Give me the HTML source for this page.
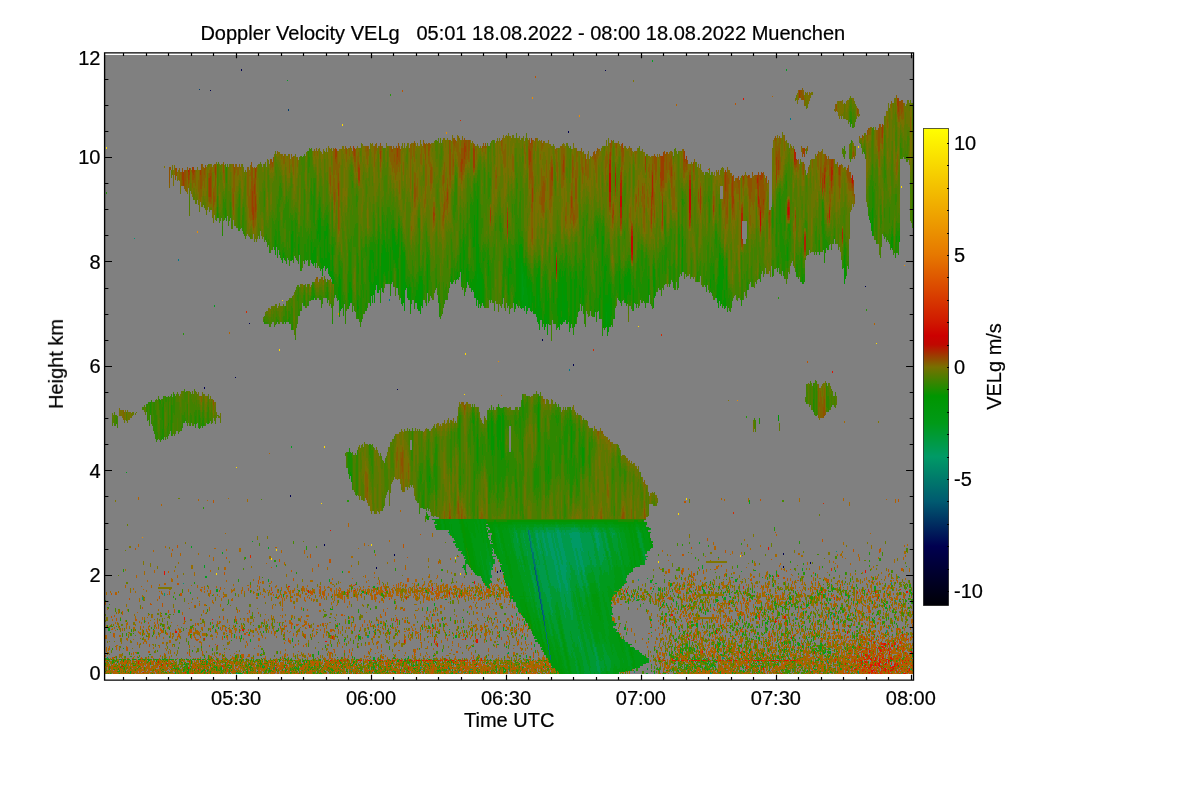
<!DOCTYPE html>
<html><head><meta charset="utf-8"><title>Doppler Velocity VELg</title>
<style>
html,body{margin:0;padding:0;background:#fff}
body{width:1200px;height:800px;overflow:hidden}
svg{display:block;font-family:"Liberation Sans",sans-serif;fill:#000}
</style></head><body>
<svg width="1200" height="800" viewBox="0 0 1200 800">
<rect width="1200" height="800" fill="#fff"/>
<rect x="105" y="55" width="808" height="619" fill="#808080"/>
<g shape-rendering="crispEdges">
<g fill="none" stroke-width="1">
<path stroke="#005a70" transform="translate(.5)" d="M534 567v3M535 570v5M536 575v6M537 581v5M538 586v6M539 592v7M540 599v5M541 604v6M542 610v5M543 615v6M544 621v5"/>
<path stroke="#00746c" transform="translate(.5)" d="M528 530v5M529 535v6M530 541v7M531 548v4M532 552v7M533 552v12M534 559v8M535 564v6M536 570v5M537 575v6M538 581v5M539 586v6M540 592v7M541 599v5M542 604v6M543 610v5M544 615v5M545 626v6M546 632v7M547 639v5M548 644v6M549 650v5M550 655v5"/>
<path stroke="#008769" transform="translate(.5)" d="M529 530v5M530 535v6M531 541v7M532 548v4"/>
<path stroke="#009a66" transform="translate(.5)" d="M536 533v5M537 533v10M538 538v2M538 543v5M539 548v1M540 551v3M542 532v6M543 533v10M544 538v10M545 543v8M546 548v8M547 532v6M547 551v5M548 532v11M549 533v15M550 533v18M551 538v18M552 543v16M553 533v5M553 548v12M554 538v5M554 551v14M555 543v5M555 556v14M556 532v1M556 548v3M556 560v4M556 565v10M557 530v8M557 548v8M557 565v15M558 530v13M558 551v9M558 570v2M558 575v8M559 532v16M559 556v9M559 580v8M560 533v18M560 560v10M560 583v9M561 538v18M561 564v11M562 543v17M562 565v15M563 548v35M564 533v2M564 551v33M565 556v32M566 560v2M566 565v2M566 570v2M566 580v11M567 583v8M567 592v2M569 533v2M570 533v5M571 533v5M571 540v3M572 532v16M573 532v19M574 532v24M575 532v16M575 551v9M576 532v16M576 556v9M577 532v19M577 560v10M578 532v24M578 565v2M578 570v5M579 533v27M580 538v10M580 551v14M581 543v8M581 556v11M582 548v3M582 560v10M583 551v1M583 565v10M584 570v2M584 575v1M595 532v6M596 532v11M597 533v15M598 533v2M598 538v13M599 543v3"/>
<path stroke="#009a4c" transform="translate(.5)" d="M515 532v1M516 533v5M517 538v5M523 533v5M524 538v2M524 541v2M525 544v2M526 548v1M527 532v1M527 551v5M528 535v3M529 541v2M530 533v2M530 565v5M531 538v3M531 552v2M531 570v5M532 538v2M532 543v5M532 575v5M533 544v8M533 575v8M534 532v1M534 548v11M534 580v8M535 530v8M535 551v8M535 560v2M535 583v3M535 588v4M536 530v3M536 538v5M536 546v2M536 556v4M536 565v3M537 530v3M537 543v8M537 560v8M538 533v5M538 540v3M538 548v8M538 560v4M538 565v5M539 532v16M539 549v11M539 565v10M540 530v10M540 543v8M540 554v26M541 530v13M541 548v35M542 530v2M542 538v10M542 551v3M542 556v32M543 530v3M543 543v8M543 560v4M543 565v27M544 533v5M544 548v8M544 565v27M545 532v11M545 551v9M545 570v24M546 528v20M546 556v9M546 575v22M547 528v4M547 538v13M547 556v14M547 580v22M548 530v2M548 543v32M548 583v3M548 588v14M549 530v3M549 548v32M549 588v19M550 530v3M550 551v32M550 594v2M550 597v13M551 530v8M551 556v30M551 597v2M551 607v8M552 530v13M552 559v27M552 610v3M552 615v1M553 530v3M553 538v10M553 560v26M554 532v6M554 543v8M554 565v23M555 528v15M555 548v8M555 570v19M556 528v4M556 533v15M556 551v9M556 564v1M556 575v17M557 528v2M557 538v10M557 556v9M557 580v8M558 528v2M558 543v8M558 560v10M558 572v3M558 583v8M559 530v2M559 548v8M559 565v15M559 588v4M560 530v3M560 551v9M560 570v13M560 592v5M561 532v6M561 556v8M561 575v27M562 530v13M562 560v5M562 580v27M563 530v18M563 583v27M564 530v3M564 535v16M564 584v10M564 597v18M565 532v24M565 588v9M565 602v2M565 610v2M565 615v3M566 530v30M566 562v3M566 567v3M566 572v8M566 591v11M567 530v53M567 591v1M567 594v13M568 530v78M569 530v3M569 535v27M569 565v13M569 580v30M570 530v3M570 538v27M570 570v3M570 575v5M570 588v3M570 592v23M571 528v5M571 538v2M571 543v22M571 602v18M572 528v4M572 548v20M572 607v1M572 610v10M573 528v4M573 551v19M574 527v5M574 556v14M575 528v4M575 548v3M575 560v15M576 528v4M576 548v8M576 565v10M577 528v4M577 551v9M577 570v10M578 530v2M578 556v9M578 567v3M578 575v8M578 636v3M579 530v3M579 560v26M579 639v3M580 532v6M580 548v3M580 565v7M580 575v13M580 642v5M581 532v11M581 551v5M581 567v3M581 580v9M581 647v3M582 533v15M582 551v9M582 570v5M582 583v3M582 588v3M583 533v18M583 552v13M583 575v5M584 532v38M584 572v3M584 576v7M585 532v35M585 575v8M586 533v34M586 580v8M587 532v33M587 583v3M588 532v19M588 556v9M589 532v24M589 560v5M590 533v24M590 559v1M591 536v24M592 540v25M593 532v3M593 543v22M593 644v3M594 528v10M594 541v2M594 551v3M594 556v11M594 647v5M595 528v4M595 538v5M595 556v1M595 559v8M595 647v9M596 530v2M596 543v5M596 564v1M596 652v8M596 661v5M597 530v3M597 548v3M597 656v15M598 532v1M598 535v3M598 551v5M598 660v12M599 532v11M599 546v14M599 666v8M600 533v32M601 538v27M602 541v21M603 532v1M603 548v6M603 556v4M604 532v6M604 551v6M605 533v10M605 556v1M605 559v1M606 538v10M607 543v8M608 548v3M609 551v5M610 556v1M611 532v1M612 533v5M613 533v2M614 533v2"/>
<path stroke="#009a32" transform="translate(.5)" d="M489 562v3M489 570v5M490 562v16M491 565v5M491 575v3M491 581v2M512 535v1M513 532v1M513 538v5M514 528v20M515 530v2M515 533v18M516 530v3M516 538v18M517 533v5M517 543v16M518 538v21M519 543v3M519 548v8M519 560v2M520 533v5M520 551v8M520 565v2M521 530v13M521 556v6M522 530v18M522 560v4M522 565v2M523 530v3M523 538v13M523 565v5M524 530v8M524 540v1M524 543v13M524 570v2M525 532v12M525 546v10M525 575v1M526 528v20M526 549v7M527 527v5M527 533v18M527 556v4M528 528v2M528 538v27M528 583v3M529 543v27M529 588v4M530 530v3M530 548v17M530 570v5M530 592v4M531 530v8M531 554v16M531 575v5M531 597v2M532 532v6M532 540v3M532 559v16M532 580v3M533 528v16M533 564v11M533 583v5M534 527v5M534 533v15M534 570v10M534 588v4M534 594v2M535 527v3M535 538v13M535 559v1M535 562v2M535 575v8M535 586v2M535 592v10M536 527v3M536 543v3M536 548v8M536 560v5M536 568v2M536 581v21M536 605v2M537 528v2M537 551v9M537 568v7M537 586v24M538 528v5M538 556v4M538 564v1M538 570v11M538 592v16M538 610v5M539 527v5M539 560v5M539 575v11M539 599v9M539 615v3M540 527v3M540 540v3M540 580v12M540 604v6M540 620v1M541 527v3M541 543v5M541 583v16M541 610v2M542 528v2M542 548v3M542 554v2M542 588v16M543 551v9M543 564v1M543 592v18M544 527v6M544 556v9M544 592v21M545 527v5M545 560v10M545 594v22M546 527v1M546 565v10M546 597v21M547 527v1M547 570v10M547 602v18M548 527v3M548 575v8M548 586v2M548 602v11M548 615v9M549 527v3M549 580v8M549 607v5M549 620v9M550 527v3M550 583v11M550 596v1M550 610v5M550 624v10M551 527v3M551 586v11M551 599v8M551 615v5M551 629v7M552 527v3M552 586v24M552 613v2M552 616v7M552 634v2M553 527v3M553 586v38M554 527v5M554 588v41M555 527v1M555 589v16M555 610v3M555 615v16M556 525v3M556 592v10M556 620v14M557 525v3M557 588v14M557 624v10M558 527v1M558 591v16M558 629v10M559 527v3M559 592v18M559 634v8M560 528v2M560 597v18M560 639v8M561 527v5M561 602v18M561 642v5M562 527v3M562 607v17M562 648v2M563 527v3M563 610v19M564 528v2M564 594v3M564 615v19M565 527v5M565 597v5M565 604v6M565 612v3M565 618v21M566 527v3M566 602v40M567 527v3M567 607v40M568 527v3M568 608v44M569 527v3M569 562v3M569 578v2M569 610v45M570 527v3M570 565v5M570 573v2M570 580v8M570 591v1M570 615v16M570 634v2M570 637v19M571 527v1M571 565v37M571 620v14M571 640v10M571 652v1M571 656v2M572 527v1M572 568v23M572 592v15M572 608v2M572 620v19M572 642v2M572 647v5M573 527v1M573 570v22M573 602v40M573 648v2M573 652v4M574 525v2M574 570v24M574 607v35M574 652v6M575 527v1M575 575v11M575 588v3M575 592v5M575 610v37M575 656v4M575 661v2M575 664v2M576 527v1M576 575v9M576 597v5M576 615v32M576 660v11M577 527v1M577 580v8M577 602v5M577 621v23M577 666v8M578 527v3M578 583v5M578 607v3M578 624v2M578 629v7M578 639v8M578 671v3M579 527v3M579 586v6M579 612v3M579 629v10M579 642v10M580 528v4M580 572v3M580 588v9M580 612v3M580 616v4M580 634v8M580 647v6M581 530v2M581 570v10M581 589v8M581 616v4M581 621v3M581 639v8M581 650v6M582 528v5M582 575v8M582 586v2M582 591v11M582 620v9M582 642v18M583 527v6M583 580v6M583 588v19M583 624v7M583 632v2M583 647v19M584 527v5M584 583v3M584 592v13M584 607v1M584 629v10M584 652v19M584 672v2M585 528v4M585 567v8M585 583v5M585 602v2M585 632v10M585 656v18M586 528v5M586 567v13M586 588v4M586 634v13M586 660v14M587 528v4M587 565v10M587 580v3M587 586v8M587 639v13M587 664v10M588 528v4M588 551v5M588 565v8M588 583v3M588 588v9M588 623v1M588 639v17M588 666v8M589 530v2M589 556v4M589 565v8M589 592v2M589 624v2M589 628v1M589 642v18M589 671v3M590 530v3M590 557v2M590 560v13M590 629v5M590 647v19M590 668v3M591 528v8M591 560v8M591 570v2M591 632v7M591 650v24M592 527v13M592 565v5M592 634v13M592 652v22M593 527v5M593 535v8M593 565v7M593 639v5M593 647v5M593 655v19M594 527v1M594 538v3M594 543v8M594 554v2M594 567v8M594 642v5M594 652v20M595 527v1M595 543v13M595 557v2M595 567v13M595 656v18M596 527v3M596 548v16M596 565v18M596 647v5M596 660v1M596 666v8M597 528v2M597 551v32M597 652v4M597 671v3M598 528v4M598 556v32M598 656v4M598 672v2M599 530v2M599 560v7M599 570v5M599 583v3M599 588v3M599 660v6M600 530v3M600 565v2M600 661v13M601 532v6M601 565v5M601 658v2M601 661v7M601 671v1M602 528v2M602 532v9M602 562v13M602 644v3M602 660v11M603 528v4M603 533v15M603 554v2M603 560v13M603 644v8M603 655v1M603 660v11M604 530v2M604 538v13M604 557v13M604 647v13M604 666v2M605 530v3M605 543v6M605 551v5M605 557v2M605 560v12M605 650v14M606 533v5M606 548v3M606 556v16M606 652v14M607 538v5M607 560v12M607 655v16M608 543v5M608 551v6M608 559v1M608 565v10M608 656v15M609 528v2M609 532v1M609 548v3M609 556v4M609 658v13M610 528v8M610 551v5M610 557v8M610 660v8M611 528v4M611 533v5M611 556v1M611 559v11M612 528v5M612 538v5M612 565v2M613 530v3M613 535v13M614 530v3M614 535v16M615 532v19M616 533v21M617 538v14M618 532v1M618 548v8M619 533v5M619 551v9M620 538v5M620 556v4M621 543v5M621 560v5M622 548v1M637 532v1M638 530v8M639 532v11M640 533v15M641 538v10M642 543v8M643 548v8M644 551v9M645 556v4"/>
<path stroke="#009a1d" transform="translate(.5)" d="M480 551v5M481 556v4M482 560v5M483 565v5M484 570v5M485 570v10M486 543v5M486 549v2M486 559v6M486 575v6M487 548v22M487 580v3M488 551v24M488 583v5M489 556v6M489 565v5M489 575v5M489 588v1M490 540v1M490 559v3M490 580v3M491 546v2M491 549v2M491 560v5M492 549v2M492 552v2M492 565v2M492 568v2M493 556v1M493 559v1M494 556v1M494 559v5M495 556v1M496 532v1M497 530v3M498 533v5M499 538v5M500 543v5M501 548v3M502 551v3M508 544v2M509 528v5M510 530v8M510 551v3M511 530v13M512 528v7M512 536v12M513 527v5M513 533v5M513 543v8M514 525v3M514 548v6M515 527v3M515 551v5M516 556v4M517 528v5M517 559v5M518 528v10M518 559v11M519 528v15M519 546v2M519 556v4M519 562v10M520 527v6M520 538v13M520 559v6M520 567v8M521 525v5M521 543v13M521 562v18M522 527v3M522 548v6M522 556v4M522 564v1M522 567v16M523 527v3M523 551v5M523 560v5M523 570v16M524 527v3M524 556v4M524 565v5M524 572v19M525 527v5M525 556v8M525 567v8M525 576v16M526 525v3M526 556v40M526 597v2M527 525v2M527 560v36M527 597v5M528 525v3M528 565v18M528 586v10M528 597v5M529 527v3M529 570v18M529 592v7M530 527v3M530 575v17M530 596v6M531 527v3M531 580v17M531 599v8M532 527v5M532 583v13M532 597v11M533 527v1M533 588v11M533 602v10M534 524v3M534 592v2M534 596v6M534 610v3M535 524v3M535 602v5M536 525v2M536 602v3M536 607v3M537 525v3M537 610v5M538 525v3M538 608v2M538 615v3M539 525v2M539 608v7M539 618v3M540 524v3M540 610v10M540 621v3M541 524v3M541 612v17M542 525v3M542 615v6M542 624v10M543 527v3M543 621v2M543 629v2M543 634v5M544 525v2M544 613v2M544 620v1M544 639v3M545 524v3M545 616v10M545 642v2M546 524v3M546 618v11M547 524v3M547 620v14M548 525v2M548 613v2M548 624v12M549 525v2M549 612v8M549 629v7M549 637v2M550 525v2M550 615v9M550 634v5M551 524v3M551 620v9M551 636v6M552 525v2M552 623v5M552 629v5M552 636v8M553 525v2M553 624v5M553 634v2M553 639v8M554 525v2M554 629v5M554 642v8M555 524v3M555 605v5M555 613v2M555 631v8M555 648v2M556 524v1M556 602v18M556 634v5M557 524v1M557 602v22M557 634v8M558 524v3M558 607v11M558 620v1M558 624v5M558 639v6M559 525v2M559 610v6M559 629v5M559 642v5M560 525v3M560 615v5M560 634v5M560 647v5M561 525v2M561 620v4M561 639v3M561 647v8M562 524v3M562 624v5M562 642v6M562 650v6M563 525v2M563 629v5M563 648v2M563 652v8M564 525v3M564 634v5M564 656v10M565 525v2M565 639v3M565 660v8M566 524v3M566 642v5M566 666v3M567 524v3M567 647v5M567 671v1M568 524v3M568 652v4M569 524v3M569 655v5M570 524v3M570 631v3M570 636v1M570 656v10M571 524v3M571 634v6M571 650v2M571 653v3M571 658v13M572 524v3M572 591v1M572 639v3M572 644v3M572 652v22M573 524v3M573 592v10M573 642v6M573 650v2M573 656v18M574 524v1M574 594v13M574 642v10M574 658v16M575 524v3M575 586v2M575 591v1M575 597v13M575 647v9M575 660v1M575 663v1M575 666v8M576 524v3M576 584v13M576 602v13M576 647v13M576 671v3M577 524v3M577 588v14M577 607v14M577 644v14M577 660v6M578 525v2M578 588v19M578 610v5M578 616v8M578 626v3M578 647v13M578 666v5M579 525v2M579 592v5M579 602v10M579 615v5M579 621v8M579 652v11M579 671v3M580 527v1M580 597v5M580 607v5M580 615v1M580 620v14M580 653v13M581 527v3M581 597v10M581 610v6M581 620v1M581 624v15M581 656v18M582 527v1M582 602v8M582 613v7M582 629v13M582 660v14M583 525v2M583 586v2M583 607v8M583 616v8M583 631v1M583 634v13M583 666v8M584 525v2M584 586v6M584 605v2M584 608v7M584 616v13M584 639v13M584 671v1M585 527v1M585 588v14M585 604v28M585 642v14M586 527v1M586 592v5M586 602v32M586 647v13M587 525v3M587 575v5M587 594v3M587 607v32M587 652v12M588 527v1M588 573v10M588 586v2M588 597v5M588 610v13M588 624v15M588 656v10M589 527v3M589 573v19M589 594v13M589 616v8M589 626v2M589 629v13M589 660v11M590 527v3M590 573v10M590 592v18M590 621v8M590 634v13M590 666v2M590 671v3M591 527v1M591 568v2M591 572v11M591 602v13M591 624v2M591 628v4M591 639v11M592 525v2M592 570v13M592 607v1M592 629v5M592 647v5M593 525v2M593 572v11M593 634v5M593 652v3M594 524v3M594 575v6M594 639v3M594 672v2M595 524v3M595 580v3M595 642v5M596 524v3M596 583v5M596 644v3M597 525v3M597 583v6M597 644v8M598 527v1M598 588v4M598 632v2M598 642v14M599 527v3M599 567v3M599 575v8M599 586v2M599 591v6M599 632v7M599 644v16M600 527v3M600 567v35M600 632v29M601 527v5M601 570v40M601 634v24M601 660v1M601 668v3M601 672v2M602 527v1M602 530v2M602 575v16M602 592v2M602 597v18M602 639v5M602 647v13M602 671v3M603 527v1M603 573v19M603 602v18M603 623v1M603 639v5M603 652v3M603 656v4M603 671v3M604 527v3M604 570v27M604 607v22M604 642v5M604 660v6M604 668v6M605 528v2M605 549v2M605 572v30M605 610v24M605 636v3M605 642v8M605 664v10M606 530v3M606 551v5M606 572v30M606 616v26M606 644v8M606 666v5M607 528v10M607 551v9M607 572v14M607 588v3M607 592v15M607 621v34M608 527v16M608 557v2M608 560v5M608 575v11M608 597v13M608 624v2M608 629v7M608 639v17M608 671v3M609 527v1M609 530v2M609 533v15M609 560v26M609 602v13M609 642v16M609 671v3M610 525v3M610 536v15M610 565v23M610 607v13M610 647v13M610 668v6M611 527v1M611 538v18M611 557v2M611 570v19M611 610v5M611 616v8M611 652v22M612 527v1M612 543v22M612 567v25M612 621v3M612 644v3M612 650v2M612 655v19M613 527v3M613 548v46M613 621v5M613 628v1M613 644v8M613 653v15M614 527v3M614 551v14M614 575v3M614 580v3M614 588v3M614 592v2M614 624v2M614 629v2M614 647v17M615 528v4M615 551v16M615 592v2M615 650v16M616 528v5M616 554v6M616 564v1M616 652v14M617 528v10M617 552v13M617 656v13M618 528v4M618 533v15M618 556v11M618 658v11M619 530v3M619 538v13M619 560v7M619 660v8M620 532v6M620 543v13M620 560v7M621 532v11M621 548v3M621 556v4M621 565v5M622 530v18M622 549v7M622 560v15M622 658v2M623 532v28M623 565v15M623 660v3M624 533v32M624 570v13M624 640v2M625 538v27M625 575v8M625 642v5M625 650v2M626 543v24M626 581v2M626 647v9M627 548v19M627 647v13M628 556v9M628 652v14M629 560v2M629 565v2M629 656v10M630 660v11M631 661v2M631 666v3M636 527v3M636 532v1M637 527v5M637 533v5M638 528v2M638 538v5M639 530v2M639 543v5M640 532v1M641 533v5M641 548v3M642 538v5M642 551v5M643 543v5M643 556v4M644 548v3M644 560v5M645 551v3M646 556v1M646 559v1M648 658v2"/>
<path stroke="#009912" transform="translate(.5)" d="M440 519v1M441 519v5M442 520v10M443 524v6M449 519v1M449 522v2M450 519v14M451 519v5M451 530v6M452 519v11M452 533v5M453 519v14M453 541v2M454 519v19M455 519v24M456 519v29M457 519v21M457 543v5M458 520v23M458 549v2M459 524v24M460 530v21M461 533v18M461 552v2M462 538v16M462 567v1M463 543v13M464 551v5M464 557v2M464 565v5M465 556v3M465 560v13M466 560v2M466 572v3M470 532v1M471 533v5M472 533v10M473 536v12M474 522v2M474 538v13M475 524v9M475 538v18M476 519v1M476 527v33M477 519v5M477 530v35M478 520v10M478 533v34M479 524v38M479 565v2M480 519v1M480 530v2M480 533v18M480 556v9M481 519v5M481 533v2M481 538v18M481 560v10M482 519v11M482 538v22M482 565v10M483 520v2M483 524v14M483 543v22M483 570v10M484 530v40M484 575v8M485 519v1M485 522v2M485 533v37M485 580v6M486 520v2M486 525v2M486 528v2M486 538v5M486 548v1M486 551v8M486 565v10M486 581v5M487 528v2M487 532v1M487 543v5M487 570v10M487 583v5M488 532v1M488 535v1M488 540v3M488 548v3M488 575v8M489 535v1M489 540v16M489 580v4M489 586v2M490 544v15M491 548v1M491 551v9M492 556v9M493 560v4M495 527v6M496 527v5M496 533v7M496 541v2M497 528v2M497 533v15M498 530v3M498 538v13M499 533v5M499 543v13M500 538v5M500 548v12M501 543v5M501 551v13M502 530v3M502 544v7M502 554v16M503 530v8M503 548v1M503 551v19M504 527v16M504 551v24M505 528v20M505 557v2M505 560v20M506 530v21M506 565v7M506 573v10M507 528v28M507 565v21M508 525v19M508 546v10M508 570v21M509 525v3M509 533v27M509 575v11M509 588v4M510 525v5M510 538v13M510 554v10M510 578v8M510 592v4M510 597v2M511 525v5M511 543v27M511 580v8M511 597v2M512 525v3M512 548v27M512 578v14M513 524v3M513 551v46M514 524v1M514 554v48M515 524v3M515 556v46M516 525v5M516 560v47M517 524v4M517 564v44M518 524v4M518 570v42M519 524v4M519 572v24M519 597v16M520 524v3M520 575v21M520 597v2M520 607v6M521 524v1M521 580v16M521 597v2M521 610v3M522 274v26M522 524v3M522 554v2M522 583v13M522 597v2M523 287v8M523 524v3M523 556v4M523 586v6M523 597v2M524 524v3M524 560v5M524 591v5M525 524v3M525 564v3M525 592v10M526 524v1M526 596v1M526 599v3M527 524v1M527 596v1M527 602v5M528 524v1M528 596v1M528 602v8M529 524v3M529 599v14M530 524v3M530 602v14M531 524v3M531 607v13M532 524v3M532 596v1M532 608v16M533 524v3M533 599v3M533 612v6M533 620v3M533 624v5M534 602v8M534 613v8M534 624v2M534 629v2M535 607v17M536 524v1M536 610v8M536 620v9M537 524v1M537 615v3M537 620v1M537 624v7M538 524v1M538 618v2M538 629v3M539 524v1M539 621v3M540 624v5M541 629v5M542 524v1M542 621v3M542 634v5M543 524v3M543 623v6M543 631v3M543 639v3M544 524v1M544 626v13M545 632v2M545 639v3M545 644v3M546 629v3M546 642v10M547 634v5M547 647v9M548 524v1M548 636v6M548 652v3M548 656v2M549 524v1M549 636v1M549 639v5M549 656v2M550 524v1M550 639v8M551 642v5M551 648v2M552 524v1M552 628v1M552 644v6M553 524v1M553 629v5M553 636v3M553 647v5M554 524v1M554 634v8M554 650v5M555 522v2M555 639v9M555 650v8M556 522v2M556 639v11M556 652v8M557 642v5M557 648v2M557 656v7M558 618v2M558 621v3M558 645v7M559 524v1M559 616v13M559 647v8M560 524v1M560 620v14M560 652v4M561 524v1M561 624v7M561 634v5M561 655v5M562 629v5M562 639v3M562 656v7M562 664v2M563 524v1M563 634v5M563 642v2M563 647v1M563 650v2M563 660v8M564 524v1M564 639v3M564 652v4M564 666v5M565 524v1M565 642v5M565 656v4M565 668v6M566 647v5M566 660v6M566 669v5M567 652v4M567 666v5M567 672v2M568 656v4M568 671v3M569 660v6M570 666v5M571 671v3M572 522v2M573 522v2M574 522v2M577 658v2M578 524v1M578 615v1M578 660v6M579 524v1M579 597v5M579 620v1M579 663v8M580 524v3M580 602v5M580 666v8M581 524v3M581 607v3M582 524v3M582 610v3M583 524v1M583 615v1M584 524v1M584 615v1M585 524v3M586 524v3M586 597v5M587 524v1M587 597v10M588 524v3M588 602v8M589 524v3M589 607v9M590 524v3M590 583v9M590 610v11M591 524v3M591 583v19M591 615v9M591 626v2M592 524v1M592 583v11M592 597v3M592 602v5M592 608v21M593 524v1M593 583v11M593 602v2M593 607v27M594 581v13M594 607v32M595 583v8M595 592v2M595 610v32M596 588v4M596 613v31M597 524v1M597 589v5M597 596v1M597 613v2M597 616v28M598 524v3M598 592v5M598 599v1M598 616v16M598 634v8M599 524v3M599 597v10M599 620v12M599 639v5M600 524v3M600 602v8M600 612v3M600 621v11M601 524v3M601 610v24M602 524v3M602 591v1M602 594v3M602 615v24M603 524v3M603 592v10M603 620v3M603 624v15M604 524v3M604 597v10M604 629v13M605 525v3M605 602v8M605 634v2M605 639v3M606 525v5M606 602v14M606 642v2M606 671v3M607 525v3M607 586v2M607 591v1M607 607v14M607 671v3M608 524v3M608 586v11M608 610v14M608 626v3M608 636v3M609 524v3M609 586v16M609 615v27M610 524v1M610 588v19M610 620v27M611 524v3M611 589v11M611 602v2M611 607v3M611 624v28M612 524v3M612 592v5M612 607v1M612 613v2M612 624v20M612 647v3M612 652v3M613 524v3M613 629v15M613 652v1M613 668v6M614 525v2M614 565v10M614 578v2M614 583v5M614 623v1M614 628v1M614 631v16M614 664v10M615 525v3M615 567v24M615 624v2M615 629v21M615 666v6M616 525v3M616 560v4M616 565v26M616 592v2M616 629v2M616 632v20M616 666v8M617 525v3M617 565v26M617 634v22M617 669v5M618 525v3M618 567v24M618 639v19M618 669v5M619 527v3M619 567v22M619 642v18M619 668v4M620 527v5M620 567v22M620 647v25M621 527v5M621 551v5M621 570v18M621 650v22M622 527v3M622 556v4M622 575v11M622 639v3M622 652v6M622 660v8M622 671v1M623 527v5M623 560v5M623 580v6M623 639v8M623 650v2M623 653v7M623 663v8M624 530v3M624 565v5M624 583v1M624 642v29M625 530v8M625 565v10M625 647v3M625 652v17M626 527v16M626 567v11M626 642v5M626 656v12M627 528v20M627 567v8M627 642v5M627 660v11M628 530v26M628 565v10M628 647v5M628 666v5M629 533v27M629 562v3M629 567v6M629 652v4M629 666v5M630 538v19M630 559v14M630 656v4M631 543v17M631 570v2M631 658v3M631 663v3M631 669v2M632 530v3M632 548v17M632 660v4M632 666v3M633 533v10M633 546v2M633 556v12M633 647v5M633 655v1M634 538v13M634 565v2M634 648v12M635 527v3M635 543v17M635 650v16M636 524v3M636 530v2M636 548v17M636 650v18M637 524v3M637 551v16M637 650v18M638 525v3M638 556v11M638 650v18M639 527v3M639 560v7M639 652v16M640 530v2M640 548v3M640 653v13M641 530v3M641 551v9M641 653v13M642 528v2M642 533v5M642 556v9M642 655v11M643 527v6M643 538v5M643 560v5M643 655v9M644 527v11M644 540v8M644 656v5M645 530v21M645 656v8M646 530v24M646 658v5M647 533v18M647 556v1M647 658v5M648 538v13M648 660v3M649 543v8M650 548v1"/>
<path stroke="#00980a" transform="translate(.5)" d="M432 519v1M433 519v1M434 519v1M434 522v2M435 519v5M435 525v2M436 520v4M437 524v1M439 519v1M440 520v4M441 524v6M442 519v1M443 520v4M444 519v1M444 524v6M445 519v5M446 519v11M447 519v11M448 519v11M448 532v1M449 520v2M449 524v9M450 533v2M451 524v6M452 530v3M453 533v5M454 538v2M454 541v2M455 544v2M457 540v3M458 519v1M458 543v5M459 520v4M459 548v3M460 524v6M461 530v3M462 533v5M463 519v1M463 538v3M463 565v3M464 519v5M464 548v3M465 519v8M465 551v5M466 519v3M466 524v3M466 556v4M466 562v2M467 519v5M467 560v4M468 519v11M469 519v14M470 519v13M470 533v5M471 519v14M471 538v5M472 519v14M472 543v5M473 519v17M473 548v8M474 519v3M474 524v14M474 551v9M474 572v1M475 519v5M475 533v5M475 556v9M475 573v2M476 520v7M476 560v15M477 274v5M477 524v6M477 565v11M478 519v1M478 530v3M478 567v9M479 519v5M479 562v3M479 567v9M480 520v10M480 532v1M480 565v11M481 524v9M481 535v3M481 570v8M482 530v8M482 575v6M483 519v1M483 522v2M483 538v5M483 580v3M484 519v11M485 520v2M485 524v9M486 530v8M487 533v10M488 525v2M488 530v2M488 538v2M488 543v5M489 527v1M489 530v3M490 530v3M491 535v5M491 541v2M491 544v2M492 538v5M492 544v4M493 525v5M493 543v6M494 524v9M494 544v10M495 524v3M495 533v10M495 546v8M496 524v3M496 540v1M496 543v13M497 524v4M497 548v11M498 527v3M498 551v8M499 527v6M499 556v6M500 525v13M500 560v4M500 565v2M501 524v19M501 565v5M502 525v5M502 533v11M502 570v2M503 524v6M503 538v10M503 549v2M503 570v2M503 573v2M504 524v3M504 543v8M504 575v5M505 524v4M505 548v9M505 559v1M505 580v3M506 524v6M506 551v14M506 572v1M506 583v3M507 524v4M507 556v9M508 524v1M508 556v14M509 524v1M509 560v15M509 586v2M510 524v1M510 564v14M510 586v6M511 524v1M511 570v10M511 588v8M512 522v3M512 575v3M512 592v4M512 597v2M513 522v2M513 597v5M514 522v2M515 522v2M516 522v3M517 522v2M518 522v2M519 522v2M519 596v1M520 522v2M520 596v1M520 599v8M521 263v38M521 522v2M521 596v1M521 599v11M521 613v2M522 266v8M522 300v8M522 522v2M522 596v1M522 599v17M523 272v15M523 295v13M523 522v2M523 592v5M523 599v14M523 615v3M524 279v32M524 522v2M524 596v17M525 276v30M525 522v2M525 602v2M525 607v9M526 288v26M526 522v2M526 602v5M526 610v2M526 615v3M527 295v16M527 522v2M527 607v3M528 522v2M528 610v3M529 522v2M529 613v2M530 292v14M530 522v2M530 616v4M531 522v2M531 620v4M532 522v2M532 624v5M533 522v2M533 618v2M533 623v1M533 629v5M534 522v2M534 621v3M534 626v3M534 631v5M534 637v2M535 522v2M535 624v15M535 640v2M536 522v2M536 618v2M536 629v10M536 640v2M537 522v2M537 618v2M537 621v3M537 631v11M538 295v11M538 522v2M538 620v9M538 632v7M539 522v2M539 624v18M540 522v2M540 629v2M540 634v2M540 637v7M541 522v2M541 640v7M542 522v2M542 647v3M543 522v2M544 522v2M544 642v5M545 522v2M545 634v5M545 647v5M546 522v2M546 639v3M546 652v4M547 522v2M547 644v3M547 656v2M548 522v2M548 642v2M548 650v2M548 655v1M548 658v2M549 522v2M549 644v6M549 655v1M549 658v5M550 522v2M550 647v8M550 660v3M551 522v2M551 647v1M551 650v16M552 522v2M552 650v18M553 522v2M553 652v16M554 522v2M554 655v13M555 658v10M556 650v2M556 660v9M557 522v2M557 647v1M557 650v6M557 663v8M558 522v2M558 652v20M559 522v2M559 655v17M560 522v2M560 656v13M560 671v1M561 522v2M561 631v3M561 660v9M562 522v2M562 634v5M562 663v1M562 666v6M563 319v3M563 522v2M563 639v3M563 644v3M563 668v6M564 522v2M564 642v10M564 671v3M565 522v2M565 647v9M566 522v2M566 652v8M567 522v2M567 656v10M568 522v2M568 660v11M569 522v2M569 666v8M570 522v2M570 671v3M571 522v2M575 522v2M576 522v2M577 522v2M578 522v2M579 522v2M580 522v2M581 522v2M582 522v2M583 522v2M584 522v2M585 522v2M586 522v2M587 522v2M588 522v2M589 522v2M590 522v2M591 522v2M592 522v2M592 594v3M592 600v2M593 522v2M593 594v8M593 604v3M594 522v2M594 594v13M595 522v2M595 591v1M595 594v16M596 522v2M596 592v21M597 522v2M597 594v2M597 597v16M597 615v1M598 522v2M598 597v2M598 600v16M599 522v2M599 607v13M600 522v2M600 610v2M600 615v6M601 522v2M602 522v2M603 522v2M605 524v1M606 312v15M606 524v1M607 522v3M608 522v2M609 522v2M610 522v2M611 522v2M612 522v2M614 524v1M615 524v1M615 623v1M615 672v2M616 524v1M616 623v1M617 524v1M617 632v2M618 524v1M618 632v7M619 524v3M619 634v8M620 524v3M620 637v10M621 524v3M621 639v11M622 524v3M622 642v10M622 668v3M623 524v3M623 647v3M623 652v1M623 671v1M624 524v6M624 671v1M625 525v5M625 669v2M626 524v3M626 668v3M627 524v4M628 527v3M628 644v3M629 530v3M629 647v5M630 527v11M630 557v2M630 644v1M630 652v4M631 524v19M631 560v10M631 644v1M631 647v5M631 656v2M632 524v6M632 533v15M632 565v7M632 647v9M632 658v2M632 664v2M633 527v6M633 543v3M633 548v8M633 652v3M633 656v13M634 525v13M634 551v14M634 567v1M634 660v9M635 522v5M635 530v13M635 560v7M635 666v2M636 522v2M636 533v15M636 565v2M637 538v13M638 524v1M638 543v13M639 524v3M639 548v12M640 524v6M640 551v14M641 525v5M641 560v5M642 524v4M642 530v3M643 524v3M643 533v5M644 524v3M644 538v2M644 661v3M645 524v6M646 527v3M647 530v3M648 533v5M649 528v2M649 538v5M650 532v1M650 543v5M652 541v2"/>
<path stroke="#009704" transform="translate(.5)" d="M312 263v1M313 260v6M325 269v2M326 268v1M327 266v2M328 266v8M329 263v13M332 271v13M349 295v9M350 295v8M377 279v14M378 280v13M381 274v6M382 255v19M383 250v10M384 250v10M393 236v16M394 242v11M395 252v1M401 288v16M403 261v29M404 260v51M409 292v6M419 287v24M420 282v24M421 282v24M435 527v1M436 519v1M436 525v5M437 520v4M437 525v5M438 519v1M438 524v6M439 520v4M440 524v6M443 519v1M444 520v4M445 524v6M459 519v1M460 520v4M461 524v6M462 519v1M463 520v4M463 541v2M464 524v6M464 543v5M465 527v6M465 535v3M465 548v3M466 522v2M466 527v16M466 551v5M467 276v6M467 524v24M467 556v4M468 530v21M468 560v5M469 533v23M469 565v2M470 538v22M471 543v22M472 548v22M473 287v5M473 556v16M474 293v5M474 560v12M475 295v3M475 565v8M476 282v24M477 234v40M477 279v21M478 264v24M479 274v16M480 276v27M481 279v19M487 525v2M488 524v1M489 524v3M490 524v6M491 525v8M492 524v14M493 522v3M493 530v13M494 522v2M494 533v11M495 522v2M495 543v3M496 522v2M498 524v3M499 522v5M500 522v3M501 522v2M502 522v3M503 436v4M503 522v2M504 522v2M505 522v2M506 522v2M507 522v2M508 522v2M509 522v2M510 522v2M511 522v2M519 263v29M520 250v53M521 252v11M521 301v7M522 258v8M523 268v4M523 613v2M524 271v8M524 613v5M525 268v8M525 604v3M525 616v5M526 276v12M526 607v3M526 612v3M526 618v5M527 287v8M527 610v3M527 615v8M528 287v21M528 613v2M528 620v3M528 624v2M528 628v1M529 285v23M529 615v5M530 285v7M530 306v5M530 620v1M531 288v21M537 282v40M538 277v18M538 306v18M538 639v5M539 303v8M539 642v2M540 316v4M540 631v3M540 636v1M540 644v3M541 317v3M541 634v6M541 648v2M542 639v8M543 642v3M543 647v5M544 648v2M544 652v3M545 316v11M546 317v7M555 668v1M556 669v2M558 300v14M559 295v35M559 672v2M560 319v5M560 669v2M560 672v2M561 669v5M562 284v40M562 672v2M563 295v24M564 303v19M565 290v30M566 295v29M604 522v2M605 304v23M605 522v2M606 303v9M606 522v2M607 304v28M608 303v21M609 293v34M613 522v2M614 522v2M615 522v2M616 522v2M617 522v2M618 522v2M619 522v2M620 522v2M621 522v2M622 522v2M623 522v2M624 522v2M625 284v8M625 522v3M626 522v2M628 524v3M629 524v6M629 644v3M630 522v5M630 647v5M631 522v2M631 652v4M632 656v2M633 522v5M634 522v3M637 522v2M638 522v2M639 522v2M640 522v2M641 522v3M642 522v2M643 522v2M644 522v2M646 524v1M647 527v3M648 527v3M648 532v1M649 532v6M650 538v5M651 541v7M652 544v4M654 295v3M717 295v8M778 415v6M844 271v13"/>
<path stroke="#059500" transform="translate(.5)" d="M275 240v15M279 252v3M282 258v5M283 253v5M291 234v27M292 231v29M298 244v11M311 242v21M312 253v10M313 250v10M313 296v4M314 247v16M315 247v19M317 231v8M318 220v14M319 208v34M320 218v22M320 247v16M321 258v11M322 258v18M323 260v8M324 231v35M325 231v8M325 258v11M326 226v10M326 258v10M327 223v43M328 252v14M329 253v10M330 271v6M331 271v8M332 247v24M333 276v8M338 287v13M339 274v32M340 279v32M341 306v3M348 293v7M349 282v13M349 304v2M350 282v13M350 472v4M351 288v15M351 474v8M357 300v11M358 306v3M369 260v22M370 250v56M371 250v10M371 282v14M372 250v13M372 284v19M373 252v17M373 282v13M374 272v31M375 276v14M376 276v9M377 269v10M378 239v41M381 253v21M381 280v8M382 245v10M382 274v18M383 240v10M383 260v14M384 240v10M384 260v12M385 248v28M386 252v32M387 244v40M388 252v19M390 247v37M391 271v11M392 229v21M393 228v8M393 252v8M394 234v8M394 253v7M395 242v10M395 253v10M396 245v23M397 244v44M398 229v29M398 269v23M401 242v46M402 250v56M403 252v9M403 290v13M404 252v8M405 282v8M406 285v3M407 287v11M408 287v13M409 284v8M409 298v2M410 287v24M415 296v7M416 290v13M417 290v19M418 284v27M419 276v11M420 276v6M420 306v8M421 276v6M422 280v28M427 264v29M427 514v6M428 516v4M429 476v6M437 519v1M438 520v4M439 524v6M451 276v8M452 280v4M456 277v3M457 272v7M459 276v1M460 253v19M460 519v1M461 269v13M461 519v5M462 520v13M463 240v34M463 524v14M464 250v10M464 530v13M465 533v2M465 538v10M466 268v19M466 543v5M467 264v12M467 548v3M468 271v14M468 551v5M469 556v4M470 279v9M470 560v5M471 282v10M471 565v5M472 279v11M473 237v10M473 279v8M473 420v4M474 215v32M474 276v17M475 271v24M476 220v62M477 199v35M477 434v29M478 244v20M478 288v20M479 263v11M479 290v14M480 268v8M480 303v5M481 272v7M481 298v5M482 274v29M483 258v3M483 279v27M486 522v2M487 263v1M487 522v2M488 260v16M488 424v15M488 522v2M489 522v2M490 522v2M491 418v32M491 522v3M492 421v34M492 522v2M493 436v14M494 520v2M495 520v2M497 420v27M497 522v2M498 415v35M498 522v2M499 415v25M500 416v34M501 442v18M502 413v45M503 415v21M503 440v18M507 520v2M508 268v27M508 520v2M509 258v16M509 520v2M510 261v13M510 520v2M511 268v6M511 520v2M512 520v2M513 520v2M514 298v8M514 520v2M515 292v17M515 520v2M516 250v54M516 520v2M517 252v54M517 520v2M518 258v42M518 520v2M519 245v18M519 292v9M519 520v2M520 244v6M520 303v5M520 520v2M521 244v8M521 308v1M521 520v2M522 247v11M522 520v2M523 263v5M523 520v2M524 266v5M524 520v2M525 263v5M525 520v2M526 266v10M526 520v2M527 276v11M527 520v2M527 613v2M528 279v8M528 520v2M528 615v5M528 623v1M529 277v8M529 520v2M529 620v3M529 624v5M530 280v5M530 520v2M530 621v3M531 282v6M531 309v3M531 520v2M531 624v5M532 292v11M532 520v2M532 629v5M533 296v18M533 520v2M533 634v2M534 296v18M534 520v2M535 308v6M535 520v2M536 277v40M536 520v2M537 274v8M537 520v2M538 268v9M538 404v28M538 520v2M539 266v37M539 311v19M539 520v2M540 301v15M540 520v2M541 308v9M541 520v2M542 319v8M542 520v2M543 520v2M543 645v2M544 314v16M544 520v2M544 647v1M544 650v2M545 280v36M545 520v2M545 652v3M546 290v27M546 520v2M546 656v2M547 301v34M547 520v2M548 293v31M548 466v8M548 520v2M549 520v2M550 520v2M551 520v2M552 520v2M553 290v13M553 520v2M554 520v2M555 520v2M556 520v2M557 298v18M557 520v2M558 282v18M558 314v13M558 520v2M559 271v24M559 520v2M560 269v50M560 520v2M561 277v34M561 317v8M561 520v2M562 271v13M562 520v2M563 276v19M563 520v2M564 271v32M564 520v2M565 268v22M565 520v2M566 282v13M566 520v2M567 301v23M567 520v2M568 520v2M569 316v16M569 520v2M570 272v56M570 420v1M570 520v2M571 279v45M571 426v32M571 520v2M572 520v2M573 520v2M574 279v48M574 520v2M575 271v53M575 520v2M576 271v17M576 520v2M577 520v2M578 308v4M578 520v2M579 285v18M579 520v2M580 287v11M580 520v2M581 520v2M582 271v33M582 447v19M582 520v2M583 263v17M583 288v16M583 448v18M583 520v2M584 266v2M584 520v2M585 520v2M586 520v2M587 520v2M588 520v2M589 520v2M590 520v2M591 520v2M592 520v2M593 520v2M594 309v8M594 520v2M595 520v2M596 520v2M597 228v11M597 520v2M598 520v2M599 295v24M599 520v2M600 287v11M600 520v2M601 520v2M602 236v30M602 520v2M603 236v8M603 279v49M603 520v2M604 266v61M604 520v2M605 264v18M605 295v9M605 327v1M605 520v2M606 266v5M606 295v8M606 520v2M607 295v9M607 332v4M607 520v2M608 284v19M608 324v8M608 520v2M609 282v11M609 520v2M610 284v43M610 520v2M611 298v18M611 520v2M612 520v2M613 520v2M614 316v3M614 520v2M615 520v2M616 520v2M617 520v2M619 271v30M620 284v19M624 277v21M625 274v10M625 292v11M626 276v27M627 272v23M627 522v2M628 268v24M628 522v2M629 269v26M629 522v2M630 274v21M632 522v2M633 288v23M634 520v2M635 520v2M636 520v2M637 520v2M642 520v2M645 522v2M646 522v2M648 279v22M653 266v21M653 300v8M654 269v26M682 239v8M682 250v22M710 279v9M713 274v6M716 295v3M717 284v11M718 276v32M719 253v48M720 255v51M721 260v44M722 258v32M723 266v13M723 300v6M724 290v19M725 298v10M726 266v24M727 311v1M787 247v14M802 277v7M819 252v3M844 255v16M845 264v15M869 218v2M870 220v3M871 223v5M872 208v28M891 237v11M892 234v14M896 236v6M899 236v6"/>
<path stroke="#1c8d00" transform="translate(.5)" d="M150 402v11M159 399v3M160 400v4M161 436v4M162 407v13M162 429v10M163 402v38M168 423v3M171 405v31M184 420v3M195 416v12M199 415v14M202 420v8M203 418v8M207 423v1M208 420v4M217 207v11M222 234v2M225 208v10M226 218v3M264 322v2M269 250v3M274 236v14M275 229v11M276 231v16M277 244v14M278 221v29M279 231v21M280 252v6M281 258v2M282 250v8M283 248v5M284 252v8M285 255v6M285 320v4M286 258v6M288 258v2M288 319v3M289 317v7M290 255v5M291 220v14M291 328v2M292 221v10M292 324v6M293 231v21M294 242v6M295 220v35M296 223v3M298 236v8M298 255v8M298 314v2M299 237v18M300 255v16M303 303v3M304 244v20M304 295v11M305 244v16M306 252v9M307 239v21M308 236v30M308 304v2M310 240v20M311 191v14M311 231v11M311 296v4M312 239v14M312 287v13M313 196v27M313 242v8M313 288v8M314 183v43M314 239v8M314 293v5M315 239v8M315 266v2M315 298v2M316 229v34M317 218v13M317 239v9M318 210v10M318 234v11M319 200v8M319 242v26M320 207v11M320 240v7M320 263v8M321 226v32M322 226v32M323 226v34M324 220v11M325 218v13M325 239v19M326 215v11M326 236v22M326 295v3M327 215v8M327 287v16M328 224v28M329 244v9M330 260v11M331 245v10M331 260v11M332 237v10M332 319v5M333 244v11M333 266v10M334 277v21M335 280v15M336 282v16M337 284v17M338 276v11M339 261v13M339 306v10M340 266v13M341 268v38M342 295v13M343 301v15M344 303v1M348 271v22M348 300v9M348 452v22M349 250v32M349 448v31M350 252v30M350 452v20M351 274v14M351 453v21M357 253v29M357 290v10M357 311v6M358 263v11M358 295v11M358 309v10M360 298v16M361 250v34M361 290v32M362 258v32M363 284v14M365 244v8M365 303v8M366 244v12M366 290v21M368 266v14M369 247v13M369 282v21M370 242v8M371 242v8M371 260v22M372 242v8M372 263v21M373 236v16M373 269v13M374 242v30M375 244v32M376 266v10M377 244v25M378 224v15M379 232v58M380 266v37M381 244v9M382 215v30M383 223v17M383 274v8M384 234v6M384 272v4M385 242v6M385 276v4M386 228v24M387 218v26M388 239v13M388 271v11M389 239v45M390 231v16M390 284v12M391 224v47M391 282v2M392 220v9M392 250v32M393 220v8M393 260v8M393 284v3M394 228v6M394 260v4M395 236v6M395 263v5M396 240v5M396 268v20M397 239v5M398 223v6M398 258v11M398 292v3M399 224v23M400 255v43M401 231v11M402 242v8M403 247v5M404 247v5M405 256v26M406 279v6M407 276v11M408 277v10M409 277v7M410 282v5M410 311v3M411 287v17M412 276v6M412 293v7M413 279v21M414 287v22M415 287v9M416 282v8M417 282v8M418 272v12M419 266v10M420 271v5M420 471v13M421 271v5M421 474v8M422 268v12M422 495v13M423 284v14M423 490v19M424 285v5M426 258v48M426 512v7M427 252v12M427 460v28M428 255v35M428 296v7M428 460v35M429 260v20M429 466v10M429 482v11M429 516v1M430 474v14M434 463v14M435 448v44M436 279v9M436 444v16M436 466v29M438 298v5M439 296v21M449 287v1M450 279v3M451 268v8M452 268v12M454 268v12M455 271v13M456 269v8M457 261v11M458 271v9M458 428v11M459 255v21M459 418v32M459 479v1M460 239v14M460 476v9M461 247v22M461 282v5M462 242v45M463 229v11M463 274v13M464 237v13M464 260v24M464 292v4M465 244v48M466 236v32M466 287v1M466 548v3M467 223v41M467 551v5M468 264v7M468 556v4M469 271v17M469 560v5M470 204v19M470 268v11M470 565v3M471 202v26M471 266v16M472 205v43M472 271v8M472 412v11M473 202v35M473 247v13M473 272v7M473 413v7M473 424v12M474 184v31M474 247v29M474 416v26M474 471v19M475 191v80M476 196v24M476 437v24M477 181v18M477 418v16M477 463v8M478 186v58M478 439v27M479 247v16M480 252v16M481 263v9M481 303v3M482 252v22M482 444v11M483 248v10M483 261v18M484 250v11M484 284v24M485 252v6M487 250v13M487 264v23M487 421v11M487 520v2M488 248v12M488 276v14M488 418v6M488 439v13M488 520v2M489 266v24M489 421v24M489 476v16M489 520v2M490 271v29M490 420v30M490 474v16M490 520v2M491 412v6M491 450v6M491 520v2M492 416v5M492 455v11M492 520v2M493 420v16M493 450v35M493 520v2M494 434v22M496 421v16M496 520v2M497 415v5M497 447v53M497 520v2M498 404v11M498 450v43M498 520v2M499 407v8M499 440v44M499 520v2M500 223v9M500 408v8M500 450v32M500 520v2M501 410v32M501 460v17M501 520v2M502 287v17M502 408v5M502 458v30M502 520v2M503 261v37M503 407v8M503 458v34M503 520v2M504 255v22M504 420v59M504 520v2M505 256v13M505 460v16M505 520v2M506 266v10M506 466v2M506 520v2M507 266v27M507 463v5M508 258v10M508 295v11M508 460v12M509 248v10M509 274v30M510 250v11M510 274v14M511 256v12M511 274v11M512 258v26M513 260v27M513 296v7M514 274v24M514 306v6M515 244v24M515 269v23M515 420v6M515 469v19M516 223v1M516 242v8M516 421v3M516 479v19M517 244v8M518 229v29M518 300v6M519 232v13M519 301v5M519 412v16M520 236v8M520 416v24M521 237v7M522 237v10M522 399v19M522 439v19M523 258v5M523 405v16M524 263v3M525 256v7M526 258v8M527 266v10M528 269v10M529 271v6M529 623v1M530 274v6M530 624v5M531 277v5M531 629v2M532 282v10M532 303v8M533 284v12M534 264v32M534 471v19M535 266v42M535 468v20M536 268v9M536 464v21M537 268v6M537 407v21M537 468v20M538 261v7M538 397v7M538 432v20M538 466v21M539 260v6M539 402v48M540 293v8M541 298v10M542 288v31M543 277v26M543 311v13M544 274v40M545 271v9M545 444v38M546 274v16M546 460v20M547 280v21M547 450v34M548 287v6M548 445v21M548 474v16M549 298v27M549 447v35M550 461v18M551 292v19M552 279v35M553 279v11M553 303v17M554 277v47M555 247v29M555 279v13M555 304v20M555 416v2M556 247v5M556 298v32M556 415v8M557 280v18M557 316v12M557 418v8M558 269v13M558 415v8M559 263v8M559 437v26M560 261v8M560 439v25M561 263v14M561 311v6M562 260v11M563 266v10M564 263v8M564 431v24M565 256v12M565 426v38M566 253v29M566 424v39M567 268v33M567 420v22M567 460v14M568 276v32M568 312v10M569 266v50M569 420v6M569 460v14M570 266v6M570 413v7M570 421v77M571 271v8M571 420v6M571 458v40M572 277v51M572 424v29M572 466v19M573 272v63M573 431v13M573 458v21M574 266v13M574 431v11M574 455v21M575 255v16M576 260v11M576 288v31M576 468v17M577 276v41M577 479v8M578 279v29M579 266v19M579 303v8M579 428v44M580 271v16M580 298v6M580 447v8M581 269v42M581 444v14M582 260v11M582 304v2M582 439v8M582 466v8M583 226v13M583 253v10M583 280v8M583 304v10M583 436v12M583 466v8M584 255v11M584 268v48M584 447v16M585 279v16M586 276v17M589 292v8M589 442v26M590 290v21M591 306v3M594 300v9M595 298v14M596 223v14M596 271v51M597 221v7M597 239v9M597 298v14M598 223v21M598 298v13M599 261v34M600 276v11M600 298v21M601 231v40M601 282v18M602 226v10M602 266v70M603 223v13M603 244v35M604 256v10M604 327v3M605 258v6M605 282v13M606 255v11M606 271v24M607 255v40M608 258v26M609 274v8M610 277v7M611 282v16M611 316v9M612 293v34M613 295v24M614 287v29M615 274v22M616 271v19M617 271v22M618 266v34M618 520v2M619 256v15M619 520v2M620 268v16M620 520v2M621 279v27M621 520v2M622 274v27M622 520v2M623 276v24M623 520v2M624 271v6M624 298v5M624 520v2M625 268v6M625 520v2M626 268v8M626 303v3M626 520v2M627 264v8M627 295v8M627 520v2M628 261v7M628 292v8M628 520v2M629 261v8M629 295v8M629 520v2M630 263v11M630 295v8M630 520v2M631 282v8M631 520v2M632 285v23M632 520v2M633 276v12M633 520v2M634 288v15M635 290v14M636 271v37M637 261v43M638 258v29M638 520v2M639 268v25M639 520v2M640 282v18M640 520v2M641 250v16M641 284v14M641 520v2M642 250v21M642 277v23M643 272v29M643 520v2M644 269v34M645 258v50M646 255v48M647 276v27M648 266v13M648 301v2M649 279v16M653 260v6M653 287v13M654 263v6M655 277v19M658 268v9M659 263v24M662 255v19M664 255v16M665 247v27M666 247v13M669 260v27M670 266v16M673 263v25M674 260v27M678 228v60M679 234v16M681 258v18M682 199v6M682 226v13M682 247v3M697 272v10M706 279v13M710 266v13M710 288v4M711 263v30M712 266v29M713 263v11M713 280v10M714 274v18M715 231v13M716 231v17M716 285v10M717 277v7M718 261v15M719 244v9M720 247v8M721 253v7M722 253v5M722 290v18M723 256v10M723 279v21M724 274v16M725 268v30M726 258v8M726 290v16M727 280v31M728 298v10M729 295v11M731 301v7M741 298v8M747 282v8M759 274v5M759 418v6M760 279v3M772 210v18M772 269v8M776 218v29M777 223v1M777 256v16M778 253v15M779 192v32M780 199v53M781 223v35M782 236v35M783 239v37M784 215v16M784 245v27M785 255v6M786 181v8M786 244v17M787 239v8M787 261v7M788 224v7M788 242v19M789 224v15M790 231v5M796 264v13M797 264v13M800 280v2M801 258v24M802 268v9M803 274v10M804 274v8M813 399v13M819 240v12M822 202v32M823 208v42M824 234v29M825 239v14M826 240v8M827 242v8M828 244v6M834 236v3M842 266v3M843 260v8M844 244v11M845 247v17M846 272v4M848 266v3M850 119v8M851 120v4M869 208v10M870 212v8M871 210v13M871 228v3M872 186v22M873 192v44M890 240v10M891 231v6M892 228v6M892 248v2M895 242v16M896 228v8M896 242v11M897 231v11M898 231v24M899 228v8"/>
<path stroke="#2e8700" transform="translate(.5)" d="M116 418v6M146 404v8M147 404v17M148 402v3M149 402v21M150 413v2M151 400v24M153 402v13M153 421v10M154 402v32M155 410v29M156 415v27M157 432v8M159 402v8M160 404v14M160 420v22M161 404v32M162 399v8M162 420v9M163 396v6M165 396v6M166 397v5M167 426v13M168 396v27M168 426v10M170 420v11M171 394v11M172 405v18M173 394v19M174 394v21M181 426v5M182 415v13M183 415v8M184 412v8M185 418v3M186 420v3M187 404v16M190 413v13M191 415v8M194 412v12M195 410v6M196 410v14M198 410v18M199 410v5M200 418v10M201 423v3M202 412v8M203 410v8M204 423v3M207 412v11M208 407v13M216 220v1M217 196v11M218 213v5M222 226v8M223 199v16M224 202v18M225 199v9M226 167v16M226 210v8M230 202v16M238 207v24M239 194v37M242 215v16M243 207v27M244 232v4M264 191v16M264 319v3M265 236v4M265 322v2M266 234v8M266 322v2M267 242v5M267 322v2M268 239v6M269 242v8M269 324v3M270 252v1M272 218v32M273 221v26M274 224v12M274 325v2M275 220v9M275 324v1M276 218v13M276 317v7M277 204v40M277 319v3M278 199v22M278 320v4M279 186v21M279 212v19M280 183v17M280 236v16M281 188v9M281 244v14M282 242v8M283 210v18M283 242v6M283 316v8M284 208v15M284 247v5M284 316v6M285 204v16M285 247v8M285 306v14M286 196v62M286 311v11M287 202v40M287 250v8M288 199v59M288 311v8M289 218v13M289 248v18M289 311v6M290 213v42M290 260v1M290 314v10M291 215v5M291 306v22M292 215v6M292 308v16M293 220v11M293 252v11M294 218v24M294 248v8M295 212v8M295 255v3M295 338v2M296 213v10M296 226v34M297 220v14M297 237v24M297 295v6M298 232v4M298 263v1M298 288v26M299 232v5M299 309v7M300 226v29M300 308v3M301 226v45M301 306v5M302 237v24M303 220v41M303 295v8M304 189v55M304 290v5M305 228v16M305 300v8M306 232v20M307 231v8M307 301v5M308 151v22M308 228v8M308 295v9M309 157v10M309 234v29M310 188v32M310 228v12M310 298v3M311 178v13M311 205v26M311 292v4M312 194v45M312 282v5M313 178v18M313 223v19M313 284v4M314 178v5M314 226v13M314 290v3M315 178v34M315 224v15M315 295v3M316 220v9M316 298v2M317 210v8M317 248v8M318 204v6M318 245v21M319 192v8M319 295v5M320 197v10M320 295v5M321 212v14M321 296v12M322 218v8M322 298v6M323 220v6M324 213v7M325 210v8M325 292v6M326 207v8M326 287v8M327 205v10M327 282v5M328 212v12M328 292v8M329 229v15M330 244v16M331 236v9M331 255v5M331 303v5M332 210v27M332 304v15M333 237v7M333 255v11M334 237v18M334 272v5M335 242v3M335 274v6M336 274v8M337 277v7M338 255v21M339 252v9M339 316v1M340 260v6M341 261v7M342 263v32M343 292v9M344 295v8M345 300v24M347 274v35M347 452v16M348 239v32M349 242v8M350 239v13M351 175v1M351 236v38M352 181v7M352 290v22M352 458v32M353 236v11M353 303v3M354 228v19M354 303v8M355 224v23M355 311v1M356 194v13M356 223v96M356 455v41M357 196v6M357 223v30M357 282v8M357 317v2M357 450v43M358 256v7M358 274v21M359 296v26M360 285v13M360 314v13M361 239v11M361 284v6M362 247v11M362 290v29M363 248v12M363 268v16M363 298v16M364 247v11M364 282v32M365 236v8M365 252v8M365 284v19M366 236v8M366 256v34M367 247v61M368 244v22M368 280v23M369 240v7M369 444v11M370 237v5M370 445v13M371 237v5M371 450v16M372 234v8M372 450v24M373 212v24M374 218v24M375 237v7M376 240v26M377 231v13M378 207v17M379 226v6M380 239v27M381 234v10M382 207v8M383 212v11M383 282v11M384 215v19M384 276v6M385 221v10M385 236v6M385 280v4M386 215v13M387 207v11M388 207v32M388 282v2M389 207v32M390 212v19M391 215v9M392 210v10M393 210v10M393 268v16M394 220v8M394 264v4M395 228v8M395 268v3M396 236v4M397 232v7M398 216v7M399 218v6M399 247v49M400 228v27M401 226v5M402 234v8M403 242v5M404 244v3M405 250v6M406 260v19M407 264v12M408 269v8M409 271v6M410 274v8M411 274v13M411 450v10M412 260v16M412 282v11M412 431v30M413 266v13M414 277v10M415 279v8M416 274v8M417 272v10M418 218v10M418 244v28M418 479v24M419 218v48M419 466v32M419 508v6M420 268v3M420 463v8M420 484v8M421 266v5M421 463v11M421 482v26M422 255v13M422 463v11M422 484v11M423 252v32M423 298v2M423 482v8M424 276v9M424 290v10M424 480v29M425 271v22M426 231v27M426 456v26M426 508v3M427 242v10M427 450v10M427 488v20M428 247v8M428 290v6M428 439v21M428 495v16M429 250v10M429 280v10M429 458v8M429 493v8M430 276v20M430 468v6M430 488v7M431 282v16M431 477v16M432 479v14M433 464v26M434 453v10M434 477v8M435 268v22M435 437v11M435 492v8M436 264v15M436 436v8M436 460v6M436 495v11M437 292v3M437 444v46M438 284v14M439 282v14M440 303v16M442 311v3M443 282v26M444 290v14M445 287v13M446 284v16M447 255v13M447 296v4M448 288v5M449 282v5M450 274v5M450 439v29M451 239v29M451 431v41M452 252v16M453 205v13M453 260v22M454 192v28M454 258v10M454 432v15M455 175v37M455 266v5M456 178v27M456 263v6M457 255v6M457 428v16M458 255v16M458 420v8M458 439v8M459 231v24M459 413v5M459 450v29M459 480v10M460 213v26M460 415v61M460 485v7M461 239v8M462 234v8M462 287v3M463 220v9M463 287v1M463 469v5M464 228v9M464 284v8M465 234v10M466 223v13M467 202v21M468 220v27M468 258v6M468 434v14M469 218v6M469 264v7M469 429v18M470 194v10M470 223v16M470 258v10M470 418v37M471 197v5M471 228v38M471 420v3M472 199v6M472 248v23M472 407v5M472 423v8M472 492v20M473 183v19M473 260v12M473 408v5M473 436v9M473 463v56M474 178v6M474 412v4M474 442v29M474 490v26M475 183v8M475 426v53M476 183v13M476 421v16M476 461v13M477 175v6M477 413v5M477 471v8M477 490v5M477 506v13M478 170v16M478 418v21M478 466v8M479 170v77M479 447v27M480 204v48M480 437v34M481 218v16M481 250v13M481 432v31M482 218v10M482 245v7M482 434v10M482 455v11M483 242v6M483 436v24M484 168v26M484 244v6M484 261v23M484 436v20M485 244v8M485 258v10M485 288v20M485 444v16M486 247v29M486 452v17M486 519v1M487 244v6M487 287v11M487 415v6M487 432v42M487 519v1M488 172v27M488 239v9M488 290v11M488 410v8M488 452v52M488 519v1M489 178v19M489 255v11M489 290v10M489 413v8M489 445v31M489 492v12M489 519v1M490 178v8M490 260v11M490 300v3M490 413v7M490 450v24M490 490v8M490 519v1M491 263v37M491 407v5M491 456v37M491 519v1M492 258v30M492 412v4M492 466v24M492 519v1M493 247v43M493 301v2M493 415v5M493 485v10M493 519v1M494 244v16M494 304v7M494 423v11M494 456v37M494 519v1M495 223v8M495 424v58M495 519v1M496 418v3M496 437v48M496 493v5M496 519v1M497 407v8M497 500v8M497 519v1M498 493v10M498 519v1M499 216v15M499 484v14M499 519v1M500 215v8M500 232v8M500 482v22M500 519v1M501 223v17M501 408v2M501 477v24M501 519v1M502 228v4M502 274v13M502 488v12M502 519v1M503 248v13M503 492v9M503 519v1M504 244v11M504 277v13M504 304v4M504 412v8M504 479v13M504 519v1M505 247v9M505 269v10M505 415v14M505 453v7M505 476v6M505 519v1M506 253v13M506 276v9M506 416v10M506 456v10M506 468v8M506 519v1M507 258v8M507 293v15M507 420v8M507 452v11M507 468v8M507 519v1M508 237v21M508 420v11M508 448v12M508 472v15M508 519v1M509 239v9M509 304v10M509 452v40M509 519v1M510 239v11M510 288v16M510 420v6M510 452v44M510 519v1M511 244v12M511 285v7M511 424v2M511 448v36M511 519v1M512 204v14M512 245v13M512 284v11M512 450v26M512 506v8M512 519v1M513 245v15M513 287v9M513 452v24M513 519v1M514 204v11M514 239v35M514 415v16M514 458v24M514 519v1M515 199v45M515 268v1M515 412v8M515 426v8M515 458v11M515 488v13M515 519v1M516 178v45M516 224v18M516 415v6M516 424v13M516 461v18M516 498v16M516 519v1M517 183v6M517 215v29M517 420v14M517 482v21M517 519v1M518 218v11M518 306v2M518 418v21M518 519v1M519 202v30M519 407v5M519 428v24M519 463v24M519 519v1M520 191v45M520 407v9M520 440v12M520 464v52M520 519v1M521 231v6M521 402v53M521 471v40M521 519v1M522 231v6M522 394v5M522 418v21M522 458v22M522 504v16M523 239v19M523 400v5M523 421v16M523 452v24M523 514v6M524 258v5M524 407v21M524 519v1M525 250v6M525 404v16M525 519v1M526 252v6M526 402v11M526 519v1M527 258v8M527 396v22M527 519v1M528 263v6M528 519v1M529 264v7M529 519v1M530 268v6M530 519v1M531 274v3M531 519v1M532 276v6M532 519v1M533 268v16M533 468v24M533 519v1M534 258v6M534 405v8M534 463v8M534 490v6M534 519v1M535 260v6M535 405v8M535 461v7M535 488v7M535 519v1M536 263v5M536 404v11M536 455v9M536 485v15M536 519v1M537 263v5M537 402v5M537 428v40M537 488v18M537 519v1M538 256v5M538 394v3M538 452v14M538 487v11M538 519v1M539 255v5M539 396v6M539 450v42M539 519v1M540 261v32M540 404v6M540 432v28M540 466v34M540 519v1M541 288v10M541 519v1M542 276v12M542 519v1M543 271v6M543 303v8M543 519v1M544 266v8M544 432v39M544 519v1M545 264v7M545 418v26M545 482v16M545 519v1M546 266v8M546 432v28M546 480v16M546 519v1M547 269v11M547 439v11M547 484v11M547 519v1M548 280v7M548 440v5M548 490v8M548 519v1M549 247v16M549 290v8M549 439v8M549 482v8M549 519v1M550 298v27M550 420v41M550 479v6M550 519v1M551 276v16M551 311v13M551 415v64M551 519v1M552 272v7M552 314v6M552 413v47M552 519v1M553 272v7M553 320v4M553 413v40M553 519v1M554 247v30M554 415v40M554 519v1M555 242v5M555 276v3M555 292v12M555 410v6M555 418v61M555 519v1M556 242v5M556 282v16M556 410v5M556 423v13M556 442v35M556 519v1M557 250v30M557 408v10M557 426v50M557 519v1M558 261v8M558 404v11M558 423v51M558 519v1M559 258v5M559 412v25M559 463v13M559 519v1M560 255v6M560 415v24M560 464v15M560 519v1M561 255v8M561 439v16M561 519v1M562 253v7M562 436v8M562 519v1M563 260v6M563 426v19M563 519v1M564 258v5M564 420v11M564 455v21M564 495v25M565 244v12M565 415v11M565 464v21M565 504v13M565 519v1M566 245v8M566 418v6M566 463v17M566 519v1M567 255v13M567 413v7M567 442v18M567 474v8M567 519v1M568 263v13M568 308v4M568 418v16M568 458v21M568 519v1M569 256v10M569 410v10M569 426v10M569 450v10M569 474v10M569 519v1M570 260v6M570 407v6M570 498v8M570 519v1M571 264v7M571 415v5M571 498v6M571 519v1M572 268v9M572 420v4M572 453v13M572 485v7M572 519v1M573 266v6M573 423v8M573 444v14M573 479v6M573 519v1M574 256v10M574 423v8M574 442v13M574 476v6M574 519v1M575 242v13M575 424v15M575 455v24M575 519v1M576 242v18M576 319v5M576 458v10M576 485v13M576 519v1M577 263v13M577 463v16M577 487v9M577 519v1M578 263v16M578 428v3M578 442v54M578 519v1M579 258v8M579 420v8M579 472v20M579 519v1M580 260v11M580 432v15M580 455v13M580 519v1M581 260v9M581 436v8M581 458v10M581 519v1M582 226v34M582 432v7M582 474v5M582 519v1M583 218v8M583 239v14M583 426v10M583 474v5M583 519v1M584 220v6M584 248v7M584 316v8M584 431v16M584 463v11M584 519v1M585 260v19M585 295v32M585 519v1M586 215v43M586 266v10M586 293v10M586 519v1M587 213v8M587 245v50M587 519v1M588 237v53M588 455v9M588 519v1M589 234v58M589 300v16M589 437v5M589 468v14M589 519v1M590 276v14M590 442v34M590 519v1M591 236v14M591 284v22M591 309v7M591 436v14M591 519v1M592 236v16M592 287v30M592 439v9M592 519v1M593 234v19M593 292v25M593 519v1M594 221v26M594 261v13M594 293v7M594 519v1M595 216v20M595 271v27M595 519v1M596 215v8M596 237v8M596 263v8M596 519v1M597 216v5M597 248v10M597 266v32M597 519v1M598 218v5M598 244v54M598 519v1M599 215v46M599 519v1M600 218v58M600 519v1M601 223v8M601 271v11M601 300v19M601 519v1M602 220v6M602 519v1M603 216v7M603 519v1M604 226v30M604 519v1M605 252v6M605 519v1M606 248v7M606 519v1M607 244v11M607 519v1M608 239v19M608 519v1M609 244v30M609 519v1M610 271v6M610 519v1M611 276v6M611 519v1M612 284v9M612 468v16M612 519v1M613 284v11M613 469v11M613 519v1M614 276v11M614 506v10M614 519v1M615 263v11M615 296v12M615 519v1M616 264v7M616 290v6M616 519v1M617 263v8M617 293v5M617 519v1M618 236v30M618 455v8M618 519v1M619 239v17M619 456v20M619 519v1M620 260v8M620 463v14M620 519v1M621 269v10M621 519v1M622 268v6M622 519v1M623 271v5M623 519v1M624 231v8M624 266v5M624 469v15M624 519v1M625 261v7M625 471v11M625 519v1M626 261v7M626 519v1M627 258v6M627 303v1M627 519v1M628 255v6M628 300v4M628 519v1M629 255v6M629 303v3M629 519v1M630 255v8M630 303v3M630 519v1M631 269v13M631 290v11M631 519v1M632 272v13M632 308v3M632 519v1M633 266v10M633 519v1M634 279v9M634 519v1M635 279v11M635 519v1M636 263v8M636 519v1M637 250v11M637 519v1M638 242v16M638 287v21M638 519v1M639 248v20M639 293v10M639 519v1M640 250v32M640 519v1M641 244v6M641 266v18M641 298v5M641 519v1M642 245v5M642 271v6M642 300v3M642 519v1M643 252v20M643 519v1M644 258v11M644 519v1M645 252v6M645 519v1M646 248v7M647 255v21M648 258v8M649 266v13M650 290v14M651 298v8M652 264v16M652 303v6M653 255v5M654 258v5M655 269v8M656 280v12M657 260v32M658 258v10M658 277v11M659 252v11M659 287v3M660 252v38M661 250v46M662 247v8M662 274v14M663 250v40M664 216v18M664 245v10M664 271v14M665 220v27M665 274v10M666 237v10M666 260v14M667 244v14M668 242v19M668 266v3M669 236v24M670 228v38M670 282v2M671 229v11M671 266v13M672 264v18M673 252v11M674 234v26M674 287v3M675 268v22M677 266v24M678 212v16M679 226v8M679 250v27M681 199v1M681 224v34M682 191v8M682 205v21M683 199v8M683 236v36M684 202v2M684 244v28M685 239v35M686 263v14M691 260v16M696 276v6M697 260v12M698 271v11M699 266v13M700 261v15M703 266v19M704 263v22M705 276v11M706 271v8M707 245v40M708 196v6M708 242v40M709 199v24M709 263v30M710 258v8M711 247v16M712 252v14M712 295v1M713 256v7M713 290v8M714 239v35M714 292v8M715 223v8M715 244v16M715 282v16M716 224v7M716 248v10M716 279v6M717 234v24M717 268v9M718 240v21M719 204v11M719 237v7M720 242v5M721 248v5M722 248v5M723 250v6M724 260v14M725 260v8M726 253v5M727 258v22M728 288v10M729 288v7M729 306v5M730 290v22M731 292v9M732 298v3M738 295v3M741 255v43M742 279v21M744 274v6M746 239v1M746 271v24M747 264v18M748 279v11M751 266v21M752 279v8M756 282v2M759 263v11M760 266v13M761 272v2M772 205v5M772 228v6M772 260v9M773 208v20M773 260v16M775 234v13M776 199v19M776 247v21M777 194v29M777 224v32M778 192v40M778 245v8M779 188v4M779 224v50M780 188v11M780 252v12M781 196v27M781 258v16M782 194v42M783 191v48M784 184v31M784 231v14M784 272v7M785 175v27M785 215v16M785 240v15M785 261v10M786 173v8M786 189v10M786 239v5M786 261v7M787 228v11M787 268v11M788 231v11M788 261v7M789 239v21M790 220v11M790 236v16M796 253v11M797 255v9M798 255v24M799 260v12M800 253v27M801 248v10M802 256v12M803 234v11M803 268v6M804 268v6M805 220v8M806 221v11M806 255v1M806 400v4M810 404v1M813 383v16M814 253v2M814 388v27M815 231v13M815 250v2M816 226v29M816 386v30M818 240v12M819 234v6M821 221v5M822 200v2M822 234v18M823 202v6M824 224v10M825 231v8M826 236v4M826 383v24M827 237v5M827 396v12M828 237v7M828 396v16M829 236v9M831 248v2M831 405v2M833 236v8M834 228v8M835 240v4M842 260v6M843 250v10M844 146v2M844 234v10M845 242v5M846 248v24M847 261v5M848 256v10M850 111v8M851 112v8M851 140v3M852 125v3M864 149v5M868 204v12M869 186v22M870 180v32M871 175v35M872 164v22M873 181v11M874 189v29M875 183v3M875 210v22M876 215v29M880 205v23M881 215v9M884 156v27M884 208v10M884 232v7M885 170v8M885 234v3M886 234v8M887 236v4M888 234v8M889 207v16M889 229v15M890 234v6M891 226v5M892 220v8M893 236v19M894 250v3M895 194v11M895 234v8M896 194v8M896 221v7M897 223v8M897 242v11M898 223v8M899 223v5M900 143v16M901 148v8M912 200v28"/>
<path stroke="#418200" transform="translate(.5)" d="M114 420v6M115 415v11M116 415v3M117 420v8M142 407v3M143 407v3M148 405v15M149 423v3M152 402v24M153 415v6M155 400v10M156 400v15M157 415v17M158 396v8M158 434v5M159 410v8M159 431v9M160 418v2M161 399v5M164 396v8M164 429v8M165 402v5M165 432v8M166 402v8M166 428v9M167 397v29M169 397v5M169 415v19M170 396v24M172 397v8M172 423v13M173 392v2M173 413v10M174 415v21M175 396v38M176 402v29M177 402v16M178 402v32M179 410v22M180 421v10M181 413v13M182 399v16M183 400v15M184 389v23M185 392v10M185 410v8M186 391v29M187 392v12M187 420v6M189 416v10M190 392v21M191 399v16M192 402v24M193 404v22M194 402v10M195 405v5M196 400v10M197 407v16M198 404v6M199 407v3M200 412v6M201 416v7M202 407v5M203 402v8M204 416v7M205 423v3M206 418v5M207 405v7M208 400v7M209 418v5M210 418v3M211 410v14M215 423v1M216 213v7M217 164v32M217 415v1M218 204v9M219 218v5M220 215v6M221 216v2M222 208v18M223 196v3M223 215v6M224 197v5M225 164v16M225 188v11M226 183v27M227 164v1M227 215v1M228 218v8M229 200v21M230 194v8M231 207v19M237 208v20M238 197v10M239 188v6M240 224v5M241 226v2M242 207v8M243 202v5M244 207v25M245 221v18M250 237v2M259 234v5M263 188v25M263 319v3M264 181v10M264 207v35M264 316v3M265 226v10M265 317v5M266 226v8M266 317v5M267 228v14M267 317v5M268 175v17M268 228v11M268 319v5M269 216v26M269 322v2M270 218v10M270 242v10M270 322v5M271 215v35M271 317v7M272 210v8M272 319v3M273 212v9M273 314v8M274 215v9M274 320v5M275 167v6M275 208v12M275 317v7M276 170v10M276 196v22M276 311v6M277 196v8M277 314v5M278 191v8M278 316v4M279 176v10M279 207v5M280 176v7M280 200v7M280 220v16M281 180v8M281 197v7M281 226v18M282 191v11M282 218v24M282 317v7M283 202v8M283 228v14M283 308v8M284 204v4M284 223v6M284 242v5M284 308v8M285 197v7M285 220v9M285 239v8M286 189v7M286 303v8M287 196v6M287 242v8M287 319v3M288 192v7M288 301v10M289 191v27M289 231v17M289 300v11M290 186v27M290 303v11M291 178v10M291 208v7M291 298v8M292 210v5M292 300v8M293 213v7M294 210v8M295 207v5M295 293v45M296 208v5M296 290v38M297 208v12M297 234v3M297 285v10M297 301v23M298 228v4M298 285v3M299 228v4M299 292v17M300 216v10M300 295v13M301 156v9M301 172v54M301 298v8M302 157v31M302 216v21M302 261v7M302 298v5M303 156v64M303 292v3M304 154v18M304 181v8M304 285v5M305 194v34M305 292v8M306 223v9M307 160v26M307 226v5M307 293v8M308 173v15M308 221v7M308 285v10M309 148v9M309 167v6M309 199v35M309 263v3M309 298v3M310 149v39M310 220v8M310 296v2M311 148v30M311 288v4M312 165v29M313 170v8M313 282v2M314 173v5M314 287v3M315 172v6M315 212v12M315 290v5M316 199v21M316 295v3M317 204v6M317 256v12M317 296v2M318 196v8M318 295v3M319 186v6M319 290v5M320 178v19M320 290v5M321 186v26M321 290v6M322 204v14M322 292v6M323 215v5M323 295v3M324 207v6M324 285v13M325 202v8M325 284v8M326 188v19M326 282v5M327 181v24M327 279v3M328 204v8M328 287v5M329 210v19M330 232v12M331 210v26M331 293v10M332 202v8M332 295v9M333 232v5M333 301v5M334 232v5M334 255v17M335 231v11M335 245v13M335 268v6M336 264v10M337 255v22M338 250v5M339 247v5M340 252v8M341 258v3M342 228v11M342 258v5M343 231v21M343 279v13M344 242v16M344 284v11M345 247v27M345 292v8M345 453v3M346 298v13M346 466v2M347 220v24M347 266v8M348 197v15M348 229v10M349 199v8M349 234v8M350 172v8M350 210v29M351 165v10M351 176v18M351 205v31M352 170v11M352 188v17M352 215v75M352 452v6M353 183v53M353 247v21M353 292v11M353 455v1M354 196v32M354 247v8M354 298v5M355 196v28M355 247v8M355 300v11M355 463v32M356 186v8M356 207v16M357 188v8M357 202v21M357 493v2M358 247v9M359 260v36M360 236v49M361 231v8M362 237v10M363 244v4M363 260v8M364 237v10M364 258v24M365 229v7M365 260v24M366 184v13M366 228v8M367 239v8M368 237v7M369 236v4M369 455v9M370 232v5M370 444v1M370 458v13M371 231v6M371 445v5M371 466v13M372 215v19M372 444v6M372 474v16M373 204v8M373 447v32M374 210v8M375 231v6M376 236v4M377 202v29M378 196v11M379 218v8M380 232v7M381 207v27M381 456v4M382 202v5M382 500v11M383 205v7M383 503v5M384 176v39M384 282v6M384 463v14M385 175v46M385 231v5M385 458v29M386 175v17M386 204v11M386 466v26M387 162v5M387 200v7M387 469v23M388 200v7M389 196v11M390 192v20M391 205v10M391 450v18M392 202v8M392 452v16M393 197v13M393 463v8M394 207v13M394 268v6M394 280v7M395 208v20M395 271v25M396 231v5M397 226v6M398 212v4M399 215v3M399 296v4M400 221v7M401 220v6M402 228v6M403 237v5M404 239v5M405 245v5M406 247v13M407 236v28M408 228v22M408 260v9M409 242v29M409 429v18M410 252v22M411 255v19M411 432v8M411 460v12M412 250v10M412 428v3M412 461v10M413 252v14M414 256v21M415 247v14M415 268v11M416 242v32M416 498v3M417 245v27M417 477v26M418 210v8M418 228v16M418 471v8M419 210v8M419 447v19M419 498v10M420 263v5M420 452v11M420 492v16M421 260v6M421 431v32M422 244v11M422 452v11M422 474v10M423 240v12M423 460v22M424 234v24M424 266v10M424 469v11M425 226v21M425 260v11M425 293v8M425 466v14M425 506v3M426 223v8M426 442v14M426 482v26M427 236v6M427 434v16M428 242v5M428 429v10M429 244v6M429 290v11M429 432v26M429 501v8M430 258v18M430 463v5M430 495v8M431 272v10M431 471v6M431 493v7M432 271v29M432 472v7M432 493v7M433 271v24M433 448v16M433 490v5M433 516v1M434 268v25M434 437v16M434 485v5M435 140v1M435 242v26M435 434v3M435 500v11M436 231v33M436 432v4M436 506v11M437 189v10M437 255v37M437 437v7M437 490v8M438 255v29M438 437v15M438 466v24M439 258v24M439 466v22M440 156v4M440 290v13M441 148v11M441 282v34M442 276v35M443 266v16M444 258v32M445 261v26M446 245v39M447 242v13M447 268v14M447 287v9M447 436v30M448 245v43M448 431v38M449 277v5M449 439v24M450 234v21M450 268v6M450 431v8M450 468v8M451 232v7M451 428v3M451 472v12M452 196v19M452 242v10M452 432v18M453 196v9M453 218v8M453 250v10M453 431v19M454 183v9M454 220v16M454 250v8M454 428v4M454 447v11M454 498v8M455 170v5M455 212v11M455 258v8M455 428v14M455 492v14M456 172v6M456 205v18M456 256v7M456 432v12M457 210v11M457 250v5M457 426v2M457 444v6M458 247v8M458 415v5M458 447v5M459 215v16M459 410v3M459 490v3M460 205v8M460 412v3M460 492v4M461 215v24M461 415v8M461 468v22M462 223v11M462 463v22M463 210v10M463 452v17M463 474v14M464 215v13M464 463v19M465 220v14M466 208v15M467 178v24M467 431v11M467 476v38M468 180v40M468 247v11M468 426v8M468 448v7M469 186v32M469 224v16M469 260v4M469 421v8M469 447v6M470 186v8M470 239v19M470 415v3M470 455v11M470 490v18M471 192v5M471 413v7M471 423v91M472 191v8M472 404v3M472 431v61M472 512v7M473 178v5M473 407v1M473 445v18M474 176v2M474 407v5M474 516v3M475 178v5M475 418v8M475 479v22M476 178v5M476 415v6M476 474v26M477 170v5M477 408v5M477 479v11M477 495v11M478 164v6M478 413v5M478 474v18M479 162v8M479 424v23M479 474v8M480 160v44M480 428v9M480 471v8M481 205v13M481 234v16M481 428v4M481 463v8M482 205v13M482 228v17M482 431v3M482 466v6M483 167v75M483 432v4M483 460v8M484 164v4M484 194v19M484 237v7M484 428v8M484 456v7M485 172v44M485 237v7M485 268v20M485 432v12M485 460v8M486 199v21M486 242v5M486 276v30M486 439v13M486 469v7M487 175v29M487 236v8M487 298v10M487 410v5M487 474v8M488 146v26M488 199v8M488 226v13M488 301v7M488 504v12M489 172v6M489 197v8M489 242v13M489 408v5M489 504v15M490 143v6M490 167v11M490 186v16M490 247v13M490 410v3M490 498v21M491 247v16M491 405v2M491 493v10M492 242v16M492 288v15M492 410v2M492 490v10M493 140v8M493 236v11M493 290v11M493 408v7M493 495v8M494 226v18M494 260v44M494 418v5M494 493v8M495 216v7M495 231v37M495 420v4M495 482v21M496 220v11M496 255v24M496 412v6M496 485v8M496 498v13M497 215v86M497 508v8M498 210v51M498 503v5M499 202v14M499 231v11M499 498v10M500 207v8M500 240v7M500 303v3M500 504v8M501 218v5M501 240v21M501 290v18M501 501v8M502 218v10M502 232v42M502 500v8M503 234v14M503 501v5M504 239v5M504 290v14M504 407v5M504 492v9M505 239v8M505 279v5M505 308v3M505 407v8M505 429v13M505 444v9M505 482v5M506 242v11M506 285v18M506 410v6M506 426v8M506 452v4M506 476v4M507 245v13M507 415v5M507 428v8M507 445v7M507 476v8M507 498v21M508 194v6M508 231v6M508 415v5M508 431v17M508 487v29M509 231v8M509 416v10M509 492v8M510 231v8M510 304v5M510 415v5M510 496v10M511 191v22M511 234v10M511 292v16M511 415v9M511 426v22M511 484v35M512 196v8M512 218v27M512 295v13M512 415v35M512 476v8M512 496v10M512 514v5M513 199v24M513 237v8M513 410v42M513 476v6M513 500v16M514 196v8M514 215v24M514 410v5M514 431v27M514 482v18M515 154v21M515 180v19M515 407v5M515 434v24M515 501v18M516 162v16M516 410v5M516 437v24M516 514v5M517 173v10M517 189v26M517 415v5M517 434v13M517 464v18M517 503v11M518 208v10M518 412v6M518 439v59M519 191v11M519 452v11M519 487v27M520 172v19M520 452v12M520 516v3M521 176v24M521 218v13M521 400v2M521 455v16M521 511v8M522 156v6M522 188v43M522 480v24M523 194v45M523 396v4M523 437v15M523 476v8M523 506v8M524 250v8M524 402v5M524 428v6M525 242v8M525 399v5M525 420v8M526 242v10M526 396v6M526 413v7M527 252v6M527 418v6M527 472v26M528 258v5M528 402v16M528 468v27M529 260v4M529 476v17M530 263v5M530 487v1M531 268v6M532 269v7M532 468v24M533 260v8M533 404v28M533 461v7M533 492v11M534 253v5M534 399v6M534 413v11M534 456v7M534 496v7M535 255v5M535 400v5M535 413v5M535 456v5M535 495v8M536 258v5M536 397v7M536 415v9M536 447v8M536 500v11M537 256v7M537 396v6M537 506v13M538 250v6M538 498v21M539 250v5M539 492v27M540 255v6M540 396v8M540 410v22M540 460v6M540 500v19M541 282v6M541 436v64M542 269v7M542 436v54M543 263v8M543 432v50M544 258v8M544 416v16M544 471v13M545 231v33M545 415v3M545 498v16M546 260v6M546 415v17M546 496v12M547 261v8M547 432v7M547 495v9M548 250v30M548 436v4M548 498v8M549 242v5M549 263v6M549 284v6M549 416v7M549 429v10M549 490v5M550 247v24M550 284v14M550 415v5M550 485v5M551 266v10M551 324v17M551 410v5M551 479v6M552 263v9M552 408v5M552 460v19M553 242v30M553 408v5M553 453v53M554 240v7M554 408v7M554 455v59M555 178v13M555 239v3M555 404v6M555 479v11M555 511v8M556 234v8M556 405v5M556 436v6M556 477v8M557 220v30M557 407v1M557 476v6M558 226v21M558 250v11M558 474v5M559 231v27M559 407v5M559 476v8M560 239v16M560 407v8M560 479v13M560 511v8M561 248v7M561 431v8M561 455v8M562 248v5M562 423v13M562 444v11M563 253v7M563 420v6M563 445v27M563 490v29M564 250v8M564 416v4M564 476v19M565 239v5M565 408v7M565 485v19M565 517v2M566 240v5M566 412v6M566 480v12M566 506v13M567 245v10M567 410v3M567 482v8M568 252v11M568 412v6M568 434v24M568 479v5M569 248v8M569 407v3M569 436v14M569 484v12M570 252v8M570 506v6M571 258v6M571 410v5M571 504v5M572 244v24M572 418v2M572 492v6M573 253v13M573 420v3M573 485v5M574 242v14M574 420v3M574 482v5M575 237v5M575 418v6M575 439v16M575 479v24M576 236v6M576 429v2M576 447v11M576 498v6M577 244v19M577 450v13M577 496v5M578 253v10M578 418v10M578 431v11M578 496v5M579 210v14M579 255v3M579 415v5M579 492v8M580 210v21M580 253v7M580 426v6M580 468v6M581 228v32M581 431v5M581 468v6M582 218v8M582 428v4M582 479v5M583 212v6M583 420v6M583 479v32M584 210v10M584 226v22M584 424v7M584 474v5M584 492v17M585 210v16M585 242v18M585 428v43M586 205v10M586 258v8M586 303v8M586 460v6M587 204v9M587 221v24M587 295v19M587 456v12M588 228v9M588 290v27M588 439v16M588 464v12M589 229v5M589 432v5M589 482v8M590 229v47M590 436v6M590 476v6M591 226v10M591 250v13M591 264v20M591 429v7M591 450v8M592 231v5M592 252v4M592 279v8M592 432v7M592 448v8M593 228v6M593 253v18M593 280v12M593 442v18M593 482v11M594 212v9M594 247v14M594 274v19M594 439v17M594 487v8M595 210v6M595 236v6M595 252v19M595 442v5M596 210v5M596 245v18M597 212v4M597 258v8M598 212v6M599 208v7M600 213v5M601 220v3M602 183v3M602 215v5M603 210v6M604 218v8M605 242v10M606 234v14M607 232v12M608 232v7M609 239v5M610 260v11M611 269v7M611 468v22M611 498v14M612 277v7M612 458v10M612 484v16M613 279v5M613 456v13M613 480v36M614 239v19M614 268v8M614 466v40M614 516v3M615 250v13M616 256v8M616 296v4M617 178v2M617 236v27M617 447v21M618 231v5M618 448v7M618 463v8M618 492v11M619 234v5M619 452v4M619 476v33M620 250v10M620 458v5M620 477v27M621 263v6M621 468v8M622 199v16M622 234v18M622 261v7M622 468v6M623 229v16M623 266v5M623 468v6M624 183v19M624 226v5M624 239v8M624 260v6M624 466v3M624 484v8M625 183v13M625 228v33M625 466v5M625 482v10M626 255v6M626 471v6M627 220v11M627 252v6M628 247v8M628 304v5M629 248v7M630 248v7M631 266v3M631 301v8M632 268v4M633 165v24M633 256v10M633 474v21M634 263v16M635 271v8M636 258v5M637 242v8M638 234v8M639 239v9M639 303v3M640 244v6M640 484v6M641 240v4M641 492v6M642 240v5M642 492v8M643 245v7M644 252v6M645 247v5M646 244v4M647 250v5M648 252v6M649 255v11M650 276v14M651 276v22M652 258v6M652 280v23M653 250v5M654 252v6M654 503v3M655 263v6M656 242v38M657 252v8M658 253v5M659 239v13M660 239v13M661 242v8M662 244v3M663 245v5M664 210v6M664 234v11M665 212v8M666 231v6M666 274v10M667 236v8M667 258v10M668 236v6M668 261v5M668 269v15M669 229v7M670 220v8M671 220v9M671 240v26M671 279v1M672 226v38M673 228v24M674 223v11M675 226v21M675 255v13M676 269v13M677 234v11M677 258v8M678 202v10M679 216v10M680 231v16M680 264v10M681 188v11M681 200v24M682 188v3M683 192v7M683 207v11M683 228v8M684 194v8M684 204v12M684 231v13M684 272v7M685 194v45M686 253v10M690 258v21M691 253v7M691 276v1M692 258v19M694 207v3M696 234v42M697 228v32M698 263v8M699 258v8M699 279v3M700 253v8M701 260v17M702 239v1M702 263v24M703 236v30M703 285v2M704 202v2M704 237v26M705 196v8M705 236v40M706 240v10M706 261v10M707 236v9M708 186v10M708 202v40M708 282v8M709 186v13M709 223v40M710 191v30M710 250v8M711 180v19M711 237v10M712 234v18M713 237v19M713 298v2M714 229v10M715 220v3M715 260v22M716 220v4M716 258v21M717 228v6M717 258v10M718 232v8M719 199v5M719 215v22M720 202v40M721 244v4M722 244v4M723 244v6M724 258v2M725 256v4M726 250v3M727 250v8M728 282v6M729 284v4M730 287v3M731 250v11M731 288v4M732 292v6M735 274v21M736 261v39M737 266v35M738 282v13M740 295v5M741 252v3M742 260v19M743 271v29M744 252v22M744 280v12M745 255v33M746 240v10M746 253v18M746 295v3M747 224v40M748 253v26M749 279v5M750 268v14M751 245v21M752 248v31M753 276v11M754 247v13M754 418v3M755 247v13M755 420v8M756 229v34M756 276v6M758 242v8M759 247v16M760 255v11M761 258v14M762 239v32M763 237v19M763 263v14M764 271v3M771 218v5M772 202v3M772 234v26M773 204v4M773 228v8M773 250v10M774 258v11M775 216v18M775 247v22M776 191v8M777 188v6M778 188v4M778 232v13M779 184v4M780 184v4M780 264v10M781 189v7M781 274v2M782 188v6M783 183v8M784 175v9M785 170v5M785 202v13M785 231v9M785 271v8M786 167v6M786 199v9M786 231v8M786 268v16M787 170v26M787 224v4M788 162v19M788 268v4M789 164v22M789 223v1M789 260v8M790 178v42M790 252v11M791 170v13M791 184v20M791 218v37M792 239v5M792 253v5M793 253v13M795 252v1M795 256v16M796 231v22M797 240v15M798 247v8M799 252v8M799 272v5M800 247v6M801 207v1M801 244v4M802 204v6M802 236v20M803 228v6M803 245v7M803 263v5M804 223v5M804 264v4M805 204v16M805 258v2M806 175v17M806 212v9M806 232v23M806 384v16M807 223v32M807 392v12M808 248v7M809 248v2M810 381v23M813 242v10M814 226v27M814 383v5M815 223v8M815 244v6M815 380v36M816 218v8M816 381v5M817 237v15M817 410v5M818 229v11M819 199v35M820 247v5M821 200v21M821 226v11M822 199v1M823 199v3M824 218v6M825 224v7M826 231v5M826 407v5M827 234v3M827 386v10M827 408v4M828 232v5M828 388v8M829 231v5M829 399v11M830 231v13M830 407v1M831 240v8M831 394v11M832 239v5M832 404v1M833 226v10M834 220v8M834 396v11M835 226v14M835 392v4M838 228v22M842 256v4M843 215v8M843 240v10M844 148v11M844 210v24M845 151v3M845 236v6M846 242v6M847 245v16M848 250v6M849 111v11M850 104v7M850 149v13M851 106v6M851 143v13M852 116v9M853 112v16M854 116v11M860 143v1M861 144v4M862 151v3M863 148v4M864 144v5M865 152v7M868 186v18M869 180v6M870 175v5M871 165v10M872 128v36M873 127v8M873 167v14M874 178v11M874 218v22M875 170v13M875 186v24M875 232v8M876 164v27M876 204v11M877 167v77M880 199v6M880 228v30M881 204v11M881 224v23M883 167v13M883 231v5M884 135v21M884 183v25M884 218v14M885 157v13M885 178v10M885 207v27M886 175v16M886 204v30M887 199v37M888 199v35M889 202v5M889 223v6M890 204v30M891 164v22M891 196v30M892 154v66M893 194v42M894 194v16M894 244v6M895 132v14M895 188v6M895 205v11M895 223v11M896 130v19M896 188v6M896 202v19M897 218v5M898 213v10M899 215v8M900 135v8M901 138v10M901 156v3M902 148v11M904 154v5M905 151v8M906 154v8M907 136v26M908 136v10M910 181v13M910 213v8M912 119v6M912 189v11"/>
<path stroke="#4e7d00" transform="translate(.5)" d="M112 418v8M114 412v8M117 416v4M126 412v9M144 405v3M156 399v1M157 400v15M158 404v16M158 424v10M159 418v13M164 404v25M165 407v5M165 426v6M166 410v18M169 402v13M173 423v11M176 394v8M177 392v10M177 418v13M178 394v8M179 402v8M180 407v14M181 397v16M182 394v5M183 391v9M185 402v8M187 391v1M188 415v8M189 196v14M189 394v22M191 394v5M192 394v8M193 197v3M193 394v10M194 389v13M195 396v9M196 394v6M197 400v7M198 400v4M199 404v3M200 410v2M201 412v4M202 402v5M203 202v3M203 397v5M204 205v3M204 410v6M205 418v5M206 412v6M207 402v3M208 396v4M209 410v8M210 412v6M211 402v8M212 413v10M214 415v6M215 415v8M216 207v6M218 162v24M218 196v8M219 213v5M220 172v8M220 212v3M221 175v5M221 210v6M222 192v16M223 191v5M224 194v3M225 180v8M227 165v50M228 191v27M229 191v9M230 186v8M231 202v5M231 226v3M232 221v8M235 223v3M236 204v24M237 199v9M238 191v6M239 183v5M240 188v36M241 220v6M242 204v3M243 199v3M244 186v21M245 176v31M245 212v9M246 220v11M250 234v3M251 234v5M258 223v13M259 197v7M259 228v6M260 191v24M260 229v2M261 192v20M262 183v29M263 180v8M263 213v7M264 164v17M265 188v38M265 314v3M266 220v6M266 314v3M267 170v18M267 223v5M267 314v3M268 168v7M268 192v8M268 220v8M268 316v3M269 180v36M269 317v5M270 212v6M270 228v14M270 317v5M271 210v5M271 311v6M272 183v27M272 314v5M273 181v31M273 309v5M274 176v39M274 311v9M275 156v11M275 173v35M275 309v8M276 162v8M276 180v16M276 308v3M277 164v32M277 311v3M278 167v24M278 311v5M279 170v6M279 317v7M280 172v4M280 207v13M281 175v5M281 204v8M281 220v6M281 312v10M282 183v8M282 202v16M282 311v6M283 196v6M283 304v4M284 200v4M284 229v13M284 306v2M285 175v22M285 229v10M286 181v8M286 301v2M287 191v5M287 309v10M288 188v4M288 300v1M289 186v5M289 298v2M290 178v8M290 298v5M291 173v5M291 188v20M292 184v4M292 200v10M292 296v4M293 207v6M293 322v8M294 205v5M294 330v5M295 202v5M295 290v3M296 202v6M296 287v3M297 186v22M298 175v25M298 212v3M298 224v4M299 157v18M299 224v4M299 287v5M300 156v19M300 204v12M300 288v7M301 165v7M301 292v6M302 188v28M302 293v5M303 288v4M304 172v9M305 189v5M305 287v5M306 202v21M306 300v8M307 151v9M307 186v18M307 220v6M307 284v9M308 188v16M308 212v9M308 284v1M309 173v7M309 192v7M309 295v3M310 295v1M311 285v3M312 157v8M313 167v3M314 170v3M314 284v3M315 167v5M315 288v2M316 175v24M316 292v3M317 197v7M317 292v4M318 191v5M318 292v3M319 173v13M319 287v3M320 168v10M320 287v3M321 176v10M321 287v3M322 186v18M322 290v2M323 204v11M323 292v3M324 159v48M324 280v5M325 173v29M325 279v5M326 180v8M327 172v9M328 194v10M328 282v5M329 202v8M329 290v16M330 224v8M330 301v3M331 202v8M331 290v3M332 197v5M332 287v8M333 228v4M333 295v6M334 229v3M335 223v8M335 258v10M336 210v54M337 248v7M338 245v5M339 242v5M340 244v8M341 202v14M341 223v6M341 255v3M342 216v12M342 239v19M343 221v10M343 252v27M344 231v11M344 258v26M345 213v13M345 239v8M345 274v18M346 216v20M346 250v48M346 452v14M347 208v12M347 244v9M347 256v10M348 188v9M348 212v17M349 170v29M349 207v27M350 164v8M350 180v30M351 162v3M351 194v11M352 165v5M352 205v10M353 173v10M353 268v11M353 285v7M353 456v34M354 188v8M354 255v13M354 292v6M354 455v37M355 188v8M355 255v11M355 295v5M355 453v10M356 183v3M357 184v4M358 191v9M358 215v32M358 452v44M359 250v10M360 151v5M360 224v12M360 452v20M361 226v5M361 460v9M361 479v16M362 231v6M362 482v14M363 172v8M363 205v26M363 232v12M363 447v1M363 484v17M364 202v35M365 180v49M366 178v6M366 197v13M366 218v10M367 186v8M367 234v5M368 178v3M368 234v3M368 445v16M369 167v19M369 197v29M369 228v8M369 464v10M370 202v30M370 471v11M371 212v19M371 479v8M372 176v10M372 204v11M372 490v14M373 196v8M373 479v32M374 204v6M375 215v16M376 202v11M376 229v7M377 196v6M377 484v24M378 154v24M378 186v10M379 183v35M380 226v6M380 453v5M381 199v8M381 460v9M382 170v10M382 197v5M382 460v9M382 492v8M383 148v14M383 164v27M383 196v9M383 461v2M383 495v8M384 148v28M384 477v29M385 168v7M385 487v11M386 167v8M386 192v12M386 456v10M386 492v3M387 151v11M387 167v33M387 463v6M388 194v6M388 479v11M389 188v8M390 180v12M390 442v46M391 191v14M391 442v8M391 468v9M392 194v8M392 445v7M392 468v8M393 189v8M393 439v24M393 471v9M394 197v10M394 274v6M394 436v6M395 202v6M396 196v35M397 197v29M398 207v5M399 210v5M400 216v5M401 216v4M402 189v10M402 223v5M403 191v19M403 232v5M404 188v16M404 234v5M405 239v6M406 154v8M406 202v45M407 149v15M407 197v39M408 202v26M408 250v10M408 431v14M409 202v40M409 447v8M410 207v6M410 245v7M410 431v9M410 450v16M410 480v5M411 248v7M411 431v1M411 472v15M412 180v19M412 240v10M412 471v14M413 242v10M413 431v16M414 245v11M415 236v11M415 261v7M415 455v17M416 234v8M416 455v43M417 216v29M417 471v6M418 207v3M418 431v14M418 463v8M419 204v6M419 429v18M420 231v9M420 255v8M420 434v18M421 250v10M422 239v5M422 431v21M423 167v14M423 226v14M423 447v13M424 223v11M424 258v8M424 460v9M425 221v5M425 247v13M425 301v2M425 455v11M425 480v26M425 516v6M426 218v5M426 436v6M427 228v8M427 429v5M428 236v6M429 236v8M429 431v1M430 252v6M430 442v21M430 503v9M431 255v17M431 466v5M431 500v16M432 250v21M432 442v13M432 466v6M432 500v16M433 256v15M433 295v5M433 426v22M433 495v21M434 260v8M434 431v6M434 490v5M435 141v10M435 232v10M435 429v5M435 511v5M436 140v19M436 184v24M436 223v8M436 429v3M437 141v18M437 183v6M437 199v8M437 236v19M437 434v3M437 498v11M438 138v2M438 180v30M438 247v8M438 434v3M438 452v14M438 490v8M439 154v24M439 204v16M439 242v16M439 436v30M439 488v12M439 511v8M440 146v10M440 160v12M440 242v21M440 276v14M440 468v22M441 143v5M441 159v8M441 244v38M441 439v11M442 146v14M442 264v12M442 436v16M442 484v22M443 258v8M443 436v4M443 484v17M444 250v8M445 248v13M446 231v14M446 436v27M447 232v10M447 282v5M447 432v4M447 466v8M448 229v16M448 428v3M448 469v7M449 231v29M449 269v8M449 434v5M449 463v5M450 228v6M450 255v13M450 428v3M450 476v8M451 192v18M451 228v4M451 423v5M451 484v14M452 189v7M452 215v9M452 232v10M452 429v3M452 450v8M453 191v5M453 226v24M453 428v3M453 450v6M454 176v7M454 236v14M454 424v4M454 458v18M454 487v11M454 506v8M455 165v5M455 223v35M455 424v4M455 442v6M455 466v8M455 482v10M455 506v5M456 167v5M456 223v8M456 248v8M456 428v4M456 444v4M457 173v37M457 221v10M457 245v5M457 423v3M457 450v5M458 220v27M458 412v3M458 452v8M458 466v18M459 207v8M459 407v3M459 493v3M460 196v9M460 408v4M460 496v4M461 207v8M461 412v3M461 423v45M461 490v3M462 208v15M462 415v48M462 485v7M463 202v8M463 426v26M463 488v10M464 207v8M464 452v11M464 482v13M465 204v16M465 460v24M466 188v20M466 490v21M467 173v5M467 412v19M467 442v34M467 514v5M468 173v7M468 418v8M468 455v61M469 178v8M469 240v20M469 416v5M469 453v7M469 503v3M470 176v10M470 412v3M470 466v24M470 508v8M471 188v4M471 410v3M471 514v5M472 181v10M473 176v2M474 175v1M474 404v3M475 173v5M475 415v3M475 501v18M476 173v5M476 412v3M476 500v19M477 167v3M477 407v1M478 159v5M478 410v3M478 492v27M479 156v6M479 420v4M479 482v10M480 156v4M480 423v5M480 479v16M481 164v16M481 194v11M481 424v4M481 471v5M482 170v13M482 186v19M482 426v5M482 472v7M483 162v5M483 428v4M483 468v8M483 488v13M484 160v4M484 213v24M484 421v7M484 463v3M484 498v6M485 167v5M485 216v21M485 428v4M485 468v4M486 188v11M486 220v11M486 234v8M486 306v2M486 428v11M486 476v3M487 143v32M487 204v32M487 482v5M488 207v19M488 516v3M489 146v6M489 164v8M489 205v5M489 234v8M490 149v18M490 202v2M490 236v11M491 141v2M491 162v27M491 231v16M491 503v16M492 231v11M492 500v14M493 148v8M493 229v7M493 407v1M493 503v13M494 141v23M494 216v10M494 413v5M494 501v16M495 212v4M495 268v11M495 287v14M495 415v5M495 503v13M496 213v7M496 231v8M496 247v8M496 279v25M496 410v2M496 511v8M497 204v11M497 301v3M497 516v3M498 197v13M498 261v50M498 508v8M499 191v11M499 242v19M499 293v11M499 508v8M500 197v10M500 247v25M500 295v8M500 512v5M501 213v5M501 261v15M501 280v10M501 509v5M502 213v5M502 508v6M503 215v19M503 506v5M504 234v5M504 501v7M505 236v3M505 284v11M505 300v8M505 442v2M505 487v9M506 207v6M506 234v8M506 407v3M506 434v5M506 445v7M506 480v7M506 498v21M507 194v8M507 244v1M507 410v5M507 436v9M507 484v14M508 181v13M508 200v10M508 224v7M508 410v5M508 516v3M509 196v11M509 223v8M509 412v4M509 500v6M510 191v21M510 226v5M510 410v5M510 506v13M511 184v7M511 213v21M511 410v5M512 189v7M512 410v5M512 484v12M513 194v5M513 223v14M513 482v18M513 516v3M514 188v8M514 500v19M515 148v6M515 175v5M516 148v14M516 407v3M517 162v11M517 410v5M517 447v17M517 514v5M518 167v41M518 410v2M518 498v13M519 154v37M519 514v5M520 157v15M521 162v14M521 200v18M522 146v10M522 162v26M523 156v8M523 188v6M523 394v2M523 484v22M524 228v22M524 399v3M524 434v8M524 460v17M524 516v3M525 183v25M525 232v10M525 394v5M525 428v8M525 509v10M526 178v27M526 231v11M526 420v6M526 482v18M526 506v13M527 173v23M527 213v13M527 247v5M527 424v8M527 448v24M527 498v8M528 255v3M528 396v6M528 418v8M528 444v24M528 495v5M529 255v5M529 396v19M529 444v32M529 493v7M530 255v8M530 410v2M530 444v43M530 488v13M531 263v5M531 460v43M532 263v6M532 407v17M532 463v5M532 492v27M533 255v5M533 394v10M533 432v12M533 452v9M533 503v16M534 250v3M534 394v5M534 424v32M534 503v16M535 252v3M535 397v3M535 418v5M535 450v6M535 503v16M536 252v6M536 392v5M536 424v23M536 511v8M537 236v20M537 394v2M538 239v11M539 245v5M540 247v8M540 392v4M541 228v6M541 268v6M541 276v6M541 428v8M541 500v9M542 264v5M542 418v18M542 490v11M543 255v8M543 412v20M543 482v13M544 239v19M544 410v6M544 484v11M545 220v11M545 410v5M545 514v5M546 218v21M546 252v8M546 410v5M546 508v9M547 256v5M547 410v5M547 426v6M547 504v8M548 247v3M548 404v14M548 431v5M548 506v8M549 237v5M549 269v15M549 410v6M549 423v6M549 495v5M550 240v7M550 271v13M550 412v3M550 490v5M551 255v11M551 407v3M551 485v7M552 252v11M552 405v3M552 479v14M553 234v8M553 405v3M553 506v10M554 162v27M554 236v4M554 405v3M554 514v5M555 172v6M555 191v5M555 234v5M555 402v2M555 490v21M556 220v14M556 252v1M556 404v1M556 485v10M556 506v13M557 210v10M557 482v10M557 500v9M558 215v11M558 247v3M558 479v6M559 220v11M559 484v35M560 226v13M560 492v19M561 244v4M561 423v8M561 463v27M562 244v4M562 418v5M562 455v61M563 247v6M563 416v4M563 472v18M564 234v16M564 412v4M565 236v3M565 407v1M566 167v9M566 236v4M566 410v2M566 492v14M567 168v10M567 239v6M567 407v3M567 490v10M567 503v16M568 244v8M568 407v5M568 484v6M569 159v24M569 245v3M569 496v18M570 146v24M570 242v10M570 512v4M571 234v24M571 509v5M572 237v7M572 415v3M572 498v5M573 242v11M573 416v4M573 490v5M574 237v5M574 418v2M574 487v17M575 234v3M575 413v5M575 503v6M576 232v4M576 423v6M576 431v16M576 504v4M577 236v8M577 423v27M577 501v5M578 245v8M578 415v3M578 501v5M579 176v34M579 224v12M579 242v13M579 500v4M580 204v6M580 231v22M580 423v3M580 474v8M580 490v10M581 215v13M581 428v3M581 474v3M582 212v6M582 424v4M582 484v28M583 204v8M583 418v2M583 511v8M584 202v8M584 420v4M584 479v13M584 509v10M585 204v6M585 226v16M585 423v5M585 471v8M585 503v5M586 197v8M586 420v40M586 466v11M586 495v22M587 196v8M587 450v6M587 468v8M587 496v20M588 199v29M588 432v7M588 476v11M589 224v5M589 429v3M589 490v8M590 218v11M590 431v5M590 482v6M591 210v16M591 263v1M591 428v1M591 458v26M592 224v7M592 256v4M592 268v11M592 428v4M592 456v7M592 476v16M593 218v10M593 271v9M593 439v3M593 460v22M593 493v7M594 196v16M594 436v3M594 456v15M594 472v15M594 495v9M595 200v10M595 242v10M595 437v5M595 447v6M596 202v8M596 442v8M597 208v4M597 479v13M598 208v4M598 479v14M599 200v8M600 207v6M601 215v5M602 172v11M602 186v11M602 210v5M603 204v6M604 146v5M604 208v10M604 466v18M605 226v16M605 479v11M606 223v11M607 183v3M607 226v6M608 228v4M609 232v7M610 247v13M611 191v1M611 266v3M611 458v10M611 490v8M611 512v4M612 162v5M612 272v5M612 453v5M612 500v14M613 146v37M613 239v16M613 274v5M613 452v4M613 516v3M614 162v26M614 231v8M614 258v10M614 455v11M615 237v13M615 466v16M616 175v13M616 247v9M616 300v6M616 456v26M617 168v10M617 180v11M617 228v8M617 444v3M617 468v51M618 164v14M618 226v5M618 445v3M618 471v21M618 503v13M619 157v18M619 202v11M619 228v6M619 448v4M619 509v7M620 236v14M620 453v5M620 504v8M621 236v27M621 466v2M621 476v8M622 192v7M622 215v19M622 252v9M622 464v4M622 474v8M623 186v24M623 221v8M623 245v10M623 258v8M623 463v5M623 474v13M624 176v7M624 202v5M624 220v6M624 247v13M624 463v3M624 492v4M625 176v7M625 196v8M625 223v5M625 463v3M625 492v6M626 218v37M626 466v5M626 477v13M627 205v15M627 231v21M627 471v1M628 231v16M628 309v5M629 168v23M629 242v6M629 471v14M630 244v4M630 472v12M632 266v2M632 476v6M632 495v5M633 160v5M633 189v8M633 229v27M633 471v3M633 495v24M634 167v19M634 236v27M634 474v21M635 263v8M636 223v9M636 250v8M637 232v10M637 482v8M638 228v6M638 479v8M639 232v7M640 239v5M640 472v12M640 490v11M641 236v4M641 484v8M641 498v11M642 237v3M642 487v5M642 500v8M643 242v3M644 247v5M645 244v3M646 154v2M646 240v4M646 488v18M647 244v6M648 247v5M648 496v20M649 250v5M650 250v26M651 247v29M652 250v8M652 501v3M653 244v6M653 501v5M654 250v2M654 498v5M655 234v29M656 223v19M657 218v10M657 248v4M658 248v5M659 226v13M660 232v7M661 239v3M662 240v4M663 240v5M664 205v5M665 205v7M666 224v7M667 232v4M667 268v8M668 231v5M669 189v10M669 224v5M670 210v10M671 215v5M672 221v5M673 156v3M673 221v7M674 149v2M674 220v3M675 148v1M675 221v5M675 247v8M676 264v5M677 220v14M677 245v13M678 151v51M679 180v36M680 188v14M680 224v7M680 247v17M681 183v5M682 183v5M683 189v3M683 218v10M684 191v3M684 216v15M685 189v5M686 196v57M687 229v47M689 266v8M690 247v11M691 183v13M691 215v11M691 248v5M692 184v20M692 220v8M692 252v6M693 260v14M694 197v10M694 210v22M695 196v51M695 280v2M696 224v10M697 220v8M698 224v13M698 256v7M699 253v5M700 248v5M701 245v15M701 277v8M702 220v19M702 240v23M703 197v11M703 224v12M704 191v11M704 204v14M704 226v11M705 172v24M705 204v32M706 194v8M706 234v6M706 250v11M707 191v16M707 231v5M708 178v8M709 178v8M710 175v16M710 221v29M711 172v8M711 199v38M712 226v8M713 231v6M714 224v5M715 215v5M716 194v13M716 212v8M717 223v5M718 204v14M718 221v11M719 194v5M720 199v3M721 239v5M722 239v5M723 234v10M724 255v3M725 252v4M726 245v5M727 244v6M728 276v6M729 279v5M730 244v16M730 284v3M731 242v8M731 261v8M731 284v4M732 288v4M733 285v13M734 274v22M735 266v8M736 253v8M737 260v6M738 274v8M739 287v11M740 252v17M740 287v8M742 252v8M743 253v18M744 244v8M745 244v11M745 288v8M746 216v5M746 250v3M747 218v6M748 239v14M749 268v11M750 252v16M751 239v6M752 240v8M753 244v32M754 240v7M754 260v28M754 421v7M755 239v8M755 260v11M755 274v8M755 428v4M756 207v22M756 263v13M757 228v27M758 231v11M758 250v10M758 272v7M759 242v5M760 247v8M761 240v18M762 231v8M763 231v6M763 256v7M764 237v11M764 264v7M765 266v2M766 220v19M766 268v6M767 220v22M771 207v11M771 223v16M771 258v8M772 199v3M773 200v4M773 236v14M774 212v46M775 207v9M776 189v2M777 186v2M778 186v2M779 183v1M780 181v3M781 186v3M782 186v2M783 178v5M784 170v5M785 164v6M786 164v3M786 208v7M786 226v5M787 162v8M787 196v1M787 223v1M788 154v8M788 181v15M788 223v1M789 148v3M789 152v12M789 186v10M789 268v6M790 167v11M790 263v3M791 162v8M791 183v1M791 204v14M791 255v8M792 167v8M792 202v11M792 216v23M792 244v9M792 258v3M793 202v18M793 239v14M794 188v11M795 183v17M795 244v8M795 253v3M796 180v51M797 207v33M798 210v16M798 242v5M799 247v5M800 186v14M800 242v5M801 196v11M801 208v10M801 239v5M802 196v8M802 210v10M802 226v10M803 223v5M803 252v11M804 218v5M804 258v6M805 170v34M805 397v5M806 151v3M806 192v20M807 178v22M807 213v10M807 384v8M808 239v9M809 240v8M809 384v23M810 172v16M810 250v3M811 383v27M812 247v5M812 386v24M813 218v24M814 218v8M815 216v7M816 210v8M817 218v19M817 391v19M818 207v22M819 194v5M820 199v48M821 194v6M821 237v15M823 196v3M824 210v8M825 220v4M826 224v7M827 228v6M828 228v4M828 383v5M829 228v3M829 392v7M830 224v7M830 394v13M830 408v2M831 220v14M831 236v4M831 389v5M832 229v10M832 391v13M833 215v11M833 396v9M834 213v7M835 218v8M835 396v12M837 224v20M838 218v10M839 224v10M840 215v21M841 208v31M841 256v4M842 148v6M842 207v19M842 247v9M843 149v8M843 207v8M843 223v17M844 202v8M845 196v40M846 207v8M846 237v5M847 236v9M848 244v6M849 106v5M849 154v5M849 213v21M850 100v4M850 143v6M851 100v6M851 156v3M852 109v7M853 108v4M854 109v7M855 114v8M861 143v1M862 148v3M863 146v2M864 140v4M865 146v6M866 194v5M867 189v18M868 178v8M869 175v5M870 170v5M871 141v24M873 135v32M874 168v10M875 162v8M876 159v5M876 191v13M877 159v8M878 186v21M879 199v19M879 229v26M880 189v10M881 167v3M881 196v8M882 164v14M882 221v13M883 156v11M883 180v11M883 200v31M884 127v8M885 135v22M885 188v19M886 164v11M886 191v13M887 184v15M888 191v8M889 197v5M890 170v6M890 200v4M891 151v13M891 186v10M892 141v13M893 172v22M894 188v6M894 210v8M894 236v8M895 112v20M895 146v6M895 184v4M895 216v7M896 122v8M896 149v3M896 184v4M897 186v32M898 172v41M899 162v32M899 208v7M900 130v5M901 133v5M902 138v10M903 148v9M904 140v14M905 141v10M906 144v10M907 130v6M908 130v6M908 146v8M909 138v2M910 176v5M910 194v19M911 181v42M912 103v16M912 125v13M912 164v25"/>
<path stroke="#5c7900" transform="translate(.5)" d="M112 413v5M113 415v8M133 412v3M136 412v1M144 408v4M145 407v8M158 420v4M165 412v14M171 170v8M179 396v6M180 397v10M181 391v6M182 391v3M188 402v13M189 191v5M189 210v6M189 391v3M190 183v8M192 391v3M193 191v6M194 192v8M195 200v4M195 391v5M196 197v7M196 392v2M197 394v6M198 396v4M199 210v2M199 400v4M200 405v5M201 410v2M202 202v5M202 399v3M203 196v6M203 394v3M204 199v6M204 399v11M205 202v8M205 412v6M206 212v3M206 407v5M207 173v29M207 397v5M208 164v3M208 394v2M209 208v4M209 402v8M210 208v2M210 402v10M211 208v2M211 399v3M212 405v8M214 410v5M215 215v5M215 407v8M216 199v8M216 413v5M218 186v10M218 415v3M219 167v16M219 207v6M220 165v7M220 180v12M220 204v8M220 418v5M221 165v10M221 180v30M222 183v9M223 189v2M224 191v3M228 184v7M229 180v11M230 172v14M231 192v10M232 215v6M234 221v5M235 204v19M236 194v10M237 192v7M238 186v5M239 180v3M240 181v7M241 208v12M242 164v4M242 199v5M243 192v7M244 178v8M245 170v6M245 207v5M246 205v15M246 231v5M249 232v5M250 229v5M251 228v6M254 239v3M256 239v3M257 212v27M258 165v13M258 204v19M259 164v33M259 204v24M260 162v29M260 215v14M261 164v28M261 212v6M261 231v5M262 172v11M262 212v6M262 237v2M263 172v8M263 220v17M263 317v2M265 164v24M265 312v2M266 212v8M266 311v3M267 164v6M267 188v4M267 216v7M267 311v3M268 164v4M268 200v20M268 312v4M269 175v5M269 314v3M270 178v16M270 205v7M270 314v3M271 178v14M271 204v6M271 306v5M272 178v5M272 308v6M273 176v5M273 306v3M274 157v19M274 306v5M275 151v5M275 304v5M276 159v3M276 304v4M277 160v4M277 308v3M278 160v7M278 308v3M279 162v8M279 304v13M280 167v5M280 306v16M281 170v5M281 212v8M281 306v6M282 176v7M282 306v5M283 183v13M284 196v4M285 167v8M286 175v6M287 186v5M287 303v6M288 183v5M289 183v3M290 172v6M291 170v3M292 176v8M292 188v12M293 199v8M293 298v24M294 199v6M294 292v24M294 320v10M295 194v8M296 186v16M297 178v8M298 164v11M298 200v12M298 215v9M299 175v13M299 212v12M300 175v29M300 284v4M301 287v5M302 290v3M303 285v3M305 156v14M305 184v5M305 284v3M306 162v6M306 191v11M306 293v7M307 204v16M308 204v8M309 180v12M309 292v3M310 292v3M312 151v6M313 164v3M314 167v3M314 282v2M315 164v3M315 285v3M316 167v8M316 288v4M317 188v9M317 287v5M318 181v10M318 288v4M319 152v21M319 282v5M320 159v9M320 284v3M321 170v6M321 282v5M322 178v8M322 285v5M323 184v20M323 290v2M324 151v8M324 276v4M325 159v14M326 172v8M327 154v18M328 183v11M328 280v2M329 196v6M329 284v6M330 212v12M330 292v9M331 156v9M331 196v6M331 285v5M332 194v3M332 284v3M333 221v7M333 290v5M334 226v3M335 216v7M336 202v8M337 218v6M337 242v6M338 242v3M339 237v5M340 200v8M340 228v16M341 165v37M341 216v7M341 229v15M341 252v3M342 159v29M342 202v14M343 212v9M344 207v24M345 205v8M345 226v13M346 212v4M346 236v14M347 196v12M347 253v3M348 167v21M349 164v6M350 160v4M351 157v5M352 162v3M353 167v6M353 279v6M354 183v5M354 268v4M354 284v8M355 184v4M355 266v29M356 178v5M357 180v4M358 186v5M358 200v15M358 447v5M359 189v61M359 453v19M360 148v3M360 156v8M360 188v36M360 448v4M360 472v24M361 144v18M361 188v16M361 218v8M361 445v15M361 469v10M361 495v5M362 175v9M362 212v19M362 444v8M362 476v6M362 496v4M363 164v8M363 180v9M363 196v9M363 231v1M363 448v8M363 474v10M364 167v35M364 442v8M365 172v8M366 173v5M366 210v8M366 444v14M367 178v8M367 194v8M367 231v3M367 444v14M368 168v10M368 181v29M368 229v5M368 461v8M369 156v11M369 186v11M369 226v2M369 474v18M370 149v53M370 482v8M371 164v48M371 487v6M372 167v9M372 186v18M372 504v7M373 183v13M374 196v8M374 461v26M374 503v11M375 202v13M375 466v22M376 192v10M376 213v16M376 458v51M377 151v21M377 189v7M377 466v18M377 508v3M378 148v6M378 178v8M378 453v2M378 472v40M379 170v13M379 456v2M380 191v35M380 458v10M381 178v21M381 469v15M381 485v26M382 162v8M382 180v17M382 469v23M383 162v2M383 191v5M383 463v32M385 148v3M385 160v8M386 162v5M387 146v5M387 452v11M388 149v31M388 184v10M388 447v5M388 468v11M389 176v12M389 447v5M389 469v37M390 175v5M390 488v5M391 183v8M391 477v7M392 188v6M392 439v6M392 476v4M393 183v6M394 191v6M394 442v11M394 460v17M395 196v6M395 434v13M396 188v8M397 189v8M398 200v7M399 205v5M400 210v6M401 165v35M401 212v4M401 487v3M402 181v8M402 199v24M403 186v5M403 210v8M403 226v6M404 175v13M404 204v8M404 229v5M404 429v10M405 156v43M405 220v19M405 431v9M406 148v6M406 162v6M406 194v8M406 431v11M406 485v2M407 144v5M407 164v6M407 191v6M407 428v17M408 188v14M408 445v7M409 192v10M409 455v5M409 484v4M410 202v5M410 213v8M410 240v5M410 466v14M411 244v4M412 167v13M412 199v8M412 236v4M413 236v6M413 447v41M414 232v13M414 466v19M415 226v10M415 428v6M415 442v13M415 472v15M415 488v12M416 154v5M416 224v10M416 431v3M416 444v11M417 210v6M417 464v7M418 202v5M418 445v18M419 199v5M420 180v6M420 215v16M420 240v15M420 431v3M421 176v20M421 239v11M422 175v11M422 232v7M423 159v8M423 181v7M423 215v11M423 439v8M424 165v21M424 218v5M424 442v18M425 216v5M425 440v15M426 207v11M426 431v5M427 199v29M428 205v31M429 210v26M430 244v8M430 431v11M431 248v7M431 436v30M432 148v4M432 240v10M432 428v14M432 455v11M433 180v8M433 236v20M434 172v16M434 234v26M434 426v5M434 495v6M435 151v11M435 178v24M435 226v6M435 428v1M436 159v8M436 176v8M436 208v15M436 426v3M437 159v8M437 175v8M437 207v29M437 431v3M437 509v8M438 140v40M438 210v10M438 239v8M438 431v3M438 498v14M439 143v11M439 178v10M439 192v12M439 220v22M439 431v5M439 500v11M440 138v8M440 172v8M440 234v8M440 263v13M440 436v32M440 490v29M441 167v8M441 237v7M441 436v3M441 450v64M442 140v6M442 160v7M442 250v14M442 431v5M442 452v32M442 506v5M443 151v5M443 248v10M443 428v8M443 440v12M443 479v5M443 501v5M444 240v10M444 429v18M444 487v9M445 220v28M445 436v24M445 492v9M446 223v8M446 431v5M446 463v11M446 492v19M447 226v6M447 428v4M447 474v16M447 496v4M448 221v8M448 421v7M448 476v14M449 223v8M449 260v9M449 431v3M449 468v6M450 223v5M450 424v4M450 484v11M451 188v4M451 210v18M451 420v3M451 498v8M452 184v5M452 224v8M452 426v3M452 458v16M452 492v9M453 184v7M453 426v2M453 456v12M453 493v23M454 172v4M454 423v1M454 476v11M454 514v5M455 159v6M455 421v3M455 448v18M455 474v8M455 511v5M456 164v3M456 231v17M456 426v2M456 448v7M456 484v24M457 167v6M457 231v14M457 420v3M457 455v8M458 205v15M458 410v2M458 460v6M458 484v4M459 196v11M459 405v2M459 496v4M460 188v8M460 405v3M460 500v3M461 199v8M461 410v2M461 493v5M462 199v9M462 412v3M462 492v6M463 188v14M463 415v11M463 498v6M464 189v18M464 434v18M464 495v8M465 175v29M465 436v24M465 484v24M466 175v13M466 412v30M466 464v26M466 511v5M467 170v3M467 405v7M468 170v3M468 413v5M468 516v3M469 173v5M469 412v4M469 460v43M469 506v10M470 159v17M470 408v4M470 516v3M471 148v40M471 407v3M472 170v11M473 175v1M475 170v3M475 410v5M476 170v3M476 407v5M477 162v5M478 154v5M478 407v3M479 152v4M479 416v4M479 492v8M480 151v5M480 420v3M480 495v11M481 157v7M481 180v14M481 421v3M481 476v22M482 162v8M482 183v3M482 423v3M482 479v21M483 156v6M483 424v4M483 476v12M483 501v10M484 156v4M484 416v5M484 466v6M484 484v14M484 504v12M485 162v5M485 424v4M485 472v7M485 498v16M486 170v18M486 231v3M486 421v7M486 479v3M487 487v11M489 152v12M489 210v10M489 224v10M490 226v10M491 143v19M491 189v15M491 216v15M492 140v3M492 226v5M492 514v5M493 156v11M493 223v6M493 516v3M494 140v1M494 164v8M494 205v11M494 410v3M494 517v2M495 156v1M495 207v5M495 279v8M495 410v5M495 516v3M496 207v6M496 239v8M496 407v3M497 192v12M498 186v11M498 311v1M498 516v3M499 183v8M499 261v32M499 516v3M500 176v21M500 272v23M500 517v2M501 164v25M501 208v5M501 276v4M501 514v5M502 167v21M502 207v6M502 514v5M503 204v11M503 511v8M504 228v6M504 508v6M505 202v21M505 228v8M505 295v5M505 496v23M506 197v10M506 213v21M506 439v6M506 487v11M507 183v11M507 408v2M508 175v6M508 210v14M508 408v2M509 186v10M509 207v16M509 408v4M509 506v13M510 184v7M510 212v14M510 407v3M511 178v6M512 183v6M513 188v6M514 148v24M514 178v10M515 143v5M516 133v15M517 140v22M517 407v3M518 143v24M518 511v8M519 143v11M520 148v9M521 149v13M522 138v8M523 148v8M523 164v11M523 178v10M524 183v45M524 396v3M524 442v18M524 477v8M524 506v10M525 175v8M525 208v24M525 436v52M525 500v9M526 133v23M526 170v8M526 205v26M526 426v8M526 450v32M526 500v6M527 143v30M527 196v17M527 226v21M527 432v16M527 506v13M528 208v10M528 252v3M528 426v18M528 500v6M529 202v13M529 250v5M529 415v9M529 437v7M529 500v6M530 247v8M530 397v13M530 412v12M530 434v10M530 501v10M531 256v7M531 404v22M531 448v12M531 503v16M532 256v7M532 402v5M532 424v8M532 458v5M533 154v6M533 250v5M533 444v8M534 151v8M534 184v10M534 245v5M535 176v10M535 247v5M535 394v3M535 423v5M535 444v6M536 239v13M536 391v1M537 146v29M537 226v10M538 148v36M538 223v16M539 239v6M540 228v19M541 223v5M541 234v11M541 256v12M541 274v2M541 405v23M541 509v10M542 228v11M542 261v3M542 404v14M542 501v10M543 244v11M543 408v4M543 495v24M544 228v11M544 407v3M544 495v24M545 212v8M545 407v3M546 210v8M546 239v13M546 404v6M546 517v2M547 220v3M547 252v4M547 400v10M547 415v11M547 512v7M548 245v2M548 400v4M548 418v13M548 514v5M549 231v6M549 405v5M549 500v16M550 234v6M550 410v2M550 495v5M551 244v11M551 404v3M551 492v14M552 234v18M552 400v5M552 493v23M553 144v21M553 202v32M553 404v1M553 516v3M554 156v6M554 189v47M554 404v1M555 165v7M555 196v11M555 208v26M556 181v39M556 495v11M557 196v14M557 492v8M557 509v10M558 148v12M558 196v19M558 485v29M559 162v37M559 202v18M560 184v42M561 239v5M561 412v11M561 490v10M561 508v11M562 239v5M562 410v8M562 516v3M563 228v19M563 412v4M564 226v8M564 410v2M565 234v2M566 160v7M566 176v7M566 232v4M567 143v25M567 178v24M567 234v5M567 500v3M568 146v56M568 239v5M568 490v5M568 509v10M569 148v11M569 183v9M569 242v3M569 514v5M570 170v13M570 236v6M570 516v3M571 149v3M571 228v6M571 514v3M572 231v6M572 412v3M572 503v8M573 236v6M573 415v1M573 495v8M574 234v3M574 413v5M574 504v12M575 231v3M575 412v1M575 509v5M576 229v3M576 418v5M576 508v4M577 231v5M577 418v5M577 506v3M578 180v22M578 231v14M578 506v3M579 156v20M579 236v6M579 504v7M580 172v19M580 192v12M580 420v3M580 482v8M580 500v6M581 207v8M581 424v4M581 477v32M582 197v15M582 420v4M582 512v7M583 189v15M584 189v13M585 196v8M585 420v3M585 479v24M585 508v11M586 188v9M586 477v18M586 517v2M587 191v5M587 421v29M587 476v20M587 516v3M588 192v7M588 428v4M588 487v22M589 204v20M589 428v1M589 498v21M590 205v13M590 428v3M590 488v13M591 200v10M591 484v9M592 207v17M592 260v8M592 463v13M592 492v8M593 199v19M593 436v3M593 500v6M594 176v20M594 432v4M594 471v1M594 504v12M594 517v2M595 188v12M595 434v3M595 453v7M595 490v29M596 194v8M596 436v6M596 450v10M596 496v20M597 202v6M597 444v35M597 492v22M598 165v23M598 202v6M598 466v13M598 493v11M599 167v33M599 444v3M600 197v10M600 439v11M601 162v26M601 210v5M601 452v19M602 151v21M602 197v13M602 444v27M602 492v14M603 146v14M603 175v29M603 444v33M603 493v21M604 151v5M604 192v16M604 450v16M604 484v35M605 192v34M605 450v2M605 463v16M605 490v16M606 181v42M606 448v15M606 503v9M607 175v8M607 186v11M607 218v8M607 450v16M607 511v8M608 220v8M608 463v13M608 517v2M609 215v17M609 456v31M609 512v7M610 240v7M610 463v54M611 180v11M611 192v8M611 244v12M611 263v3M611 452v6M611 516v3M612 148v14M612 167v29M612 236v17M612 268v4M612 448v5M612 514v5M613 140v6M613 183v8M613 234v5M613 255v5M613 266v8M613 448v4M614 146v16M614 188v8M614 223v8M614 450v5M615 226v11M615 456v10M615 482v10M615 503v16M616 167v8M616 188v8M616 234v5M616 240v7M616 450v6M616 482v6M616 511v8M617 164v4M617 191v6M617 221v7M618 156v8M618 178v6M618 216v10M618 516v3M619 151v6M619 175v11M619 191v11M619 213v15M619 516v3M620 156v11M620 450v3M620 512v5M621 461v5M621 484v16M622 188v4M622 460v4M622 482v10M623 180v6M623 210v11M623 255v3M623 458v5M623 487v8M624 170v6M624 207v13M624 458v5M624 496v5M625 170v6M625 204v19M625 460v3M625 498v5M626 173v45M626 463v3M626 490v29M627 194v11M627 466v5M627 472v12M627 506v13M628 172v59M628 314v8M628 472v10M628 514v2M629 162v6M629 191v8M629 234v8M629 466v5M629 485v13M630 164v24M630 237v7M630 468v4M630 484v8M631 468v14M632 164v41M632 468v8M632 482v13M632 500v19M633 154v6M633 197v10M633 220v9M633 466v5M634 162v5M634 186v6M634 228v8M634 469v5M634 495v6M635 224v20M635 255v8M635 476v30M636 215v8M636 232v18M636 477v42M637 218v14M637 476v6M637 490v8M637 508v11M638 148v20M638 226v2M638 471v8M638 487v8M638 511v8M639 146v18M639 226v6M639 479v38M640 208v5M640 234v5M640 501v15M641 218v18M641 477v7M641 509v7M642 234v3M642 484v3M642 508v4M643 237v5M643 490v10M644 242v5M645 175v3M645 239v5M645 495v8M646 156v22M646 208v15M646 234v6M646 485v3M646 506v8M647 234v10M647 492v24M648 220v27M648 492v4M649 244v6M650 244v6M651 239v8M651 500v4M652 239v11M652 496v5M653 223v11M653 239v5M653 495v6M654 228v9M654 248v2M654 492v6M655 228v6M655 501v5M656 207v16M656 503v3M657 212v6M657 228v14M657 244v4M657 501v2M658 218v19M658 240v8M659 192v34M660 204v28M661 236v3M662 237v3M663 202v18M663 234v6M664 202v3M665 199v6M666 202v22M667 228v4M667 276v3M667 284v3M668 181v18M668 228v3M669 183v6M669 199v8M669 218v6M670 199v11M671 210v5M672 218v3M673 159v5M673 218v3M674 151v6M674 215v5M675 149v8M675 218v3M676 151v5M676 180v12M676 226v18M676 260v4M677 154v66M679 156v24M680 178v10M680 202v22M681 173v10M682 178v5M683 186v3M684 186v5M685 184v5M686 183v13M687 180v49M688 186v16M688 231v45M689 239v27M690 231v16M691 172v11M691 196v19M691 226v22M692 175v9M692 204v16M692 228v6M692 247v5M693 194v42M693 252v8M693 274v5M694 192v5M694 232v12M694 264v13M695 162v13M695 181v15M695 247v33M696 162v62M697 170v19M697 213v7M698 218v6M698 237v19M699 248v5M700 244v4M701 229v16M702 208v12M703 183v14M703 208v16M704 175v16M704 218v8M706 172v22M706 202v8M706 228v6M707 172v19M707 207v8M707 223v8M708 173v5M709 170v8M712 175v19M712 220v6M713 226v5M714 220v4M715 208v7M716 186v8M716 207v5M717 191v32M718 194v10M718 218v3M719 188v6M721 208v31M722 231v8M723 228v6M724 252v3M725 247v5M726 242v3M727 237v7M728 229v15M728 248v28M729 202v48M729 274v5M730 204v19M730 231v13M730 260v24M731 234v8M731 269v15M732 250v18M732 284v4M733 253v32M734 239v13M734 264v10M735 234v32M736 226v27M737 218v27M737 248v12M738 268v6M739 282v5M740 244v8M740 269v18M741 176v23M741 250v2M743 247v6M744 199v22M745 196v25M746 196v20M747 202v16M748 226v13M749 240v28M750 239v13M751 234v5M752 231v9M753 234v10M753 420v1M754 234v6M754 428v1M755 228v11M755 271v3M756 197v10M757 220v8M757 255v13M757 276v4M758 226v5M758 260v12M759 236v6M760 242v5M761 234v6M762 226v5M763 226v5M764 228v9M764 248v16M765 260v6M766 213v7M766 239v8M766 256v12M767 196v24M767 242v18M768 253v10M769 252v19M770 272v5M771 239v19M772 194v5M773 196v4M774 204v8M775 184v23M776 188v1M777 183v3M778 183v3M779 180v3M779 423v8M780 178v3M781 181v5M782 181v5M783 172v6M784 165v5M785 159v5M786 157v7M786 215v1M786 223v3M787 146v16M788 143v11M789 151v1M789 196v1M790 159v8M791 159v3M792 159v8M792 175v27M792 213v3M793 173v7M793 192v10M793 220v1M793 236v3M794 180v8M794 199v8M795 100v1M795 178v5M795 200v7M795 240v4M796 95v5M796 175v5M797 186v21M798 197v13M798 226v6M798 237v5M799 180v38M799 242v5M800 159v27M800 200v20M800 237v5M801 162v5M801 186v10M801 218v21M802 191v5M802 220v6M803 191v19M803 218v5M804 186v32M805 228v1M806 106v3M806 148v3M807 173v5M807 200v13M808 186v19M808 229v10M808 386v18M809 178v62M810 160v12M810 188v62M811 183v11M811 250v2M812 234v13M813 176v15M813 208v10M814 207v11M815 200v16M816 170v13M816 202v8M817 210v8M817 384v7M818 191v16M819 191v3M820 196v3M821 188v6M823 192v4M824 205v5M825 213v7M826 218v6M827 183v11M827 226v2M828 226v2M829 226v2M829 383v9M830 220v4M830 386v8M831 212v8M831 234v2M832 207v22M833 205v10M834 192v21M835 164v4M835 212v6M836 220v24M836 396v9M837 212v12M838 210v8M839 215v9M839 234v13M840 202v13M840 236v16M841 188v20M841 239v17M842 183v24M843 202v5M844 103v16M844 178v24M845 183v13M846 194v13M846 215v22M847 119v1M847 205v31M848 109v15M848 208v36M849 100v6M849 149v5M849 207v6M849 234v5M850 96v4M851 98v2M852 104v5M852 141v2M853 103v5M854 104v5M855 104v10M855 146v10M859 140v3M860 140v3M861 140v3M862 146v2M863 143v3M864 133v7M865 140v6M866 186v8M866 199v3M867 180v9M868 170v8M869 148v11M869 168v7M870 148v9M870 162v8M871 132v9M874 154v14M875 154v8M876 154v5M877 156v3M878 176v10M878 207v37M879 183v16M879 218v11M880 175v14M881 156v11M881 170v26M882 159v5M882 178v10M882 212v9M883 149v7M883 191v9M884 116v11M885 127v8M886 143v21M887 170v14M888 138v10M888 168v23M889 109v48M889 162v26M889 189v8M890 159v11M890 176v10M890 194v6M891 141v10M892 120v21M893 103v25M893 160v12M894 114v11M894 175v13M894 218v18M895 103v9M895 152v7M895 180v4M896 114v8M896 152v4M896 181v3M897 127v19M897 180v6M898 135v1M898 165v7M899 138v24M899 194v14M900 125v5M901 130v3M902 132v6M903 136v12M904 125v15M905 112v29M906 124v20M907 100v8M907 124v6M908 127v3M908 154v6M909 103v8M909 127v11M909 140v11M910 100v3M910 172v4M911 170v11M912 138v26"/>
<path stroke="#6a7400" transform="translate(.5)" d="M124 412v11M127 410v13M128 412v8M129 412v8M131 413v5M132 412v4M135 413v2M172 167v8M177 178v3M180 186v8M180 394v3M188 391v11M189 186v5M190 172v11M191 183v11M193 188v3M194 188v4M195 194v6M196 170v2M196 189v8M197 167v1M197 194v6M198 200v5M198 392v4M199 204v6M199 396v4M200 402v3M201 204v3M201 405v5M202 196v6M202 392v7M203 191v5M204 196v3M204 394v5M205 196v6M205 404v8M206 191v21M206 402v5M207 165v8M207 202v8M207 396v1M208 167v3M209 164v3M209 207v1M209 399v3M210 164v1M210 207v1M210 396v6M211 207v1M212 172v16M212 215v3M212 400v5M213 172v9M213 218v5M213 415v3M214 210v5M214 405v5M215 208v7M215 402v5M216 186v13M216 412v1M219 164v3M219 183v11M219 200v7M219 416v2M220 192v12M220 413v5M221 164v1M222 172v11M223 186v3M224 188v3M228 167v17M229 164v16M230 164v8M231 172v20M232 210v5M234 215v6M235 191v13M236 186v8M237 186v6M238 180v6M239 175v5M240 176v5M241 189v19M242 168v12M242 196v3M243 167v25M244 172v6M246 172v33M247 207v27M248 223v13M249 229v3M250 226v3M251 224v4M252 231v8M254 234v5M255 234v5M256 226v13M257 168v24M257 200v12M258 164v1M258 178v26M261 218v13M262 167v5M262 218v8M262 229v8M263 164v8M265 162v2M266 167v32M266 200v12M267 159v5M267 192v5M267 210v6M268 160v4M268 308v4M269 168v7M269 311v3M270 173v5M270 194v11M270 309v5M271 172v6M271 192v12M272 173v5M272 306v2M273 172v4M274 154v3M276 156v3M277 157v3M278 156v4M278 306v2M279 154v8M279 303v1M280 160v7M281 165v5M282 170v6M283 175v8M284 170v26M285 162v5M286 167v8M287 156v3M287 178v8M287 301v2M288 154v3M288 178v5M289 178v5M290 165v7M291 164v6M292 172v4M293 184v15M293 295v3M294 191v8M294 316v4M295 154v40M296 178v8M297 173v5M298 160v4M299 188v24M301 284v3M302 287v3M305 170v14M306 152v10M306 168v23M306 288v5M309 288v4M310 290v2M313 160v4M314 164v3M315 157v7M315 282v3M316 159v8M316 284v4M317 175v13M317 284v3M318 159v22M318 285v3M319 148v4M319 279v3M320 151v8M320 279v5M321 162v8M321 277v5M322 159v19M322 280v5M323 154v30M323 285v5M325 152v7M326 149v23M327 152v2M328 159v24M329 191v5M329 280v4M330 199v13M330 287v5M331 148v8M331 165v7M331 192v4M331 282v3M332 156v19M332 186v8M333 208v13M333 285v5M334 220v6M335 210v6M336 192v10M337 200v18M337 224v18M338 237v5M339 234v3M340 165v35M340 208v20M341 149v16M341 244v8M342 151v8M342 188v14M343 154v34M343 200v12M344 159v9M344 196v11M345 167v24M345 197v8M346 170v18M346 205v7M347 160v36M348 159v8M349 160v4M350 156v4M351 154v3M352 157v5M353 164v3M354 175v8M354 272v12M355 178v6M356 173v5M357 178v2M359 148v9M359 186v3M359 445v8M359 472v28M360 164v6M360 180v8M361 143v1M361 162v26M361 204v14M362 162v13M362 184v28M362 452v24M363 156v8M363 189v7M363 456v18M364 156v11M364 450v24M364 485v16M365 164v8M365 444v17M366 168v5M366 458v8M367 172v6M367 202v6M367 228v3M367 458v10M368 164v4M368 210v19M368 469v10M368 503v3M369 149v7M369 492v14M370 143v6M370 490v5M371 152v12M371 493v7M371 511v3M372 157v10M373 172v11M374 183v13M374 448v13M374 487v16M375 162v40M375 453v13M375 488v26M376 159v33M376 447v11M376 509v5M377 148v3M377 172v17M377 450v16M378 146v2M378 455v17M379 162v8M379 458v56M380 178v13M380 468v40M381 168v10M381 484v1M382 146v16M385 151v9M386 143v1M386 151v11M388 146v3M388 180v4M388 452v16M389 167v9M389 452v17M390 168v7M391 175v8M392 180v8M392 480v2M393 176v7M394 183v8M394 453v7M395 188v8M395 447v11M396 181v7M396 434v10M397 181v8M398 192v8M398 460v19M399 200v5M399 432v7M400 199v11M400 432v13M401 151v14M401 200v12M401 429v16M401 479v8M402 143v11M402 172v9M402 487v5M403 148v4M403 181v5M403 218v8M403 434v6M404 146v29M404 212v17M404 439v19M404 488v4M405 149v7M405 199v21M405 440v10M405 479v8M406 146v2M406 168v7M406 184v10M406 442v8M406 472v13M407 143v1M407 170v21M407 445v11M407 479v11M408 148v40M408 452v6M409 178v14M409 460v6M409 479v5M410 196v6M410 221v19M411 191v25M411 239v5M412 156v11M412 207v5M412 231v5M413 164v30M413 229v7M414 215v17M414 431v35M414 485v11M415 151v8M415 215v11M415 434v8M415 487v1M416 146v8M416 159v13M416 210v14M416 434v10M417 148v22M417 205v5M417 429v35M418 148v19M418 197v5M419 146v53M420 140v3M420 172v8M420 186v13M420 202v13M421 172v4M421 196v12M421 229v10M422 165v10M422 186v46M423 154v5M423 188v6M423 207v8M423 432v7M424 159v6M424 186v5M424 213v5M424 436v6M425 212v4M425 436v4M426 194v13M426 428v3M427 186v13M428 175v30M429 186v24M430 199v45M431 146v11M431 194v54M431 429v7M432 143v5M432 152v8M432 188v19M432 232v8M433 143v37M433 188v9M433 231v5M434 141v31M434 188v9M434 229v5M434 424v2M434 501v15M435 162v16M435 202v13M435 218v8M436 167v9M436 424v2M437 167v8M437 426v5M438 220v19M438 428v3M438 512v5M439 188v4M439 426v5M440 180v8M440 207v27M440 428v8M441 175v27M441 231v6M441 431v5M441 514v5M442 167v3M442 194v13M442 239v11M442 426v5M442 511v8M443 143v8M443 156v8M443 237v11M443 423v5M443 452v27M443 506v5M444 224v16M444 423v6M444 447v14M444 479v8M444 496v7M445 140v8M445 172v19M445 215v5M445 431v5M445 460v32M445 501v16M446 167v13M446 216v7M446 428v3M446 474v18M446 511v8M447 220v6M447 424v4M447 490v6M447 500v16M448 140v14M448 213v8M448 418v3M448 490v22M449 212v11M449 426v5M449 474v8M450 194v29M450 420v4M450 495v8M451 141v11M451 181v7M451 506v10M452 180v4M452 423v3M452 474v18M452 501v18M453 180v4M453 423v3M453 468v25M453 516v3M454 162v10M455 154v5M455 516v3M456 159v5M456 423v3M456 455v29M456 508v6M457 162v5M457 416v4M457 463v21M458 186v19M458 407v3M458 488v4M459 138v3M459 186v10M459 404v1M459 500v3M460 140v6M460 183v5M460 404v1M460 503v5M461 191v8M461 407v3M461 498v3M462 191v8M462 408v4M462 498v5M463 180v8M463 410v5M463 504v7M464 178v11M464 418v16M464 503v5M465 168v7M465 415v21M465 508v6M466 168v7M466 407v5M466 442v22M466 516v3M467 165v5M467 402v3M468 167v3M468 407v6M469 168v5M469 408v4M469 516v3M470 146v13M470 404v4M471 143v5M472 148v22M474 173v2M475 146v5M475 164v6M475 407v3M476 165v5M477 144v4M477 154v8M478 146v8M479 148v4M479 412v4M479 500v11M480 148v3M480 418v2M480 506v5M481 154v3M481 420v1M481 498v10M482 156v6M482 500v8M483 152v4M483 511v8M484 152v4M484 472v12M484 516v3M485 159v3M485 418v6M485 479v19M485 514v5M486 159v11M486 420v1M486 482v5M487 498v21M489 220v4M490 204v1M491 204v12M492 143v37M492 215v11M493 167v27M493 204v19M494 172v33M495 148v8M495 157v8M495 197v10M496 199v8M497 138v54M498 176v10M499 146v8M499 176v7M500 148v28M501 156v8M501 189v19M502 160v7M502 188v19M503 175v29M504 199v29M504 514v5M505 173v10M505 196v6M505 223v5M506 189v8M507 136v47M507 202v2M507 242v2M508 133v23M508 168v7M509 178v8M509 407v1M510 141v18M510 176v8M511 138v16M511 172v6M512 135v11M512 176v7M513 135v8M513 180v8M514 138v10M514 172v6M515 138v5M517 138v2M518 138v5M519 136v7M520 140v8M521 138v11M523 136v12M523 175v3M524 168v15M524 394v2M524 485v21M525 138v8M525 170v5M525 488v12M526 156v14M526 434v16M527 138v5M528 188v20M528 218v13M528 247v5M528 506v13M529 196v6M529 215v11M529 244v6M529 424v13M529 506v13M530 194v18M530 239v8M530 424v10M530 511v8M531 248v8M531 396v8M531 426v22M532 250v6M532 396v6M532 432v26M533 146v8M533 160v10M533 244v6M534 143v8M534 159v25M534 194v51M535 164v12M535 186v16M535 239v8M535 428v16M536 151v41M536 228v11M537 138v8M537 175v14M537 213v13M538 141v7M538 184v8M538 210v13M539 164v22M539 226v13M540 218v10M541 218v5M541 245v11M541 396v9M542 159v6M542 220v8M542 239v9M542 258v3M542 399v5M542 511v8M543 152v18M543 228v16M543 404v4M544 152v20M544 220v8M544 404v3M545 156v8M545 202v10M545 404v3M546 200v10M546 399v5M547 178v13M547 208v12M547 223v11M547 245v7M547 399v1M548 148v22M548 210v24M548 242v3M549 148v16M549 223v8M549 404v1M549 516v3M550 146v2M550 228v6M550 407v3M550 500v19M551 146v3M551 232v12M551 400v4M551 506v13M552 146v8M552 216v18M552 516v3M553 165v37M554 151v5M555 159v6M555 207v1M556 176v5M556 253v2M556 280v2M557 151v1M557 188v8M558 160v7M558 183v13M558 514v5M559 148v14M559 199v3M560 160v24M561 196v16M561 234v5M561 500v8M562 199v8M562 232v7M563 212v16M563 407v5M564 188v38M565 167v11M565 231v3M566 143v17M566 183v8M566 229v3M567 202v14M567 229v5M568 202v13M568 236v3M568 495v14M569 192v12M569 228v3M569 237v5M570 183v6M570 229v7M571 152v21M571 223v5M571 517v2M572 226v5M572 407v5M572 511v5M573 183v17M573 232v4M573 410v5M573 503v16M574 148v19M574 186v16M574 229v5M574 410v3M574 516v3M575 148v14M575 228v3M575 514v5M576 226v3M576 415v3M576 512v4M577 224v7M577 413v5M577 509v5M578 151v29M578 202v29M578 509v7M579 151v5M579 511v8M580 164v8M580 191v1M580 415v5M580 506v8M581 199v8M581 420v4M581 509v10M582 191v6M583 151v8M583 183v6M584 173v16M585 186v10M586 183v5M587 186v5M588 186v6M588 426v2M588 509v10M589 159v21M589 192v12M590 156v22M590 197v8M590 501v18M591 180v20M591 493v24M592 186v21M592 500v6M593 168v31M593 432v4M593 506v5M594 170v6M594 429v3M594 516v1M595 180v8M595 429v5M595 460v30M596 188v6M596 429v7M596 460v16M596 480v16M596 516v3M597 191v11M597 440v4M597 514v5M598 159v6M598 188v14M598 444v22M598 504v8M599 157v10M599 436v8M599 447v9M599 469v40M600 156v19M600 189v8M600 431v8M600 450v53M601 151v11M601 188v22M601 439v13M601 471v30M602 146v5M602 439v5M602 471v21M602 506v8M603 160v15M603 439v5M603 477v16M603 514v5M604 156v4M604 183v9M604 439v11M605 146v3M605 186v6M605 442v8M605 452v11M605 506v13M606 140v6M606 175v6M606 444v4M606 463v40M606 512v7M607 146v2M607 170v5M607 197v21M607 444v6M607 466v10M607 503v8M608 138v82M608 450v13M608 476v6M608 508v9M609 450v6M609 487v25M610 215v11M610 228v12M610 453v10M610 517v2M611 170v10M611 200v7M611 229v15M611 256v7M611 444v8M612 141v7M612 196v4M612 231v5M612 253v2M612 263v5M612 444v4M613 191v5M613 228v6M613 260v6M613 444v4M614 143v3M614 196v6M614 216v7M614 444v6M615 156v3M615 200v5M615 215v11M615 452v4M615 492v11M616 162v5M616 196v6M616 223v11M616 239v1M616 444v6M616 488v23M617 159v5M617 197v24M618 148v8M618 184v32M619 146v5M619 186v5M620 149v7M620 234v2M620 517v2M621 234v2M621 458v3M621 500v9M622 180v8M622 455v5M622 492v9M623 172v8M623 455v3M623 495v6M624 162v8M624 455v3M624 501v5M625 146v24M625 456v4M625 503v8M626 151v22M626 458v5M627 151v43M627 463v3M627 484v22M628 151v21M628 466v6M628 482v32M628 516v3M629 156v6M629 199v5M629 228v6M629 463v3M629 498v21M630 157v7M630 188v9M630 232v5M630 464v4M630 492v8M631 264v2M631 463v5M631 482v14M632 154v10M632 205v16M632 464v4M633 152v2M633 207v13M633 463v3M634 157v5M634 192v7M634 220v8M634 466v3M634 501v10M635 170v18M635 218v6M635 244v11M635 468v8M635 506v5M636 170v16M636 210v5M636 468v9M637 151v29M637 207v11M637 469v7M637 498v10M638 168v7M638 223v3M638 466v5M638 495v16M639 164v11M639 202v24M639 472v7M639 517v2M640 152v20M640 191v17M640 213v21M640 516v3M641 151v19M641 205v13M641 516v3M642 149v26M642 224v10M642 479v5M642 512v7M643 167v11M643 234v3M643 485v5M643 500v8M644 164v14M644 237v5M645 178v6M645 208v8M645 234v5M645 487v8M645 503v5M646 178v13M646 196v12M646 223v11M646 514v3M647 154v10M647 212v22M647 485v7M647 516v1M648 156v1M648 183v3M648 215v5M649 186v8M649 221v23M649 496v8M650 192v5M650 237v7M650 503v1M651 236v3M651 495v5M652 228v11M652 492v4M653 213v10M653 234v5M653 493v2M654 226v2M654 237v11M655 194v11M655 220v8M655 498v3M656 186v21M656 496v7M657 180v19M657 200v12M657 242v2M657 498v3M658 160v58M658 237v3M659 167v9M659 184v8M660 196v8M661 202v11M661 232v4M662 234v3M663 196v6M663 220v14M664 196v6M665 191v8M666 191v11M667 183v14M667 223v5M667 279v5M668 178v3M668 199v5M668 223v5M669 180v3M669 207v11M670 188v11M671 205v5M672 152v7M672 213v5M673 164v6M673 213v5M674 157v5M674 212v3M675 157v7M675 180v17M675 213v5M676 156v24M676 192v7M676 220v6M676 244v16M679 151v5M680 151v1M680 168v10M681 151v22M682 159v19M683 181v5M684 183v3M685 180v4M686 176v7M687 175v5M688 172v14M688 202v8M688 220v11M689 231v8M691 162v10M692 164v11M692 234v13M693 188v6M693 236v16M694 188v4M694 244v20M695 175v6M697 167v3M697 189v24M698 175v3M698 210v8M699 215v33M700 164v17M700 223v21M701 173v13M701 213v16M702 172v36M703 172v11M706 210v18M707 215v8M709 168v2M712 172v3M712 194v10M712 210v10M713 175v8M713 223v3M714 216v4M715 184v24M716 180v6M717 180v11M718 186v8M719 183v5M720 170v6M720 184v2M721 168v10M721 199v9M722 167v19M722 218v13M723 168v18M723 224v4M724 218v8M724 229v10M724 247v5M725 244v3M726 234v8M727 231v6M728 220v9M728 244v4M729 194v8M729 250v24M730 196v8M730 223v8M731 223v11M732 239v11M732 268v4M732 280v4M733 226v27M734 229v10M734 252v12M735 221v13M736 215v11M737 202v16M737 245v3M738 202v43M738 260v8M739 272v10M740 226v18M741 199v3M742 250v2M743 207v14M743 244v3M744 191v8M745 188v8M746 188v8M747 194v8M748 212v14M749 232v8M750 234v5M751 228v6M752 223v8M753 224v10M753 421v5M754 228v6M755 196v32M756 194v3M757 215v5M757 268v8M758 220v6M759 228v8M760 237v5M761 229v5M762 223v3M763 221v5M764 218v10M765 208v52M766 202v11M766 247v9M767 189v7M767 260v14M768 192v10M768 244v9M768 263v8M769 245v7M770 240v32M772 148v1M772 160v34M773 148v24M773 189v7M774 191v13M775 175v9M777 180v3M778 180v3M779 178v2M780 175v3M781 140v22M781 178v3M782 132v24M782 176v5M783 165v7M784 159v6M785 151v8M786 140v17M786 216v7M787 143v3M787 197v2M788 196v1M789 197v2M789 221v2M790 144v15M791 154v5M792 154v5M793 146v5M793 162v11M793 180v3M793 188v4M793 221v2M793 234v2M794 175v5M794 207v9M794 261v7M795 98v2M795 175v3M795 237v3M796 170v5M797 178v8M798 178v19M798 232v5M799 167v13M799 218v24M800 220v17M801 167v19M802 186v5M803 186v5M803 210v8M804 176v10M804 228v1M805 92v14M805 149v2M805 229v2M805 256v2M806 100v6M807 100v8M808 178v8M808 205v24M808 383v3M809 165v13M810 96v2M811 170v13M811 194v24M811 236v14M812 92v3M812 176v58M813 159v17M813 191v17M814 159v48M815 154v26M815 189v11M816 159v11M816 183v19M817 173v19M817 202v8M818 180v11M819 186v5M819 388v1M820 191v5M821 183v5M822 197v2M822 384v12M823 191v1M823 383v3M824 200v5M825 210v3M825 381v7M826 178v24M826 210v8M827 176v7M827 194v11M827 224v2M828 175v27M828 220v6M829 224v2M830 216v4M831 207v5M832 200v7M833 196v9M834 109v2M834 159v11M834 176v16M835 168v44M836 164v9M836 212v8M837 202v10M838 101v7M838 202v8M839 208v7M840 194v8M841 114v5M841 180v8M842 114v2M842 172v11M842 245v2M843 112v7M843 172v30M844 167v11M845 104v15M845 172v11M846 112v8M846 183v11M847 108v11M847 194v11M848 103v6M848 202v6M849 98v2M849 144v5M849 200v7M850 205v7M851 200v10M852 100v4M852 143v5M853 100v3M853 205v2M854 101v3M854 146v2M856 117v2M859 114v2M861 138v2M862 143v3M863 141v2M865 133v7M866 143v16M866 178v8M867 172v8M868 143v27M869 141v7M869 159v9M870 140v8M870 157v5M871 127v5M874 130v24M875 146v8M876 148v6M877 151v5M878 168v8M879 175v8M880 149v26M881 151v5M882 154v5M882 188v24M883 143v6M885 116v11M886 130v13M887 138v13M887 159v11M888 103v19M888 128v10M888 148v20M889 108v1M889 157v5M889 188v1M890 111v48M890 186v8M891 119v22M892 103v17M893 128v32M894 100v14M894 125v16M894 164v11M895 98v5M895 159v8M895 172v8M896 106v8M896 156v3M896 178v3M897 122v5M897 146v5M897 175v5M898 127v8M898 136v12M898 156v9M899 128v10M900 122v3M901 124v6M902 127v5M903 128v8M904 104v21M905 106v6M906 104v20M907 108v16M908 100v27M909 111v16M909 151v14M910 103v6M910 162v10M911 103v5M911 152v18"/>
<path stroke="#787000" transform="translate(.5)" d="M119 408v8M120 410v6M121 410v6M122 410v8M125 410v10M130 412v6M172 165v2M173 170v16M174 165v10M177 173v5M178 170v10M179 180v1M180 175v11M187 178v16M189 183v3M190 168v4M191 172v11M192 188v9M193 183v5M194 183v5M195 186v8M196 172v17M197 168v26M198 170v10M198 192v8M199 199v5M200 397v5M201 197v7M201 402v3M202 186v10M203 181v10M204 188v8M205 178v18M205 396v8M206 167v24M206 396v6M208 170v3M208 202v5M209 167v3M209 204v3M210 165v2M210 204v3M211 164v3M211 204v3M212 167v5M212 188v27M212 399v1M213 165v7M213 181v7M213 212v6M213 410v5M214 173v13M214 205v5M214 402v3M215 202v6M216 162v3M216 178v8M219 194v6M222 164v8M223 180v6M224 165v5M224 183v5M231 164v8M232 164v24M232 207v3M233 215v5M234 192v23M235 173v18M236 170v16M237 176v10M238 175v5M239 168v7M240 170v6M241 164v25M242 180v16M247 196v11M248 208v15M249 170v5M249 176v20M249 218v11M250 165v7M250 176v13M250 221v5M251 220v4M252 226v5M253 168v10M253 231v3M254 228v6M255 226v8M256 180v14M256 218v8M257 165v3M257 192v8M262 226v3M266 199v1M267 197v13M269 164v4M269 308v3M270 170v3M271 168v4M272 170v3M273 167v5M276 154v2M277 154v3M278 152v4M279 152v2M280 154v6M281 159v6M282 154v16M283 164v11M284 164v6M285 154v8M286 156v11M287 159v19M288 157v21M289 173v5M290 159v6M291 156v8M292 167v5M293 175v9M294 156v35M296 157v21M297 167v6M302 284v3M306 287v1M309 285v3M310 287v3M313 151v9M314 156v8M315 151v6M315 279v3M316 151v8M316 280v4M317 156v19M317 282v2M318 149v10M318 282v3M321 152v10M322 154v5M322 277v3M323 149v5M323 282v3M326 148v1M328 146v13M329 148v19M329 184v7M330 149v18M330 194v5M330 282v5M331 172v20M332 151v5M332 175v11M333 200v8M333 284v1M334 175v3M334 213v7M335 170v19M335 202v8M336 175v17M337 189v11M338 151v13M338 234v3M339 149v13M339 168v13M339 207v3M339 231v3M340 149v16M342 146v5M343 146v8M343 188v12M344 149v10M344 168v28M345 154v13M345 191v6M346 162v8M346 188v17M347 149v11M348 148v11M349 156v4M350 149v7M351 148v6M352 154v3M353 159v5M354 167v8M355 172v6M356 148v25M357 146v10M357 172v6M358 148v4M359 157v7M360 170v10M362 144v18M363 146v10M364 146v10M364 474v11M365 152v12M365 461v10M366 159v9M366 466v6M367 165v7M367 208v20M367 468v6M368 156v8M368 479v24M370 495v16M371 144v8M371 500v11M372 143v14M373 146v26M374 167v16M375 154v8M375 450v3M376 151v8M379 154v8M380 172v6M380 508v3M381 162v6M386 144v7M389 157v10M390 162v6M391 165v10M392 172v8M393 168v8M394 173v10M395 180v8M395 458v21M396 175v6M396 444v8M396 468v11M397 172v9M397 434v13M397 461v19M398 167v25M398 434v26M399 172v8M399 194v6M399 439v40M400 164v35M400 445v7M400 479v5M401 146v5M401 445v7M401 474v5M402 154v18M402 431v16M402 479v8M403 152v10M403 175v6M403 432v2M403 440v10M404 143v3M404 458v30M405 148v1M405 450v29M406 175v9M406 450v22M407 456v23M408 143v5M408 458v5M408 482v5M409 152v26M409 466v13M410 189v7M411 159v32M411 216v10M411 231v8M412 143v13M412 212v19M413 157v7M413 194v35M414 162v10M414 208v7M415 143v8M415 159v14M415 207v8M416 172v14M416 197v13M417 143v5M417 170v8M417 200v5M418 146v2M418 167v30M420 143v11M420 164v8M420 199v3M421 144v4M421 165v7M421 208v21M422 146v19M423 148v6M423 194v13M424 154v5M424 191v8M424 208v5M424 431v5M425 204v8M425 431v5M426 144v20M426 186v8M427 146v40M428 164v11M429 167v19M430 148v14M430 191v8M431 143v3M431 157v7M431 189v5M432 160v7M432 183v5M432 207v25M433 197v5M433 228v3M434 197v5M434 226v3M435 215v3M437 423v3M438 423v5M440 188v19M440 424v4M441 202v29M441 426v5M442 170v5M442 186v8M442 207v8M442 226v13M442 423v3M443 138v5M443 164v6M443 191v13M443 229v8M443 511v8M444 138v24M444 183v8M444 218v6M444 420v3M444 461v18M444 503v8M445 148v24M445 191v5M445 210v5M445 424v7M445 517v2M446 140v27M446 180v8M446 210v6M446 423v5M447 138v40M447 215v5M447 420v4M447 516v3M448 154v35M448 204v9M448 512v7M449 186v26M449 423v3M449 482v21M450 188v6M450 503v6M451 152v29M451 516v3M452 135v19M452 175v5M452 421v2M453 175v5M453 420v3M454 151v11M455 148v6M456 152v7M456 514v5M457 135v8M457 156v6M457 484v17M457 514v5M458 167v19M458 492v4M459 141v11M459 178v8M459 402v2M459 503v8M460 146v8M460 178v5M460 508v11M461 140v1M461 184v7M461 404v3M461 501v5M462 136v2M462 181v10M462 405v3M462 503v6M463 175v5M463 407v3M463 511v8M464 172v6M464 415v3M464 508v8M465 164v4M465 410v5M465 514v3M466 164v4M466 402v5M467 160v5M468 162v5M468 404v3M469 162v6M469 404v4M470 140v6M472 141v7M473 173v2M474 172v1M475 151v13M476 146v2M476 160v5M477 148v6M479 511v8M480 146v2M480 511v6M481 148v6M481 508v4M482 152v4M482 508v6M483 148v4M484 148v4M485 154v5M486 148v11M486 487v32M490 205v2M492 180v35M493 194v10M495 143v5M495 165v5M495 189v8M496 143v24M496 189v10M498 141v35M499 138v8M499 154v22M500 141v7M501 151v5M502 154v6M503 135v16M503 164v11M504 138v11M504 168v31M505 136v8M505 167v6M505 183v13M506 135v54M507 204v3M507 239v3M508 156v12M509 136v42M510 136v5M510 159v17M511 154v18M512 146v8M512 170v6M513 143v13M513 172v8M524 141v3M524 154v14M525 146v6M525 164v6M528 168v20M528 231v16M529 189v7M529 226v18M530 184v10M530 212v27M531 242v6M532 245v5M533 141v5M533 170v6M533 202v42M534 141v2M535 151v13M535 202v37M536 140v11M536 192v36M537 189v24M538 192v18M539 140v24M539 186v10M539 204v22M540 141v13M540 160v31M540 205v13M541 151v17M541 213v5M542 149v10M542 165v11M542 216v4M542 248v10M542 396v3M543 146v6M543 170v6M543 218v10M543 402v2M544 141v11M544 172v4M544 213v7M544 400v4M545 143v13M545 164v16M545 191v11M546 143v17M546 178v22M547 143v35M547 191v17M547 234v11M548 141v7M548 170v40M548 234v8M549 144v4M549 164v6M549 210v13M550 144v2M550 148v14M550 213v15M550 404v3M551 149v7M551 207v25M551 399v1M552 154v5M552 196v20M554 146v5M555 154v5M556 172v4M556 279v1M557 148v3M557 152v10M557 181v7M558 167v16M560 148v12M561 188v8M561 212v22M562 144v2M562 188v11M562 207v25M563 143v5M563 186v26M564 146v2M564 180v8M565 146v21M565 178v29M565 228v3M566 191v11M566 224v5M567 216v13M568 215v21M569 204v24M569 231v6M570 189v7M570 224v5M571 173v10M571 220v3M572 149v5M572 221v5M572 516v3M573 143v13M573 178v5M573 200v7M573 228v4M573 405v5M574 167v19M574 202v8M574 226v3M575 162v8M575 223v5M576 220v6M576 516v3M577 157v5M577 178v26M577 218v6M577 514v5M578 516v3M580 154v10M580 514v5M581 170v29M581 416v4M582 152v5M582 184v7M583 159v8M583 175v8M584 154v19M585 176v10M586 176v7M587 154v10M587 180v6M588 151v8M588 178v8M589 180v12M590 178v19M591 157v23M591 517v2M592 159v27M592 506v10M593 160v8M593 431v1M593 511v8M594 165v5M594 426v3M595 173v7M596 183v5M596 476v4M597 159v32M597 436v4M598 156v3M598 439v5M598 512v7M599 151v6M599 431v5M599 456v13M599 509v10M600 151v5M600 175v14M600 428v3M600 503v8M601 148v3M601 434v5M601 501v7M602 434v5M602 514v5M603 434v5M604 160v23M604 436v3M605 149v7M605 180v6M605 436v6M606 146v5M606 167v8M606 437v7M607 148v6M607 164v6M607 437v7M607 476v8M607 496v7M608 442v8M608 482v8M608 498v10M609 143v9M609 212v3M609 439v11M610 213v2M610 226v2M610 447v6M611 156v14M611 207v22M611 442v2M612 200v4M612 228v3M612 255v8M612 442v2M613 196v6M613 224v4M614 202v14M615 148v8M615 159v3M615 199v1M615 205v10M615 444v8M616 156v6M616 202v21M617 143v16M618 141v7M619 144v2M620 146v3M620 167v3M620 231v3M621 231v3M621 456v2M621 509v7M622 170v10M622 501v7M623 165v7M623 501v5M624 146v16M624 506v6M625 511v8M626 148v3M627 149v2M627 458v5M628 148v3M628 461v5M629 149v7M629 204v9M629 218v10M629 460v3M630 151v6M630 197v10M630 223v9M630 463v1M630 500v19M631 156v65M631 263v1M631 461v2M631 496v13M632 151v3M632 221v2M632 264v2M634 151v6M634 199v21M634 463v3M634 511v6M635 164v6M635 188v6M635 212v6M635 466v2M635 511v8M636 154v16M636 186v8M636 204v6M636 466v2M637 148v3M637 180v27M638 175v5M638 207v16M639 175v27M640 151v1M640 172v19M641 170v26M641 202v3M642 175v8M642 207v17M642 477v2M643 152v15M643 178v8M643 228v6M643 482v3M643 508v11M644 152v12M644 178v5M644 232v5M644 487v14M645 173v2M645 184v24M645 216v18M645 484v3M645 508v6M646 191v5M647 164v25M647 204v8M648 157v10M648 172v11M648 186v11M648 208v7M649 156v8M649 178v8M649 194v27M650 157v35M650 197v13M650 228v9M650 493v10M651 156v14M651 232v4M651 493v2M652 216v12M653 210v3M654 170v22M654 223v3M655 183v11M655 205v15M655 495v3M656 180v6M656 495v1M657 154v26M657 199v1M658 157v3M659 159v8M659 176v8M660 192v4M661 196v6M661 213v8M661 229v3M662 231v3M663 192v4M664 188v8M665 183v8M666 183v8M667 173v10M667 197v26M668 170v8M668 204v19M669 152v2M669 175v5M670 151v3M670 183v5M671 197v8M672 159v6M672 210v3M673 170v18M673 210v3M674 162v10M674 180v6M674 210v2M675 164v16M675 197v16M676 199v8M676 212v8M680 152v16M682 149v10M683 178v3M684 178v5M685 173v7M686 172v4M687 170v5M688 164v8M688 210v10M689 164v6M689 229v2M690 228v3M693 181v7M694 180v8M698 164v11M698 178v11M698 204v6M699 168v31M699 208v7M700 181v2M700 215v8M701 170v3M701 186v10M701 204v9M712 204v6M713 183v8M713 218v5M714 172v24M714 212v4M715 176v8M716 172v8M717 172v8M718 175v11M719 175v8M720 176v8M721 178v8M722 199v3M722 210v8M723 186v11M723 210v14M724 207v11M724 226v3M724 239v8M725 229v15M726 224v10M727 224v7M728 199v21M729 170v2M729 184v10M730 178v18M731 210v13M732 220v19M732 272v8M733 218v8M734 191v8M734 220v9M735 188v33M736 194v21M737 194v8M738 194v8M738 245v15M739 210v62M740 178v48M741 202v2M741 247v3M742 188v14M743 196v11M744 184v7M745 172v16M746 178v10M747 186v8M748 196v16M749 224v8M750 207v8M750 226v8M751 202v26M752 205v18M753 210v14M753 426v6M754 202v26M755 189v7M756 189v5M757 207v8M758 215v5M759 220v8M760 236v1M761 226v3M762 218v5M763 218v3M764 175v8M764 210v8M765 200v8M766 191v11M767 183v6M768 184v8M768 202v10M768 223v21M768 271v3M769 239v6M770 226v14M772 149v11M773 140v8M773 172v17M774 141v50M775 165v10M776 186v2M777 135v11M777 175v5M778 138v5M778 178v2M779 175v3M780 144v13M780 170v5M781 138v2M781 162v16M782 156v20M783 135v30M784 151v8M785 141v10M787 199v1M787 220v3M788 197v2M788 221v2M789 220v1M791 151v3M792 148v6M793 151v11M793 183v5M793 223v3M793 232v2M794 170v5M794 216v45M795 172v3M795 207v3M795 231v6M796 168v2M797 93v11M797 172v6M798 170v8M799 164v3M801 148v4M802 162v2M802 175v11M803 180v6M804 95v3M804 164v12M804 229v2M804 256v2M805 255v1M806 93v7M807 92v8M808 95v9M808 172v6M809 96v4M810 93v3M811 92v3M811 159v11M811 218v18M812 168v8M815 180v9M816 156v3M817 167v6M817 192v7M817 200v2M818 170v10M819 152v34M819 389v13M819 407v13M820 188v3M820 388v3M821 178v5M821 386v11M822 149v23M822 196v1M822 396v8M823 154v11M823 189v2M823 386v10M824 196v4M824 383v5M825 192v18M825 388v22M826 172v6M826 202v8M827 170v6M827 205v8M827 223v1M828 165v10M828 202v11M828 218v2M829 186v2M829 223v1M830 210v6M831 194v13M832 194v6M833 186v10M834 170v6M836 173v39M837 101v11M837 168v34M838 108v8M838 186v16M839 101v18M839 199v9M840 103v13M840 188v6M841 101v13M841 168v12M842 100v14M842 165v7M842 226v2M842 244v1M843 104v8M843 168v4M845 167v5M846 101v11M846 176v7M847 100v8M847 183v11M848 100v3M848 189v13M849 191v9M850 191v14M851 191v9M852 98v2M852 148v4M852 196v8M853 98v2M853 143v3M853 196v9M854 148v4M856 106v11M858 114v3M859 138v2M860 138v2M862 140v3M863 138v3M866 136v7M866 159v19M867 141v31M868 135v8M869 135v6M870 135v5M875 127v19M876 140v8M877 146v5M878 159v9M879 167v8M880 143v6M881 144v7M882 149v5M883 133v10M886 111v19M887 111v8M887 128v10M887 151v8M888 122v6M890 104v7M891 108v11M894 98v2M894 141v23M895 167v5M896 98v8M896 159v3M896 175v3M897 117v5M897 151v3M897 170v5M898 122v5M898 148v8M899 122v6M900 116v6M901 119v5M902 120v7M903 119v9M904 103v1M910 109v8M910 133v29M911 108v44"/>
<path stroke="#836000" transform="translate(.5)" d="M123 410v10M169 183v5M177 172v1M179 168v12M180 172v3M181 172v14M184 186v3M185 181v10M186 170v22M187 167v11M188 184v4M189 180v3M191 170v2M192 180v8M193 180v3M194 178v5M195 170v16M198 180v12M199 170v29M200 189v13M200 396v1M201 189v8M201 396v6M202 164v22M203 167v14M204 175v13M205 170v8M208 173v5M208 197v5M209 170v3M209 202v2M210 167v3M210 202v2M211 167v6M211 199v5M213 188v4M213 207v5M213 405v5M214 164v9M214 186v10M214 202v3M215 186v16M216 165v13M223 162v2M223 173v7M224 170v13M232 188v19M233 168v26M233 210v5M234 175v17M235 164v9M236 164v6M237 167v9M238 167v8M239 164v4M240 167v3M247 167v29M248 167v41M249 175v1M249 196v22M250 172v4M250 189v32M251 180v1M251 212v8M252 220v6M253 178v8M253 228v3M254 167v11M254 218v10M255 220v6M256 172v8M256 194v10M256 210v8M270 165v5M271 164v4M272 167v3M273 162v5M277 151v3M281 154v5M283 156v8M284 154v10M289 154v19M291 154v2M292 157v10M293 156v19M297 157v10M309 284v1M314 149v7M316 148v3M316 277v3M317 151v5M317 279v3M323 280v2M329 167v17M330 167v8M330 186v8M330 279v3M333 148v52M334 149v26M334 178v14M334 205v8M335 162v8M335 189v13M336 164v11M337 151v38M338 164v9M338 229v5M339 162v6M339 181v26M339 210v21M345 146v8M346 154v8M349 148v8M350 146v3M352 151v3M353 156v3M354 162v5M355 162v10M357 156v16M358 152v10M358 183v3M359 164v1M359 183v3M365 146v6M365 471v27M366 146v13M366 472v28M367 151v14M367 474v13M367 492v11M368 146v10M374 146v21M375 144v10M376 143v8M379 146v8M380 167v5M381 146v5M381 152v10M389 146v11M390 146v16M391 152v13M392 152v20M393 146v22M394 148v6M394 162v11M395 148v32M396 165v10M396 452v16M397 164v8M397 447v14M398 160v7M399 162v10M399 180v14M400 151v13M400 452v27M401 452v6M401 466v8M402 447v5M402 472v7M403 162v13M403 450v42M408 463v8M408 472v10M409 148v4M410 144v45M411 143v16M411 226v5M413 143v14M414 141v2M414 146v16M414 172v11M414 202v6M415 173v15M415 199v8M416 186v11M417 178v22M420 154v10M421 148v17M423 140v8M424 148v6M424 199v9M425 160v44M425 429v2M426 143v1M426 164v22M427 144v2M428 156v8M429 151v16M430 144v4M430 162v8M430 183v8M431 164v3M431 184v5M432 167v16M433 202v5M433 223v5M434 202v5M434 221v5M442 175v11M442 215v11M443 170v5M443 184v7M443 204v8M443 221v8M444 162v21M444 191v11M444 212v6M444 511v8M445 196v14M446 188v11M446 202v8M447 178v6M447 208v7M448 189v15M449 175v11M449 503v8M450 140v9M450 180v8M450 509v7M452 154v21M453 138v2M453 144v15M453 167v8M453 418v2M454 146v5M455 143v5M456 141v11M457 143v13M457 501v13M458 136v31M458 496v7M458 514v5M459 152v26M459 511v8M460 154v8M460 172v6M461 141v7M461 180v4M461 402v2M461 506v8M462 138v10M462 175v6M462 402v3M462 509v10M463 140v8M463 170v5M463 402v5M464 167v5M464 410v5M464 516v3M465 160v4M465 404v6M465 517v2M466 156v8M467 140v20M468 159v3M469 151v11M473 143v1M473 172v1M474 144v2M474 170v2M476 148v12M480 517v2M481 512v7M482 148v4M482 514v5M483 144v4M484 146v2M485 148v6M486 146v2M490 207v1M490 223v3M495 170v19M496 141v2M496 167v8M496 178v11M501 146v5M502 138v16M503 151v13M504 149v19M505 144v23M507 207v1M507 237v2M512 154v16M513 156v16M524 144v10M525 152v12M528 140v6M528 160v8M529 138v3M529 180v9M530 178v6M531 180v24M531 208v34M532 148v24M532 212v16M532 239v6M533 140v1M533 176v26M535 141v10M536 138v2M539 196v8M540 154v6M540 191v14M541 140v11M541 168v29M541 205v8M542 143v6M542 176v10M542 210v6M543 141v5M543 176v5M543 212v6M543 399v3M544 176v7M544 202v11M544 399v1M545 180v11M546 160v18M548 140v1M549 170v29M549 200v10M550 162v10M550 199v14M551 156v4M551 196v11M552 159v5M552 186v10M555 149v5M556 148v24M556 255v1M557 162v19M560 146v2M561 146v42M562 146v18M562 175v13M563 148v6M563 180v6M564 148v8M564 173v7M565 207v9M565 221v7M566 202v22M570 196v19M570 218v6M571 183v8M571 215v5M572 154v6M572 178v19M572 213v8M573 156v11M573 170v8M573 207v6M573 224v4M574 210v5M574 220v6M575 170v8M575 199v24M576 148v30M576 199v21M577 151v6M577 162v16M577 204v14M580 151v3M581 148v22M582 157v10M582 173v11M583 167v8M585 170v6M586 159v17M587 164v16M588 159v19M592 156v3M592 516v3M593 156v4M594 159v6M595 154v2M595 162v11M596 151v32M597 152v7M597 431v5M598 149v7M598 434v5M599 149v2M600 511v8M601 431v3M601 508v8M602 431v3M605 156v11M605 168v12M606 151v16M607 154v10M607 484v12M608 440v2M608 490v8M609 152v2M609 210v2M610 210v3M610 442v5M611 148v8M612 204v4M612 223v5M613 202v2M613 220v4M615 143v5M615 162v2M615 196v3M616 148v8M620 170v2M620 229v2M621 152v15M621 229v2M621 516v3M622 162v8M622 508v6M623 157v8M623 506v6M624 512v7M629 146v3M629 213v5M630 148v3M630 207v16M631 148v8M631 221v2M631 261v2M631 509v10M632 223v1M632 263v1M634 517v2M635 151v13M635 194v18M636 151v3M636 194v2M636 202v2M638 180v8M638 196v11M641 196v6M642 183v3M642 194v13M643 186v42M644 183v11M644 199v6M644 213v19M644 480v7M644 501v8M645 172v1M645 514v5M647 189v15M648 167v5M648 197v11M649 164v14M650 210v18M651 170v22M651 229v3M652 156v8M652 204v12M653 156v32M653 205v5M654 164v6M654 192v18M654 218v5M655 175v8M656 172v8M659 154v5M660 188v4M661 191v5M661 221v8M662 188v6M662 229v2M663 188v4M664 162v26M665 156v27M666 170v13M667 154v19M668 154v16M669 154v8M669 170v5M670 154v5M670 178v5M671 151v5M671 188v9M672 165v10M672 176v34M673 188v22M674 172v8M674 186v24M676 207v5M683 170v8M684 172v6M685 167v6M686 170v2M687 164v6M689 170v2M689 228v1M690 164v6M690 226v2M693 172v9M694 159v21M698 189v3M698 202v2M699 199v9M700 183v3M700 213v2M701 196v8M713 191v5M713 215v3M714 196v16M716 170v2M718 170v5M722 202v8M723 197v13M724 172v3M724 204v3M725 199v30M726 192v15M726 215v9M727 167v8M727 218v6M728 170v8M728 184v15M729 172v12M730 173v5M731 173v10M731 197v13M732 215v5M733 212v6M734 181v10M734 199v21M735 178v10M736 178v16M737 183v11M738 188v6M739 200v10M741 204v1M742 178v10M742 202v2M742 247v3M743 186v10M744 176v8M746 175v3M747 178v8M748 188v8M749 199v25M750 199v8M750 215v11M751 192v10M752 175v30M753 176v34M754 175v27M755 180v9M756 184v5M757 200v7M758 210v5M759 186v11M759 216v4M760 199v6M760 234v2M761 213v13M762 213v5M763 183v1M763 215v3M764 183v8M764 202v8M765 178v22M766 184v7M768 180v4M768 212v11M769 228v11M770 210v16M774 138v3M775 141v24M776 138v13M776 183v3M777 146v8M777 170v5M778 143v8M778 175v3M779 136v12M779 170v5M780 138v6M780 157v13M784 135v16M787 200v2M788 220v1M789 199v1M791 146v5M793 226v6M794 167v3M795 168v4M795 228v3M796 167v1M797 160v12M798 90v10M798 159v11M801 95v5M801 146v2M802 88v7M802 164v11M803 90v6M803 175v5M804 98v8M804 231v1M804 255v1M805 231v1M807 146v3M808 167v5M809 92v4M809 100v1M812 159v9M817 156v11M817 199v1M818 151v19M818 384v34M819 402v5M820 152v15M820 183v5M820 391v27M821 151v27M821 397v21M822 172v1M822 194v2M822 404v14M823 165v8M823 188v1M823 396v11M824 154v8M824 192v4M824 388v11M825 178v14M825 410v5M826 165v7M827 159v11M827 213v2M827 220v3M828 156v9M828 213v5M829 176v10M829 188v3M829 194v10M830 181v18M830 202v8M831 191v3M832 186v8M833 168v18M835 104v8M837 162v6M838 175v11M839 188v11M840 101v2M840 176v12M841 164v4M846 170v6M847 178v5M848 181v8M849 183v8M850 183v8M851 188v3M852 152v7M852 191v5M853 146v5M853 191v5M854 152v7M854 197v7M857 114v2M858 109v5M859 136v2M862 138v2M863 136v2M866 135v1M867 135v6M868 130v5M869 128v7M870 127v8M876 130v10M877 130v16M878 152v7M879 151v16M880 124v19M881 138v6M882 144v5M883 125v8M887 119v9M891 101v7M896 95v3M896 162v13M897 114v3M897 154v16M898 119v3M899 116v6M900 109v7M901 114v5M902 112v8M903 103v16M910 117v16"/>
<path stroke="#8e5100" transform="translate(.5)" d="M169 167v16M170 167v3M175 168v12M176 170v6M182 168v4M182 180v6M184 170v16M185 170v11M188 180v4M189 175v5M192 173v7M193 175v5M194 172v6M200 175v14M201 164v25M204 168v7M205 165v5M208 178v19M209 173v5M209 197v5M210 170v6M210 197v5M211 173v26M213 192v15M213 400v5M214 196v6M215 164v3M215 175v11M223 164v9M233 164v4M233 194v16M234 167v8M251 162v18M251 181v31M252 167v24M252 215v5M253 186v21M253 220v8M254 178v6M254 194v24M255 178v18M255 212v8M256 167v5M256 204v6M270 159v6M271 159v5M272 162v5M273 157v5M317 277v2M330 175v11M334 192v13M335 159v3M336 157v7M338 173v10M338 196v33M346 148v6M353 151v5M354 156v6M355 149v13M358 162v5M358 180v3M359 165v3M359 181v2M367 146v5M367 487v5M380 143v8M380 159v8M381 151v1M391 146v6M392 149v3M394 154v8M396 146v19M397 157v7M398 143v17M399 146v16M400 149v2M401 458v8M402 452v20M408 471v1M414 143v3M414 183v19M415 188v11M424 143v5M425 144v16M428 143v13M429 143v8M430 170v13M431 167v17M433 207v5M433 220v3M434 207v6M434 216v5M443 175v9M443 212v9M444 202v10M446 199v3M447 184v8M447 200v8M449 140v35M449 511v6M450 149v31M450 516v3M453 140v4M453 159v8M454 138v8M455 140v3M458 503v11M460 162v10M461 148v11M461 172v8M461 514v5M462 148v11M462 164v11M463 148v22M464 138v5M464 159v8M464 405v5M465 140v6M465 152v8M466 140v16M468 140v19M469 140v11M473 144v4M473 168v4M474 146v3M474 168v2M482 146v2M483 143v1M485 143v5M490 208v2M490 221v2M496 175v3M501 140v6M507 208v4M507 234v3M528 146v14M529 141v8M529 165v15M530 143v8M530 162v16M531 144v36M531 204v4M532 140v8M532 172v16M532 202v10M532 228v11M535 138v3M541 197v8M542 186v24M543 181v31M544 183v19M549 199v1M550 172v27M551 160v7M551 180v16M552 164v3M552 181v5M556 256v2M556 277v2M562 164v11M563 154v6M563 172v8M564 156v17M565 216v5M570 215v3M571 191v5M571 208v7M572 160v18M572 197v16M573 167v3M573 213v11M574 215v5M575 178v21M576 178v21M582 167v6M585 154v16M593 152v4M594 151v8M595 156v6M597 148v4M598 431v3M601 516v3M605 167v1M609 154v5M609 207v3M610 143v9M610 207v3M611 140v8M612 208v7M612 218v5M613 204v6M613 215v5M615 164v3M615 192v4M616 143v5M620 172v3M620 226v3M621 144v8M621 167v5M621 224v5M622 149v13M622 514v5M623 148v9M623 512v7M631 223v3M631 260v1M632 224v2M632 261v2M636 196v6M638 188v8M642 186v8M644 194v5M644 205v8M644 509v10M645 156v1M645 170v2M651 192v4M651 207v1M651 224v5M652 164v8M652 200v4M653 188v17M654 154v10M654 210v8M655 156v19M656 157v15M660 157v15M660 178v10M661 186v5M662 181v7M662 194v6M662 226v3M663 180v8M664 151v11M665 154v2M666 152v18M667 152v2M669 162v8M670 159v19M671 156v11M671 176v12M672 175v1M683 149v21M684 162v10M685 160v7M686 164v6M687 160v4M689 172v3M689 226v2M690 170v5M690 223v3M693 162v10M698 192v10M700 186v2M700 210v3M713 196v9M713 212v3M724 175v29M725 191v8M726 172v20M726 207v8M727 175v43M728 178v6M731 183v14M732 208v7M733 175v21M733 204v8M737 178v5M738 178v10M739 180v20M741 205v3M741 244v3M742 175v3M742 204v3M742 245v2M743 180v6M744 175v1M747 176v2M748 178v10M749 175v24M750 178v21M751 178v14M752 172v3M755 175v5M756 175v9M757 189v11M758 172v1M758 207v3M759 175v11M759 197v2M759 208v8M760 180v19M760 205v2M760 232v2M761 180v33M762 178v35M763 172v11M763 184v15M763 205v10M764 191v11M766 178v6M769 210v2M769 215v13M775 136v5M776 151v6M776 180v3M777 154v16M778 151v9M778 170v5M779 148v22M787 202v2M787 218v2M788 199v1M789 200v2M789 218v2M794 165v2M795 165v3M795 210v5M795 218v10M796 164v3M800 90v8M801 90v5M802 95v5M802 148v9M803 96v4M803 162v13M804 232v2M804 252v3M805 232v2M805 252v3M807 149v2M817 154v2M820 167v16M822 173v5M822 192v2M823 173v15M823 407v11M824 162v6M824 188v4M824 399v17M825 154v13M825 172v6M826 156v9M827 215v5M829 159v17M829 191v3M829 204v3M829 220v3M830 159v22M830 199v3M831 159v1M831 188v3M832 180v6M833 159v9M836 104v7M838 167v8M839 175v13M840 165v11M842 228v1M842 242v2M847 170v8M848 165v16M849 172v11M850 172v11M851 183v5M852 188v3M853 151v6M853 186v5M854 194v3M857 108v6M862 135v3M867 130v5M868 128v2M878 128v24M879 124v27M881 127v11M882 138v6M897 106v8M898 112v7M899 101v15M900 101v8M901 100v14M902 100v12"/>
<path stroke="#9c3c00" transform="translate(.5)" d="M176 168v2M182 172v8M183 172v14M188 172v8M189 168v7M192 167v6M193 167v8M194 170v2M200 170v5M209 178v19M210 176v21M215 167v8M252 191v24M253 207v13M254 184v10M255 168v10M255 196v16M335 148v11M336 149v8M338 183v13M353 146v5M354 148v8M358 167v13M359 168v13M380 151v8M397 148v9M433 212v8M434 213v3M447 192v8M449 517v2M461 159v13M462 159v5M464 143v16M465 146v6M473 148v20M474 149v19M490 210v11M507 212v8M507 228v6M529 149v16M530 151v11M531 138v6M532 188v14M551 167v13M552 167v14M556 258v2M556 274v3M563 160v12M571 196v12M609 159v5M609 202v5M610 152v8M610 202v5M612 215v3M613 210v5M615 167v6M615 186v6M620 175v8M620 218v8M621 172v8M621 218v6M622 143v6M631 226v3M631 258v2M632 226v5M632 260v1M645 157v13M651 196v11M651 208v16M652 172v3M652 197v3M660 156v1M660 172v6M661 156v30M662 156v25M662 200v26M663 152v28M671 167v9M684 151v11M685 159v1M686 157v7M689 175v5M689 220v6M690 175v5M690 218v5M700 188v22M713 205v7M725 170v21M732 176v32M733 196v8M738 176v2M741 208v5M741 239v5M742 207v6M742 240v5M743 176v4M748 175v3M757 175v3M757 183v6M758 173v23M758 204v3M759 199v9M760 175v5M760 207v3M760 231v1M761 172v8M762 173v5M763 199v6M766 176v2M769 212v3M776 157v23M778 160v10M787 204v3M787 215v3M788 200v2M788 218v2M789 202v5M789 215v3M794 162v3M795 160v5M795 215v3M796 160v4M799 90v8M803 148v6M804 148v9M804 234v3M804 250v2M805 234v2M805 250v2M822 178v14M824 168v7M824 184v4M825 167v5M829 207v3M829 218v2M831 160v7M831 181v7M832 159v11M832 175v5M839 165v10M842 229v3M842 239v3M847 168v2M851 178v5M852 184v4M853 180v6M882 124v14M897 98v8M898 98v14"/>
<path stroke="#ae2200" transform="translate(.5)" d="M188 170v2M507 220v8M556 260v3M556 271v3M609 164v9M609 192v10M610 160v13M610 192v10M615 173v13M620 183v13M620 207v11M621 180v16M621 207v11M631 229v7M631 252v6M632 231v5M632 255v5M652 175v22M686 156v1M689 180v9M689 213v7M690 180v9M690 210v8M741 213v26M742 213v8M742 239v1M757 178v5M758 196v8M760 210v2M760 226v5M787 207v8M788 202v5M788 215v3M789 207v8M794 149v13M795 152v8M796 159v1M804 237v13M805 236v14M824 175v9M829 210v8M831 167v14M832 170v5M842 232v7M852 175v1M852 183v1"/>
<path stroke="#c00800" transform="translate(.5)" d="M556 263v8M609 173v19M610 173v19M620 196v11M621 196v11M631 236v16M632 236v19M689 189v24M690 189v21M760 212v14M788 207v8M852 176v7"/>
<path stroke="#b26200" transform="translate(.5)" d="M105 602v3M105 635v4M105 660v1M105 662v1M105 666v2M105 670v1M106 625v3M106 635v4M106 648v4M106 662v1M107 608v2M108 664v1M108 671v2M109 646v4M109 664v2M109 670v1M109 672v2M110 658v2M111 629v1M111 666v1M111 670v1M112 619v2M112 628v2M112 668v3M113 663v3M113 672v1M114 627v2M114 633v5M114 663v3M114 671v3M115 592v1M115 622v2M115 630v1M115 667v4M115 672v1M116 592v3M116 645v5M116 661v1M116 665v1M116 671v3M117 645v1M117 672v2M118 610v4M118 626v2M119 635v2M119 647v2M119 650v1M120 635v2M120 670v1M121 661v1M121 669v1M122 663v2M122 670v4M123 662v2M123 665v1M124 658v1M124 661v1M124 663v2M125 586v2M125 658v1M126 624v1M126 646v5M126 672v2M127 609v2M127 622v3M127 638v3M127 663v4M128 634v2M128 662v3M128 666v4M128 671v1M129 662v2M129 666v3M129 672v1M130 669v1M131 653v2M131 664v1M131 666v1M132 665v3M133 588v2M133 627v2M133 639v1M133 652v3M133 658v1M133 660v1M133 669v1M134 627v1M134 656v1M134 664v1M134 673v1M135 668v1M136 575v3M136 652v2M136 666v2M136 673v1M137 612v1M137 642v3M137 661v1M137 670v2M137 673v1M138 497v3M138 544v3M138 631v2M138 660v1M139 621v2M139 632v2M139 667v1M140 632v3M140 665v1M140 671v3M141 586v1M141 622v2M141 660v1M141 664v1M141 669v2M141 673v1M142 617v3M142 630v3M142 660v4M142 666v2M142 669v2M142 672v2M143 589v1M143 633v2M143 666v4M144 598v2M144 633v2M144 661v1M144 663v2M144 672v1M145 660v1M145 673v1M146 629v3M146 641v3M146 670v1M146 672v1M147 580v2M148 626v4M148 637v3M148 657v2M148 670v3M149 625v1M149 635v3M149 665v3M149 669v4M150 672v1M151 585v3M151 660v5M152 615v3M152 656v2M152 661v1M153 550v2M153 630v1M153 663v1M153 667v1M153 673v1M154 570v3M154 622v2M154 632v2M154 665v6M154 672v1M155 663v1M155 666v2M156 627v2M156 636v3M156 662v1M156 669v1M156 673v1M157 599v2M157 663v1M157 673v1M158 664v2M158 669v2M159 584v2M159 591v1M159 633v4M159 645v3M159 667v6M160 628v3M160 661v1M160 667v1M161 504v2M161 591v3M161 661v2M161 666v1M162 660v1M163 637v2M163 661v2M163 664v1M163 668v1M164 583v1M164 657v1M164 660v1M164 664v3M165 546v2M165 583v2M165 664v3M165 669v1M165 673v1M166 632v3M166 657v1M167 627v2M167 667v2M168 659v4M168 668v1M168 672v2M169 660v1M169 665v3M170 632v6M170 640v3M170 668v1M170 670v2M171 553v4M171 578v4M171 622v1M171 660v1M171 662v1M171 670v1M172 644v3M172 660v2M173 660v2M176 670v1M177 575v3M177 625v1M177 636v4M177 658v1M177 665v2M178 628v2M178 666v1M178 670v1M179 629v4M179 634v4M179 671v1M180 553v3M180 629v4M180 662v1M181 663v1M181 669v1M182 612v3M182 669v2M182 672v2M184 660v2M184 672v1M186 673v1M187 661v1M188 589v3M188 632v4M188 661v1M189 608v1M189 666v2M191 602v1M191 635v4M191 671v2M193 627v3M193 632v4M193 671v1M194 632v1M194 635v3M194 660v3M194 664v1M194 666v1M194 668v1M195 637v3M195 663v1M195 670v1M196 663v2M197 585v3M197 658v1M197 660v3M197 668v1M198 499v2M198 658v1M198 663v1M199 603v3M199 632v1M199 663v1M199 669v3M200 671v1M201 587v1M201 589v3M201 627v3M201 642v1M201 660v2M202 587v1M202 627v2M202 660v1M202 665v4M202 672v2M203 610v3M203 660v2M203 663v1M203 667v2M203 671v1M204 586v4M204 591v2M204 604v2M204 665v1M205 604v2M205 633v3M205 658v2M205 666v3M207 500v1M207 590v2M207 665v1M207 668v1M208 660v2M208 664v2M208 668v1M208 671v1M209 593v4M209 607v4M209 661v1M209 669v2M209 673v1M210 570v2M210 660v1M210 669v1M211 634v1M211 659v1M211 664v2M212 600v3M212 626v2M212 638v2M212 661v1M212 666v2M212 671v2M213 557v4M213 671v2M214 548v1M214 661v1M214 664v1M215 548v1M215 661v2M215 668v3M215 673v1M216 586v2M216 630v3M216 636v2M216 665v1M217 662v3M218 658v2M218 665v1M219 596v1M219 653v3M219 660v3M219 666v1M220 621v2M220 653v2M220 660v2M220 663v3M221 673v1M223 625v2M223 658v2M223 673v1M224 567v3M224 588v1M224 652v1M224 654v3M224 658v2M224 664v1M225 567v3M225 627v1M225 660v2M226 549v2M226 580v2M226 627v1M226 635v3M227 621v2M227 636v4M227 664v1M228 666v1M229 332v2M229 634v1M229 642v2M230 629v4M230 669v2M231 589v4M231 599v2M231 634v4M231 658v1M231 671v2M232 599v2M232 656v3M232 671v1M233 657v3M233 662v3M233 666v2M233 671v1M234 653v1M234 657v3M235 628v3M235 663v1M236 628v3M236 636v3M236 669v1M237 609v4M237 669v1M238 671v1M239 610v2M239 666v2M241 590v4M241 625v4M241 654v3M241 662v1M241 664v2M242 625v4M242 656v3M242 669v1M242 672v1M243 666v1M244 591v2M244 664v2M244 672v2M246 667v2M247 618v4M247 643v3M247 656v1M247 664v2M248 618v3M248 654v3M248 667v1M248 669v2M249 654v3M249 662v1M249 666v1M249 671v1M251 622v1M251 630v2M251 663v1M251 666v1M251 668v2M251 671v1M252 657v2M252 660v1M252 672v1M253 665v1M253 672v2M254 592v1M254 663v5M254 669v2M255 628v3M255 672v1M256 593v3M256 628v3M256 661v1M257 653v3M257 662v1M258 633v2M258 638v3M258 645v2M258 653v3M258 671v3M259 576v4M259 628v2M259 638v3M259 662v1M259 664v1M259 667v4M259 672v2M260 668v2M260 673v1M261 625v3M261 654v1M261 659v3M261 666v1M261 668v4M262 594v1M262 635v3M262 654v1M262 663v1M262 669v2M263 663v2M264 661v2M265 629v2M265 637v2M265 659v1M265 661v2M265 664v1M265 668v2M266 563v1M266 629v1M267 590v1M268 661v3M268 669v1M269 453v1M269 583v1M269 591v2M269 662v1M270 583v1M270 663v1M270 665v1M271 581v2M271 623v3M271 631v3M271 665v2M271 672v2M272 605v4M272 621v1M273 594v2M273 629v2M273 661v2M273 673v1M274 634v2M274 671v1M275 547v1M275 660v1M275 662v2M276 547v1M276 585v2M276 661v1M276 666v2M277 591v2M277 659v1M278 591v2M278 663v4M279 622v1M279 668v2M280 601v1M280 615v1M280 622v1M280 628v1M280 659v1M280 663v4M280 671v3M281 550v3M281 587v4M281 594v1M281 659v1M281 663v1M281 670v2M282 598v9M282 608v3M282 615v3M282 663v1M282 672v1M283 597v1M283 661v4M283 670v1M284 562v3M284 591v2M284 628v2M284 636v2M284 642v2M284 654v2M284 671v1M285 591v3M285 640v1M285 649v2M285 654v3M285 661v1M286 592v2M286 668v1M286 671v2M287 587v1M287 589v1M287 595v2M287 662v1M288 587v5M288 662v1M288 668v2M289 591v3M289 620v4M290 591v3M290 598v4M290 620v4M291 663v1M291 666v1M292 590v3M292 666v1M292 670v1M293 633v3M293 667v1M293 671v1M294 588v3M294 664v1M295 672v2M296 593v3M296 634v3M296 666v1M297 593v3M297 672v2M298 591v1M298 643v2M298 658v2M299 595v2M299 618v1M299 628v1M299 655v1M299 662v2M300 594v4M300 618v4M300 655v1M300 668v2M300 672v2M301 617v1M302 586v2M302 625v2M302 632v1M303 589v2M303 625v2M303 667v2M304 550v4M304 588v3M304 597v1M304 600v1M305 600v2M305 621v4M305 644v1M305 663v1M306 588v3M306 621v4M306 628v1M306 663v3M306 668v2M306 673v1M307 585v2M307 596v2M307 615v2M307 619v1M307 657v2M307 661v1M307 663v1M307 665v4M307 672v2M308 615v2M308 662v1M309 672v2M310 636v2M310 654v3M310 660v3M310 670v1M310 672v2M311 661v3M311 669v5M312 568v4M312 589v2M312 659v2M312 664v2M313 628v3M313 664v2M314 589v3M314 593v1M315 664v1M316 631v4M316 661v1M316 664v2M317 657v1M317 661v1M317 667v1M318 658v1M319 586v2M319 595v2M319 610v2M319 661v1M320 610v2M320 629v2M320 662v2M320 667v1M321 662v1M321 667v1M321 670v3M322 591v1M322 660v3M322 665v1M322 672v1M323 591v1M323 595v3M323 634v4M323 668v2M323 671v1M324 586v3M324 630v3M324 663v1M324 665v3M325 625v1M325 660v1M325 667v3M326 596v1M326 632v2M326 664v2M327 661v2M327 666v1M328 593v3M328 660v3M328 666v1M329 652v2M329 655v4M329 665v2M329 673v1M330 582v2M330 654v5M330 664v1M330 666v2M330 670v1M331 582v2M331 653v1M331 658v1M331 665v2M331 671v1M331 673v1M332 578v2M332 658v1M332 660v1M332 666v1M333 660v1M333 668v2M333 671v3M334 585v1M334 590v1M334 649v2M334 658v1M334 665v1M334 669v1M335 594v2M335 664v5M335 671v1M336 588v3M336 594v2M336 605v1M336 667v1M336 670v1M337 596v2M337 600v2M337 666v1M337 671v1M338 589v2M338 630v2M338 666v2M338 670v1M339 593v2M339 642v2M339 667v1M339 670v1M339 672v1M340 588v3M340 664v1M341 669v1M342 627v2M342 661v3M342 669v1M342 672v2M344 643v2M344 665v1M345 619v2M345 664v1M345 671v2M346 627v2M346 659v1M346 661v1M347 589v3M347 597v2M347 663v6M348 523v4M348 571v2M348 591v1M348 655v3M348 666v3M349 571v2M349 589v2M349 601v4M349 664v1M349 666v3M350 668v2M350 672v2M351 590v2M351 616v2M351 652v1M351 666v2M352 578v1M352 616v2M352 658v3M353 590v4M353 621v2M353 664v3M354 628v3M354 663v3M355 591v1M355 624v3M356 591v1M356 635v2M357 588v1M357 597v4M357 660v1M357 669v1M357 671v1M357 673v1M358 673v1M359 662v1M359 666v2M359 670v2M360 587v3M361 596v2M364 543v3M364 593v1M364 655v3M365 575v3M365 593v1M365 644v2M365 668v1M366 581v2M366 656v2M366 664v2M366 669v1M366 671v1M367 627v2M368 586v1M368 588v1M368 591v4M368 642v3M369 586v1M369 642v3M369 664v1M370 648v4M370 664v3M371 589v1M371 593v1M371 596v4M371 665v1M371 670v1M372 595v2M372 663v1M372 668v1M374 572v2M374 624v3M374 635v3M374 672v1M375 554v2M375 595v7M375 631v1M375 653v1M375 667v2M376 597v2M376 666v1M376 669v1M377 583v1M377 646v3M377 671v1M378 588v6M378 620v4M378 625v3M379 583v2M379 590v3M379 664v2M379 668v1M380 587v5M380 595v1M380 614v4M381 590v1M381 598v3M381 616v2M381 654v4M381 673v1M382 590v2M383 585v2M383 600v3M383 609v3M383 668v2M384 587v1M384 592v1M385 584v3M385 594v1M385 655v2M385 661v1M385 664v1M385 671v2M386 590v1M387 590v1M387 657v5M387 667v1M388 593v4M388 665v1M388 669v1M389 540v2M389 588v9M389 661v1M389 663v1M389 668v1M389 671v1M390 591v6M390 629v1M390 664v1M391 595v4M391 660v1M391 664v1M391 666v2M392 591v1M392 594v3M392 659v1M392 666v5M393 587v1M394 559v3M394 656v1M394 663v2M394 669v1M395 654v3M395 669v2M396 584v5M396 593v3M396 605v4M396 617v2M396 620v1M396 659v3M396 666v1M396 673v1M397 589v1M397 593v3M397 621v4M397 626v2M397 633v3M397 658v2M398 587v1M398 592v2M398 595v1M398 665v1M398 669v3M399 590v2M399 663v1M399 666v3M399 671v1M400 510v2M400 582v1M400 587v4M400 607v3M400 661v1M401 582v1M401 659v1M401 672v2M402 669v1M402 671v1M402 673v1M403 583v3M403 666v2M403 670v2M404 620v3M404 631v1M404 655v1M404 663v4M405 589v1M405 617v2M405 631v1M405 662v2M407 594v1M407 630v1M408 588v1M408 630v1M408 634v1M408 666v1M409 591v1M409 595v1M409 632v2M409 638v2M409 659v1M409 670v1M410 594v2M410 669v1M411 588v1M411 626v2M411 659v1M411 662v1M411 670v1M412 583v1M412 628v3M412 655v3M412 661v1M412 671v2M413 596v2M413 658v1M413 669v2M414 583v6M414 614v2M414 654v3M414 661v2M415 579v3M415 589v4M415 596v4M415 632v2M415 649v4M415 654v1M415 667v1M416 579v3M416 592v2M416 597v1M416 631v3M416 666v1M416 670v1M417 589v1M417 592v3M417 672v1M418 608v2M418 636v3M418 669v1M419 590v1M419 593v2M419 596v1M419 661v2M419 665v1M419 667v2M419 672v1M420 630v2M420 642v1M420 653v2M420 662v1M420 673v1M421 588v1M421 593v2M421 642v2M421 665v2M421 668v2M422 585v2M422 592v4M422 607v1M422 671v1M423 592v1M423 595v2M423 598v5M423 662v2M424 592v1M424 594v1M424 621v4M424 661v1M424 663v1M425 629v2M425 662v1M425 664v1M425 670v1M426 588v2M426 596v4M426 611v3M426 672v1M427 587v5M427 597v3M427 646v3M427 654v1M427 661v2M427 665v1M427 668v1M428 583v4M428 597v4M428 630v2M428 641v2M428 661v2M429 581v2M429 596v5M430 591v2M430 611v2M430 636v1M431 583v4M431 617v6M431 660v1M431 662v1M431 669v1M432 598v3M432 631v1M432 664v1M432 668v1M433 613v3M433 672v1M434 597v4M434 637v1M434 667v1M435 591v3M435 596v1M435 610v2M435 637v3M435 667v2M436 578v1M436 591v2M437 575v3M437 586v1M437 590v1M437 594v2M437 608v3M437 619v2M437 631v1M437 658v1M438 619v1M439 593v3M439 661v1M439 663v2M439 668v1M440 585v2M440 605v3M441 585v4M441 605v3M441 640v3M441 659v1M441 666v1M441 672v2M442 591v1M442 659v1M442 664v1M443 587v2M443 668v1M444 661v1M444 666v1M445 623v2M445 636v3M445 661v1M445 664v1M445 666v2M445 672v1M446 623v2M446 655v1M446 663v1M446 665v1M446 671v1M447 594v3M447 625v1M447 660v1M447 665v2M448 602v1M448 635v1M449 590v2M449 595v2M449 631v2M449 664v1M449 666v1M450 558v2M450 586v4M450 664v5M451 589v2M451 649v2M452 641v3M452 668v1M453 633v3M453 665v2M453 668v1M453 671v2M454 585v3M454 589v1M454 658v6M454 668v1M454 673v1M455 562v1M455 585v3M455 656v4M455 667v3M456 586v1M456 615v2M456 632v3M456 659v2M456 663v3M456 670v3M457 627v1M457 660v4M457 671v1M458 643v4M458 662v2M458 669v1M459 591v2M459 594v1M460 589v2M460 620v3M460 667v2M461 665v2M462 584v2M462 589v4M462 639v1M462 664v1M462 667v1M462 672v2M463 592v4M463 639v1M463 664v4M464 587v1M464 592v3M464 670v1M465 573v2M465 588v4M465 593v1M465 596v1M465 659v1M465 662v2M465 673v1M466 662v1M466 665v2M466 669v1M466 671v1M467 592v1M467 595v1M467 632v3M467 659v1M467 663v2M467 671v3M468 595v2M468 669v2M469 586v1M469 594v2M469 647v2M469 663v1M470 605v2M470 637v2M470 646v2M470 659v1M470 665v3M471 587v2M471 590v2M471 593v3M471 606v4M471 627v4M471 652v3M471 667v1M472 627v1M472 662v2M472 665v2M472 670v1M473 595v4M473 663v2M473 666v2M473 672v2M474 597v4M474 665v2M474 671v1M475 585v1M475 662v2M475 665v1M476 586v3M476 612v2M476 624v5M476 662v1M476 668v1M477 590v2M477 595v1M477 612v2M477 618v2M477 628v2M477 667v1M477 673v1M478 591v2M478 594v1M478 598v3M478 656v1M478 659v1M478 667v1M478 670v1M479 588v2M479 663v2M479 672v2M480 585v1M480 661v1M480 663v5M481 591v1M481 600v1M481 607v2M481 630v2M481 665v1M481 669v1M482 599v1M482 660v1M482 667v1M482 669v3M482 673v1M483 599v1M483 668v1M484 583v2M484 591v9M484 633v3M484 641v2M484 657v1M484 664v1M484 669v1M485 633v3M485 657v3M486 587v2M486 590v3M486 595v1M486 603v3M486 625v2M486 667v2M486 672v1M487 625v2M487 667v2M488 621v2M488 648v4M488 663v1M488 667v1M488 670v1M488 673v1M489 589v5M489 632v3M489 666v1M489 670v2M489 673v1M490 587v2M490 590v3M490 637v2M490 661v1M490 673v1M491 662v4M491 668v2M492 593v2M492 603v1M493 585v2M493 589v3M493 593v3M493 609v1M493 661v1M493 664v2M494 668v1M494 673v1M495 567v2M495 612v3M495 664v2M495 668v1M496 612v3M496 625v2M496 644v4M496 661v1M497 619v1M497 621v2M497 632v2M497 665v3M498 588v1M498 595v1M498 632v2M498 655v1M498 657v2M498 665v1M498 668v2M498 671v1M499 593v2M500 588v2M500 593v1M500 595v1M500 597v3M500 664v1M500 670v3M501 395v1M501 582v2M501 673v1M502 669v2M502 673v1M503 575v3M503 580v2M503 665v2M504 587v1M504 596v2M504 600v3M504 659v1M504 663v1M504 665v1M504 673v1M505 587v2M505 663v1M505 667v2M506 586v1M506 589v1M506 591v3M506 607v1M506 620v2M506 668v1M506 671v1M506 673v1M507 592v2M507 595v3M507 627v3M507 654v2M507 666v2M508 591v1M508 627v3M508 636v4M509 624v2M509 671v1M510 629v3M510 663v5M510 670v4M511 629v1M511 668v2M511 673v1M512 604v4M512 629v1M512 662v3M512 666v1M512 673v1M513 652v3M513 663v2M513 671v1M514 606v3M514 630v3M514 652v4M514 671v1M515 630v3M515 665v1M515 673v1M516 630v1M517 642v4M517 668v1M518 629v1M518 639v3M518 672v1M519 671v1M520 628v1M521 628v3M521 664v2M523 628v2M523 652v3M523 665v2M523 671v1M524 668v1M525 624v3M525 641v3M525 653v1M525 659v3M525 671v1M526 663v2M526 668v1M527 662v2M527 669v1M528 627v1M528 659v1M529 659v1M529 665v1M529 667v1M529 669v1M529 672v1M530 658v2M530 661v2M530 665v2M530 669v1M531 661v5M531 667v1M531 670v3M532 661v4M532 668v1M533 660v1M533 669v3M533 673v1M534 661v1M534 667v1M534 672v2M535 660v2M535 665v2M536 661v1M536 669v1M536 671v2M537 666v1M538 657v3M538 665v2M539 665v4M540 661v1M540 664v3M540 669v2M540 672v1M541 661v2M541 664v2M541 667v1M541 673v1M543 655v4M544 657v3M545 661v2M546 663v2M546 670v1M546 673v1M547 663v3M547 667v1M547 673v1M550 665v5M551 670v2M552 669v3M553 669v1M555 671v2M611 604v1M612 617v4M613 617v4M614 601v4M614 618v5M615 594v4M615 603v2M616 600v1M618 592v3M619 633v1M620 589v1M620 604v1M620 633v2M621 588v2M621 598v1M621 604v1M622 672v1M623 596v1M623 673v1M624 596v1M625 583v1M627 589v1M629 597v4M631 628v4M634 590v2M637 593v3M640 595v1M640 597v1M642 592v3M642 596v2M642 600v1M642 638v2M643 592v3M646 642v2M647 646v2M648 641v2M650 587v3M650 621v3M650 660v2M651 596v2M651 635v2M652 598v1M652 600v2M653 601v3M655 641v3M655 649v1M655 657v2M656 599v2M657 599v2M657 638v2M657 655v3M658 620v2M658 627v2M658 657v1M659 595v1M659 616v1M660 569v1M660 616v2M660 659v1M661 569v1M661 595v1M661 633v1M661 647v1M661 649v2M662 550v2M662 599v2M662 638v2M662 664v3M663 653v4M663 668v1M664 606v2M664 617v3M664 653v1M665 571v3M665 617v2M665 652v2M665 665v3M666 571v1M666 573v1M666 589v1M666 637v3M666 671v2M667 659v2M667 665v5M668 560v1M668 590v4M668 665v1M668 670v2M670 635v3M670 668v1M671 619v2M671 631v1M671 666v4M672 605v2M672 610v2M672 619v2M674 608v2M674 640v2M675 589v1M675 591v1M675 608v2M675 622v1M675 632v3M675 652v2M676 104v2M676 609v1M676 656v1M677 646v3M677 656v1M678 592v2M678 626v3M678 646v1M678 650v3M679 590v4M679 616v2M679 626v2M680 591v3M680 596v1M680 599v1M680 609v3M680 616v2M680 639v1M680 654v4M681 588v2M681 613v2M681 635v2M681 650v2M681 654v1M681 672v2M682 584v4M682 599v4M682 604v1M682 630v1M682 640v1M682 672v2M683 568v4M683 593v5M683 615v2M683 656v1M683 661v1M684 582v1M684 598v3M684 615v2M684 635v3M684 652v2M684 655v2M684 658v2M685 611v4M685 637v1M685 653v1M685 656v2M686 589v2M686 599v3M686 604v2M687 589v2M687 599v1M687 618v2M687 655v3M688 576v1M688 616v1M688 621v4M688 635v2M689 580v6M689 595v3M690 595v3M690 606v1M690 620v1M690 659v1M690 672v1M691 571v3M691 598v1M691 668v2M692 584v1M692 596v1M693 596v1M693 646v1M693 665v2M693 671v1M694 597v1M694 624v2M695 579v2M695 598v1M695 605v2M695 624v2M695 634v4M695 664v1M695 672v2M696 594v2M696 629v5M696 637v3M696 646v2M696 669v1M697 615v2M697 667v3M698 619v1M698 667v2M698 673v1M699 602v3M699 619v1M699 640v2M700 632v3M700 647v4M700 672v1M701 642v1M701 649v2M701 672v1M702 582v2M702 585v1M702 642v1M702 654v1M703 637v1M703 670v2M703 673v1M704 610v1M704 632v2M704 673v1M705 556v1M705 605v2M705 623v1M705 631v3M705 644v3M706 598v3M706 650v1M706 652v2M706 670v4M707 648v2M707 654v3M707 671v3M708 638v1M708 654v1M708 670v1M709 584v2M709 600v2M709 620v3M709 647v1M709 651v1M709 653v4M709 670v1M710 584v2M710 649v3M710 653v2M710 656v1M711 639v2M711 647v4M711 655v2M711 670v3M712 614v3M712 634v2M712 637v1M712 650v1M713 542v3M713 607v3M713 614v3M713 651v6M713 670v4M714 546v4M714 631v1M714 649v3M714 655v3M715 546v4M715 634v3M716 566v3M716 615v3M716 620v3M716 638v1M716 655v3M717 566v3M717 607v2M717 611v1M717 652v1M717 669v1M717 672v1M718 565v2M718 602v3M718 609v1M718 624v3M718 657v2M718 661v4M719 610v1M719 657v1M719 670v2M720 605v3M720 619v6M720 631v1M720 633v1M720 637v2M720 656v2M720 659v1M720 670v1M721 498v2M721 664v2M721 669v1M721 673v1M722 585v1M722 602v7M722 624v2M722 635v2M722 656v1M722 667v3M723 585v4M723 609v1M723 612v1M723 647v1M723 652v3M723 670v1M724 499v2M724 585v3M724 602v1M724 612v1M724 616v2M724 667v1M724 673v1M725 585v3M725 602v2M725 614v1M725 618v4M725 663v1M726 569v3M726 623v4M726 642v3M726 647v4M726 655v1M726 662v2M726 671v1M727 671v1M728 582v3M728 601v1M728 662v1M728 669v1M728 671v1M729 607v2M729 662v3M729 667v4M730 554v1M730 585v3M730 634v1M730 643v1M731 610v2M731 644v1M731 656v2M731 659v1M731 661v2M731 673v1M732 551v3M732 597v2M732 605v1M732 636v3M732 647v2M732 668v1M733 581v2M733 586v1M733 636v2M733 647v1M733 652v2M733 669v1M734 595v4M734 650v2M734 665v3M734 671v2M735 651v1M735 653v3M735 657v3M735 665v3M735 671v1M736 601v2M736 606v1M736 631v2M736 648v2M737 602v3M737 608v2M737 655v1M737 660v2M738 646v1M738 651v1M738 664v1M738 673v1M739 612v2M739 641v2M739 673v1M740 601v3M740 641v2M740 658v2M740 664v2M741 603v7M741 613v3M741 658v2M741 661v6M742 612v2M742 638v1M742 649v2M742 652v4M742 662v2M742 673v1M743 591v1M743 653v1M744 578v1M744 614v2M744 653v2M744 656v2M745 603v3M745 609v2M745 647v1M745 650v1M745 672v2M746 567v1M746 600v4M746 654v2M746 671v1M747 602v1M747 606v3M747 614v1M747 631v1M747 649v2M747 652v6M747 659v2M747 665v1M747 672v2M748 602v4M748 609v1M748 612v1M748 616v2M748 672v1M749 654v5M749 661v2M750 618v4M750 653v1M750 655v2M750 673v1M751 624v2M751 629v1M751 640v3M751 651v2M751 662v1M751 673v1M752 640v3M752 651v2M753 612v4M753 667v3M754 576v2M754 599v1M754 613v1M754 630v2M754 655v2M754 661v1M754 667v2M755 565v1M755 599v1M755 602v2M755 613v2M755 642v1M756 665v1M757 593v2M757 600v4M757 621v1M758 600v4M758 621v3M759 593v3M759 636v1M759 650v2M759 673v1M760 545v2M760 588v1M760 593v2M760 600v3M760 652v3M760 666v1M761 601v1M761 649v1M761 655v2M761 658v1M761 670v1M762 586v1M762 589v1M762 606v4M762 655v2M762 658v2M762 665v1M762 668v1M763 588v2M763 592v3M763 639v4M763 651v1M763 661v2M764 591v1M764 593v4M764 655v1M764 663v1M764 669v1M765 575v4M765 584v4M765 595v1M765 606v1M765 613v1M765 615v2M765 653v1M766 638v1M766 666v3M767 588v4M767 602v3M767 606v2M768 600v2M768 633v4M768 653v1M769 581v4M769 589v4M769 600v2M769 616v4M769 636v1M769 643v1M770 605v3M770 638v1M770 643v2M770 654v3M770 664v1M770 667v2M770 671v1M770 673v1M771 654v3M771 662v1M771 666v2M771 670v1M772 96v1M772 612v3M772 616v2M772 630v3M772 642v1M772 670v1M773 616v3M773 630v1M773 634v1M773 668v3M774 632v1M774 638v4M774 673v1M775 583v2M775 589v1M775 592v2M775 595v3M775 633v3M775 638v3M775 644v1M775 665v1M776 534v2M776 592v2M776 595v3M776 655v1M777 574v3M777 588v1M777 590v1M777 596v1M777 630v1M777 665v3M778 578v1M778 604v1M778 622v3M778 639v2M778 667v4M778 672v1M779 565v2M779 588v3M779 642v1M779 650v1M779 653v2M779 669v3M780 563v2M780 595v5M780 621v1M780 642v2M780 668v1M781 568v2M781 587v1M781 601v4M781 620v1M781 636v1M781 646v1M781 667v2M782 601v3M782 616v3M782 629v2M782 661v4M783 569v1M783 602v1M783 647v2M783 664v2M783 667v3M783 671v1M784 599v1M784 657v1M784 662v2M785 581v2M785 599v1M785 614v2M785 645v3M785 650v1M785 657v1M785 662v1M786 615v1M786 632v1M786 636v1M786 638v1M787 640v1M787 661v2M788 586v3M788 643v1M788 659v1M789 607v3M789 663v1M790 578v1M790 580v1M790 651v3M790 665v2M791 625v1M791 653v4M791 664v2M792 599v4M792 625v1M792 652v1M792 658v2M792 663v1M793 599v4M793 653v1M793 656v1M793 662v1M794 581v1M794 583v2M794 654v1M794 656v1M795 585v1M795 587v2M795 625v1M796 582v1M796 625v1M796 652v5M797 590v1M797 613v4M797 629v4M797 651v1M798 576v2M798 610v3M798 631v2M798 650v1M798 659v1M798 661v1M798 671v1M799 587v1M799 594v1M799 616v3M799 628v3M799 661v4M799 669v1M800 599v3M800 613v2M801 579v2M801 584v1M801 591v3M801 595v3M801 605v1M801 612v2M801 623v2M801 647v3M801 658v2M801 662v3M802 608v2M802 658v2M803 586v3M803 608v2M803 636v3M803 644v1M803 658v3M804 593v4M804 603v3M804 608v1M804 666v1M805 608v1M805 613v3M805 635v3M805 660v2M805 663v3M806 633v2M806 645v1M806 657v2M807 562v3M807 642v2M807 657v4M808 648v7M808 658v2M808 669v2M809 603v1M809 658v2M809 663v1M810 589v3M810 599v2M810 651v1M810 664v1M811 588v1M811 649v2M811 665v5M811 673v1M812 585v3M812 589v3M812 601v1M812 658v1M812 661v2M813 577v4M813 634v2M813 654v2M813 658v3M813 665v1M814 588v2M814 626v4M814 635v1M814 644v1M814 657v2M814 663v2M814 672v2M815 587v3M815 621v1M815 632v3M815 637v3M816 596v1M816 598v1M816 603v3M816 661v1M816 665v2M817 589v1M817 603v3M817 661v1M817 669v2M818 583v5M818 597v2M818 652v3M818 672v2M819 566v2M819 664v4M820 615v3M820 655v1M820 662v5M821 596v6M821 615v3M821 665v1M821 668v4M822 592v2M822 656v4M822 665v2M822 668v4M823 661v5M824 577v3M824 591v2M824 608v3M824 619v4M824 658v1M824 660v1M824 665v1M825 578v3M825 635v5M825 659v2M825 664v1M826 579v4M826 628v1M826 641v1M826 662v2M826 671v3M827 607v3M827 632v2M827 641v1M827 658v2M827 668v2M827 671v1M828 607v3M828 614v4M828 632v2M828 635v1M828 644v3M828 654v2M828 664v1M829 643v2M829 665v2M829 670v3M830 598v1M830 656v2M831 598v1M831 633v1M831 656v2M831 673v1M832 622v3M832 633v1M832 650v1M832 668v2M832 671v1M833 561v2M833 597v1M833 623v5M833 631v3M833 635v5M833 650v1M833 665v1M834 601v1M834 617v2M834 628v2M834 654v1M835 612v2M835 635v4M835 648v2M835 657v2M836 603v1M836 607v2M836 612v2M836 623v2M836 636v2M836 647v2M836 664v2M836 671v2M837 554v2M837 587v1M837 623v2M837 664v1M837 673v1M838 627v3M838 635v2M838 641v1M838 649v2M838 657v2M838 667v2M838 671v2M839 580v3M839 647v1M839 650v1M839 658v1M839 661v1M839 670v1M839 673v1M840 554v2M840 638v2M840 644v2M840 660v1M840 665v2M841 581v2M841 642v3M841 647v3M841 652v2M841 657v2M841 661v1M841 671v2M842 556v2M842 624v3M842 629v3M842 658v3M842 669v2M842 672v2M843 498v3M843 624v1M843 629v3M843 641v1M843 658v5M843 671v1M844 623v1M844 645v1M844 650v7M844 660v5M845 558v1M845 623v4M845 666v1M845 671v2M846 613v2M846 637v4M846 643v1M846 652v2M846 655v3M846 660v2M846 664v1M846 673v1M847 586v4M847 593v1M847 596v1M847 599v2M847 653v1M847 655v2M847 661v2M847 673v1M848 605v4M848 629v1M848 641v1M848 652v1M848 654v2M848 668v1M849 606v3M849 615v2M849 644v1M849 665v1M849 668v4M850 563v2M850 639v2M850 643v2M850 661v5M850 673v1M851 586v1M851 602v3M851 644v1M851 651v1M851 658v2M851 662v1M851 665v1M851 669v1M851 671v1M852 584v3M852 612v1M852 615v1M852 640v1M852 642v2M852 652v2M852 660v1M852 664v2M852 671v1M853 604v2M853 658v4M854 640v1M854 650v1M854 657v1M854 664v3M854 670v3M855 603v4M855 636v1M855 643v2M855 646v1M855 663v2M855 667v1M855 672v1M856 607v4M856 637v2M856 652v1M856 658v2M856 664v1M856 666v1M857 645v3M857 652v1M857 662v2M857 673v1M858 554v3M858 610v2M858 615v2M858 647v1M858 658v2M859 557v4M859 589v3M859 619v1M859 631v3M859 663v1M859 668v1M859 670v2M860 592v3M860 599v1M860 602v1M860 613v1M860 631v3M860 668v1M860 672v2M861 589v3M861 614v2M861 619v2M861 623v2M861 642v4M861 647v1M861 659v1M861 671v2M862 572v2M862 618v3M862 623v2M862 646v1M862 659v1M862 667v2M862 672v1M863 587v3M863 596v3M863 604v2M863 656v1M863 659v1M863 662v2M863 665v4M864 578v3M864 602v1M864 618v2M864 636v1M864 642v1M864 650v1M864 668v1M865 602v2M865 632v3M865 651v1M865 653v1M865 656v1M866 583v2M866 593v1M866 595v1M866 612v1M866 618v3M866 637v1M866 639v2M866 645v1M866 659v2M866 670v3M867 624v2M867 642v1M867 645v2M867 652v1M867 671v1M868 580v2M868 610v3M868 616v3M868 659v1M868 666v1M869 581v2M869 596v4M869 621v3M869 644v1M869 665v2M870 533v1M870 593v2M870 601v1M870 621v2M870 625v1M870 628v2M870 663v1M870 670v1M871 576v2M871 601v1M871 617v1M871 621v2M871 631v4M871 645v1M871 662v1M871 667v1M872 621v6M872 634v1M872 637v2M872 650v1M872 654v6M872 661v1M872 673v1M873 566v2M873 604v4M873 625v1M873 630v2M873 641v1M873 659v3M873 666v1M874 323v2M874 600v3M874 605v1M874 607v1M874 630v3M874 641v1M874 644v4M874 650v3M874 666v2M875 576v2M875 594v3M875 624v1M876 594v3M876 599v2M876 637v2M876 666v1M877 576v3M877 582v4M877 640v3M877 653v3M877 658v2M877 661v1M877 664v2M878 557v2M878 636v2M878 668v2M879 599v3M879 611v3M879 643v2M879 652v1M879 668v1M879 673v1M880 605v1M880 622v3M880 635v4M880 652v2M880 657v2M881 628v2M881 657v1M881 660v4M881 669v1M882 599v2M882 637v4M882 656v1M882 667v1M882 673v1M883 593v3M883 604v3M883 608v3M883 637v2M883 657v1M883 659v1M883 661v2M883 666v1M884 593v2M884 637v2M884 652v2M884 665v1M885 576v3M885 601v2M885 634v1M885 649v1M885 656v2M885 665v3M886 499v1M886 590v4M886 605v2M886 625v2M886 634v3M886 646v1M886 653v2M887 587v4M887 643v1M887 650v4M887 657v1M887 668v1M888 627v2M888 637v3M888 654v1M888 664v2M889 585v3M889 595v4M889 625v1M889 663v3M889 668v4M890 599v1M890 611v1M890 625v2M890 647v1M890 655v2M890 673v1M891 638v3M891 668v1M892 577v1M892 587v1M892 605v3M892 620v2M893 588v1M893 647v5M894 638v2M894 647v1M894 651v3M894 659v1M894 662v2M894 672v2M895 499v4M895 598v2M895 607v1M895 609v2M895 651v3M895 657v1M896 589v2M896 596v4M896 628v2M896 635v4M896 641v1M896 652v2M896 657v1M896 662v1M896 666v1M897 596v4M897 650v1M897 652v1M897 659v1M897 662v1M898 593v3M898 603v1M898 605v4M898 651v2M898 654v1M898 656v1M898 662v2M898 670v1M899 603v3M899 662v2M900 602v1M900 629v4M900 646v4M900 651v1M900 660v3M900 665v3M900 672v1M901 592v3M901 610v2M901 634v2M901 637v2M901 655v2M901 660v2M902 638v3M902 642v2M902 647v3M902 652v1M902 664v2M903 557v3M903 626v3M903 644v2M903 660v1M903 664v2M903 670v2M904 545v2M904 594v1M904 610v1M904 628v3M904 641v1M904 645v2M904 648v1M904 656v1M904 659v2M904 664v2M904 667v1M905 578v2M905 605v2M905 648v2M905 654v1M905 666v1M905 670v2M906 633v1M906 652v4M906 660v1M906 664v2M906 669v1M906 672v2M907 544v2M907 659v3M907 664v2M907 667v1M907 673v1M908 639v3M908 650v2M908 661v1M909 569v3M909 592v3M909 662v3M909 673v1M910 614v1M910 627v3M910 653v1M910 655v1M910 657v1M910 660v1M910 664v2M910 668v1M911 619v5M911 645v3M911 653v5M911 661v2M911 664v1M911 667v1M911 673v1M912 611v3M912 619v4M912 624v3M912 648v1M912 652v2M912 657v1M912 672v2"/>
<path stroke="#a56900" transform="translate(.5)" d="M105 672v1M106 592v3M106 647v1M106 660v1M106 667v1M106 672v1M107 652v2M107 672v1M108 627v1M108 648v3M108 652v2M109 671v1M110 591v2M111 661v1M111 668v2M114 659v1M114 668v1M115 673v1M117 659v2M117 670v1M118 659v2M118 664v4M119 654v3M119 663v1M119 665v1M119 668v1M119 672v1M120 617v1M120 654v3M120 671v3M121 673v1M122 658v3M122 669v1M123 672v1M124 671v3M125 569v2M125 620v2M125 660v1M125 664v1M125 667v2M126 623v1M126 625v4M126 638v2M126 666v1M126 669v1M128 658v1M128 670v1M129 632v2M129 660v2M129 670v2M130 661v3M131 670v1M132 673v1M133 662v1M133 668v1M134 628v3M134 661v1M134 666v1M135 591v2M135 616v3M135 666v1M135 671v2M136 664v2M136 669v4M137 656v2M137 660v1M137 663v2M137 666v1M138 668v3M138 673v1M139 598v4M139 672v2M140 669v2M141 671v1M142 595v2M142 658v1M142 664v2M143 626v2M144 571v4M144 617v3M144 639v3M145 639v3M145 661v2M145 664v1M145 669v2M146 590v2M146 659v1M146 668v2M147 617v1M147 663v2M147 667v2M147 672v1M148 614v2M148 662v3M148 667v3M149 662v1M150 660v1M151 669v1M152 662v1M152 668v2M153 647v2M153 671v1M155 664v1M155 668v1M157 666v2M157 669v1M157 671v1M158 609v2M160 612v3M160 670v3M161 668v2M162 642v2M162 662v1M162 666v1M163 642v2M163 665v1M163 667v1M164 626v3M164 662v2M164 669v2M165 654v1M165 661v1M165 667v2M166 649v2M167 594v1M167 672v1M168 651v3M168 671v1M169 640v3M169 656v3M169 661v4M169 673v1M170 673v1M171 673v1M172 579v3M172 673v1M173 633v4M173 669v2M174 570v2M174 652v2M174 664v1M174 670v1M175 629v2M180 663v2M181 659v1M182 666v1M183 659v3M184 620v3M185 663v1M185 673v1M186 658v1M187 670v1M188 603v1M189 630v1M189 645v3M189 664v2M190 656v1M191 585v1M191 668v3M193 663v1M193 665v1M193 672v1M194 572v4M194 646v1M194 671v1M195 631v3M195 666v2M196 630v1M196 632v2M196 670v2M197 597v2M197 630v1M197 667v1M198 553v2M198 631v2M198 665v2M198 673v1M199 641v2M199 665v1M200 641v2M200 662v2M201 643v3M201 662v1M201 669v1M201 673v1M202 633v3M202 669v1M203 633v3M203 665v1M207 667v1M208 666v1M208 672v2M209 555v2M209 628v2M209 655v4M211 660v2M211 673v1M212 635v2M212 659v1M212 673v1M213 594v2M213 602v2M213 657v1M213 663v3M215 671v2M216 657v2M217 632v3M218 666v3M218 671v3M220 604v3M221 598v3M222 626v4M222 658v1M222 660v1M223 593v2M223 632v1M223 634v1M223 665v1M223 672v1M224 594v3M224 625v2M224 632v1M224 634v1M225 533v1M226 663v3M228 498v1M229 625v1M229 649v1M229 663v2M230 655v1M230 662v2M231 631v2M231 664v1M232 590v2M232 661v2M232 664v2M232 667v1M232 672v2M233 584v2M233 589v2M233 625v3M234 589v2M234 626v4M234 660v1M235 664v1M235 670v1M237 662v1M237 668v1M237 670v1M238 667v3M239 548v4M239 636v3M239 670v1M240 548v4M240 667v3M241 668v1M242 587v4M242 661v2M242 666v3M242 670v1M243 618v1M243 638v2M243 661v2M243 670v1M244 618v3M244 629v1M244 666v2M245 646v2M245 663v1M245 672v2M247 499v3M247 585v1M248 585v1M248 668v1M249 668v2M251 590v2M251 661v2M252 630v3M253 579v2M253 619v3M253 635v2M253 666v2M253 671v1M254 671v2M255 673v1M256 597v2M256 673v1M257 597v2M257 631v2M258 669v1M259 665v1M260 592v3M260 626v2M260 646v1M262 581v3M262 662v1M262 668v1M263 581v3M263 669v2M264 664v2M264 668v2M265 591v2M265 614v1M265 656v3M265 665v3M268 630v3M268 673v1M269 626v3M270 593v2M270 661v1M270 668v2M271 593v2M271 616v4M271 664v1M272 661v1M272 666v3M272 672v1M273 616v4M273 628v1M273 660v1M273 663v2M273 666v1M274 662v1M275 586v2M275 670v2M276 636v2M276 658v3M276 663v1M277 663v1M277 666v2M278 596v1M279 665v3M280 651v3M281 628v1M281 665v1M281 668v1M282 657v2M282 673v1M283 672v2M284 593v2M284 598v3M284 664v1M284 672v1M285 664v1M286 595v4M287 588v1M287 659v1M287 667v1M287 671v2M288 672v1M289 632v1M289 661v1M289 666v2M289 669v1M289 672v2M290 590v1M290 661v1M290 666v1M291 615v3M291 667v1M292 615v3M292 673v1M293 590v3M293 653v4M293 662v1M293 673v1M294 656v1M294 671v1M295 671v1M296 598v4M296 664v2M296 673v1M297 584v1M297 589v1M297 598v4M297 632v3M298 661v1M299 630v2M299 659v1M299 669v2M300 671v1M302 633v3M302 665v1M303 586v3M303 633v1M303 653v4M303 662v4M303 669v2M303 673v1M304 620v3M304 665v4M304 670v2M305 593v2M305 664v1M306 615v2M306 643v4M307 670v2M308 623v3M308 671v1M309 665v1M309 670v2M310 580v2M310 590v1M310 666v1M311 580v2M311 598v3M311 665v2M312 580v2M312 633v4M313 663v1M313 667v2M315 659v1M315 661v2M316 666v1M318 662v2M318 673v1M320 595v1M321 664v1M322 668v1M322 670v1M323 592v2M323 667v1M324 590v2M324 598v2M324 657v2M325 589v2M325 673v1M326 625v4M326 634v2M326 667v2M327 567v3M327 648v2M327 664v1M328 651v2M328 664v1M329 662v2M330 661v2M331 589v3M331 602v3M331 663v1M332 629v2M332 662v2M332 667v1M333 601v2M333 629v1M333 662v2M333 665v3M334 591v1M334 593v7M334 617v1M334 630v2M334 662v3M334 667v1M336 591v3M336 660v1M337 602v3M337 623v2M337 627v2M337 644v3M337 667v4M338 592v2M338 663v1M339 587v2M339 595v1M339 597v1M339 664v1M339 671v1M340 582v1M340 594v5M340 631v3M340 666v1M341 591v1M341 659v1M341 661v1M342 591v1M342 597v3M342 646v2M342 659v2M344 596v4M344 659v1M344 669v4M345 665v1M345 673v1M346 592v1M346 667v1M347 606v2M348 595v4M349 672v1M351 556v2M351 565v2M351 622v5M351 661v1M351 669v1M351 673v1M352 556v2M352 661v2M352 667v1M354 591v3M354 670v4M355 594v1M355 660v4M355 666v2M355 669v2M356 592v3M356 666v1M357 594v2M357 661v2M358 548v1M358 592v1M358 646v2M360 627v4M360 662v1M361 658v1M362 673v1M363 586v2M364 661v3M364 665v1M364 670v1M365 589v2M365 633v1M365 671v2M366 612v1M366 660v2M367 589v2M367 656v1M367 660v2M367 667v3M368 545v1M368 580v1M368 589v2M368 656v1M368 663v2M368 671v1M369 620v3M369 668v1M370 593v3M370 670v1M371 594v1M371 672v2M372 587v1M372 625v2M372 640v3M372 665v1M374 630v2M375 626v2M375 665v1M376 642v3M378 652v1M379 593v2M379 666v1M381 591v1M381 644v4M381 664v2M381 670v1M382 662v2M382 669v2M382 673v1M383 591v1M383 594v1M383 621v5M383 657v2M383 667v1M383 672v1M384 622v4M384 660v2M384 670v1M384 672v2M386 594v3M386 635v3M387 625v2M387 631v1M387 633v2M388 668v1M388 672v1M389 636v4M389 665v1M389 673v1M391 661v1M391 671v1M391 673v1M392 627v2M393 590v4M393 627v2M393 636v1M393 663v1M393 668v2M394 587v2M394 599v1M394 635v2M394 643v1M395 599v1M395 615v1M395 627v2M395 643v3M395 664v1M396 589v1M396 642v3M396 665v1M396 668v4M397 663v3M397 670v1M397 673v1M398 589v3M399 588v2M399 640v2M399 643v1M399 665v1M399 670v1M400 583v3M401 670v2M402 659v3M403 599v3M404 590v3M404 634v1M404 636v4M404 673v1M405 565v3M405 588v1M405 592v3M405 642v2M405 652v2M406 592v2M406 596v1M406 665v3M406 673v1M407 671v2M408 622v2M408 659v1M408 670v1M409 629v2M409 668v1M410 588v6M410 637v4M411 669v1M412 637v2M413 624v2M414 624v2M415 616v3M415 634v2M415 660v2M416 604v1M416 610v1M417 584v2M417 610v1M417 670v1M418 597v3M418 659v1M418 661v2M419 663v2M420 590v3M420 627v3M420 639v2M420 661v1M421 644v4M422 590v1M422 665v3M423 588v3M423 597v1M423 656v2M423 659v1M423 661v1M423 667v1M423 669v1M424 597v1M424 660v1M424 666v1M425 587v3M425 655v2M426 627v2M426 661v1M426 664v1M426 670v1M427 630v3M428 576v2M428 590v2M428 667v1M428 670v1M429 574v4M429 595v1M429 614v3M429 663v1M429 667v1M429 669v4M430 588v1M430 672v2M431 580v2M431 661v1M431 664v2M431 670v2M432 533v4M432 584v2M432 633v2M432 667v1M433 648v2M434 583v1M434 589v1M434 638v1M434 654v1M434 673v1M435 654v2M435 659v1M435 669v2M436 584v3M436 607v1M436 641v3M436 657v1M436 667v1M436 671v1M436 673v1M437 596v1M437 627v3M438 585v8M438 672v1M440 560v4M440 591v2M440 623v1M440 663v3M441 597v2M441 663v2M442 584v2M442 665v1M443 583v4M443 589v1M443 658v2M444 588v1M444 607v3M444 630v3M444 664v2M445 588v1M446 592v5M446 662v1M447 597v1M447 670v4M448 590v1M448 671v3M449 659v1M449 663v1M449 667v1M450 661v2M450 671v1M451 572v2M451 588v1M452 645v1M453 596v2M453 667v1M453 673v1M454 590v3M454 594v1M454 621v3M454 669v3M455 671v2M457 556v1M457 588v2M457 598v2M457 620v3M457 672v2M458 556v1M458 588v2M458 595v2M459 588v3M460 661v1M460 665v1M461 635v1M461 662v1M461 664v1M462 630v3M462 666v1M462 670v2M463 661v1M464 595v5M465 664v1M465 667v1M465 670v1M466 590v3M467 590v1M467 635v3M467 661v1M468 587v1M468 593v1M468 648v3M468 662v1M469 587v1M469 660v1M469 666v2M469 669v1M470 598v1M470 663v1M470 672v1M471 573v2M471 621v3M471 668v1M471 670v1M471 672v1M472 667v2M473 587v2M473 665v1M473 668v3M474 668v3M475 590v4M475 597v2M475 640v2M475 661v1M475 670v4M476 602v2M476 657v2M477 586v2M478 583v3M478 593v1M478 620v1M478 665v1M479 662v1M480 584v1M480 594v1M480 658v2M480 668v5M481 609v1M482 613v3M482 661v3M482 666v1M482 672v1M483 666v2M484 658v1M484 666v1M484 670v4M485 627v2M485 666v3M486 632v4M486 665v2M486 673v1M488 591v3M488 630v2M488 668v1M489 585v1M489 606v2M489 630v2M490 617v2M490 639v2M490 669v1M491 639v2M491 666v2M492 586v4M492 591v1M492 655v3M493 588v1M493 592v1M493 671v1M494 592v3M494 628v1M494 670v1M494 672v1M495 569v3M495 585v2M495 626v2M495 660v1M496 662v2M497 584v3M497 626v3M497 659v5M497 672v2M498 560v2M498 585v3M498 589v1M498 662v1M498 666v1M498 672v1M499 578v2M499 591v2M499 603v3M499 666v3M500 660v1M500 665v2M501 589v3M501 658v2M501 665v1M502 589v1M502 591v1M502 668v1M502 671v2M503 587v1M503 594v2M504 582v3M505 591v3M506 595v3M506 672v1M507 588v3M507 618v2M507 642v1M507 656v2M507 664v2M507 668v1M507 672v2M508 604v1M508 618v2M508 656v2M509 600v3M509 604v1M509 620v2M509 633v1M510 660v2M510 668v2M511 661v1M512 620v4M514 673v1M515 669v1M516 637v4M516 663v1M516 666v3M517 661v1M517 663v1M517 665v2M519 665v1M519 670v1M520 629v3M520 647v2M520 660v3M520 666v4M521 666v1M522 616v1M522 629v1M523 619v1M523 625v3M523 663v2M523 672v1M524 633v3M524 659v1M524 664v2M524 669v1M525 648v3M525 673v1M526 644v2M526 665v3M527 629v3M528 626v1M528 644v1M528 672v2M529 656v2M529 668v1M529 670v1M529 673v1M530 663v1M530 667v1M530 670v1M530 672v2M531 666v1M531 673v1M532 666v2M532 669v3M533 661v3M535 662v3M536 663v2M536 666v1M537 663v2M538 652v4M539 661v2M540 659v1M540 671v1M542 657v3M542 661v8M543 663v1M543 665v1M544 667v2M545 666v2M546 669v1M547 661v2M549 672v1M554 670v1M557 673v1M558 673v1M613 596v2M615 602v1M618 630v1M619 591v1M622 589v2M622 593v1M622 596v2M623 672v1M632 669v2M633 596v2M634 633v3M637 608v2M642 584v2M645 598v2M646 594v1M647 610v4M648 594v2M648 610v2M651 614v2M651 655v2M655 602v1M657 653v2M658 672v2M659 643v4M659 652v3M660 652v3M660 660v1M661 593v2M661 597v2M661 601v1M662 592v2M662 597v2M662 601v1M662 629v4M662 637v1M662 652v1M664 663v1M664 665v2M665 594v2M665 615v2M665 620v4M665 635v2M665 649v1M665 664v1M666 594v3M666 649v2M667 598v1M667 671v2M668 582v4M668 598v1M669 571v1M669 582v6M669 661v3M670 615v2M671 607v3M671 641v3M671 658v3M672 599v2M672 622v1M673 661v2M673 665v2M675 612v2M676 577v3M676 653v2M676 668v1M677 588v2M678 588v3M678 641v3M678 654v2M679 575v3M679 644v1M679 651v1M679 661v1M680 637v2M680 644v1M681 598v1M681 644v2M681 656v2M682 568v2M682 588v2M682 635v3M682 655v3M682 661v3M683 588v2M683 598v2M683 659v1M684 578v2M685 670v1M686 591v1M686 616v1M686 661v2M687 587v2M687 591v1M687 629v3M687 661v2M688 568v2M688 585v1M688 588v2M688 630v2M688 662v1M688 669v1M689 616v1M689 662v2M690 621v3M690 634v2M690 661v2M691 663v4M692 608v4M692 664v1M692 672v1M693 594v1M693 613v3M693 635v2M693 670v1M693 673v1M694 583v3M694 607v2M694 619v4M694 637v3M696 596v3M696 620v3M696 653v5M696 670v3M697 590v3M697 614v1M697 621v1M697 640v1M697 643v2M697 663v1M697 671v2M698 592v1M698 614v1M698 653v2M699 631v3M699 644v3M699 667v2M699 670v2M700 580v2M700 638v2M700 646v1M700 671v1M700 673v1M701 645v2M701 665v1M702 672v2M703 570v2M703 603v1M703 632v1M703 635v2M703 672v1M704 577v3M704 583v4M705 577v2M705 599v1M705 638v1M705 673v1M706 569v3M706 585v1M707 596v1M707 645v1M708 596v3M708 644v2M708 671v3M709 632v1M709 644v2M709 671v3M710 655v1M712 620v2M712 636v1M712 647v2M712 673v1M713 590v4M713 623v1M713 636v1M713 645v5M714 581v4M714 623v1M714 641v3M714 654v1M714 659v1M714 670v3M715 596v1M716 668v1M717 603v2M717 612v1M717 617v2M717 653v2M718 558v2M718 617v2M718 650v1M718 659v1M718 668v2M719 583v3M719 633v3M719 642v1M719 656v1M719 658v2M719 665v5M720 632v1M720 648v4M721 583v2M721 606v2M721 632v1M721 650v2M721 661v3M722 582v3M722 654v1M722 662v2M723 581v4M723 662v1M723 668v2M724 600v2M724 621v2M724 661v3M724 669v1M725 573v3M725 600v1M725 608v1M725 660v3M726 573v1M726 603v6M726 656v1M727 656v2M727 661v2M727 665v2M727 672v2M728 648v2M728 664v5M728 672v1M729 580v3M729 610v1M729 619v1M730 580v2M730 600v3M730 608v4M730 619v4M730 644v3M730 657v2M730 672v2M731 585v1M731 600v2M731 640v1M731 671v2M732 610v2M732 640v3M732 655v1M732 669v1M733 572v2M733 603v1M733 645v1M733 673v1M734 572v2M734 585v1M734 661v3M735 643v1M735 662v3M736 633v1M736 635v1M736 657v2M736 669v1M736 671v1M737 613v3M737 654v1M737 671v2M738 592v2M738 613v5M738 620v1M738 630v2M738 661v3M739 584v2M739 620v2M739 639v1M741 552v2M741 581v3M741 638v3M741 642v2M742 631v2M743 631v1M743 654v2M743 658v1M743 673v1M744 591v1M745 648v2M745 651v2M746 584v2M746 605v1M746 610v4M746 630v2M746 650v3M746 659v1M748 498v4M748 610v2M749 632v1M749 643v3M749 666v2M749 672v1M750 548v2M750 573v4M750 613v2M750 616v1M750 645v1M750 654v1M750 657v5M750 665v2M751 653v1M752 664v1M752 668v1M753 604v4M753 658v1M754 561v1M754 563v3M754 610v2M754 652v2M755 563v2M755 582v2M755 640v2M755 649v3M756 654v2M756 671v1M756 673v1M757 586v1M757 595v1M757 610v2M757 615v2M757 623v1M757 647v3M757 651v3M757 667v2M758 609v4M758 640v3M759 600v4M759 635v1M759 659v1M760 597v1M760 641v1M760 667v1M760 671v2M761 608v1M762 587v2M762 590v3M762 637v1M762 648v2M762 661v1M763 585v1M763 595v2M763 612v1M763 648v3M763 670v1M764 644v3M764 650v2M765 596v1M765 637v1M765 673v1M766 585v3M766 642v2M766 654v1M767 600v2M767 643v2M767 649v3M767 664v1M767 668v2M768 656v4M769 648v2M771 604v3M771 646v1M771 650v1M771 672v1M772 594v4M772 645v4M772 668v1M773 647v2M773 650v3M773 655v1M773 671v1M773 673v1M774 650v3M774 655v2M774 661v1M774 670v3M775 554v3M775 604v1M775 609v1M775 645v3M775 652v1M775 657v1M775 667v5M775 673v1M776 554v3M776 570v1M777 631v2M777 662v1M778 583v1M778 595v5M779 599v4M779 631v3M779 651v1M779 672v2M780 622v2M780 647v1M780 653v1M780 656v3M781 598v2M781 623v1M781 631v2M781 662v5M782 606v1M782 615v1M782 665v4M783 615v3M783 641v2M783 660v1M783 666v1M784 597v1M784 637v2M784 654v1M784 668v1M785 601v1M785 639v2M785 651v3M786 662v1M786 664v1M787 604v1M787 631v3M787 659v1M788 631v1M788 661v1M789 665v1M790 579v1M790 623v2M790 654v1M790 662v2M791 585v3M791 628v3M792 575v1M792 654v2M792 660v1M793 658v1M795 653v2M795 663v1M796 650v2M796 657v1M797 662v2M798 606v4M798 625v2M798 651v2M799 498v4M799 598v3M799 655v3M800 645v3M800 656v1M801 555v2M802 555v2M802 581v4M802 589v1M802 621v3M802 664v2M803 621v3M803 649v1M803 664v2M804 582v3M804 587v3M804 659v1M805 647v1M805 649v2M805 652v1M806 610v1M806 646v1M806 649v1M806 652v1M806 655v1M806 659v1M806 661v1M806 665v4M807 644v2M807 663v1M807 667v2M809 607v2M809 617v3M809 645v1M809 661v1M810 657v3M810 665v4M811 593v1M811 657v3M812 592v3M812 600v1M812 602v1M812 656v2M813 587v1M813 600v2M813 606v2M813 618v4M813 657v1M813 664v1M813 671v3M814 587v1M814 638v2M814 649v1M814 668v1M815 583v3M815 592v2M815 595v2M815 598v1M815 628v2M815 635v2M815 663v1M815 667v2M816 670v3M817 574v4M817 587v1M817 659v1M818 631v3M818 664v1M818 668v2M818 671v1M819 568v2M819 590v2M819 599v2M819 617v1M819 655v3M819 668v3M820 586v2M820 667v1M820 670v1M820 672v2M821 607v3M821 633v3M821 657v1M822 655v1M822 660v1M822 663v2M823 624v4M823 667v2M823 671v1M824 615v1M825 617v4M825 631v3M826 612v1M826 624v3M826 646v1M826 669v2M827 572v1M827 640v1M827 646v2M828 637v2M828 640v2M829 633v6M830 603v2M830 663v2M830 666v1M830 668v1M831 603v2M831 668v1M831 670v1M832 585v3M832 636v3M832 640v1M832 642v4M832 654v1M832 659v3M833 605v2M833 659v3M834 602v2M834 660v1M835 563v1M835 644v1M835 647v1M836 588v3M836 641v6M836 657v1M836 660v1M836 673v1M837 641v3M837 649v1M837 652v3M837 660v1M837 670v1M838 597v3M838 624v3M838 632v3M838 637v1M838 651v2M838 673v1M839 593v2M839 629v4M839 659v1M839 671v2M840 593v2M840 633v2M840 657v3M840 661v1M841 596v1M841 606v1M841 640v1M841 654v2M841 662v1M841 666v1M841 670v1M842 551v2M842 596v1M842 652v4M842 667v1M843 542v3M843 640v1M843 667v1M843 670v1M843 672v1M844 421v2M844 614v2M844 657v3M844 666v1M844 668v2M845 616v3M845 640v3M845 657v1M845 659v2M846 618v2M846 645v2M846 649v2M846 666v2M847 643v1M847 654v1M847 657v2M847 666v2M848 643v3M848 649v2M848 660v2M849 502v4M849 645v2M849 657v1M849 673v1M850 573v3M850 635v2M850 657v1M850 670v1M851 587v2M851 645v4M851 672v1M852 587v1M852 613v2M852 641v1M852 644v2M852 657v1M853 581v2M853 598v3M853 656v2M853 671v1M854 598v3M854 639v1M854 641v3M854 652v1M854 658v1M855 573v2M855 612v3M855 651v2M855 656v2M856 618v4M856 648v1M856 653v2M856 667v1M857 580v2M857 599v2M857 604v3M857 653v1M857 669v1M858 580v2M858 599v4M858 613v1M858 643v4M858 660v1M858 669v1M859 599v2M859 613v1M859 617v2M859 636v3M859 660v1M859 664v2M860 600v2M860 627v1M860 635v2M860 641v3M860 646v1M861 611v3M861 618v1M861 640v2M861 648v1M861 665v1M862 603v2M862 636v3M862 650v1M862 652v1M863 616v2M863 636v4M863 641v4M863 650v1M863 672v1M864 641v1M864 643v1M864 660v1M864 664v1M864 673v1M865 663v1M865 668v2M866 577v3M866 631v1M866 641v1M866 657v1M866 665v1M867 593v1M867 595v1M867 600v3M867 605v4M867 617v4M867 636v4M867 653v1M867 663v2M868 597v2M868 605v5M868 639v2M868 648v2M868 673v1M869 664v1M869 670v2M870 585v3M870 648v1M871 568v2M871 582v1M871 585v1M871 587v3M871 600v1M871 602v2M871 625v3M871 638v1M871 644v1M871 649v1M871 669v1M872 591v1M872 595v1M872 627v1M872 644v1M872 647v2M872 667v1M873 582v3M873 591v1M873 643v2M873 667v1M874 581v1M874 625v2M874 662v1M875 630v2M875 644v2M875 650v1M875 667v3M876 640v1M876 673v1M877 594v2M877 622v3M877 645v1M878 622v2M878 630v2M878 660v1M878 662v1M879 587v1M879 618v2M879 645v1M879 653v1M879 656v2M880 626v3M880 645v1M880 671v1M881 572v2M881 626v2M881 632v1M881 637v1M882 587v3M882 649v4M882 659v1M883 587v1M883 589v1M883 645v2M883 672v1M884 586v2M884 623v2M885 650v3M886 670v2M886 673v1M887 594v2M888 593v1M888 655v2M889 591v3M889 643v2M889 655v1M889 672v1M890 587v2M890 591v5M890 601v2M891 628v2M891 631v1M891 653v1M891 656v1M892 578v1M892 630v2M892 636v4M892 641v3M892 650v2M892 653v1M892 658v1M893 578v1M893 587v1M893 638v1M893 644v3M893 652v2M893 661v1M893 672v2M894 559v4M894 587v1M894 658v1M894 667v1M894 669v1M895 659v1M896 588v1M896 607v3M896 616v3M896 630v1M896 672v2M897 592v1M897 630v6M897 640v2M897 653v3M898 634v2M898 669v1M899 589v2M899 632v2M899 649v3M899 657v1M900 598v2M900 607v2M900 635v4M900 652v4M900 657v2M900 671v1M901 609v1M901 667v1M901 672v1M902 637v1M902 646v1M902 669v1M902 673v1M903 602v1M904 551v3M904 611v3M904 637v2M904 647v1M904 654v2M904 658v1M904 661v1M904 671v1M905 551v3M905 609v2M905 639v1M905 641v2M905 661v1M906 610v2M906 621v2M907 607v3M907 632v4M907 662v1M908 624v1M908 643v1M908 647v2M908 656v2M908 663v2M908 672v1M909 583v1M909 643v2M909 657v1M909 671v2M910 583v1M910 646v2M910 658v2M910 670v1M911 637v3M911 659v1M911 666v1M911 670v1M912 671v1"/>
<path stroke="#966e00" transform="translate(.5)" d="M105 673v1M107 665v2M107 670v1M108 668v3M109 626v2M110 661v3M111 671v1M112 659v1M112 671v2M114 661v1M115 671v1M117 622v3M117 666v1M118 591v2M118 623v3M118 662v2M119 627v3M120 666v1M121 641v3M121 654v4M121 662v2M125 669v1M126 604v3M127 670v4M129 626v3M130 665v2M132 664v1M132 669v2M133 661v1M133 666v2M133 670v3M134 614v2M134 668v1M135 624v2M138 664v1M138 666v1M139 644v4M139 662v1M139 665v1M140 663v1M143 596v1M143 661v1M144 670v2M144 673v1M145 667v1M146 657v2M146 673v1M147 631v3M147 671v1M148 665v2M150 620v1M150 673v1M151 656v2M151 666v3M152 644v1M153 668v1M153 672v1M154 630v2M155 626v1M156 664v1M157 665v1M158 663v1M159 663v2M160 660v1M162 593v2M162 667v2M162 672v1M164 624v2M164 667v2M166 642v4M167 617v1M169 589v1M170 589v1M170 650v4M170 662v1M171 655v2M172 636v3M176 671v3M178 562v2M179 672v1M185 671v1M189 631v3M189 668v1M190 672v1M191 565v4M192 565v4M192 661v4M195 669v1M196 631v1M196 660v1M197 633v2M198 623v3M198 633v2M199 633v3M200 657v2M200 667v1M201 666v1M202 654v2M203 654v2M203 662v1M204 633v3M207 634v2M208 586v3M209 664v2M213 659v1M214 668v1M217 594v2M219 616v2M219 664v2M219 669v1M219 671v1M221 630v1M223 592v1M223 608v3M223 664v1M225 594v3M226 594v3M226 648v1M229 627v3M229 641v1M229 661v1M231 630v1M231 633v1M232 598v1M232 633v1M232 669v2M233 665v1M234 588v1M234 670v1M234 672v2M235 631v2M235 662v1M237 654v3M238 594v2M238 654v4M239 663v3M240 666v1M240 671v1M241 663v1M241 671v1M243 668v2M244 662v2M245 645v1M245 659v1M248 621v2M248 661v1M248 666v1M248 672v1M250 665v1M250 671v1M251 566v2M251 672v2M253 591v3M253 655v1M253 669v1M254 668v1M255 661v2M255 668v1M257 585v2M257 589v2M257 593v3M258 664v1M259 588v2M260 671v2M263 588v4M264 589v3M264 671v1M266 621v3M267 666v1M267 669v2M268 619v2M268 666v1M269 556v3M269 672v1M270 556v3M270 658v1M271 597v4M271 615v1M271 667v3M274 631v2M274 672v2M275 604v2M275 633v1M276 594v3M276 664v1M277 664v1M278 662v1M279 602v2M280 662v1M281 664v1M282 668v1M283 668v1M285 614v2M286 574v3M286 664v1M287 630v2M287 658v1M287 665v2M288 667v1M290 594v3M290 640v4M291 596v2M292 672v1M294 594v2M296 662v1M298 660v1M298 665v1M300 667v1M301 652v3M301 671v1M303 671v2M305 627v2M307 556v2M307 662v1M308 640v3M308 663v1M308 673v1M309 668v2M310 595v1M310 664v1M311 664v1M313 589v4M313 599v3M314 662v2M315 673v1M317 660v1M320 592v1M320 655v3M322 663v1M324 668v2M326 669v2M327 623v2M327 644v2M328 644v2M329 622v1M329 671v1M330 622v1M330 636v3M331 636v3M331 661v1M332 596v1M332 598v2M334 666v1M334 668v1M335 659v1M335 661v1M336 614v2M336 636v1M336 669v1M338 594v2M338 597v1M338 632v2M340 667v2M341 592v3M342 667v1M342 670v1M345 592v3M346 594v3M346 664v3M347 661v2M348 590v1M348 592v3M348 627v2M348 641v3M349 588v1M349 627v2M349 670v1M352 648v3M353 594v3M353 671v1M354 669v1M355 589v2M355 592v2M355 636v3M356 596v2M357 596v1M360 594v2M360 658v2M361 590v2M361 659v1M361 664v1M361 671v3M362 590v1M362 604v2M362 637v2M363 576v1M365 662v1M365 666v2M365 669v1M366 662v1M367 671v2M368 673v1M369 589v4M369 658v1M370 659v2M371 592v1M372 597v3M376 589v3M377 672v1M378 641v2M380 592v3M380 621v2M380 663v1M381 589v1M381 592v1M381 621v2M383 661v6M385 593v1M386 588v2M386 593v1M386 668v1M387 562v2M388 662v1M388 667v1M388 670v1M389 662v1M389 667v1M391 668v1M392 672v2M394 660v2M394 666v2M396 590v3M396 663v1M397 590v3M398 642v1M398 666v2M399 642v1M399 661v1M401 593v3M401 663v2M401 666v1M402 593v3M402 670v1M404 595v3M404 669v2M405 596v3M405 664v1M406 589v1M406 599v1M407 596v2M408 673v1M410 587v1M410 670v1M411 666v2M412 669v1M413 586v1M413 649v3M414 604v1M414 671v1M415 604v1M415 628v2M416 590v1M416 667v1M417 632v2M419 595v1M421 589v3M421 663v2M422 578v2M422 587v1M422 669v1M424 581v4M424 664v2M425 591v2M425 669v1M425 673v1M426 652v2M426 665v3M427 593v1M427 672v2M428 558v4M428 669v1M429 585v2M429 589v1M430 662v1M430 664v2M430 669v3M431 663v1M432 593v2M432 661v3M432 665v2M433 593v2M436 583v1M437 598v2M437 663v2M438 630v1M438 662v1M438 669v1M440 589v2M440 661v1M440 668v1M441 589v2M442 596v3M442 656v3M443 627v1M443 629v2M443 671v2M444 587v1M444 592v2M444 668v1M445 585v3M445 590v2M445 665v1M446 590v2M447 585v4M447 592v2M447 655v1M447 663v1M448 591v3M448 646v2M448 655v1M448 663v2M448 670v1M449 653v1M450 653v1M452 592v3M452 665v1M452 671v1M453 654v1M454 593v1M454 620v1M454 654v1M456 661v1M456 666v3M457 597v1M457 666v1M457 668v1M458 670v1M458 673v1M459 673v1M462 668v1M463 671v2M464 634v2M465 592v1M466 593v2M467 593v2M468 668v1M469 613v2M469 626v1M470 628v1M470 630v1M470 662v1M472 588v3M472 664v1M473 644v2M473 671v1M474 661v2M474 667v1M475 630v2M477 663v2M478 663v2M480 586v2M480 590v1M480 592v1M480 595v1M480 625v3M481 586v2M481 625v2M483 586v2M484 626v2M487 595v2M487 664v2M488 603v3M489 668v2M491 594v2M491 619v4M492 592v1M492 624v2M493 622v2M493 667v2M494 667v1M494 669v1M495 617v1M495 672v2M496 617v1M496 637v2M497 598v2M497 631v1M498 579v3M498 594v1M498 661v1M498 663v1M500 594v1M500 603v2M501 603v2M501 663v1M502 592v2M505 595v2M505 666v1M505 672v1M506 670v1M507 635v2M507 661v1M511 615v2M512 665v1M512 667v3M513 656v1M513 665v1M515 656v1M515 670v3M518 666v1M518 671v1M519 658v2M521 625v1M521 642v3M524 662v1M524 670v1M525 668v3M527 634v3M527 672v2M528 663v2M531 668v2M532 665v1M534 670v2M535 671v1M537 650v3M537 667v1M538 663v1M538 668v2M540 662v1M541 663v1M543 659v1M543 673v1M544 662v1M546 666v1M547 658v2M549 670v2M553 670v1M614 597v1M617 601v2M618 598v2M620 594v1M623 597v1M624 597v3M625 588v2M629 672v2M631 590v3M632 595v1M636 597v2M641 599v1M642 599v1M644 595v3M651 613v1M652 599v1M655 593v6M655 600v1M655 662v3M657 614v3M658 602v1M658 658v2M659 662v2M659 667v1M660 662v4M661 660v3M662 659v3M663 638v2M664 645v1M664 662v1M668 673v1M669 588v2M669 639v3M670 614v1M671 611v1M671 613v1M672 667v1M673 582v2M673 654v1M674 582v2M675 585v2M676 584v4M677 584v2M677 649v2M679 659v2M680 662v1M681 662v2M683 582v5M684 583v2M684 587v2M684 595v1M685 618v1M685 639v4M685 659v1M685 661v1M686 611v3M686 639v4M687 600v2M688 608v2M688 663v2M689 614v2M689 625v4M690 628v1M691 600v1M691 606v1M692 606v1M692 665v1M693 590v2M693 595v1M693 597v1M693 617v1M694 617v2M694 668v2M694 672v2M695 617v5M696 617v2M696 673v1M697 617v2M697 622v1M698 617v2M699 598v1M699 617v2M700 594v2M700 617v2M700 670v1M701 594v2M701 617v2M701 626v2M701 673v1M702 594v2M702 602v1M702 617v2M702 623v2M702 640v2M702 646v2M702 670v1M703 594v2M703 602v1M703 617v2M703 645v2M703 648v1M704 594v2M704 617v2M705 582v4M705 594v2M705 617v2M706 594v2M706 617v2M707 594v2M707 617v2M708 594v2M708 617v2M709 594v2M709 599v1M709 602v1M709 617v2M709 652v1M710 560v1M710 594v2M710 607v2M710 617v2M711 594v2M711 617v2M712 588v2M712 594v2M712 617v2M712 640v2M713 594v2M713 617v2M714 594v2M714 617v2M714 632v3M715 594v2M715 617v4M715 665v1M716 594v2M716 673v1M717 594v2M717 636v3M718 594v2M718 615v2M718 673v1M719 594v2M719 608v1M719 626v1M719 648v1M719 650v1M720 589v1M720 594v2M720 610v7M720 626v1M720 655v1M720 661v3M720 667v1M720 669v1M721 594v2M721 610v2M721 667v1M721 670v2M722 594v2M722 628v2M722 637v4M722 646v2M722 670v1M723 579v1M723 594v2M723 603v2M723 637v3M723 661v1M724 627v1M724 664v1M724 671v2M725 613v1M725 627v2M725 639v2M726 666v3M726 672v2M727 584v3M728 638v6M728 673v1M729 640v1M729 652v1M730 650v1M731 651v1M731 663v1M732 619v2M732 639v1M732 670v2M733 648v3M734 587v4M734 648v2M735 631v2M736 651v3M736 665v2M738 636v2M738 652v1M738 657v1M740 636v4M740 661v3M741 636v1M741 641v1M741 672v1M742 627v3M742 651v1M742 661v1M743 656v1M743 661v3M744 539v2M744 662v2M745 659v1M745 663v3M746 606v4M746 664v1M748 578v1M748 584v2M749 664v1M750 612v1M750 646v2M751 574v2M751 578v1M751 654v1M752 583v2M754 669v2M757 598v2M759 597v2M761 654v1M761 673v1M762 594v3M763 643v1M763 645v2M764 617v2M766 572v3M766 602v2M767 572v3M767 666v2M768 670v2M769 577v2M769 640v1M770 593v1M770 596v1M770 640v2M770 646v2M770 662v2M770 665v1M772 637v1M773 577v4M774 635v2M775 648v1M775 654v2M776 604v1M776 648v4M776 668v3M777 595v1M777 655v1M777 668v4M778 617v1M779 617v1M779 668v1M780 638v1M780 655v1M781 669v1M782 592v1M783 593v2M783 649v2M784 568v3M784 593v2M784 602v3M785 618v3M785 638v1M785 661v1M786 600v1M786 653v2M787 663v2M788 644v4M789 589v2M789 651v2M789 661v1M791 666v3M792 605v2M792 666v2M793 654v1M794 655v1M795 634v2M798 646v1M799 553v2M799 659v1M800 581v1M800 615v3M800 620v2M800 658v4M801 628v4M801 660v2M802 590v1M802 612v4M802 628v4M802 666v1M803 593v1M803 650v3M803 656v2M804 634v2M804 660v2M804 667v2M805 596v1M805 651v1M805 656v2M805 666v2M806 656v1M806 662v2M807 635v1M807 653v4M807 662v1M808 672v2M809 568v2M809 650v3M809 662v1M809 664v2M811 603v3M812 603v2M813 597v3M813 666v1M815 671v2M816 589v3M817 597v1M817 630v5M817 652v1M817 656v2M818 638v1M818 667v1M819 596v3M820 657v2M821 629v1M821 666v2M822 594v1M822 629v1M823 617v2M825 595v4M826 627v1M827 667v1M827 670v1M829 560v3M830 636v3M830 660v1M831 660v1M831 663v1M834 644v1M834 671v1M835 614v1M835 665v1M836 635v1M836 638v1M836 652v4M837 581v1M837 583v2M837 666v1M838 580v2M838 646v3M838 654v2M838 664v2M838 670v1M839 646v1M839 648v2M840 643v1M840 646v3M840 667v1M841 553v3M841 620v2M841 641v1M841 646v1M841 656v1M841 673v1M842 637v2M843 649v4M843 663v2M844 583v1M844 599v3M844 631v1M844 641v1M845 609v2M845 667v2M846 647v2M847 647v1M848 609v2M848 658v1M848 667v1M849 648v2M849 654v2M849 660v1M850 647v3M851 618v2M851 656v2M852 673v1M853 624v2M854 663v1M854 673v1M855 666v1M856 580v1M856 596v3M856 616v1M857 610v3M857 659v1M857 665v1M858 612v1M858 614v1M858 661v1M859 657v1M859 666v1M860 581v3M860 628v3M860 669v1M861 657v2M862 581v2M862 606v6M862 660v1M864 647v2M864 652v1M864 654v2M864 670v1M865 624v1M866 642v3M866 653v1M867 632v2M867 644v1M867 649v1M867 670v1M869 654v1M871 545v4M871 586v1M871 590v4M871 661v1M872 639v1M872 645v2M873 596v1M873 626v1M874 596v1M875 651v2M876 590v1M877 590v3M877 657v1M878 646v1M878 654v2M879 671v2M880 629v2M880 659v1M881 633v2M881 647v2M882 660v2M882 670v1M883 633v4M883 671v1M884 579v2M884 634v2M884 660v3M885 640v2M885 654v2M886 639v2M886 660v1M887 666v1M888 657v3M888 663v1M888 666v1M889 650v1M889 658v2M890 580v2M890 618v2M890 654v1M891 641v1M891 654v2M891 672v1M892 602v3M894 660v1M895 658v1M895 665v1M896 577v4M896 655v1M896 663v2M896 669v1M897 642v1M898 633v1M898 636v1M898 649v1M898 653v1M899 646v2M900 615v1M901 640v1M901 649v1M902 667v2M903 612v1M903 654v2M903 672v1M904 582v2M904 605v3M904 634v1M904 640v1M904 653v1M905 607v1M905 616v4M905 634v1M905 640v1M905 645v1M905 665v1M905 667v2M906 612v2M906 616v3M906 643v2M907 649v2M907 653v1M907 658v1M907 666v1M908 644v3M908 649v1M909 611v1M910 611v1M910 615v3M910 638v2M911 587v1M911 590v1M911 596v2M911 660v1M911 663v1M912 634v1M912 643v1M912 659v1M912 663v2"/>
<path stroke="#bc5400" transform="translate(.5)" d="M105 655v2M106 671v1M107 660v1M107 671v1M108 665v3M111 593v2M111 616v2M111 667v1M112 657v2M112 665v3M113 633v4M113 657v2M113 671v1M113 673v1M114 615v2M114 667v1M114 670v1M115 593v2M115 656v2M116 618v3M116 670v1M117 668v1M119 666v2M119 669v1M120 662v2M120 668v2M122 611v4M122 628v3M122 661v2M122 667v1M124 662v1M125 585v1M125 661v3M125 673v1M126 660v3M126 671v1M127 647v4M127 658v1M128 673v1M129 598v2M130 592v1M130 670v1M131 667v2M131 673v1M132 658v1M132 660v1M132 671v2M133 657v1M134 662v1M134 667v1M134 671v2M135 548v2M135 619v2M135 652v1M136 619v2M136 659v2M139 660v2M139 663v2M139 668v4M140 626v2M140 658v1M140 660v2M140 664v1M141 657v3M141 663v1M141 665v1M141 667v2M142 607v2M142 629v1M143 642v2M143 660v1M143 670v1M145 621v1M145 663v1M145 665v1M145 672v1M146 660v1M146 666v2M147 665v2M148 622v2M148 651v2M148 673v1M149 629v2M149 644v3M149 651v2M149 663v2M149 668v1M150 603v2M150 668v3M151 604v1M152 663v2M152 667v1M152 672v1M153 658v1M153 661v2M155 624v2M155 662v1M155 670v2M156 665v2M156 670v3M157 620v4M157 660v2M158 626v3M159 596v3M159 658v3M159 673v1M160 655v2M160 662v1M160 664v3M160 673v1M161 629v4M161 671v1M162 603v4M162 630v3M162 670v1M162 673v1M164 584v1M164 653v2M165 648v1M166 661v2M166 667v4M167 633v2M167 663v1M167 671v1M168 571v2M168 610v3M168 663v1M168 666v1M169 591v4M170 661v1M170 666v2M171 664v4M172 549v2M172 664v1M172 671v1M173 662v3M173 673v1M174 609v4M174 663v1M174 669v1M174 671v1M175 666v2M177 545v3M177 583v2M178 583v2M178 633v4M178 671v1M179 673v1M180 593v3M181 593v3M181 660v2M183 623v1M183 668v1M183 672v1M184 623v1M184 673v1M187 652v2M189 629v1M189 634v1M189 653v3M189 662v2M189 671v2M190 629v4M190 661v2M190 673v1M191 629v4M191 673v1M192 665v3M192 672v1M193 658v1M193 664v1M193 666v3M193 670v1M193 673v1M194 605v3M194 665v1M194 667v1M195 605v1M195 623v3M195 658v1M195 662v1M196 639v2M196 665v5M197 623v2M197 631v2M197 639v2M197 665v1M198 639v1M198 672v1M199 664v1M199 668v1M199 673v1M200 589v2M200 618v2M200 636v2M202 651v3M202 663v1M204 624v3M205 613v1M205 662v4M206 665v2M206 669v1M206 672v2M207 672v1M208 663v1M209 645v2M210 590v4M210 628v3M210 656v3M210 661v3M210 667v2M211 656v1M211 667v1M211 672v1M212 622v2M212 662v2M213 500v3M213 660v1M213 668v1M214 660v1M214 672v1M215 632v1M215 644v1M215 656v1M216 660v1M216 671v2M217 621v3M217 665v1M217 673v1M218 623v1M219 590v2M219 673v1M220 587v3M220 627v3M222 636v4M222 656v2M223 596v2M223 616v4M223 660v1M223 667v2M224 572v3M224 667v2M224 670v1M225 628v3M225 667v1M226 557v2M226 630v2M226 669v5M227 660v1M227 662v2M227 668v4M228 660v3M229 630v3M229 673v1M230 661v1M231 662v2M232 666v1M233 669v2M233 672v1M234 671v1M235 616v6M235 666v3M235 671v1M236 619v2M236 654v1M236 658v2M236 661v4M236 666v1M236 668v1M236 671v1M237 623v1M238 666v1M239 662v1M240 630v1M240 661v1M240 664v1M241 659v1M242 654v2M243 654v4M243 665v1M244 633v2M245 633v2M245 671v1M246 632v1M246 641v2M246 658v1M247 613v1M247 632v1M247 660v2M248 588v3M248 629v2M248 634v2M248 671v1M248 673v1M249 610v3M249 634v2M249 660v1M250 585v3M252 665v1M253 663v1M254 648v1M255 667v1M255 669v1M258 580v4M258 612v2M258 660v1M258 670v1M259 586v2M259 671v1M260 582v1M261 665v1M261 667v1M263 658v1M263 673v1M264 596v2M264 619v3M264 658v1M266 662v1M266 664v5M266 673v1M269 660v2M271 567v1M271 587v4M271 661v3M271 671v1M272 670v1M272 673v1M273 670v1M273 672v1M274 633v1M274 659v1M274 670v1M275 631v2M275 672v1M277 589v2M277 597v2M277 622v1M277 665v1M277 669v2M277 672v2M278 597v2M278 668v1M278 672v1M279 559v3M279 670v1M280 626v2M280 667v3M281 595v3M281 629v1M281 662v1M281 666v1M281 669v1M282 629v3M282 656v1M282 664v1M282 666v2M282 671v1M283 658v2M283 667v1M283 671v1M284 625v3M284 632v2M284 660v1M285 620v2M285 626v1M286 625v2M286 660v1M286 666v2M287 654v2M288 638v4M288 661v1M288 670v2M288 673v1M289 640v3M289 660v1M289 665v1M290 631v1M290 665v1M291 570v2M291 600v2M291 622v7M291 661v1M291 671v1M292 596v2M292 623v2M292 664v2M293 578v3M293 660v1M294 606v3M294 669v2M295 644v2M296 624v2M296 660v1M297 624v2M298 624v1M298 651v1M300 663v1M301 607v3M301 616v1M301 667v3M302 588v4M302 656v1M302 666v4M302 671v3M303 645v2M303 666v1M304 598v2M304 624v2M304 634v2M305 634v2M305 665v1M306 593v2M307 609v2M308 653v2M308 661v1M308 672v1M309 597v2M309 655v2M310 554v4M310 591v3M310 671v1M311 591v4M312 591v4M312 661v3M312 668v1M313 661v2M313 670v2M314 599v2M314 635v2M315 665v1M315 670v1M316 629v1M316 662v2M317 625v2M317 629v1M317 662v4M318 564v3M318 625v2M318 664v2M319 589v5M319 603v3M319 671v2M320 586v6M320 603v3M320 661v1M321 596v3M322 592v3M322 623v3M323 594v1M323 623v2M324 592v4M324 628v2M324 664v1M324 673v1M325 623v1M325 658v2M325 661v2M326 661v2M326 672v2M327 587v1M327 663v1M327 665v1M328 586v1M328 659v1M328 663v1M328 665v1M328 669v2M329 559v4M329 654v1M330 559v4M330 588v3M330 629v3M330 652v2M331 588v1M331 629v3M331 635v1M331 652v1M331 662v1M332 594v2M332 659v1M333 635v2M333 649v1M333 661v1M334 592v1M334 636v4M334 651v2M334 659v1M334 661v1M335 670v1M335 673v1M336 661v1M336 663v1M337 662v2M337 665v1M338 660v3M338 664v2M339 590v3M339 662v2M339 668v1M340 593v1M340 665v1M340 669v1M340 673v1M341 595v4M341 614v2M342 595v2M342 614v2M343 591v1M343 665v4M344 600v3M344 615v1M344 650v3M344 656v3M344 668v1M344 673v1M345 658v2M347 658v1M348 661v2M349 586v1M349 617v2M349 649v4M349 665v1M351 584v2M351 597v1M351 630v1M351 653v3M351 662v2M353 585v1M353 669v2M354 585v1M354 588v1M354 626v2M354 666v3M355 595v2M356 595v1M356 668v1M356 672v1M357 589v2M357 665v1M358 634v1M358 665v1M359 634v1M359 659v1M360 672v1M361 594v2M361 665v1M362 624v3M363 589v2M364 591v2M364 620v3M364 668v2M365 591v2M365 659v2M366 670v1M367 592v2M367 624v2M367 659v1M367 662v2M367 670v1M368 651v3M368 670v1M369 670v1M370 623v4M371 595v1M371 671v1M372 660v1M372 669v3M373 588v5M373 636v2M373 670v1M374 577v1M374 588v4M374 594v6M374 633v2M375 666v1M376 592v3M376 667v1M377 592v3M377 619v2M377 629v2M377 641v3M377 658v4M378 587v1M378 629v1M379 580v3M379 601v2M379 660v1M380 665v1M380 669v3M381 586v3M381 650v2M381 660v4M381 666v2M382 592v1M382 656v3M383 628v2M383 632v2M384 586v1M384 588v1M384 595v4M385 592v1M385 612v4M385 660v1M385 662v2M386 662v6M386 669v2M386 673v1M387 586v2M387 608v1M387 632v1M387 662v5M389 598v2M389 664v1M390 631v3M390 661v3M390 670v1M390 672v2M391 618v3M391 662v1M391 670v1M392 588v3M392 592v1M393 585v1M393 660v3M393 664v1M393 672v2M394 670v1M394 673v1M395 659v2M397 668v1M397 672v1M398 583v4M398 650v1M398 662v2M398 672v2M399 630v3M399 650v1M399 660v1M399 672v2M400 594v4M400 662v1M401 662v1M401 667v1M402 90v2M403 544v4M403 609v2M403 668v2M404 608v3M404 662v1M405 568v2M405 584v3M405 620v3M405 636v2M405 639v3M406 584v3M406 591v1M406 672v1M407 557v1M407 578v4M407 665v1M408 578v4M408 589v4M408 595v1M408 669v1M408 672v1M409 622v2M409 666v1M409 669v1M409 672v1M410 634v2M410 673v1M411 668v1M411 671v2M412 663v2M412 667v2M413 591v2M413 630v1M413 667v1M414 589v2M414 593v3M414 649v5M414 659v1M414 667v1M414 670v1M415 631v1M415 669v1M415 673v1M416 586v2M416 591v1M416 595v2M417 590v2M417 599v2M417 648v2M417 666v1M418 632v1M418 634v2M418 667v2M418 672v2M419 587v2M420 534v1M420 587v2M420 635v4M421 671v1M422 591v1M422 624v3M422 672v2M423 584v2M424 595v2M424 616v1M424 659v1M425 626v1M425 667v2M425 671v2M426 659v1M427 664v1M427 666v1M427 669v1M428 636v1M428 660v1M428 666v1M428 668v1M429 590v2M429 656v2M429 664v1M430 627v2M430 630v4M430 661v1M430 666v3M431 591v4M431 672v2M432 628v3M432 669v5M433 664v8M434 591v1M434 614v2M434 627v2M434 664v3M435 620v1M435 623v7M435 636v1M435 643v2M435 660v1M436 588v1M436 593v6M436 666v1M436 668v2M437 587v3M437 593v1M437 665v1M438 561v3M438 593v6M438 620v2M438 665v1M438 673v1M439 591v2M439 629v2M440 588v1M440 658v2M440 667v1M441 592v1M441 618v2M441 660v1M441 667v2M441 671v1M442 592v1M442 667v1M442 672v1M443 664v1M443 667v1M443 673v1M444 590v2M444 595v3M444 662v1M445 595v3M445 668v1M446 584v4M446 589v1M446 667v2M446 672v2M447 584v1M447 638v3M447 659v1M447 667v2M448 662v1M448 669v1M449 670v1M450 663v1M451 592v2M451 666v3M453 586v2M453 594v2M453 661v1M454 596v2M454 667v1M454 672v1M455 592v3M455 662v2M456 587v2M456 651v2M456 662v1M457 592v1M457 626v1M457 628v1M457 651v2M457 665v1M459 593v1M459 668v1M459 671v1M460 594v2M460 647v1M460 666v1M460 669v2M460 673v1M461 585v3M461 596v2M461 661v1M461 663v1M461 668v3M462 583v1M462 593v4M462 658v2M462 661v1M463 633v4M464 585v1M464 666v3M464 671v1M465 665v2M465 668v2M466 663v2M466 667v2M466 670v1M467 662v1M467 665v1M467 668v2M468 667v1M468 673v1M469 585v1M469 588v1M469 591v3M469 606v2M469 622v2M469 661v2M469 664v2M470 595v2M470 670v1M470 673v1M471 635v2M471 657v2M471 673v1M472 632v2M473 591v2M473 602v1M473 655v4M473 661v1M474 625v3M474 663v1M474 672v1M475 636v3M475 660v1M475 667v3M476 607v2M476 667v1M476 672v1M477 588v2M477 660v1M477 669v1M478 633v2M478 668v1M479 590v1M479 597v3M479 660v1M479 665v3M480 593v1M480 629v2M480 660v1M480 662v1M481 588v1M481 592v2M481 627v3M481 664v1M481 670v1M481 672v2M482 594v4M482 627v3M482 668v1M483 589v2M483 660v1M483 664v2M484 623v3M484 665v1M484 668v1M485 593v2M485 607v2M485 637v3M485 656v1M485 660v2M485 665v1M485 669v2M486 589v1M486 669v3M487 589v4M487 632v1M487 663v1M487 673v1M488 588v3M488 596v3M488 615v3M488 669v1M489 603v1M489 667v1M490 671v2M491 583v3M492 663v1M492 667v1M493 672v2M494 584v1M494 665v2M495 599v3M496 584v2M496 591v4M497 589v1M497 620v1M497 635v2M497 671v1M498 598v2M500 590v1M500 673v1M501 637v3M501 666v1M501 672v1M502 590v1M502 666v1M503 590v3M503 624v3M504 599v1M504 624v3M504 643v1M504 646v1M504 666v2M505 594v1M505 661v1M505 665v1M506 587v2M506 594v1M506 641v4M506 662v2M506 666v2M507 669v2M508 592v4M509 658v1M512 596v1M513 648v1M513 660v1M513 666v4M514 627v3M514 667v3M514 672v1M515 667v2M516 626v2M517 617v3M518 623v4M518 628v1M518 642v3M518 673v1M519 613v1M519 634v2M519 661v1M520 613v1M521 648v3M521 667v4M521 672v1M522 630v3M522 670v3M523 668v3M524 671v3M526 624v2M526 669v2M527 665v3M527 670v2M528 629v1M528 665v2M529 661v2M529 666v1M531 642v3M531 648v2M532 673v1M533 652v6M533 666v3M535 76v2M535 667v2M535 672v2M536 665v1M536 667v2M537 660v1M537 665v1M537 673v1M541 672v1M542 669v2M543 664v1M543 669v1M544 664v3M545 668v2M546 658v2M546 661v2M547 660v1M548 662v4M548 672v2M549 665v3M549 669v1M550 664v1M551 668v1M551 672v1M554 668v2M557 671v1M611 600v1M612 597v1M617 598v3M618 600v3M622 598v2M623 591v4M626 671v1M627 628v3M629 671v1M633 594v2M648 633v1M649 633v1M651 587v2M651 624v3M654 646v1M655 629v2M655 646v1M656 664v1M658 600v2M658 655v2M658 671v1M659 601v1M659 633v3M660 602v4M660 673v1M661 596v1M661 648v1M662 653v3M662 663v1M663 607v1M663 622v2M663 625v2M663 628v1M663 641v1M663 658v2M663 669v3M664 658v1M664 664v1M664 672v1M665 619v1M666 619v3M666 625v1M666 667v2M667 625v1M667 664v1M668 569v4M668 597v1M668 645v3M668 666v3M669 569v2M669 572v1M669 597v3M669 660v1M670 555v1M670 597v3M670 639v2M670 663v1M671 588v1M671 629v2M671 649v1M672 583v3M672 663v1M673 673v1M674 620v4M675 643v2M676 590v3M677 590v3M677 672v1M678 598v1M678 629v1M678 645v1M678 647v1M678 657v1M678 673v1M679 583v3M679 629v1M679 645v3M679 649v2M679 652v1M679 657v2M679 673v1M680 614v2M680 624v2M681 570v4M682 554v2M682 570v3M682 611v2M682 624v1M682 658v2M683 554v2M684 501v2M684 607v4M684 657v1M684 660v1M685 501v2M685 577v1M685 579v2M685 610v1M685 660v1M686 594v1M686 619v3M686 657v4M686 672v2M687 581v2M687 606v2M687 622v1M687 653v2M687 667v1M687 669v1M688 597v2M688 614v2M689 587v1M689 605v4M689 617v2M689 673v1M690 584v4M690 612v3M690 617v2M690 625v3M690 660v1M690 663v1M690 673v1M691 547v2M691 574v4M691 579v1M691 584v1M691 587v1M691 615v2M691 635v4M691 640v1M692 593v3M692 600v2M693 573v3M693 577v4M693 662v2M694 573v3M694 592v4M694 598v2M694 606v1M694 632v3M695 599v1M695 629v3M695 654v3M696 586v4M696 601v1M696 628v1M696 634v3M697 619v1M697 665v1M697 670v1M697 673v1M698 650v3M698 669v2M699 569v2M699 586v5M699 669v1M699 672v2M700 586v5M700 623v2M700 635v3M700 643v2M700 651v3M701 638v4M701 651v4M702 606v4M702 622v1M702 639v1M702 648v3M702 671v1M703 572v2M703 668v2M704 655v1M704 670v3M705 604v1M705 607v1M705 649v1M706 586v3M706 651v1M707 538v3M708 646v2M708 651v2M709 588v2M709 642v2M709 660v1M710 596v1M711 651v2M711 660v1M712 592v2M713 599v1M713 619v1M713 639v2M714 569v1M714 588v2M714 648v1M714 652v2M715 569v1M715 597v2M715 637v2M715 649v4M715 660v1M715 672v2M716 644v4M717 619v4M717 632v2M717 646v2M717 659v2M717 673v1M718 655v2M718 660v1M718 670v2M719 604v2M719 661v1M719 664v1M720 618v1M720 639v2M720 658v1M720 668v1M721 565v2M721 639v2M721 648v2M721 660v1M721 666v1M721 668v1M721 672v1M722 610v2M722 627v1M722 666v1M722 671v3M723 610v2M723 624v4M723 656v1M723 671v3M724 574v3M724 647v1M724 649v1M724 665v2M724 670v1M725 550v3M725 615v2M725 637v2M725 665v3M725 671v2M726 665v1M727 603v1M727 618v4M727 645v3M727 649v2M727 652v1M727 667v2M728 590v3M728 616v6M728 645v2M728 659v2M728 670v1M729 627v1M729 653v2M729 672v1M730 659v1M730 671v1M731 616v3M731 649v1M731 653v2M731 670v1M732 649v3M732 656v4M733 601v1M733 666v2M733 671v1M734 639v1M734 645v1M734 647v1M734 670v1M735 103v2M735 639v1M735 642v1M735 644v4M736 607v2M736 610v2M736 622v3M736 634v1M736 661v2M736 673v1M737 596v1M737 610v2M737 622v3M737 633v2M737 651v3M737 662v3M738 597v2M738 611v1M738 653v4M738 665v1M739 647v3M739 665v5M740 611v1M740 629v3M740 640v1M740 660v1M741 611v2M741 629v3M741 651v2M742 555v1M742 614v2M742 639v3M742 660v1M743 597v4M743 602v2M743 612v3M743 647v2M743 657v1M744 592v3M744 598v4M744 616v5M744 658v4M744 673v1M745 629v1M745 645v1M745 662v1M745 668v1M746 656v1M746 661v3M747 545v2M747 592v1M747 661v3M747 666v5M748 586v1M748 608v1M748 654v1M748 660v1M748 666v2M749 598v4M749 663v1M750 579v2M750 600v2M750 651v2M751 579v2M751 613v3M751 631v2M751 648v1M751 650v1M751 656v1M752 657v2M753 576v2M753 646v1M753 648v1M754 585v3M754 632v1M754 646v1M755 615v1M755 632v2M755 669v3M756 607v3M756 662v1M756 669v1M757 644v3M757 650v1M757 670v2M758 596v1M758 598v2M758 614v4M758 643v1M758 664v1M758 668v1M759 612v5M759 663v1M760 499v2M760 610v3M760 656v1M760 660v1M760 665v1M760 668v3M761 585v3M761 650v1M762 652v1M762 669v1M763 657v2M763 672v2M764 660v1M764 670v3M765 609v2M765 657v3M766 575v2M766 596v1M766 656v2M767 571v1M767 583v2M767 586v2M767 599v1M767 605v1M767 608v1M767 642v1M767 645v1M767 647v1M767 652v2M767 655v1M767 660v1M767 671v3M768 595v3M768 603v3M768 642v5M768 660v1M769 597v2M769 631v5M769 637v2M769 641v1M769 671v1M770 620v1M770 648v1M771 559v1M771 607v3M771 648v2M771 658v1M772 636v1M772 638v3M772 652v2M772 669v1M772 671v2M774 647v2M774 667v1M775 532v1M775 660v1M775 662v1M775 666v1M776 662v1M776 666v2M777 597v5M777 610v1M778 620v2M779 645v1M779 656v2M779 666v1M780 639v3M780 666v1M782 593v4M782 655v1M782 660v1M783 577v2M783 595v2M783 644v2M783 655v1M783 657v1M784 577v2M784 633v4M784 640v1M784 664v4M785 598v1M785 622v5M785 658v2M785 663v2M785 667v1M786 570v2M786 618v1M786 622v4M787 578v3M787 645v3M788 594v1M788 597v2M788 602v2M788 655v1M788 663v1M788 668v2M789 624v1M789 647v4M790 569v1M790 655v2M791 574v1M791 588v1M791 635v2M792 581v3M792 587v4M792 631v3M792 646v2M792 657v1M792 664v1M793 597v2M793 646v4M794 634v1M794 636v1M795 586v1M795 641v1M795 659v1M796 660v3M796 673v1M797 580v1M797 647v2M797 669v2M798 553v2M798 580v1M798 592v3M798 660v1M799 653v1M799 666v2M800 590v1M800 655v1M800 662v2M800 666v2M801 640v2M801 646v1M802 595v2M803 634v2M803 643v1M803 663v1M804 650v4M804 656v3M804 662v3M805 648v1M806 653v2M806 660v1M806 673v1M807 361v2M807 647v1M808 588v2M808 607v1M808 632v2M808 644v2M808 655v2M808 661v1M808 664v1M809 595v2M809 655v2M809 660v1M810 595v1M810 612v1M811 581v3M811 586v1M812 631v4M812 652v2M812 663v2M812 668v3M813 572v2M813 670v1M814 623v3M814 670v2M815 582v1M815 597v1M815 624v3M815 664v1M816 597v1M816 645v2M817 667v1M817 672v2M818 581v2M818 661v2M818 665v2M819 595v1M819 630v2M820 585v1M820 623v1M820 625v1M820 638v1M820 659v1M821 595v1M821 603v4M821 638v2M821 658v1M821 660v1M821 662v1M821 673v1M822 539v3M822 587v1M822 595v4M822 638v4M822 646v3M822 667v1M822 673v1M823 589v2M823 669v2M824 589v2M824 634v2M824 659v1M825 589v1M825 603v1M825 616v1M826 590v1M826 603v1M826 615v4M826 661v1M827 579v3M827 663v4M828 579v4M828 594v2M828 642v2M828 661v1M828 666v2M829 632v1M829 642v1M829 658v2M829 661v2M830 642v3M830 658v1M830 669v1M831 595v2M831 661v2M831 667v1M832 595v2M832 628v2M832 641v1M832 646v2M832 653v1M833 594v2M833 604v1M833 615v3M833 620v3M833 628v2M833 641v1M834 604v3M834 638v1M834 645v3M834 659v1M834 661v2M834 669v2M835 632v2M835 645v2M835 653v3M835 661v2M835 666v2M836 596v3M836 604v2M836 658v2M837 565v3M837 582v1M837 598v3M837 667v3M838 640v1M838 644v1M838 656v1M839 598v3M839 635v4M839 644v1M839 651v2M839 660v1M839 669v1M840 585v4M840 635v3M840 671v2M841 650v2M841 665v1M841 667v1M842 583v3M842 636v1M842 642v3M842 656v1M842 665v1M842 668v1M842 671v1M843 657v1M843 668v2M844 638v2M844 673v1M845 612v4M845 634v2M845 661v1M845 669v2M845 673v1M846 644v1M846 662v1M846 668v1M846 672v1M847 636v2M848 636v2M848 651v1M848 665v2M848 669v1M848 672v1M849 640v3M849 651v2M849 661v3M849 672v1M850 629v2M850 651v1M850 654v3M851 649v2M851 653v3M851 660v2M851 668v1M852 651v1M852 659v1M852 661v2M852 668v2M853 549v3M853 590v2M853 666v2M853 670v1M854 596v2M854 624v2M854 631v2M854 645v2M854 654v3M855 640v3M855 649v1M855 660v2M856 594v2M856 647v1M856 649v3M856 655v2M856 670v4M857 591v1M857 593v1M857 654v1M857 666v3M858 648v4M858 663v3M858 667v2M859 601v3M859 610v3M859 620v2M859 635v1M859 639v1M859 650v1M859 655v1M859 658v1M860 597v2M860 647v2M860 650v1M860 657v3M860 664v1M860 667v1M860 670v2M861 595v2M861 600v1M861 651v3M861 666v2M861 669v2M861 673v1M862 595v3M862 634v2M862 644v2M862 647v2M862 656v3M863 647v2M863 651v2M863 654v1M863 658v1M864 605v1M864 613v1M864 622v1M864 644v2M864 651v1M864 657v2M864 662v1M864 671v2M865 641v2M865 648v3M865 652v1M865 667v1M865 670v1M865 672v2M866 596v2M866 638v1M866 646v1M866 651v1M866 663v1M866 668v2M867 592v1M867 650v2M867 661v1M867 665v3M867 673v1M868 629v4M868 669v3M869 591v2M869 606v7M869 614v1M869 629v4M869 636v1M869 649v1M869 655v1M869 669v1M870 596v2M870 610v3M870 640v2M870 653v4M870 662v1M870 668v1M870 671v2M871 581v1M871 584v1M871 636v2M871 641v3M871 646v3M871 650v2M871 663v1M871 668v1M871 672v1M872 580v2M872 583v1M872 596v2M872 660v1M872 663v1M872 668v1M873 597v1M873 636v4M873 645v3M873 649v1M873 652v1M873 654v4M873 664v1M873 672v2M874 603v2M874 648v2M874 654v2M874 657v1M874 663v1M874 669v2M874 672v2M875 606v3M875 646v4M875 653v2M875 670v1M876 591v2M876 606v1M876 657v1M876 663v2M876 667v3M876 672v1M877 596v1M877 599v2M877 662v1M877 666v1M877 672v1M878 594v2M878 618v2M878 640v1M878 642v2M879 549v4M879 581v2M879 594v3M879 631v3M879 654v1M879 669v2M880 548v4M880 619v2M880 642v3M880 646v1M880 656v1M880 660v1M880 667v1M881 598v1M881 654v3M881 672v1M882 583v1M882 633v2M882 636v1M882 655v1M882 664v2M882 669v1M882 671v2M883 596v2M883 626v2M883 648v3M883 654v2M883 668v1M883 673v1M884 659v1M884 667v1M885 613v1M885 647v1M885 659v1M885 661v1M885 672v2M886 627v1M886 644v2M886 648v3M886 664v2M886 672v1M887 596v2M887 627v1M887 632v2M887 640v1M887 645v3M887 664v2M887 667v1M887 669v3M888 569v3M888 574v3M888 585v4M888 632v1M888 635v1M888 642v1M888 667v2M889 640v2M889 656v2M889 661v2M890 583v2M890 607v2M890 640v2M890 651v2M891 580v2M891 597v4M891 636v1M891 643v2M891 649v4M891 662v1M892 598v1M892 644v1M892 652v1M893 580v1M893 593v2M893 657v1M893 670v1M894 601v2M894 604v1M894 608v1M894 640v2M894 648v3M894 661v1M894 670v2M895 614v1M895 648v2M895 660v3M895 673v1M896 656v1M896 659v1M896 667v1M897 580v3M897 628v2M897 637v3M897 656v1M897 671v1M898 499v3M898 618v3M898 628v2M898 644v3M898 648v1M898 657v4M898 664v1M898 668v1M899 628v3M899 640v4M899 653v2M899 656v1M899 664v2M899 667v1M899 669v3M900 611v3M900 659v1M900 664v1M900 669v1M900 673v1M901 568v3M901 604v3M901 641v5M901 647v2M901 653v2M901 659v1M901 664v2M901 669v2M902 568v3M902 606v1M902 645v1M902 661v1M902 663v1M902 670v2M903 596v2M903 634v3M903 649v2M903 661v3M903 666v4M904 595v4M904 633v1M904 639v1M904 643v2M904 649v2M904 663v1M905 555v2M905 638v1M905 644v1M905 646v1M905 657v3M905 662v3M905 672v1M906 634v7M906 657v3M906 667v2M906 670v2M907 654v4M907 663v1M907 669v2M908 638v1M908 655v1M908 658v2M908 662v1M908 669v2M909 589v1M909 613v2M909 648v1M909 651v1M909 654v2M909 658v2M910 643v3M910 648v1M910 654v1M910 662v2M910 667v1M910 671v3M911 671v2M912 633v1M912 636v2M912 660v1M912 665v5"/>
<path stroke="#807600" transform="translate(.5)" d="M105 668v2M106 617v4M106 661v1M106 663v3M106 668v2M107 617v4M107 641v2M107 654v1M107 662v2M107 673v1M108 658v1M108 662v2M109 641v1M110 625v2M110 666v3M110 670v3M111 624v2M111 662v4M111 672v2M113 624v2M113 666v3M114 641v1M115 500v2M115 646v1M115 665v1M116 612v2M116 663v1M116 667v3M117 667v1M118 672v2M119 649v1M119 657v1M120 628v4M120 638v4M121 638v3M121 667v2M121 670v2M122 625v1M122 654v2M123 670v1M123 673v1M124 629v2M124 660v1M124 666v1M124 670v1M126 663v1M127 660v2M128 660v2M129 546v2M129 669v1M130 546v2M130 588v4M130 640v3M130 664v1M131 641v2M131 663v1M131 669v1M132 648v1M132 661v2M133 622v3M133 664v1M134 622v3M134 663v1M134 669v2M135 663v1M135 667v1M136 663v1M136 668v1M137 662v1M137 669v1M137 672v1M140 628v2M140 638v1M140 643v2M140 666v2M141 661v1M142 638v1M143 561v4M143 637v3M143 663v3M143 673v1M144 662v1M145 668v1M145 671v1M146 661v3M147 661v1M147 673v1M148 633v4M149 633v2M150 563v4M150 661v1M151 614v4M151 670v1M151 672v2M152 614v1M152 666v1M152 670v2M153 631v1M153 644v2M153 660v1M153 664v3M154 619v1M154 625v4M154 660v2M154 673v1M155 650v3M155 665v1M156 667v1M157 566v3M157 618v2M157 662v1M157 670v1M157 672v1M158 587v2M158 624v2M158 645v1M158 660v1M158 673v1M159 587v2M159 661v2M160 587v2M160 615v2M160 633v1M160 663v1M160 669v1M161 587v2M161 615v2M161 660v1M161 663v1M162 587v2M163 587v2M163 630v3M163 663v1M163 666v1M163 670v1M163 672v2M164 166v2M164 587v2M164 618v1M164 655v2M164 672v1M165 587v2M165 655v3M165 662v2M165 670v2M166 587v2M166 664v1M167 587v2M167 642v2M167 669v1M167 673v1M168 587v2M168 664v2M169 547v2M169 587v2M169 649v1M169 669v1M170 587v2M171 587v2M171 671v2M172 633v2M172 666v5M172 672v1M173 604v4M174 592v2M174 661v2M174 673v1M175 566v2M175 639v2M175 663v1M176 639v2M176 661v5M177 650v4M177 673v1M180 636v3M180 660v1M180 673v1M181 670v2M182 663v1M182 667v2M183 573v2M183 673v1M184 671v1M185 542v2M185 621v1M185 667v1M185 670v1M186 669v1M187 660v1M188 660v1M189 650v3M189 670v1M189 673v1M190 619v2M190 670v2M191 619v2M192 598v2M194 633v2M195 671v2M196 651v2M196 661v2M196 672v2M197 664v1M197 670v4M198 660v3M199 601v1M199 666v2M200 623v1M200 631v1M200 665v2M200 668v1M200 670v1M200 673v1M201 614v2M201 623v1M201 648v3M201 664v2M201 667v1M201 670v1M202 629v2M203 672v2M204 621v3M204 640v1M204 662v2M204 671v1M205 660v2M205 673v1M206 612v2M206 651v2M206 667v2M208 593v3M208 662v1M209 660v1M209 662v1M209 672v1M210 635v2M210 670v1M211 635v2M211 670v2M212 653v1M212 660v1M212 669v2M213 670v1M214 652v4M214 670v2M214 673v1M215 597v4M215 666v1M216 624v3M216 646v5M217 624v3M217 646v4M217 666v1M217 671v2M218 661v3M219 621v3M219 672v1M220 671v2M221 661v2M221 665v1M222 625v1M222 662v2M222 671v1M223 633v1M223 645v1M223 661v2M224 633v1M224 660v3M224 665v1M224 669v1M224 671v2M225 671v3M226 633v1M227 619v2M227 642v3M228 599v1M228 642v3M228 669v4M229 561v2M229 669v1M230 605v1M230 666v1M230 671v1M231 661v1M231 669v1M232 663v1M232 668v1M233 668v1M233 673v1M234 669v1M235 672v2M236 651v1M237 657v2M237 661v1M237 663v3M237 672v1M238 596v1M238 661v4M239 650v2M240 618v2M240 660v1M240 670v1M241 658v1M241 666v2M242 663v2M244 593v4M245 661v2M245 669v2M246 661v2M246 664v1M246 673v1M248 663v1M249 672v1M250 616v3M250 622v3M250 672v2M251 657v2M252 661v3M253 657v2M253 668v1M254 617v1M255 664v1M255 670v2M256 667v2M256 672v1M257 536v4M257 608v1M257 672v1M258 662v2M258 667v2M259 661v1M259 666v1M261 624v1M261 633v3M261 662v1M261 672v1M262 660v1M262 664v1M263 623v1M264 622v3M264 660v1M264 670v1M265 602v2M265 673v1M267 536v3M267 628v2M267 664v2M268 592v4M268 660v1M269 590v1M269 666v2M270 660v1M270 666v2M270 672v2M273 604v1M273 665v1M274 665v2M274 669v1M275 659v1M276 651v3M276 662v1M277 660v2M278 669v1M278 671v1M278 673v1M279 595v2M280 591v4M280 602v4M281 630v5M281 667v1M281 672v2M282 622v4M282 660v1M282 662v1M282 665v1M283 660v1M283 665v2M284 656v2M284 670v1M284 673v1M285 653v1M285 672v2M286 584v4M287 668v2M288 660v1M288 663v1M289 662v1M289 668v1M289 670v2M290 663v2M290 667v1M291 665v1M292 671v1M293 601v3M293 665v1M293 672v1M294 601v3M294 616v3M294 663v1M294 665v2M294 673v1M295 660v1M296 669v2M297 630v2M297 654v5M297 660v1M297 664v1M297 666v2M297 671v1M298 592v4M298 629v3M299 629v1M299 668v1M300 627v1M300 659v1M300 666v1M301 588v3M301 663v1M302 579v3M302 592v2M302 654v1M302 658v1M302 660v1M304 591v1M304 655v3M305 636v3M305 655v3M305 666v1M305 669v2M305 672v1M306 666v2M306 670v3M307 590v2M307 659v1M307 664v1M308 595v1M309 591v2M310 625v3M310 667v1M311 624v4M312 630v2M312 670v4M313 623v2M314 659v1M314 661v1M314 669v3M315 595v3M315 647v2M315 660v1M315 669v1M315 671v2M316 599v3M316 667v3M317 584v3M317 599v3M317 670v1M318 659v1M318 661v1M318 666v2M318 669v1M319 662v1M319 668v1M320 582v3M320 593v2M320 624v2M320 664v1M320 671v1M321 663v1M321 669v1M322 648v2M322 655v3M322 669v1M322 671v1M322 673v1M323 616v2M323 625v2M323 658v2M324 611v1M324 659v2M324 672v1M325 611v1M325 663v4M326 597v3M326 631v1M326 663v1M327 631v2M327 653v3M328 587v1M328 634v4M329 587v1M329 633v2M329 637v1M329 668v1M329 670v1M330 613v2M330 640v4M331 613v2M331 659v1M331 667v1M332 584v1M332 606v3M332 653v4M332 661v1M333 584v1M333 630v1M333 637v3M334 586v1M334 600v1M334 660v1M334 670v2M335 618v1M335 624v4M335 654v2M335 660v1M336 668v1M336 671v3M337 661v1M338 581v3M338 596v1M338 659v1M338 673v1M339 596v1M339 669v1M340 659v1M340 671v1M341 670v2M342 592v3M342 626v1M342 629v2M342 658v1M343 592v2M343 659v3M343 663v1M343 669v5M344 637v1M345 621v3M345 630v3M345 637v1M345 660v1M345 662v2M346 660v1M346 663v1M346 668v1M347 670v1M348 660v1M349 585v1M349 591v1M350 585v2M350 670v2M351 631v3M352 633v1M352 666v1M352 668v4M353 659v2M353 672v1M356 662v1M356 667v1M356 669v2M357 643v3M357 666v1M357 670v1M358 561v4M358 667v1M358 669v3M359 586v1M359 589v3M359 664v1M359 672v2M360 661v1M360 664v2M361 615v3M362 615v3M363 605v2M363 659v3M363 673v1M364 596v4M364 628v4M364 673v1M365 629v2M365 632v1M365 634v2M365 661v1M365 665v1M365 670v1M366 632v4M366 673v1M367 591v1M368 672v1M369 652v3M369 673v1M370 656v2M370 663v1M370 671v3M371 590v2M371 626v1M371 638v2M371 649v1M371 663v2M372 638v2M372 662v1M373 643v2M373 662v1M373 673v1M374 665v1M374 669v2M374 673v1M375 588v2M376 588v1M376 661v1M376 664v1M376 673v1M377 664v1M378 577v3M378 630v1M378 636v2M378 662v2M378 667v2M378 670v2M379 636v2M379 662v2M379 669v3M380 627v1M380 631v4M380 655v4M380 662v1M380 664v1M380 672v1M381 671v2M382 596v1M382 598v3M382 626v3M382 666v2M383 654v1M383 656v1M384 667v2M385 595v2M385 628v2M385 639v1M386 632v2M386 660v1M387 582v3M387 668v2M387 673v1M388 586v2M388 628v1M388 632v2M388 661v1M389 641v1M389 659v2M389 670v1M389 672v1M391 589v1M392 649v3M392 658v1M393 654v1M394 600v1M394 644v3M394 668v1M395 589v2M395 601v3M395 629v3M395 665v2M395 668v1M396 629v3M396 662v1M397 588v1M397 620v1M397 669v1M397 671v1M398 588v1M398 659v1M399 662v1M399 669v1M400 591v3M400 673v1M401 591v2M401 597v4M401 607v2M401 643v4M401 665v1M401 669v1M402 575v1M402 585v2M402 588v1M402 596v2M402 607v2M402 618v2M402 643v4M402 662v1M402 672v1M403 588v4M403 643v2M404 589v1M404 628v2M404 643v2M405 665v2M405 668v1M406 590v1M406 628v2M406 661v2M406 671v1M407 617v2M407 663v1M407 666v2M408 596v2M409 587v1M409 592v2M409 628v1M409 667v1M409 671v1M410 661v2M410 666v3M411 589v2M411 634v4M412 587v6M413 663v1M413 671v3M414 657v2M414 673v1M415 594v2M415 656v4M415 662v2M415 665v1M415 671v2M416 585v1M416 589v1M416 598v3M416 659v1M416 668v2M416 671v2M417 596v3M417 668v1M417 673v1M418 663v4M418 670v2M419 597v2M419 649v1M419 658v2M419 666v1M420 601v3M420 655v1M421 659v1M423 671v1M424 625v3M424 638v3M424 658v1M425 648v1M426 617v3M426 626v1M426 648v1M426 671v1M427 594v3M427 617v3M427 628v1M427 667v1M427 670v2M428 566v2M428 588v2M428 619v3M428 628v1M428 673v1M429 661v2M429 673v1M430 580v3M430 659v1M431 598v2M431 659v1M431 667v2M432 583v1M432 592v1M432 635v2M433 609v3M433 673v1M434 668v3M434 672v1M435 658v1M436 590v1M436 658v2M437 637v1M437 660v3M437 668v2M438 661v1M438 663v2M438 666v1M439 559v4M439 623v4M439 660v1M439 673v1M440 597v1M440 611v3M440 669v1M440 673v1M441 591v1M441 611v3M441 665v1M441 669v2M442 673v1M443 590v2M443 628v1M444 594v1M444 617v3M444 667v1M445 617v2M445 634v2M445 662v2M446 664v1M446 666v1M447 570v3M447 589v3M447 664v1M448 665v1M449 588v2M449 665v1M450 535v1M450 597v3M450 669v2M450 672v1M451 664v1M451 672v1M452 661v2M453 593v1M454 614v1M456 581v2M457 590v2M457 669v2M458 600v4M458 631v2M458 634v4M458 665v3M459 634v4M459 664v3M459 669v1M460 591v2M460 632v2M460 662v3M461 592v1M461 627v2M461 671v3M462 652v2M463 609v2M464 588v4M464 673v1M465 599v3M466 645v4M466 658v3M466 673v1M467 587v3M467 666v2M468 597v4M468 625v3M468 666v1M468 671v2M469 590v1M469 631v4M469 668v1M470 589v2M470 668v1M471 597v3M471 625v1M471 664v2M471 671v1M473 611v4M473 662v1M474 594v2M474 659v1M474 673v1M475 586v3M475 604v3M475 624v3M476 629v2M476 673v1M477 607v1M477 661v2M478 595v2M478 669v1M479 591v4M479 655v3M479 670v1M480 591v1M481 666v3M481 671v1M482 592v2M483 669v3M484 639v2M484 660v4M484 667v1M485 592v1M485 629v4M486 596v3M486 629v3M487 661v1M487 669v1M488 594v2M488 629v1M488 654v2M488 660v3M488 672v1M489 594v3M489 660v1M489 663v2M490 631v2M490 662v3M490 667v2M492 623v1M492 664v3M492 671v3M493 662v1M493 666v1M493 669v1M494 587v4M494 596v2M494 641v2M494 645v2M494 660v1M495 641v2M495 659v1M496 596v3M496 603v2M496 658v2M497 641v1M497 664v1M498 660v1M498 667v1M498 670v1M500 605v3M500 661v2M500 669v1M501 660v3M501 667v5M502 661v3M503 593v1M503 662v2M504 661v2M505 660v1M505 673v1M506 626v2M506 660v2M506 664v2M507 662v1M508 661v4M508 667v2M509 595v3M509 640v5M509 662v4M510 662v1M511 665v1M511 670v2M512 632v2M512 635v3M512 672v1M513 636v2M513 645v1M513 672v2M514 645v1M514 658v4M514 664v1M514 670v1M515 628v1M516 629v1M516 631v1M516 658v3M517 664v1M517 667v1M517 669v1M517 673v1M518 659v1M518 662v2M518 667v2M519 618v3M519 668v1M521 636v3M521 653v1M522 619v2M522 662v3M522 666v1M523 662v1M523 673v1M525 662v5M526 660v1M527 647v2M528 667v2M529 671v1M530 664v1M533 664v2M533 672v1M534 664v3M534 668v2M535 670v1M536 670v1M537 672v1M538 661v2M538 664v1M538 667v1M538 670v2M539 658v2M539 671v1M540 660v1M540 663v1M540 667v2M541 666v1M541 671v1M542 660v1M543 660v2M543 670v2M544 670v2M546 665v1M546 667v1M546 671v2M548 660v1M548 666v2M548 670v2M549 673v1M550 663v1M552 672v1M553 671v3M554 671v2M564 144v2M612 598v3M613 598v5M615 591v1M616 591v1M618 591v1M618 627v2M619 592v3M619 623v4M620 592v2M621 636v3M626 601v2M626 621v2M627 599v3M627 672v2M628 586v2M628 594v2M628 598v1M632 580v3M633 80v2M633 580v3M633 599v2M635 640v3M636 593v4M640 588v3M641 588v3M643 596v2M644 598v3M645 589v2M648 650v6M649 595v2M649 616v4M650 616v3M650 651v2M653 569v2M653 584v1M653 659v2M654 586v1M654 658v3M655 601v1M655 603v2M656 601v4M656 637v3M657 650v3M659 567v2M659 596v2M659 657v1M660 590v3M660 597v3M660 618v3M660 638v5M660 647v2M661 606v2M661 638v3M662 588v2M662 611v2M662 673v1M663 600v1M663 605v1M664 575v1M664 600v3M664 605v1M664 654v4M664 667v3M665 660v1M665 672v1M666 572v1M666 587v2M666 591v3M666 648v1M666 653v3M667 554v2M667 594v2M667 643v2M667 661v2M668 611v2M668 641v3M669 609v3M669 635v2M669 651v1M669 664v4M669 669v1M670 657v3M670 661v2M670 664v1M671 603v2M671 612v1M671 626v3M671 632v4M671 640v1M671 651v1M672 597v2M672 655v1M672 666v1M673 593v2M673 616v2M673 620v1M673 655v1M673 663v1M673 667v1M674 587v3M674 616v4M674 656v3M674 667v4M675 587v2M675 590v1M675 647v3M675 657v1M675 667v4M676 655v1M676 666v2M676 669v2M676 673v1M677 578v1M677 582v2M677 603v1M678 605v1M678 649v1M678 658v2M678 661v1M678 672v1M679 634v1M679 668v2M680 643v1M680 645v1M680 664v1M680 669v1M680 672v2M681 602v2M681 605v1M681 638v5M681 655v1M681 670v1M682 573v2M682 605v3M682 625v1M683 607v1M683 611v3M683 638v2M683 643v1M683 657v2M683 670v1M683 672v2M684 597v1M684 638v4M684 643v2M684 670v3M685 671v1M686 633v2M686 638v1M686 652v2M686 664v1M687 584v2M687 609v2M687 628v1M687 651v2M687 670v2M688 647v2M688 654v1M689 534v4M689 598v4M689 603v2M689 644v3M689 652v3M690 658v1M690 665v3M690 670v1M691 553v1M691 580v3M691 585v1M691 599v1M691 627v2M691 630v3M691 650v2M691 662v1M691 671v3M692 576v2M692 581v1M692 599v1M692 607v1M692 640v1M692 647v2M692 673v1M693 587v1M693 604v3M693 618v2M693 633v2M693 652v3M693 656v3M693 661v1M694 603v2M694 641v2M694 654v1M695 602v3M695 614v2M695 644v3M696 602v3M696 606v1M696 650v2M696 664v1M696 666v1M697 595v3M697 611v3M697 649v3M697 654v2M697 659v1M698 585v6M698 593v4M698 606v3M698 657v1M699 593v5M699 611v1M699 642v2M699 657v1M699 659v1M699 661v1M700 654v3M700 659v3M701 585v2M701 609v2M701 643v2M701 655v5M702 630v1M702 643v3M702 653v1M702 655v3M702 662v3M703 584v3M703 598v2M703 627v1M703 653v5M704 601v2M704 631v1M704 634v1M704 640v2M704 661v1M704 664v1M705 600v4M705 610v1M705 661v1M705 669v1M705 671v1M706 561v2M706 608v3M706 621v2M706 629v4M706 661v1M706 664v2M707 561v2M707 621v2M707 630v2M707 634v2M707 640v2M708 561v2M708 602v4M708 609v1M708 639v2M708 653v1M708 657v1M708 667v1M709 561v2M709 619v1M709 639v2M709 666v2M710 552v2M710 561v2M710 569v1M710 625v2M710 633v3M710 661v1M710 664v1M711 552v2M711 561v2M711 587v3M711 591v3M711 598v2M711 642v3M712 561v2M712 627v2M712 643v1M712 651v2M712 657v1M712 659v1M712 662v1M712 667v3M712 671v1M713 561v2M713 579v2M713 600v3M713 628v4M713 641v1M713 643v1M714 561v2M714 580v1M714 662v3M714 673v1M715 561v2M715 601v1M715 639v1M715 662v1M716 561v2M716 651v1M717 561v2M717 605v2M717 628v3M717 648v1M718 561v2M718 588v3M718 592v2M718 610v2M718 628v4M718 654v1M719 561v2M719 611v3M719 637v2M719 673v1M720 561v2M720 592v2M720 603v1M720 608v1M721 561v2M721 591v1M721 593v1M721 603v1M722 561v2M722 587v2M722 645v1M722 664v1M723 561v2M723 598v3M723 615v3M723 641v2M724 561v2M724 592v1M724 603v4M724 615v1M724 626v1M724 628v1M724 655v2M725 561v2M725 601v1M725 644v1M725 655v2M725 659v1M725 670v1M726 561v2M726 588v3M726 615v3M726 628v5M726 657v2M726 661v1M726 664v1M726 670v1M727 588v2M727 651v1M727 670v1M728 400v1M728 602v4M728 607v2M728 663v1M729 577v3M729 618v1M729 638v1M729 641v1M729 644v4M729 661v1M729 673v1M730 661v6M730 668v3M731 573v2M731 650v1M731 665v2M731 668v2M732 606v1M732 623v2M732 643v2M732 653v2M732 663v2M733 606v1M733 643v2M733 651v1M733 654v1M733 659v1M734 668v2M735 602v2M735 661v1M736 672v1M737 643v3M737 648v1M737 673v1M738 618v1M738 658v3M739 575v3M739 588v3M739 614v2M739 632v3M739 660v5M740 581v1M741 593v2M741 637v1M741 654v2M742 579v1M742 658v1M742 671v2M743 637v2M743 652v1M743 660v1M744 664v2M744 672v1M745 580v3M745 589v1M745 606v2M745 646v1M745 656v3M746 592v4M746 634v3M746 672v2M747 544v1M747 603v2M747 642v3M747 647v2M748 563v1M748 640v1M748 642v1M748 646v1M748 670v2M749 668v4M750 662v1M750 671v1M751 582v2M751 595v2M751 655v1M751 660v2M751 666v1M752 612v2M752 618v3M752 624v1M752 629v3M752 653v2M753 534v3M753 618v3M753 647v1M753 655v2M753 671v3M754 562v1M754 608v2M754 612v1M754 614v1M754 640v3M754 645v1M754 659v1M754 662v2M754 666v1M755 661v1M755 673v1M756 581v3M756 595v3M756 621v3M756 640v2M756 643v2M756 648v3M756 656v2M756 659v1M757 581v3M757 592v1M757 596v2M757 654v3M758 597v1M758 639v1M758 663v1M759 573v4M759 581v2M759 596v1M759 652v1M759 661v2M759 664v1M760 595v2M760 648v3M760 658v1M760 673v1M761 637v1M761 651v2M761 663v1M762 593v1M763 613v4M763 637v2M763 671v1M764 592v1M764 607v2M764 641v2M764 654v1M764 658v2M764 666v2M765 582v2M765 592v1M765 603v3M765 630v3M765 640v1M765 654v2M765 662v2M766 597v3M766 610v2M766 639v2M766 655v1M766 658v3M767 665v1M768 581v7M768 598v1M768 606v4M768 648v1M769 606v4M769 642v1M769 650v3M769 663v3M769 672v2M770 589v3M770 636v2M770 639v1M770 657v3M770 661v1M770 672v1M771 601v2M771 613v1M771 620v2M771 624v2M771 633v2M771 647v1M771 652v1M771 660v1M771 663v3M771 673v1M772 584v3M772 604v6M772 618v1M772 620v2M772 643v2M772 656v3M772 663v3M773 601v1M773 619v3M773 663v1M774 580v3M774 599v3M774 621v2M774 668v1M775 580v3M775 598v3M775 649v2M775 653v1M776 617v3M776 625v4M776 644v2M776 647v1M776 673v1M777 586v1M777 611v4M777 636v2M778 611v1M778 628v3M778 636v2M779 603v3M779 652v1M780 602v4M780 624v1M780 672v2M781 637v3M781 643v3M781 648v5M781 658v1M781 660v2M781 671v1M782 588v2M782 597v3M782 644v3M782 673v1M783 582v3M783 597v3M783 673v1M784 646v2M785 583v7M785 634v3M786 586v4M786 605v1M786 619v1M786 650v1M786 668v1M787 588v1M787 595v2M787 598v2M787 608v2M787 641v3M787 651v2M787 667v2M788 613v2M788 634v3M788 639v2M788 656v1M788 662v1M788 667v1M789 617v2M789 639v2M789 666v3M790 587v3M790 600v2M790 644v1M790 647v1M790 659v1M790 667v2M791 584v1M791 662v2M791 673v1M792 595v4M792 670v3M793 587v2M793 603v2M793 612v1M793 619v3M793 668v1M793 673v1M794 550v3M794 582v1M794 614v2M794 635v1M794 638v3M794 666v1M794 672v2M795 580v3M795 597v4M795 602v1M795 629v1M795 661v2M795 664v1M795 666v1M795 668v6M796 596v2M796 603v1M796 630v2M796 633v1M796 659v1M796 666v2M797 565v1M797 594v4M797 603v1M797 633v1M797 661v1M798 595v3M798 647v2M798 655v2M798 658v1M798 662v2M798 667v2M799 595v3M799 601v1M799 647v2M799 658v1M799 670v3M800 651v4M801 576v3M801 614v4M801 642v2M801 657v1M801 666v1M802 576v1M802 579v2M802 636v2M802 651v1M802 661v3M803 576v2M803 603v2M803 625v1M803 629v3M803 653v3M803 671v1M804 631v3M804 655v1M804 673v1M805 584v2M805 594v2M805 638v2M805 658v2M805 662v1M805 669v3M806 568v2M806 600v2M806 619v1M806 643v1M806 650v2M807 616v3M807 651v2M807 672v2M808 600v2M808 631v1M808 634v1M808 662v2M808 665v4M809 635v2M809 643v2M809 667v1M809 671v2M810 620v2M810 625v4M810 632v2M810 652v2M810 660v4M811 594v2M811 623v2M811 632v6M811 647v2M812 605v1M812 625v1M812 643v1M812 647v2M812 651v1M812 654v1M813 602v4M813 616v2M813 626v2M813 648v1M813 661v1M814 600v3M814 612v3M815 607v3M815 613v1M815 622v2M815 654v2M816 654v3M817 599v4M817 611v3M817 623v2M817 662v3M817 668v1M818 596v1M818 623v2M818 670v1M819 578v1M819 584v2M819 651v1M820 578v1M820 626v4M820 651v1M820 656v1M821 612v3M821 630v1M821 640v3M821 654v3M821 659v1M822 590v2M822 611v2M822 633v1M822 644v1M822 653v1M823 587v2M823 645v2M823 648v1M823 654v1M823 659v1M823 666v1M824 601v4M824 637v3M824 651v1M824 655v2M824 672v2M825 604v2M825 607v2M825 634v1M825 658v1M825 665v1M825 672v1M826 578v1M826 606v4M826 629v2M826 649v1M826 656v1M826 658v1M827 597v1M827 656v2M828 552v3M828 628v1M828 647v1M828 649v2M828 672v1M829 552v3M829 583v4M829 645v3M829 668v1M830 640v1M830 645v3M830 654v2M830 661v2M831 579v3M831 605v3M831 646v2M831 658v2M832 612v2M832 648v1M832 657v2M832 670v1M833 653v1M833 666v1M833 671v1M834 631v4M834 657v2M834 664v2M835 583v1M835 603v4M835 609v3M835 641v3M835 664v1M835 672v2M836 583v1M836 595v1M836 599v2M836 656v1M837 585v1M837 588v1M837 622v1M837 631v2M837 635v2M837 640v1M837 647v2M837 658v2M837 663v1M838 590v3M838 659v1M838 669v1M839 575v3M839 657v1M839 667v2M840 597v3M840 664v1M840 670v1M840 673v1M841 591v2M841 603v2M841 616v2M842 597v2M842 603v2M842 608v2M842 619v2M842 661v3M842 666v1M843 589v4M843 608v2M843 625v2M843 655v2M843 665v2M844 607v1M844 610v2M844 625v3M844 635v3M844 665v1M845 577v2M845 601v2M845 656v1M845 662v1M846 545v2M846 591v3M846 605v2M846 612v1M846 665v1M847 583v2M847 594v2M847 659v2M847 664v2M848 592v3M848 647v2M848 662v1M849 582v3M849 590v2M850 595v1M850 605v4M850 619v1M850 637v1M850 646v1M850 652v1M851 652v1M851 663v2M852 588v1M852 594v1M852 619v3M852 649v2M852 658v1M853 589v1M853 592v4M853 640v1M853 643v2M853 663v3M854 589v3M854 594v2M854 621v3M854 648v2M854 651v1M855 653v2M855 658v2M855 662v1M855 670v2M856 578v2M856 581v1M856 590v4M856 599v2M856 603v1M856 617v1M856 660v1M857 578v2M857 639v1M857 648v2M857 651v1M857 670v1M858 595v3M858 639v3M858 654v2M859 616v1M859 648v2M859 652v1M859 669v1M859 673v1M860 579v2M860 611v2M860 619v2M860 637v3M860 652v1M860 661v1M860 666v1M861 597v3M861 603v1M862 591v3M863 593v1M863 599v2M863 629v1M863 671v1M864 600v2M864 616v2M864 629v1M864 653v1M865 600v2M865 605v2M865 638v3M865 647v1M866 634v3M866 647v1M866 650v1M866 652v1M866 658v1M866 673v1M867 542v2M867 584v4M867 599v1M867 648v1M867 669v1M867 672v1M868 599v1M868 638v1M868 663v3M869 600v2M869 624v5M869 638v1M870 598v2M870 651v2M871 652v4M872 577v3M872 607v3M872 649v1M872 651v3M873 612v2M873 650v1M874 656v1M875 578v2M875 602v2M875 641v2M875 661v1M876 568v2M876 578v2M876 583v2M876 655v2M876 659v4M877 604v3M877 651v2M877 670v2M878 421v2M878 574v2M878 590v2M878 670v2M878 673v1M879 583v2M880 583v2M881 579v1M881 605v2M881 641v1M882 601v2M882 606v2M882 653v1M883 600v1M883 612v3M883 652v2M883 669v1M884 595v2M884 598v3M884 618v1M884 658v1M884 671v3M885 598v3M885 614v4M885 658v1M886 568v3M886 612v5M886 666v2M887 614v2M887 630v2M887 639v1M887 641v2M887 644v1M887 649v1M887 672v2M888 613v4M888 640v2M889 608v3M889 645v5M889 666v2M890 597v1M891 619v1M891 671v1M892 599v2M892 640v1M892 671v3M893 642v1M893 659v2M893 671v1M894 582v4M894 597v2M894 600v1M894 603v1M894 655v3M895 602v2M895 616v1M895 637v4M895 650v1M895 655v2M896 574v3M896 593v2M896 602v3M896 631v2M897 558v3M897 576v3M897 618v3M897 657v1M897 660v2M897 667v2M897 673v1M898 604v1M898 616v2M898 637v3M898 650v1M898 671v3M899 611v2M899 658v1M899 661v1M900 585v2M900 663v1M900 668v1M901 582v1M901 585v2M901 607v1M901 614v7M901 639v1M901 657v1M901 666v1M901 671v1M902 579v3M902 604v2M902 618v2M903 569v3M903 584v2M903 593v3M903 637v4M903 643v1M903 651v3M903 656v1M904 593v1M904 652v1M904 666v1M904 668v3M905 585v2M905 594v2M905 602v3M906 645v4M906 661v2M907 612v4M907 624v3M907 644v2M907 647v2M908 580v3M908 665v1M908 668v1M909 568v1M909 653v1M909 660v2M909 666v1M910 598v1M910 632v3M910 640v1M910 656v1M910 666v1M911 606v1M911 632v2M912 593v2M912 600v1M912 644v2"/>
<path stroke="#687e00" transform="translate(.5)" d="M105 614v2M105 620v2M106 666v1M106 673v1M107 664v1M108 660v1M109 654v1M109 660v2M111 650v3M115 664v1M116 664v1M116 666v1M117 669v1M118 575v1M118 609v1M118 661v1M119 609v4M119 646v1M120 646v2M120 661v1M121 624v2M121 664v2M121 672v1M122 624v1M122 653v1M122 668v1M123 667v3M124 656v2M124 665v1M125 550v1M125 665v2M125 670v1M126 582v2M126 667v2M127 524v2M127 582v2M127 667v2M128 632v1M128 636v2M128 665v1M129 673v1M130 667v1M131 671v2M133 629v3M135 635v1M135 661v1M136 661v2M137 665v1M138 665v1M139 655v2M140 605v4M143 597v4M144 597v1M144 600v1M145 657v2M147 636v1M149 614v1M149 626v1M154 651v2M155 644v3M157 613v2M158 613v2M158 632v3M158 672v1M159 619v2M160 623v2M161 623v2M161 667v1M161 673v1M162 618v4M162 656v3M163 660v1M164 673v1M166 673v1M167 621v4M167 646v3M168 615v3M168 626v3M169 616v3M170 625v2M170 663v2M171 668v1M173 665v2M174 644v3M175 660v1M175 670v2M176 654v2M176 666v2M177 669v1M177 672v1M178 498v1M178 665v1M178 667v1M178 672v1M179 498v1M179 642v2M179 663v2M179 668v3M180 666v2M180 669v4M181 631v1M181 664v3M181 672v2M182 660v1M182 664v1M183 664v1M184 598v4M184 662v1M185 665v1M185 668v2M186 628v1M186 638v4M186 670v3M187 664v2M189 660v1M189 669v1M190 660v1M190 663v3M192 625v1M192 627v1M192 668v4M193 625v1M194 663v1M194 672v2M195 606v2M195 628v3M195 664v2M197 648v4M198 648v4M198 664v1M199 672v1M200 664v1M200 669v1M200 672v1M202 619v4M203 619v4M203 638v3M204 666v3M205 671v1M207 663v2M209 671v1M211 663v1M212 654v1M212 658v1M212 664v2M213 666v1M213 669v1M214 665v1M215 665v1M216 662v3M216 673v1M217 667v4M218 567v3M218 660v1M219 663v1M219 667v2M220 666v2M220 670v1M221 666v1M222 609v2M222 654v2M224 648v2M224 666v1M225 657v2M225 666v1M225 668v1M226 658v3M226 662v1M226 666v3M227 661v1M227 666v2M228 628v1M228 673v1M230 665v1M233 661v1M235 660v1M236 607v3M239 659v3M239 671v2M240 672v1M241 623v2M242 659v2M242 673v1M243 660v1M244 557v3M244 624v3M244 668v3M245 666v2M246 663v1M247 659v1M248 662v1M249 604v3M249 673v1M250 604v3M250 629v3M250 662v3M251 616v3M252 612v3M252 616v3M252 664v1M252 667v1M252 670v2M253 630v3M254 673v1M256 666v1M257 661v1M257 663v2M257 666v4M258 659v1M259 660v1M260 614v3M260 631v2M260 667v1M261 673v1M262 665v1M263 668v1M263 671v1M265 625v4M266 625v4M266 671v2M267 662v2M267 667v2M267 673v1M268 664v2M272 618v3M272 626v3M272 660v1M272 663v3M273 626v2M273 671v1M274 619v4M274 626v1M274 655v2M276 668v1M282 628v1M283 622v1M283 628v2M283 634v3M284 634v2M285 564v2M289 664v1M291 664v1M291 668v3M291 673v1M292 668v1M293 646v2M293 666v1M296 631v2M297 585v3M297 661v3M297 665v1M298 618v3M298 640v2M299 619v2M299 660v1M299 671v1M300 661v2M301 670v1M302 631v1M303 541v1M303 634v3M308 664v2M308 668v1M309 660v1M310 663v1M310 665v1M312 666v1M314 660v1M314 664v1M315 666v3M316 670v1M318 642v1M318 660v1M318 668v1M318 670v2M319 670v1M321 666v1M323 609v2M323 670v1M323 672v2M324 670v1M326 648v3M327 668v3M330 665v1M331 672v1M332 668v1M332 672v1M335 669v1M336 583v2M337 594v2M337 642v2M338 629v1M338 639v3M339 673v1M340 661v1M342 634v2M343 664v1M344 655v1M344 661v3M345 661v1M347 635v3M347 672v2M349 660v4M349 669v1M349 671v1M350 638v3M350 666v2M351 586v1M351 604v3M351 659v2M351 671v1M352 586v3M355 671v2M356 671v1M357 672v1M358 593v2M358 663v2M359 616v4M360 614v6M360 669v1M361 643v3M361 666v2M362 666v4M362 672v1M363 665v3M364 666v2M364 671v2M365 673v1M366 667v2M367 604v4M367 664v3M368 627v3M369 665v3M369 669v1M370 661v1M371 660v3M372 590v1M372 664v1M372 666v1M374 661v3M375 594v1M375 664v1M375 673v1M376 617v4M378 672v2M379 630v3M379 673v1M380 673v1M382 582v1M382 665v1M383 583v2M383 670v1M383 673v1M384 666v1M385 587v2M385 633v3M385 667v1M386 586v2M386 640v3M387 640v3M388 642v2M388 663v1M390 667v1M391 627v1M391 665v1M393 618v3M393 637v2M393 670v1M394 637v2M395 607v3M400 663v3M401 589v2M401 658v1M401 661v1M402 589v4M402 664v1M404 635v1M404 667v1M405 587v1M405 590v2M405 667v1M406 668v3M407 668v2M408 628v2M408 635v3M408 660v2M409 663v1M412 634v3M412 665v1M414 591v2M414 672v1M415 610v1M415 664v1M415 666v1M416 637v2M417 588v1M417 664v1M418 590v2M419 591v1M419 673v1M421 660v1M422 588v2M424 667v2M426 669v1M428 672v1M429 665v1M433 625v2M433 658v1M434 639v1M434 658v2M434 663v1M434 671v1M435 634v2M435 671v3M436 634v3M436 644v2M436 670v1M436 672v1M437 613v3M437 673v1M438 631v3M439 631v3M439 662v1M439 671v2M440 587v1M440 672v1M442 661v3M443 645v4M444 660v1M444 671v2M445 542v1M445 659v1M445 671v1M449 634v2M449 657v2M449 660v2M449 673v1M450 673v1M451 582v2M451 659v1M451 671v1M452 580v3M452 600v4M452 632v1M453 582v1M453 600v4M454 573v3M454 609v3M455 573v3M455 588v3M455 673v1M456 591v4M456 629v2M457 629v2M457 667v1M459 659v3M460 659v1M462 660v1M462 662v2M462 665v1M462 669v1M463 662v2M464 576v2M464 662v1M465 671v2M466 630v3M469 670v1M471 645v1M472 645v1M472 661v1M473 640v2M475 650v3M476 589v4M477 656v2M478 657v1M478 671v2M480 635v3M484 617v1M485 636v1M487 660v1M488 628v1M488 666v1M489 618v2M491 672v1M492 631v4M492 668v3M493 660v1M494 662v2M495 670v1M497 578v3M498 593v1M498 596v1M498 635v2M498 659v1M498 673v1M499 588v3M499 595v2M499 671v2M500 596v1M502 660v1M502 665v1M503 664v1M504 669v1M505 589v2M505 664v1M506 669v1M507 671v1M508 647v2M509 657v1M509 661v1M509 666v1M511 627v2M511 630v1M511 657v3M511 666v1M512 627v2M512 630v1M512 670v2M514 663v1M514 665v2M515 633v3M515 663v2M516 653v2M516 656v2M517 653v2M518 665v1M518 669v2M519 664v1M519 669v1M521 660v1M521 663v1M522 648v2M524 660v1M529 663v2M530 660v1M542 651v1M542 671v2M544 673v1M545 670v3M552 668v1M553 668v1M557 672v1M558 672v1M611 606v1M614 591v1M614 598v3M618 616v4M619 616v4M620 672v2M621 672v1M625 597v3M625 624v3M628 607v3M630 599v2M632 601v1M638 593v1M644 589v4M645 583v4M645 591v2M646 591v2M646 596v2M646 657v1M647 591v2M649 598v4M650 595v1M650 598v3M651 665v4M653 671v1M654 604v1M654 670v1M655 599v1M655 660v2M656 660v2M656 671v2M658 592v4M658 603v4M658 660v2M658 670v1M659 608v3M659 660v1M660 587v2M660 593v4M660 622v3M662 594v3M662 633v1M662 646v1M663 596v2M663 642v3M665 642v7M665 661v3M666 615v2M667 605v3M667 629v4M667 648v4M668 627v3M669 627v2M669 637v2M669 670v2M670 646v1M670 656v1M670 660v1M671 597v3M671 648v1M671 650v1M672 563v4M672 635v2M672 644v2M673 610v2M673 618v2M674 661v2M675 618v2M675 645v2M675 666v1M676 671v2M677 619v1M677 655v1M677 668v2M677 671v1M678 619v2M679 597v1M679 637v2M679 653v3M679 672v1M680 653v1M680 665v1M680 668v1M680 670v1M681 599v3M681 604v1M681 620v2M681 653v1M681 658v2M681 661v1M681 665v1M681 669v1M682 626v3M682 641v3M682 647v2M682 666v2M682 669v3M683 644v1M683 671v1M684 662v3M684 673v1M685 578v1M685 608v2M685 630v2M685 643v4M685 668v2M685 672v2M686 595v4M686 636v2M686 655v2M687 592v2M687 636v2M687 641v3M687 672v2M688 577v3M688 583v2M688 592v2M688 649v5M688 655v3M688 665v4M689 499v4M689 575v2M689 613v1M689 621v2M689 633v4M689 639v2M689 655v2M689 658v1M689 667v6M690 575v2M690 604v1M690 607v2M690 649v1M690 652v2M691 586v1M691 609v2M691 645v3M691 652v1M691 667v1M692 653v1M692 669v1M693 582v3M693 602v1M693 608v2M693 649v2M695 641v2M695 651v1M695 657v2M696 613v4M696 641v2M697 571v4M697 599v3M697 628v3M698 635v3M698 643v3M698 661v2M699 615v2M699 647v2M699 665v1M700 596v2M700 599v1M700 657v2M700 662v3M700 669v1M701 599v4M701 662v3M701 666v2M702 584v1M702 603v1M702 620v2M702 666v1M703 605v1M703 638v3M703 663v2M704 593v1M704 609v1M704 626v3M704 653v2M705 597v2M705 655v3M706 640v3M706 659v1M706 662v1M707 597v1M707 600v3M707 607v3M707 661v1M707 665v3M708 591v3M708 668v1M709 659v1M710 611v1M710 660v1M710 662v1M710 669v3M712 582v3M712 663v1M713 624v2M713 632v1M714 624v1M715 592v2M715 664v1M715 668v1M715 670v1M716 576v3M716 592v2M716 596v2M716 637v1M717 593v1M717 596v2M717 661v1M718 645v1M718 665v3M719 649v1M719 655v1M720 636v1M720 665v2M721 592v1M722 659v3M723 629v1M725 651v3M725 669v1M726 594v2M726 651v3M727 592v1M727 631v2M727 658v2M728 644v1M728 650v2M729 590v3M729 611v3M729 620v2M729 642v2M730 582v3M731 636v1M732 566v3M732 585v3M732 600v4M732 665v2M733 646v1M733 672v1M734 642v3M734 646v1M734 653v4M734 664v1M735 623v3M735 640v2M736 621v1M736 628v1M736 630v1M736 655v1M736 670v1M737 578v2M737 592v3M737 631v2M737 666v5M738 586v3M738 647v1M738 666v4M738 672v1M739 628v1M739 672v1M740 591v3M740 672v2M741 671v1M741 673v1M742 581v2M742 595v4M742 648v1M742 664v1M744 622v3M744 634v2M745 579v1M745 590v1M745 637v3M745 641v3M746 637v3M746 653v1M746 657v2M747 588v4M747 593v4M748 588v4M748 644v2M748 647v2M748 673v1M749 634v2M749 639v3M749 665v1M749 673v1M750 663v2M750 667v3M751 649v1M752 585v3M752 656v1M752 659v2M752 663v1M752 670v1M753 569v2M753 596v1M753 627v2M754 643v2M754 647v2M754 664v2M754 671v1M755 629v1M755 643v2M756 613v1M756 666v3M757 622v1M757 658v2M757 665v1M757 672v1M758 649v4M758 667v1M758 672v2M759 563v2M759 643v1M759 653v3M761 614v2M761 627v1M761 632v3M761 644v1M761 671v1M762 615v3M762 620v3M762 634v1M762 650v2M762 657v1M762 664v1M763 586v2M763 634v1M763 644v1M764 661v2M765 554v2M765 624v3M765 664v1M766 661v5M766 669v2M767 614v3M767 648v1M768 639v3M770 594v2M770 621v2M770 649v2M771 543v4M771 651v1M772 580v3M772 601v3M773 596v1M773 608v2M773 631v3M773 672v1M774 663v1M775 590v2M775 632v1M775 656v1M775 658v2M775 663v1M775 672v1M776 603v1M776 607v2M776 656v2M776 664v2M777 587v1M777 602v3M777 672v1M778 661v3M779 667v1M780 587v3M780 625v2M780 649v1M780 651v2M780 667v1M780 669v1M781 589v1M781 624v3M782 670v2M783 607v1M783 613v1M783 633v3M783 651v3M783 658v1M783 661v1M784 591v2M784 607v1M784 622v3M784 648v1M784 655v2M784 659v1M784 661v1M784 669v1M785 627v4M785 641v3M785 656v1M785 673v1M786 614v1M786 627v4M786 640v2M786 646v1M786 661v1M786 663v1M786 665v2M786 673v1M787 614v2M787 638v2M787 650v1M787 669v1M788 583v3M788 615v4M788 650v2M788 666v1M789 592v4M789 630v1M790 592v2M790 631v4M790 661v1M790 664v1M790 669v3M791 595v1M791 613v3M791 626v2M791 661v1M792 615v1M792 620v1M792 648v1M792 650v1M793 595v2M793 623v4M793 644v2M793 655v1M793 663v5M794 646v2M794 664v2M794 668v4M795 568v3M795 642v1M795 665v1M796 599v2M796 672v1M797 601v2M797 604v1M797 618v2M797 658v2M797 672v1M798 622v1M800 594v3M800 669v2M801 594v1M801 619v3M801 665v1M801 667v1M802 668v3M803 551v2M803 615v4M803 642v1M803 672v1M804 636v3M804 640v2M805 587v4M805 597v3M805 673v1M806 597v3M806 602v2M806 644v1M806 647v2M807 595v2M807 640v2M807 664v1M808 595v2M808 660v1M808 671v1M809 597v2M809 628v2M809 633v2M810 673v1M811 611v3M811 662v2M812 562v2M812 583v2M812 635v2M812 672v1M813 592v2M813 611v3M813 628v3M813 656v1M814 648v1M814 662v1M815 578v3M815 601v1M815 652v2M815 658v2M815 665v2M815 670v1M816 599v3M816 652v2M816 662v3M817 593v3M817 621v2M818 609v2M818 634v2M818 651v1M819 514v2M819 616v1M819 632v3M820 588v3M820 640v3M820 652v1M820 660v2M821 602v1M821 624v3M821 649v3M822 603v2M822 610v1M822 613v4M822 652v1M822 654v1M823 620v4M823 634v5M824 558v1M824 630v2M824 648v3M824 669v3M825 590v3M825 611v2M825 666v4M825 671v1M825 673v1M826 659v2M827 584v1M827 642v3M827 649v1M827 672v1M828 584v1M828 586v1M828 593v1M828 639v1M828 658v2M828 668v3M829 608v1M829 611v3M829 660v1M830 659v1M830 670v1M831 589v2M831 617v4M831 671v1M832 656v1M832 672v2M833 577v2M833 642v3M833 668v3M834 567v3M834 577v2M834 672v2M835 615v2M835 669v2M836 618v2M837 589v4M838 589v1M838 660v4M840 612v2M842 580v3M843 587v1M843 642v4M844 590v1M844 608v2M844 642v3M844 646v3M845 651v1M845 665v1M846 654v1M847 668v3M848 599v5M848 630v3M848 670v1M849 609v4M849 631v2M849 647v1M850 590v2M850 666v3M851 613v1M851 640v1M852 576v4M852 635v4M852 670v1M853 617v2M853 673v1M854 592v2M854 617v2M854 633v2M855 609v1M855 618v2M856 630v2M856 633v2M856 639v3M858 656v2M859 643v1M859 656v1M859 662v1M860 662v2M861 634v2M861 639v1M862 616v2M862 639v4M862 673v1M863 612v1M864 560v1M865 560v1M865 589v1M865 623v1M865 666v1M867 643v1M867 655v3M868 634v2M869 603v2M869 635v1M869 646v3M871 639v1M872 631v3M873 632v3M873 662v2M876 565v1M876 607v1M877 565v1M877 607v1M877 635v1M877 648v3M877 667v2M879 614v2M880 590v3M880 665v1M881 601v2M881 665v1M882 616v3M883 588v1M883 616v3M883 663v3M884 585v1M884 588v1M884 666v1M885 541v3M885 632v1M887 608v3M888 619v1M888 633v1M889 573v2M890 620v4M890 666v1M891 574v5M891 604v2M891 620v4M892 588v1M892 590v1M892 624v2M892 660v1M893 589v2M893 608v1M893 626v2M893 643v1M894 612v1M894 614v2M895 667v4M897 593v3M897 666v1M899 577v1M899 582v3M899 586v2M900 582v3M901 584v1M901 632v1M901 646v1M902 607v1M902 610v2M902 620v2M903 582v1M903 592v1M903 599v3M905 562v2M905 588v2M905 621v4M905 655v1M906 583v2M907 550v3M909 598v2M909 615v2M909 649v2M910 589v1M910 599v1M910 605v3M910 612v2M910 649v2M911 607v2M911 614v3M911 634v3M912 661v2"/>
<path stroke="#468a00" transform="translate(.5)" d="M105 658v1M105 664v2M106 658v2M107 607v1M108 607v2M109 604v1M109 666v3M110 632v1M113 669v1M114 660v1M114 662v1M115 608v4M115 660v2M115 666v1M116 626v1M116 656v3M116 660v1M119 664v1M121 612v2M121 660v1M122 633v4M123 664v1M123 671v1M124 628v1M125 656v2M127 659v1M130 633v3M130 656v1M130 660v1M131 633v3M131 656v1M132 663v1M133 673v1M135 629v2M135 664v2M137 668v1M140 668v1M141 662v1M142 633v3M142 659v1M143 630v3M144 667v3M145 659v1M146 635v2M148 613v1M149 659v1M150 662v1M151 659v1M152 635v2M153 669v2M154 659v1M156 659v1M156 663v1M157 650v2M158 659v1M158 671v1M160 668v1M161 672v1M162 624v3M162 661v1M163 624v3M163 671v1M164 659v1M165 630v4M165 658v3M166 660v1M167 664v1M167 666v1M169 614v1M170 614v1M170 672v1M172 665v1M173 614v1M174 665v2M175 662v1M175 664v2M176 659v1M177 667v2M177 670v2M178 647v2M178 664v1M179 660v3M180 659v1M180 661v1M181 627v1M181 658v1M182 589v4M182 659v1M182 662v1M182 665v1M183 628v3M184 668v1M184 670v1M185 662v1M186 666v3M188 641v4M189 649v1M190 626v3M190 666v1M191 626v3M191 666v2M194 659v1M195 668v1M195 673v1M197 666v1M198 667v1M198 670v2M203 666v1M204 659v1M205 672v1M206 605v1M206 633v4M207 585v2M207 659v1M207 666v1M207 669v1M208 628v3M208 655v2M208 659v1M208 669v2M210 659v1M210 664v1M210 666v1M211 668v2M213 667v1M216 652v2M217 652v2M217 658v3M218 669v2M220 662v1M221 660v1M221 670v1M222 661v1M222 670v1M222 672v2M223 669v3M225 669v1M227 659v1M228 664v1M228 667v1M229 660v1M230 659v2M230 667v2M231 659v1M233 660v1M234 661v3M235 593v3M236 660v1M236 665v1M237 659v1M237 671v1M238 670v1M238 672v1M239 629v3M240 638v4M241 657v1M242 665v1M243 568v2M243 623v2M244 628v1M245 664v2M246 666v1M247 666v5M248 659v1M250 582v3M250 660v2M251 660v1M251 670v1M252 668v1M252 673v1M253 625v1M253 664v1M253 670v1M254 661v2M255 660v1M256 665v1M257 660v1M258 625v3M258 666v1M259 543v3M259 625v3M260 664v3M261 499v1M261 622v2M261 648v2M262 577v1M262 622v2M262 648v2M263 650v5M264 652v3M264 659v1M264 663v1M264 672v2M265 660v1M265 663v1M265 672v1M266 630v3M268 670v1M269 585v2M271 660v1M272 622v4M272 662v1M272 671v1M273 659v1M273 667v3M277 671v1M278 589v2M279 659v1M280 660v1M283 638v2M284 638v2M285 658v1M285 660v1M286 670v1M286 673v1M287 661v1M287 663v1M287 673v1M288 657v2M290 659v1M290 662v1M291 662v1M292 660v2M293 541v3M293 663v2M293 668v2M294 672v1M295 655v4M295 666v1M295 668v2M296 661v1M296 671v2M298 663v2M299 664v2M299 672v2M302 655v1M302 670v1M304 660v1M304 669v1M304 672v2M305 659v2M305 667v2M306 660v1M307 660v1M307 669v1M308 643v4M308 666v2M308 669v1M309 663v1M310 634v2M310 668v1M311 637v3M311 660v1M311 668v1M312 588v1M314 592v1M314 665v1M314 667v2M314 672v2M315 658v1M316 546v2M316 660v1M316 673v1M317 666v1M317 671v2M318 672v1M319 666v2M320 665v2M320 669v2M321 668v1M323 665v2M324 614v3M325 614v3M325 672v1M326 614v2M326 660v1M326 666v1M328 671v1M329 617v1M329 667v1M329 669v1M329 672v1M330 617v1M330 668v2M330 671v1M330 673v1M331 668v1M335 634v3M335 662v2M336 662v1M336 664v3M337 636v2M337 659v1M337 672v1M338 600v3M338 668v1M340 670v1M341 657v1M341 662v2M341 665v3M342 657v1M342 665v2M342 671v1M343 594v1M344 593v2M344 653v2M344 666v2M345 666v2M346 643v3M346 673v1M347 595v2M347 669v1M348 659v1M348 663v2M349 592v1M350 663v3M351 672v1M353 617v4M353 640v4M353 673v1M354 594v3M355 664v1M355 668v1M356 660v1M356 663v1M357 667v2M358 637v4M358 643v1M358 659v1M358 668v1M360 666v3M360 670v2M361 668v2M363 662v1M363 664v1M365 628v1M365 642v2M366 672v1M367 673v1M368 604v2M368 666v1M368 668v1M371 621v2M371 666v1M372 667v1M373 625v4M374 632v1M375 606v3M375 670v3M376 606v3M376 672v1M377 665v1M377 670v1M378 657v3M378 669v1M379 667v1M380 668v1M381 669v1M382 671v2M383 671v1M384 669v1M385 626v2M385 666v1M386 591v2M386 620v2M387 591v3M387 630v1M388 659v1M388 673v1M389 666v1M389 669v1M390 668v2M391 669v1M392 623v4M392 661v2M393 665v1M394 655v1M395 633v2M396 633v2M397 632v1M398 664v1M399 620v2M401 668v1M403 664v2M403 672v2M404 661v1M405 658v1M406 663v1M407 620v3M407 658v3M409 664v2M411 661v1M412 632v2M412 662v1M412 666v1M412 670v1M413 662v1M416 663v1M416 673v1M417 621v2M417 667v1M417 669v1M419 669v1M420 633v2M420 669v2M421 625v2M422 608v3M423 658v1M423 664v2M423 668v1M423 672v2M424 669v1M424 671v1M425 661v1M425 663v1M426 663v1M427 592v1M427 636v2M427 658v1M428 592v2M428 625v3M428 659v1M428 671v1M431 643v3M431 666v1M432 632v1M433 656v1M433 662v2M434 653v1M434 661v1M435 665v2M436 651v3M436 662v3M437 651v3M437 666v2M437 671v1M438 667v2M442 668v3M443 624v3M443 662v2M443 669v2M444 624v3M444 669v2M445 632v2M445 670v1M445 673v1M446 669v2M450 601v3M450 659v1M452 578v2M453 637v2M455 560v2M458 626v3M463 621v2M463 668v2M464 658v2M464 661v1M464 663v1M464 665v1M470 664v1M472 628v4M472 634v2M472 669v1M472 671v2M473 625v2M475 633v3M476 659v1M477 659v1M477 670v3M478 587v2M478 654v2M478 673v1M479 669v1M480 597v2M481 597v2M483 662v1M484 659v1M485 621v1M486 660v1M487 617v4M487 666v1M488 665v1M488 671v1M490 594v3M491 618v1M491 629v1M491 660v1M491 670v2M491 673v1M493 644v2M495 662v2M495 666v1M496 660v1M496 665v1M496 667v1M497 592v1M498 664v1M499 587v1M499 660v1M499 665v1M499 669v1M500 667v2M501 592v2M501 606v3M502 606v3M502 667v1M503 588v2M503 671v3M504 613v2M504 644v2M504 656v3M504 660v1M505 613v2M508 645v2M509 660v1M509 667v4M510 622v4M511 632v3M511 662v2M511 667v1M513 670v1M515 662v1M516 632v2M516 669v3M517 641v1M517 672v1M518 660v1M519 655v2M519 672v2M520 655v2M520 670v2M521 661v2M521 673v1M522 668v2M522 673v1M523 658v2M524 663v1M527 668v1M535 669v1M538 673v1M539 673v1M541 669v2M542 673v1M544 661v1M547 668v3M551 669v1M551 673v1M552 673v1M555 669v2M555 673v1M613 594v2M616 594v3M619 590v1M620 590v2M620 598v2M621 599v1M623 636v3M624 594v2M625 671v3M627 588v1M627 594v2M632 593v2M632 596v1M633 589v3M635 589v3M638 586v4M639 599v1M640 596v1M641 595v3M642 671v3M643 598v2M643 671v3M645 654v2M648 656v1M650 597v1M651 593v1M652 579v2M653 575v3M653 655v3M654 666v3M656 668v2M657 667v1M658 554v2M658 598v2M658 647v1M659 598v3M659 669v5M660 657v1M660 666v4M661 613v2M662 568v4M662 613v2M662 616v4M662 623v1M663 568v4M663 624v1M664 579v4M664 593v2M664 616v1M666 624v1M666 626v2M666 662v3M667 663v1M668 607v3M670 595v2M670 606v2M670 618v2M670 633v2M670 642v3M670 654v2M671 646v2M671 652v3M671 661v2M671 671v1M672 589v3M672 657v1M672 661v2M673 669v4M674 595v2M674 639v1M675 575v4M675 656v1M675 659v1M675 661v1M676 569v2M676 621v2M677 543v3M677 569v2M677 596v2M677 611v3M678 567v4M678 596v2M678 636v3M678 664v3M679 567v4M679 635v2M679 656v1M679 662v4M680 585v2M680 597v2M680 618v1M680 633v1M680 663v1M681 578v1M681 625v3M681 648v2M681 664v1M681 668v1M682 634v1M682 638v2M682 651v1M683 648v3M683 655v1M683 663v1M683 669v1M684 606v1M684 632v3M684 647v2M684 665v4M685 654v2M685 667v1M686 615v1M686 643v1M686 646v6M686 654v1M687 647v2M687 659v1M688 552v1M688 626v2M688 658v2M689 542v2M690 590v2M690 664v1M690 668v1M691 653v1M692 643v2M692 651v2M692 671v1M693 598v1M693 645v1M693 647v2M694 663v1M694 670v2M695 589v2M695 601v1M696 607v2M696 662v2M696 667v1M697 620v1M697 627v1M697 631v4M697 657v2M697 661v1M698 559v2M698 631v4M698 665v2M699 608v3M700 601v2M701 611v2M701 637v1M702 619v1M702 637v2M702 669v1M703 553v3M703 591v3M703 612v2M704 648v3M704 658v2M704 662v2M704 667v3M705 639v3M705 664v2M705 670v1M705 672v1M706 639v1M706 658v1M706 660v1M706 666v4M707 598v1M707 623v1M707 627v2M707 658v1M708 586v2M708 666v1M708 669v1M709 591v3M709 625v4M709 631v1M710 587v1M710 627v1M710 663v1M710 665v1M711 619v4M711 632v2M711 663v1M711 669v1M712 625v2M712 654v1M712 658v1M713 657v1M713 660v2M713 667v3M715 572v1M715 600v1M715 602v1M715 644v1M716 586v1M716 610v1M716 629v1M717 641v5M717 671v1M718 642v1M718 672v1M719 576v3M719 609v1M719 628v2M719 639v3M720 609v1M720 625v1M721 582v1M721 605v1M721 625v2M721 637v2M722 641v2M723 640v1M723 649v2M723 663v2M724 640v3M724 658v1M724 668v1M725 635v2M725 646v1M725 668v1M726 579v1M726 585v3M726 660v1M727 625v1M728 625v1M728 647v1M729 589v1M729 601v2M729 657v3M730 625v4M730 633v1M730 635v2M730 651v2M730 667v1M731 625v2M731 641v3M731 652v1M731 664v1M732 591v1M732 625v3M732 629v2M732 635v1M732 652v1M732 667v1M733 600v1M733 627v4M733 660v6M734 586v1M734 592v2M734 604v3M734 622v1M734 627v2M734 660v1M735 592v2M735 596v1M735 619v3M735 634v2M735 668v1M735 672v2M737 627v1M737 656v3M738 594v3M738 649v2M739 586v2M739 650v3M739 670v2M740 612v3M740 671v1M743 672v1M744 552v3M744 644v4M745 623v4M745 669v2M746 646v4M747 615v3M747 626v3M747 637v5M747 658v1M748 587v1M748 593v3M748 658v1M749 593v3M749 597v1M750 626v2M750 641v4M750 648v1M751 626v2M751 630v1M751 657v2M752 588v2M752 625v2M752 639v1M752 665v3M752 669v1M752 671v3M753 629v3M753 661v1M753 670v1M754 672v1M755 631v1M755 636v1M755 648v1M755 665v3M756 600v2M756 626v2M756 645v3M756 652v2M756 670v1M757 607v1M757 657v1M757 669v1M758 657v2M759 607v3M759 624v4M759 658v1M760 607v3M760 655v1M760 663v1M761 641v3M761 665v1M761 667v2M762 653v2M762 662v2M762 672v2M763 620v1M763 663v1M764 620v1M764 673v1M765 612v1M765 614v1M765 665v3M767 656v3M767 661v1M768 599v1M768 661v1M769 599v1M769 666v3M770 608v3M770 618v2M770 626v2M771 595v4M771 659v1M772 600v1M773 625v3M773 629v1M773 664v4M774 598v1M774 633v2M774 666v1M775 588v1M777 615v4M777 633v3M777 638v2M777 673v1M778 586v4M778 605v3M778 673v1M779 623v3M779 639v1M779 646v4M779 659v3M780 637v1M780 654v1M780 661v2M781 613v2M781 642v1M782 500v2M782 610v2M782 614v1M782 672v1M783 500v2M783 618v1M783 672v1M784 608v1M784 672v2M785 602v7M785 670v3M786 604v1M786 606v1M786 621v1M786 637v1M786 655v1M786 670v3M787 586v2M787 630v1M787 653v1M787 665v1M787 670v2M788 609v4M788 632v2M788 641v2M788 649v1M788 657v1M788 664v2M789 606v1M789 619v4M789 632v2M789 662v1M789 664v1M789 672v2M790 637v1M790 645v2M790 673v1M791 589v2M791 648v1M791 650v1M792 628v3M792 665v1M792 669v1M793 592v1M793 640v4M793 670v1M794 568v2M794 603v4M794 651v2M794 661v2M794 667v1M795 603v4M795 628v1M795 655v4M795 667v1M797 600v1M797 642v3M797 664v2M797 668v1M797 673v1M798 601v2M798 623v2M798 649v1M798 664v1M800 632v3M801 604v1M801 606v3M801 672v2M802 577v2M802 617v2M802 643v1M802 672v2M803 614v1M803 645v4M803 673v1M804 669v2M805 629v2M806 664v1M806 671v1M807 628v2M808 641v3M809 653v1M809 666v1M809 668v2M809 673v1M810 587v2M810 629v1M810 641v4M811 575v2M811 600v3M811 629v1M812 599v1M812 646v1M813 645v2M813 651v2M814 598v2M814 637v1M814 643v1M815 602v2M815 614v4M815 643v3M815 661v2M816 610v1M816 657v1M817 554v1M817 645v2M818 554v1M818 599v2M818 614v2M818 620v3M818 627v3M818 645v4M818 658v1M819 592v3M819 614v2M819 648v3M819 653v1M819 658v2M819 671v3M820 592v3M821 594v1M821 622v1M821 663v2M822 588v2M822 649v3M823 579v1M823 584v1M823 607v2M823 647v1M823 672v2M824 594v3M824 633v1M824 644v2M824 647v1M824 664v1M824 667v1M825 643v3M825 647v2M826 614v1M826 657v1M827 582v2M827 585v1M827 598v4M827 625v3M827 638v2M827 654v2M828 590v2M828 610v2M828 673v1M829 574v2M829 669v1M830 665v1M831 585v1M831 593v2M831 665v1M831 669v1M832 608v2M832 655v1M833 645v2M833 654v3M833 662v3M834 588v2M834 653v1M835 556v3M835 588v2M836 556v3M836 649v3M837 615v4M838 616v2M839 589v1M839 610v2M839 662v2M840 584v1M840 589v4M840 619v4M840 655v2M840 662v2M841 595v1M841 636v3M842 590v2M842 664v1M844 620v3M845 581v2M845 590v3M845 620v3M845 658v1M846 572v3M846 604v1M846 651v1M846 658v1M846 663v1M847 604v3M847 625v1M847 663v1M848 618v3M848 671v1M849 595v3M849 618v3M849 625v3M849 666v1M850 613v3M850 625v3M850 653v1M851 598v3M852 592v1M852 666v1M852 672v1M853 635v3M853 645v1M853 647v2M854 587v2M854 647v1M854 668v1M855 570v2M855 615v2M855 665v1M855 668v1M856 604v1M856 665v1M858 622v3M858 632v2M858 642v1M859 622v3M859 628v3M860 640v1M860 649v1M861 601v2M861 646v1M861 649v1M862 587v4M862 613v3M862 631v2M863 590v1M863 613v3M863 631v2M863 653v1M863 655v1M864 593v3M864 663v1M866 616v1M866 628v3M867 631v1M868 661v1M869 580v1M869 616v5M869 634v1M869 667v1M870 569v2M870 600v1M871 657v2M873 593v1M874 617v2M874 623v1M874 635v3M875 589v2M875 593v1M877 636v1M878 592v2M878 610v1M879 590v1M879 604v3M879 610v1M879 617v1M879 646v1M880 610v4M880 647v2M881 667v1M882 552v4M882 621v4M883 602v1M884 592v1M885 583v4M887 593v1M887 634v1M888 625v2M888 634v1M889 636v1M891 570v3M891 585v4M892 570v3M892 585v2M892 622v2M892 634v2M893 610v3M894 609v1M894 616v2M895 582v2M895 611v1M896 611v2M896 660v1M898 590v1M899 599v1M899 631v1M899 660v1M900 601v1M900 605v1M901 612v2M902 599v1M902 608v2M902 612v4M902 658v2M902 672v1M903 603v4M903 613v4M903 646v1M903 657v3M904 588v1M904 603v2M904 657v1M905 587v1M906 548v4M906 587v2M906 619v2M906 666v1M907 548v2M907 584v3M907 619v2M909 580v3M909 607v2M910 592v2M911 588v2M911 648v1M912 614v1M912 670v1"/>
<path stroke="#249608" transform="translate(.5)" d="M105 600v2M105 659v1M106 192v2M106 670v1M107 625v2M107 659v1M107 661v1M108 673v1M109 659v1M111 626v1M111 659v1M112 626v1M112 648v2M112 660v4M113 659v4M114 657v1M114 666v1M117 665v1M117 671v1M118 668v2M118 671v1M119 626v1M119 670v2M119 673v1M120 618v3M120 659v1M121 659v1M122 665v1M123 569v3M123 659v1M123 666v1M124 659v1M124 667v1M124 669v1M125 659v1M125 672v1M126 620v2M126 633v3M127 662v1M128 609v3M128 659v1M128 672v1M129 652v3M129 659v1M130 668v1M131 629v3M132 659v1M133 633v1M133 659v1M133 663v1M135 669v2M137 652v2M138 652v2M138 667v1M140 659v1M142 639v1M143 659v1M144 620v3M144 659v2M147 659v1M148 656v1M148 661v1M149 654v1M150 654v1M150 659v1M150 663v2M151 627v2M153 632v3M153 659v1M155 669v1M157 659v1M160 659v1M161 613v1M161 664v2M161 670v1M162 669v1M162 671v1M164 658v1M164 661v1M165 613v2M165 672v1M166 613v2M166 672v1M167 659v3M167 665v1M169 627v3M169 636v2M169 659v1M169 672v1M171 663v1M171 669v1M172 659v1M172 663v1M173 596v2M173 644v1M173 659v1M173 668v1M175 598v2M175 659v1M175 668v2M176 668v1M178 673v1M179 594v2M183 333v2M183 667v1M184 666v2M184 669v1M185 664v1M185 666v1M186 663v3M187 659v1M187 663v1M187 666v4M188 659v1M188 663v2M188 672v2M190 634v4M190 659v1M190 668v2M191 634v1M191 660v1M192 626v1M192 650v2M192 659v1M193 659v1M194 582v2M194 669v2M197 659v1M198 659v1M198 668v1M200 659v1M200 661v1M201 646v2M201 663v1M202 659v1M202 662v1M203 507v2M203 664v1M203 669v2M204 655v3M204 661v1M204 664v1M204 670v1M204 672v2M206 660v4M207 609v3M208 657v2M208 667v1M209 659v1M209 663v1M210 622v3M210 631v1M210 671v3M211 657v2M212 628v1M212 648v3M212 668v1M213 673v1M214 666v2M214 669v1M215 629v3M216 666v1M219 670v1M220 668v2M220 673v1M221 671v1M223 655v2M225 659v1M225 662v4M227 604v1M227 665v1M228 600v4M228 665v1M229 662v1M229 665v1M229 667v2M229 670v3M230 673v1M231 640v1M231 665v3M232 628v1M234 619v4M235 625v2M235 655v5M235 661v1M235 665v1M236 621v3M236 655v3M237 660v1M238 579v3M239 626v1M240 657v1M240 659v1M240 662v2M241 660v1M243 627v2M243 631v1M243 667v1M243 671v2M246 660v1M246 671v2M248 660v1M248 664v2M250 590v3M250 666v4M251 659v1M252 669v1M253 659v3M256 659v2M257 659v1M257 665v1M257 673v1M258 661v1M258 665v1M259 659v1M260 654v2M260 660v4M261 655v1M261 658v1M261 663v1M262 661v1M263 625v2M263 667v1M264 666v2M265 670v2M266 660v2M266 663v1M266 670v1M267 624v3M268 671v2M269 669v3M270 659v1M270 662v1M270 664v1M270 670v2M271 670v1M274 560v2M274 660v1M274 663v2M275 560v2M276 630v2M276 665v1M277 630v2M277 651v3M278 628v3M278 670v1M280 657v2M282 669v2M284 665v3M285 659v1M285 662v2M285 665v1M285 670v2M286 669v1M287 660v1M288 659v1M289 663v1M290 660v1M290 668v3M290 672v2M291 618v2M291 658v3M291 672v1M292 667v1M292 669v1M293 670v1M294 660v1M294 667v2M295 661v3M296 572v2M296 667v2M297 668v2M298 590v1M298 662v1M298 666v2M299 590v2M299 661v1M300 660v1M300 664v2M301 664v3M301 672v2M302 659v1M302 661v1M303 608v3M304 662v3M306 546v4M308 660v1M309 661v2M309 664v1M309 666v2M310 669v1M312 654v3M312 669v1M313 654v7M313 669v1M313 672v2M315 663v1M317 632v1M317 668v2M317 673v1M319 659v2M319 663v3M319 673v1M320 660v1M320 672v2M322 667v1M324 661v1M325 645v3M325 671v1M327 660v1M328 632v2M328 667v2M329 635v2M329 661v1M329 664v1M330 608v2M330 663v1M330 672v1M331 596v2M331 644v3M331 664v1M331 670v1M332 665v1M332 670v2M332 673v1M334 672v2M335 620v1M335 628v1M338 669v1M338 671v2M339 623v2M339 666v1M340 672v1M341 658v1M341 673v1M342 664v1M344 664v1M345 638v2M346 669v3M347 500v2M347 659v1M348 500v2M348 616v3M348 620v4M348 665v1M349 620v4M349 673v1M351 587v3M351 665v1M352 631v2M352 656v2M352 664v2M353 661v1M354 657v3M354 661v2M355 673v1M356 582v3M356 659v1M357 646v2M357 659v1M358 609v4M359 630v2M359 665v1M359 668v1M360 636v4M360 673v1M361 593v1M361 663v1M361 670v1M362 671v1M367 635v1M368 635v1M368 665v1M369 661v3M370 608v2M370 662v1M371 667v3M373 665v5M374 550v3M374 666v1M374 671v1M375 632v3M375 660v2M375 663v1M376 662v2M376 665v1M376 670v2M377 587v3M378 664v2M379 659v1M379 661v1M379 672v1M380 659v1M380 661v1M380 666v2M381 593v3M381 623v1M381 668v1M382 593v3M382 661v1M383 595v3M384 671v1M385 668v3M385 673v1M386 672v1M387 670v3M388 629v3M389 632v3M389 646v4M390 94v2M390 666v1M392 671v1M393 657v2M394 657v2M394 671v2M395 568v3M395 635v1M395 658v1M395 667v1M395 671v3M396 664v1M398 630v2M399 622v3M400 669v2M402 665v2M403 661v3M404 668v1M405 661v1M405 669v1M407 661v2M407 670v1M408 662v2M408 671v1M409 661v2M410 659v1M411 660v1M411 663v3M411 673v1M415 670v1M416 664v1M417 671v1M418 583v3M419 670v2M420 660v1M420 663v3M420 672v1M421 661v2M422 627v3M423 670v1M424 662v1M424 670v1M425 665v2M426 590v3M426 673v1M429 626v3M430 663v1M433 627v2M433 660v2M435 607v3M435 661v1M436 631v2M437 632v1M437 659v1M437 672v1M438 670v2M439 665v3M439 669v1M440 624v3M440 670v2M441 569v2M441 579v3M442 569v2M442 649v3M442 666v1M443 595v1M443 665v1M444 658v2M444 673v1M447 661v2M448 666v1M449 668v2M450 617v4M450 660v1M451 661v2M451 665v1M452 667v1M452 669v2M453 589v1M453 663v2M455 620v4M457 555v1M457 664v1M458 659v1M458 668v1M459 667v1M459 670v1M460 593v1M461 590v2M461 593v3M463 619v2M463 626v2M464 630v3M465 637v1M466 635v2M467 611v2M467 645v1M469 671v3M472 582v1M472 587v1M472 673v1M473 582v1M474 664v1M475 664v1M475 666v1M476 660v1M476 669v2M478 658v1M481 632v1M483 672v2M485 626v1M485 671v3M486 640v2M486 655v3M486 662v2M487 662v1M487 671v2M490 660v1M493 670v1M494 595v1M494 661v1M494 664v1M494 671v1M495 667v1M495 669v1M496 666v1M496 668v5M497 595v1M499 631v2M499 634v4M499 670v1M499 673v1M500 621v2M503 669v2M504 668v1M505 630v1M505 662v1M506 630v1M507 660v1M507 663v1M508 660v1M510 599v3M511 660v1M513 655v1M515 660v2M516 624v2M516 662v1M516 665v1M517 662v1M517 670v2M518 664v1M519 666v2M520 658v1M526 659v1M527 659v2M528 660v1M530 656v2M530 671v1M532 660v1M533 659v1M535 650v3M536 662v1M537 662v1M538 660v1M539 660v1M541 660v1M544 660v1M545 660v1M546 660v1M547 666v1M548 661v1M548 668v2M550 672v2M554 673v1M614 594v1M617 591v1M619 595v2M620 623v1M621 593v2M621 596v2M624 590v2M625 596v1M625 601v2M626 632v3M627 671v1M629 595v2M633 670v1M634 592v3M636 668v3M637 591v2M637 599v1M637 668v3M638 599v2M640 604v3M642 598v1M643 595v1M643 603v1M646 609v3M647 593v2M648 593v1M648 638v2M650 596v1M650 601v3M650 627v1M651 627v1M651 670v2M652 591v1M654 647v4M655 659v1M656 650v3M656 665v1M657 594v2M657 668v2M658 587v4M661 617v3M662 604v3M663 627v1M663 672v2M664 587v4M664 596v1M665 650v2M666 670v1M667 670v1M669 614v2M669 618v4M669 629v2M669 646v2M671 655v3M672 646v1M672 651v3M672 656v1M672 668v3M673 635v4M673 668v1M674 647v4M674 663v2M675 620v2M675 623v3M675 639v3M675 651v1M675 654v1M675 663v1M675 673v1M676 604v3M676 638v3M676 647v1M676 657v2M676 660v1M677 641v2M677 653v2M677 657v3M677 673v1M678 594v2M678 606v4M678 662v1M678 667v2M678 670v1M679 586v4M679 667v1M680 647v2M680 661v1M680 666v2M681 606v4M681 666v1M681 671v1M682 544v2M682 664v1M683 631v3M683 635v2M683 662v1M684 631v1M684 669v1M685 605v2M685 647v4M685 658v1M685 664v1M686 592v2M686 665v2M687 623v5M687 632v2M687 664v1M687 666v1M688 605v2M688 670v4M689 574v1M689 588v4M689 641v3M689 649v3M689 657v1M689 661v1M689 664v1M689 666v1M690 598v3M690 605v1M690 632v2M690 650v2M690 669v1M691 583v1M691 591v2M691 601v2M691 621v2M691 624v3M691 648v2M692 613v2M692 621v2M692 624v3M692 642v1M692 649v2M692 657v3M692 661v3M692 666v3M693 603v1M693 607v1M693 637v2M693 664v1M693 672v1M694 601v2M694 605v1M694 635v2M694 664v4M695 557v2M695 592v3M695 665v4M695 670v2M696 645v1M696 652v1M696 659v1M696 668v1M697 656v1M697 662v1M697 666v1M698 567v2M698 605v1M698 615v2M698 658v2M698 672v1M699 654v2M699 666v1M700 600v1M701 660v1M702 600v2M702 604v2M702 661v1M702 667v2M703 604v1M703 606v1M703 647v1M703 649v1M703 661v2M704 592v1M705 592v2M705 659v1M705 662v2M706 663v1M707 610v2M707 624v3M707 668v1M708 545v2M708 610v2M708 660v1M708 662v2M709 665v1M709 669v1M710 581v3M710 589v1M710 604v3M710 666v2M711 664v3M712 642v1M712 644v1M712 660v1M713 584v4M713 642v1M713 644v1M713 658v1M713 662v4M714 625v3M715 669v1M716 628v1M716 669v1M717 651v1M717 656v3M717 670v1M718 586v2M718 638v2M718 646v4M718 651v2M719 586v3M719 630v1M719 645v2M719 672v1M720 642v3M721 590v1M722 630v2M722 655v1M723 645v2M723 648v1M723 651v1M723 655v1M724 645v2M724 648v1M725 591v2M725 664v1M726 574v3M727 590v2M728 586v3M728 654v2M728 658v1M729 648v4M730 648v2M731 577v1M731 592v1M731 646v3M731 658v1M732 577v1M732 599v1M733 602v1M733 604v1M734 623v3M734 673v1M735 597v2M735 608v3M736 590v3M736 629v1M736 641v1M737 565v3M737 590v2M738 599v3M738 623v3M738 645v1M739 591v1M739 619v1M739 658v2M740 645v2M740 670v1M741 543v2M741 644v4M741 656v1M742 619v4M742 665v3M743 632v3M743 666v3M745 591v3M745 630v6M746 416v2M746 621v3M746 641v5M747 598v3M747 671v1M748 623v5M748 641v1M748 659v1M748 661v2M749 623v3M749 633v1M749 638v1M750 588v2M750 594v4M750 630v1M750 670v1M751 597v2M751 638v2M751 667v2M752 560v3M752 590v3M752 596v4M752 655v1M753 595v1M753 636v1M753 639v1M753 662v2M753 665v2M754 591v2M754 595v2M754 633v2M754 654v1M755 630v1M755 645v3M755 663v1M756 614v2M756 636v3M756 658v1M756 663v2M756 672v1M757 608v2M757 612v1M757 632v3M757 666v1M757 673v1M758 632v3M758 669v1M759 665v1M759 670v1M761 602v6M761 609v2M761 653v1M761 659v1M761 661v1M761 672v1M762 623v3M762 633v1M762 635v1M763 664v3M764 609v6M765 618v2M765 627v3M765 639v1M765 641v1M765 643v1M765 661v1M766 627v6M766 641v1M766 644v3M767 577v3M767 620v5M767 628v3M767 663v1M768 611v2M768 616v1M768 621v1M768 637v1M768 663v3M769 574v3M769 644v2M769 657v2M770 666v1M771 661v1M772 578v2M772 611v1M772 628v2M772 661v1M773 610v3M773 656v4M773 661v1M774 527v4M774 602v4M774 654v1M774 662v1M774 664v2M775 605v4M775 661v1M775 664v1M776 573v4M776 605v2M776 609v1M776 642v1M777 656v3M778 297v2M778 612v4M778 643v5M778 650v2M778 655v4M778 664v2M779 612v4M779 626v4M779 658v1M780 627v2M781 633v3M781 656v2M781 659v1M782 633v3M782 642v2M782 654v1M782 656v2M783 670v1M784 582v3M785 609v4M785 621v1M785 631v3M785 665v2M786 608v2M786 620v1M786 631v1M786 633v1M786 642v3M786 647v3M786 651v1M786 667v1M786 669v1M787 620v2M787 625v1M787 628v2M787 634v4M787 654v3M787 672v2M788 589v2M788 658v1M788 670v3M789 602v2M789 641v3M789 658v2M789 670v2M790 561v2M790 602v2M790 641v3M791 649v1M792 613v2M792 637v4M792 649v1M792 668v1M793 590v2M793 636v3M793 657v1M793 661v1M794 649v2M794 657v3M794 663v1M795 591v3M795 607v3M795 622v2M796 593v3M796 601v2M796 607v1M796 618v2M797 650v1M797 652v1M797 671v1M798 573v2M798 642v1M798 665v1M798 672v2M799 541v3M799 625v3M799 637v2M799 665v1M800 578v3M800 606v2M800 649v2M801 626v2M801 650v2M802 601v1M802 625v2M802 650v1M802 654v1M802 657v1M802 660v1M802 667v1M803 563v2M803 572v3M803 602v1M803 670v1M804 572v3M804 621v3M804 671v2M805 611v2M805 626v3M805 642v1M805 668v1M806 606v2M806 611v2M806 672v1M808 602v4M808 615v3M808 637v1M809 616v1M809 620v3M809 637v1M809 670v1M810 596v3M810 601v3M810 613v3M810 646v3M811 596v4M811 639v3M811 651v2M811 660v2M811 671v2M812 596v3M812 622v3M812 673v1M813 636v2M813 649v2M814 596v2M814 630v4M814 636v1M814 642v1M814 645v2M814 650v1M815 648v2M815 660v1M816 602v1M816 633v4M816 648v3M816 660v1M817 598v1M817 620v1M817 635v2M817 650v2M817 660v1M817 665v2M817 671v1M818 637v1M818 650v1M819 583v1M819 619v3M819 624v1M819 635v2M819 645v3M820 602v2M820 624v1M820 644v3M820 668v1M820 671v1M821 637v1M821 645v2M821 661v1M822 566v2M822 661v2M823 580v1M823 650v2M825 624v2M825 649v1M825 655v2M825 661v1M826 598v3M827 587v2M827 651v2M827 673v1M828 587v2M828 602v2M828 613v1M828 618v2M828 651v3M828 662v2M828 665v1M829 609v2M829 628v2M829 649v1M829 651v3M829 655v2M830 612v1M830 667v1M830 671v2M831 586v3M831 612v3M832 588v4M833 608v2M834 607v2M834 616v1M834 621v3M834 649v3M834 668v1M835 656v1M835 668v1M835 671v1M837 596v2M837 605v2M837 651v1M837 656v2M837 661v2M837 665v1M837 671v2M838 611v3M838 638v1M838 653v1M839 587v2M839 590v1M839 664v1M840 607v3M841 593v2M841 605v1M841 607v3M841 664v1M841 668v2M842 605v3M842 610v3M843 610v3M843 621v3M844 624v1M844 629v2M845 572v3M845 631v2M845 647v3M846 600v2M847 644v3M847 648v3M848 653v1M850 578v4M850 620v1M851 620v1M851 623v3M852 632v3M853 587v2M853 601v3M854 608v1M855 647v2M855 650v1M856 584v3M856 626v2M856 635v2M857 587v2M857 626v2M857 630v2M857 633v4M857 638v1M857 655v3M857 671v2M859 644v2M860 644v2M861 573v1M861 625v2M862 625v2M862 661v2M862 664v2M866 309v2M866 594v1M867 594v1M868 642v3M869 552v3M869 560v2M869 565v2M870 630v2M872 582v1M872 613v2M873 577v3M873 619v4M873 642v1M873 665v1M874 588v4M874 606v1M874 620v3M874 661v1M876 614v2M877 611v4M878 596v3M878 611v4M879 558v3M880 558v3M880 616v1M881 599v2M882 605v1M883 603v1M883 621v3M884 601v1M884 603v1M884 621v2M884 625v2M885 604v1M886 601v3M886 617v4M886 662v1M887 601v3M888 669v1M889 642v1M890 659v3M891 618v1M891 630v1M891 669v1M892 589v1M892 610v3M893 609v1M893 640v2M893 668v1M894 621v2M894 645v2M896 623v2M896 633v2M896 661v1M897 625v3M897 646v1M899 592v3M899 600v2M900 592v3M900 650v1M901 603v1M902 627v2M902 631v3M904 585v3M904 662v1M905 584v1M905 599v3M905 626v2M906 600v2M906 632v1M907 668v1M907 671v1M908 598v2M908 612v4M908 633v2M909 584v4M909 610v1M909 612v1M910 584v4M911 594v2M911 599v5M911 649v2M911 668v2M912 599v1M912 601v3"/>
<path stroke="#00a01e" transform="translate(.5)" d="M105 663v1M105 671v1M108 628v3M108 659v1M109 628v3M109 669v1M110 673v1M114 669v1M116 659v1M117 629v1M117 661v2M119 659v1M120 667v1M123 648v1M123 660v2M124 668v1M125 671v1M126 472v1M130 671v3M133 665v1M134 659v1M134 665v1M135 659v1M138 657v1M138 659v1M139 659v1M139 666v1M147 662v1M148 659v2M149 660v1M152 673v1M153 629v1M155 659v1M156 660v2M160 625v1M162 659v1M163 628v2M163 659v1M163 669v1M166 659v1M170 659v1M171 659v1M174 667v2M175 672v2M178 610v3M178 668v2M179 610v3M179 659v1M181 662v1M183 669v3M184 659v1M184 663v2M186 659v1M187 671v3M188 669v3M190 592v2M191 546v2M191 661v3M195 659v1M199 659v1M201 671v2M202 661v1M202 664v1M202 670v2M203 659v1M204 565v3M204 669v1M205 576v2M206 576v2M206 664v1M207 670v2M207 673v1M210 665v1M212 595v1M213 625v3M213 662v1M214 305v2M214 662v2M215 667v1M216 589v3M216 659v1M216 667v4M217 589v3M218 627v2M221 667v3M221 672v1M222 552v2M222 659v1M224 636v2M225 670v1M227 635v1M231 670v1M234 634v4M236 672v1M238 673v1M239 673v1M240 655v2M240 665v1M240 673v1M241 635v4M241 661v1M241 673v1M243 659v1M245 557v2M246 659v1M246 665v1M246 669v1M247 671v3M249 632v2M249 663v2M249 667v1M250 639v3M250 670v1M251 665v1M251 667v1M252 541v1M252 615v1M253 656v1M257 671v1M258 593v3M259 663v1M261 664v1M262 659v1M262 666v2M263 631v2M266 669v1M267 661v1M268 547v2M268 579v3M269 668v1M275 597v1M276 565v2M276 597v1M276 669v2M278 659v1M279 623v3M279 660v2M283 594v3M284 658v1M285 668v1M286 659v1M287 80v1M290 597v1M291 446v2M292 638v4M294 626v3M295 670v1M298 668v3M302 664v1M303 660v2M306 661v2M308 670v1M311 667v1M312 667v1M314 666v1M318 651v4M320 659v1M321 673v1M324 671v1M329 579v3M330 635v1M331 609v1M331 669v1M332 609v1M332 669v1M333 664v1M333 670v1M336 625v2M337 625v2M337 657v1M337 673v1M339 660v2M340 662v2M342 571v2M342 668v1M344 591v2M344 639v3M347 671v1M352 622v1M353 662v2M356 661v1M356 664v2M358 635v2M359 636v3M362 591v2M363 591v2M363 663v1M366 592v3M368 667v1M369 631v3M369 671v2M372 672v1M373 586v2M373 657v3M373 663v2M374 586v2M374 657v3M374 667v1M375 629v2M375 669v1M377 673v1M378 666v1M380 623v1M385 623v3M386 661v1M388 664v1M388 666v1M390 625v2M390 660v1M390 665v1M391 663v1M392 663v1M394 601v3M396 667v1M397 660v2M398 660v2M399 659v1M400 672v1M402 663v1M404 659v1M405 659v2M405 673v1M407 673v1M408 656v3M409 673v1M413 664v3M413 668v1M414 665v1M414 668v2M415 668v1M416 661v2M416 665v1M417 665v1M419 648v1M424 588v1M425 590v1M427 607v4M428 664v2M429 659v1M429 666v1M429 668v1M432 614v2M432 624v3M433 655v1M434 603v3M434 636v1M434 655v1M435 662v1M437 670v1M439 670v1M442 617v4M443 623v1M443 666v1M445 599v1M446 599v1M446 634v2M448 661v1M449 629v1M449 662v1M451 673v1M452 633v1M452 672v2M455 635v3M455 661v1M455 664v1M455 670v1M456 595v2M456 635v3M456 673v1M458 664v1M459 633v1M462 617v1M464 664v1M467 591v1M470 629v1M472 646v1M473 646v1M475 594v2M476 663v1M477 658v1M477 668v1M478 660v1M479 671v1M481 589v2M487 659v1M490 659v1M491 591v1M493 663v1M494 618v2M495 661v1M497 644v1M498 644v1M500 663v1M503 627v4M503 667v2M504 671v2M505 669v3M506 646v2M508 652v2M509 592v1M510 596v1M511 596v1M511 664v1M515 655v1M516 613v3M516 664v1M519 663v1M522 635v2M522 667v1M523 667v1M524 621v4M525 637v3M526 655v3M526 661v2M526 671v3M528 661v2M534 644v3M543 666v2M545 663v3M551 667v1M556 671v3M622 673v1M624 627v3M625 627v3M627 592v2M628 599v5M631 595v3M636 600v1M637 600v1M638 595v3M646 673v1M647 578v1M647 668v2M647 673v1M650 528v2M650 580v3M650 619v2M651 580v3M651 619v2M651 632v1M651 664v1M652 60v2M653 588v2M654 671v3M655 583v1M656 583v1M658 669v1M659 588v3M659 661v1M659 668v1M660 589v1M660 607v2M660 661v1M662 590v2M663 602v3M664 620v3M664 673v1M665 613v2M665 673v1M666 603v3M666 613v2M669 580v1M669 652v4M670 583v4M670 591v1M671 583v3M673 599v3M673 656v3M674 673v1M676 601v3M676 626v2M676 659v1M677 670v1M678 663v1M678 671v1M679 628v1M679 630v2M680 649v4M681 577v1M681 579v1M681 637v1M681 652v1M682 644v3M682 649v2M682 652v3M683 605v2M684 585v2M686 644v2M686 667v3M687 644v3M687 665v1M687 668v1M689 647v2M690 647v2M691 607v2M691 659v1M691 661v1M691 670v1M693 624v2M694 648v4M694 655v5M695 659v1M695 661v1M696 623v4M697 623v4M697 646v3M697 664v1M699 542v2M699 651v2M699 658v1M699 662v1M700 607v4M700 665v3M701 661v1M701 671v1M702 565v4M702 586v4M703 589v2M703 607v2M703 625v2M703 659v1M704 590v2M705 611v4M705 666v3M706 582v1M707 663v2M707 669v2M708 661v1M709 633v4M709 661v1M709 664v1M709 668v1M710 672v1M712 632v2M712 655v2M712 664v3M712 672v1M714 660v2M714 665v2M715 599v1M715 630v4M715 645v4M715 659v1M715 661v1M715 666v2M716 599v3M716 633v1M716 661v2M717 599v3M717 649v2M718 557v1M718 600v1M718 643v2M719 643v2M720 654v1M720 671v3M721 627v2M721 654v2M722 596v2M723 592v2M723 643v2M724 597v3M724 652v3M725 597v3M725 673v1M729 593v2M729 596v1M729 600v1M729 632v1M730 596v2M730 623v1M730 632v1M731 602v2M732 672v2M733 597v2M733 638v1M733 670v1M734 638v1M735 579v3M736 579v3M737 629v2M738 648v1M739 645v2M740 616v3M740 627v2M740 666v1M741 571v1M741 653v1M741 657v1M741 670v1M742 633v4M742 659v1M743 592v2M743 625v3M743 651v1M743 670v2M744 651v2M744 655v1M744 671v1M745 667v1M748 653v1M748 655v1M748 669v1M749 500v4M749 649v4M750 649v2M751 664v2M754 570v1M755 570v1M755 606v2M755 616v3M755 654v2M755 658v1M756 616v3M757 626v2M757 661v1M758 613v1M758 637v2M758 659v1M758 661v2M758 671v1M759 637v4M759 671v2M760 657v1M760 659v1M761 666v1M761 669v1M762 577v1M762 612v1M762 666v2M763 652v5M764 632v2M764 648v2M765 622v2M766 594v1M766 622v2M768 594v1M768 617v3M768 649v3M768 662v1M769 669v2M770 575v2M772 575v2M772 619v1M772 654v2M773 583v4M774 623v2M775 601v3M775 618v1M776 571v2M776 671v1M777 640v2M777 663v2M780 606v1M781 606v1M781 670v1M782 607v3M782 649v2M782 669v1M783 654v1M783 656v1M783 659v1M784 590v1M784 606v1M784 641v4M784 649v4M785 649v1M785 669v1M786 69v2M786 601v3M787 622v3M788 601v1M788 604v1M789 596v4M790 596v4M791 598v2M791 604v3M791 652v1M792 604v1M792 661v2M795 639v2M795 644v2M797 606v2M798 643v3M799 643v3M800 657v1M800 664v2M801 668v1M802 568v3M802 645v3M803 611v3M806 604v2M806 636v3M807 604v3M807 639v1M807 670v2M808 618v1M808 646v2M810 618v1M810 631v1M812 649v2M812 671v1M813 638v3M813 653v1M813 667v2M814 665v2M814 669v1M815 573v3M815 651v1M815 669v1M816 669v1M817 590v3M818 593v3M818 659v2M820 643v1M820 647v4M820 653v2M821 587v4M821 643v2M821 647v2M822 645v1M823 594v4M823 652v2M824 597v1M824 652v2M824 666v1M824 668v1M825 621v3M825 650v3M825 670v1M826 604v2M828 636v1M828 648v1M828 656v2M829 591v1M829 598v3M829 648v1M829 667v1M830 591v1M830 599v2M830 614v2M830 649v1M830 651v3M831 584v1M831 672v1M833 587v3M834 639v2M835 570v2M836 611v1M836 629v2M837 629v2M837 644v2M838 618v2M838 621v3M839 665v2M840 668v2M842 649v1M842 657v1M845 593v3M846 590v1M846 594v2M847 616v4M848 595v4M848 614v3M848 659v1M849 653v1M851 666v2M851 673v1M852 646v2M853 614v2M853 646v1M854 635v4M854 653v1M855 610v2M857 601v3M859 667v1M864 590v3M865 664v1M866 617v1M868 662v1M872 601v3M872 618v3M874 586v2M875 586v3M875 625v3M876 639v1M883 667v1M884 591v1M884 604v3M885 607v2M885 633v1M885 635v2M885 645v2M886 607v2M886 611v1M888 594v2M888 617v2M889 594v1M889 605v3M890 665v1M891 660v1M894 623v1M895 612v2M895 617v3M896 648v2M898 665v2M899 659v1M902 666v1M906 566v1M908 603v1M908 607v2M909 590v2M909 595v2M910 590v2M911 592v2M911 658v1M912 654v3"/>
<path stroke="#d42800" transform="translate(.5)" d="M157 664v1M200 660v1M222 665v2M223 666v1M239 632v1M246 311v2M250 555v3M251 664v1M275 667v3M285 667v1M285 669v1M298 673v1M304 636v2M304 661v1M309 625v3M331 660v1M337 660v1M340 660v1M341 660v1M344 660v1M347 592v3M359 660v1M360 660v1M369 660v1M374 660v1M378 660v1M380 660v1M382 660v1M385 589v2M388 660v1M396 619v1M397 619v1M406 664v1M425 660v1M429 660v1M442 660v1M446 660v1M451 660v1M459 595v3M460 120v1M460 660v1M461 660v1M464 660v1M465 660v1M473 660v1M512 616v2M541 668v1M593 349v2M661 334v2M662 624v2M663 660v1M677 660v1M682 660v1M691 660v1M695 660v1M697 660v1M708 169v1M708 658v2M714 609v2M719 660v1M733 512v2M743 586v3M746 660v1M746 665v4M751 659v1M752 595v1M753 660v1M754 660v1M754 673v1M756 660v1M759 660v1M761 660v1M762 660v1M763 660v1M765 660v1M771 635v2M774 660v1M780 650v1M788 660v1M793 635v1M797 660v1M799 660v1M810 671v2M813 662v2M823 503v1M828 612v1M831 568v3M834 597v3M843 673v1M846 669v2M848 657v1M848 673v1M849 650v1M849 656v1M849 658v1M850 650v1M851 670v1M852 656v1M852 667v1M854 659v4M856 657v1M856 669v1M857 660v2M857 664v1M858 666v1M859 659v1M859 661v1M859 672v1M861 636v2M861 654v3M861 664v1M862 651v1M862 669v3M863 669v2M863 673v1M864 637v3M864 661v1M864 667v1M864 669v1M866 654v1M866 661v2M866 664v1M867 654v1M867 658v2M868 589v3M868 657v2M868 668v1M869 639v2M869 645v1M869 656v3M869 673v1M870 650v1M870 669v1M871 664v1M871 666v1M872 664v2M873 658v1M874 664v2M874 668v1M874 671v1M875 662v1M876 647v1M876 658v1M876 670v2M877 597v2M877 673v1M878 639v1M878 647v2M878 653v1M879 647v4M879 655v1M880 649v1M880 655v1M880 666v1M880 672v2M881 642v3M881 649v3M881 653v1M881 659v1M881 666v1M881 670v2M881 673v1M882 643v2M882 662v2M882 668v1M883 643v2M883 647v1M883 651v1M884 647v4M884 664v1M884 669v2M885 660v1M886 669v1M888 670v4M889 651v1M889 673v1M890 648v2M890 667v3M890 671v1M891 645v2M891 661v1M892 666v1M893 656v1M893 658v1M894 642v2M895 642v3M895 666v1M896 658v1M896 665v1M896 668v1M896 670v2M897 647v3M897 658v1M897 672v1M898 647v1M898 655v1M898 667v1M899 639v1M899 655v1M899 666v1M899 673v1M900 641v3M900 656v1M902 634v3M902 650v2M903 647v2M903 673v1M905 652v2M905 669v1M907 672v1"/>
<path stroke="#e11000" transform="translate(.5)" d="M121 666v1M122 666v1M138 661v3M143 672v1M158 661v2M159 666v1M162 664v2M164 571v4M166 663v1M175 631v2M176 631v2M176 669v1M184 617v3M185 672v1M188 667v2M189 661v1M192 673v1M198 669v1M204 638v2M205 670v1M212 619v1M217 645v1M217 661v1M242 629v2M243 629v2M272 592v1M275 661v1M275 665v1M286 665v1M288 586v1M289 586v1M308 590v3M325 641v1M326 641v1M327 667v1M330 530v1M330 660v1M332 636v3M347 660v1M354 590v1M355 584v1M356 673v1M358 660v1M361 660v1M368 660v1M373 660v1M375 662v1M392 660v1M395 621v1M399 664v1M400 660v1M401 660v1M404 640v3M404 660v1M404 671v1M406 597v2M406 660v1M408 667v2M409 660v1M410 660v1M412 660v1M413 661v1M414 660v1M416 660v1M417 660v1M418 660v1M419 660v1M422 660v1M423 660v1M426 660v1M427 660v1M430 660v1M432 587v4M432 660v1M434 640v3M434 660v1M436 660v1M437 643v4M438 660v1M440 660v1M445 658v1M445 660v1M446 659v1M448 660v1M449 592v3M452 660v1M453 660v1M453 662v1M458 660v1M463 660v1M465 638v2M467 660v1M472 660v1M474 581v3M474 660v1M476 639v4M476 664v2M477 639v4M481 658v3M487 670v1M626 590v3M649 594v1M659 658v2M663 598v1M664 660v1M671 614v2M672 614v2M672 658v3M673 660v1M674 660v1M675 660v1M678 660v1M681 660v1M683 660v1M687 634v2M687 660v1M688 638v2M689 660v1M692 660v1M693 639v2M693 660v1M694 660v1M696 660v1M698 660v1M699 660v1M702 651v2M702 660v1M703 660v1M704 660v1M705 660v1M707 660v1M716 630v3M716 660v1M720 660v1M723 660v1M727 660v1M729 603v2M729 660v1M730 660v1M731 660v1M735 660v1M736 660v1M740 652v2M743 98v2M745 660v1M749 660v1M755 660v1M757 660v1M758 660v1M759 617v3M763 667v3M768 547v3M769 660v1M770 660v1M772 660v1M773 576v1M773 660v1M775 619v4M776 621v1M776 660v1M776 672v1M777 660v1M778 575v2M778 660v1M780 660v1M781 673v1M784 616v3M784 660v1M785 616v2M785 660v1M786 660v1M787 660v1M790 660v1M791 637v2M791 660v1M793 660v1M794 660v1M795 660v1M802 644v1M814 651v3M818 657v1M821 591v2M832 371v2M835 659v2M841 663v1M845 663v2M847 631v3M848 625v2M849 667v1M854 669v1M855 669v1M856 668v1M857 592v1M858 653v1M859 646v2M860 660v1M860 665v1M861 660v4M862 663v1M863 657v1M864 659v1M864 665v2M865 570v3M865 654v2M865 659v1M865 661v2M865 665v1M865 671v1M866 648v2M866 655v2M866 667v1M867 662v1M868 655v2M868 667v1M868 672v1M869 650v3M869 668v1M869 672v1M870 658v2M870 664v4M871 640v1M871 659v2M871 665v1M871 670v2M871 673v1M872 662v1M872 670v3M873 651v1M873 653v1M873 669v2M874 634v1M874 642v2M874 660v1M875 591v2M875 657v4M875 663v3M875 672v2M876 665v1M877 656v1M877 663v1M878 663v3M878 667v1M879 658v9M880 650v2M880 661v2M881 646v1M881 668v1M882 646v2M882 654v1M882 657v2M882 666v1M883 656v1M883 658v1M883 660v1M883 670v1M884 643v3M884 668v1M885 643v2M885 663v2M885 668v4M886 659v1M886 661v1M886 663v1M887 659v1M888 643v2M888 648v3M888 660v3M889 652v3M889 660v1M890 657v2M890 670v1M891 657v3M891 663v2M891 667v1M891 670v1M891 673v1M892 645v2M892 659v1M892 667v4M893 666v2M893 669v1M894 644v1M894 664v3M894 668v1M895 663v2M897 645v1M897 663v3M900 589v1M901 668v1M902 660v1M902 662v1M904 673v1M905 660v1M905 673v1M906 591v2M906 656v1M906 663v1M907 591v2M907 639v1M908 660v1M908 671v1M909 668v3M910 637v1M910 651v1M911 651v2M911 665v1"/>
<path stroke="#009678" transform="translate(.5)" d="M107 657v2M126 664v2M134 238v1M142 597v3M164 593v3M183 583v1M207 661v2M225 626v1M236 670v1M236 673v1M237 673v1M261 653v1M263 665v2M268 668v1M274 667v2M280 590v1M295 667v1M305 671v1M351 668v1M351 670v1M367 636v2M368 636v2M373 631v1M374 668v1M377 624v2M378 624v1M393 671v1M420 667v2M421 667v1M427 663v1M428 663v1M433 659v1M445 669v1M448 667v2M449 533v2M451 663v1M458 671v2M464 672v1M470 669v1M470 671v1M471 669v1M497 594v1M497 596v1M507 653v1M508 666v1M508 669v1M516 673v1M634 597v3M634 671v2M638 579v2M670 669v2M707 659v1M710 673v1M711 673v1M714 604v2M722 657v2M723 657v2M728 661v1M739 616v3M758 665v2M767 609v1M789 653v2M793 669v1M793 671v1M795 617v3M797 612v1M807 665v1M814 656v1M825 593v2M827 614v3M827 660v3M830 616v3M833 613v2M834 613v3M836 551v1M844 584v1M847 672v1M850 586v1M858 671v3M886 630v3M889 626v3M891 582v3M895 600v2M898 576v2M901 673v1M910 661v1M910 669v1"/>
<path stroke="#ffdc00" transform="translate(.5)" d="M106 147v2M216 573v2M236 467v1M271 558v2M276 549v2M279 349v2M282 300v1M321 503v1M324 446v2M342 124v2M371 544v2M455 557v2M460 573v2M464 394v1M465 353v2M638 326v1M658 561v2M678 513v2M686 498v2M740 555v2M858 146v2M876 343v1M901 186v2"/>
<path stroke="#eb8c00" transform="translate(.5)" d="M142 537v1M197 231v2M338 313v2M446 132v2M498 361v1M532 97v2M579 115v2M737 400v1M904 265v1"/>
<path stroke="#000050" transform="translate(.5)" d="M204 387v2M210 90v1M235 377v1M241 69v2M249 323v1M290 495v2M324 544v2M376 567v2M394 554v2M397 389v1M497 571v2M500 570v2M542 339v2M568 131v2M573 364v2M605 70v1M783 553v2M783 566v2M810 562v2M865 286v1"/>
<path stroke="#003c6e" transform="translate(.5)" d="M199 89v1M288 109v2"/>
<path stroke="#00788c" transform="translate(.5)" d="M178 259v2M389 299v2M569 369v2M790 118v2"/>
</g>
</g>
<path d="M104.6 52.9H913.5V680.1H104.6Z" fill="none" stroke="#000" stroke-width="1.35" stroke-linejoin="miter"/>
<path d="M123.5 680.1v-3.0M123.5 52.9v3.0M146.5 680.1v-3.0M146.5 52.9v3.0M168.5 680.1v-3.0M168.5 52.9v3.0M191.5 680.1v-3.0M191.5 52.9v3.0M213.5 680.1v-3.0M213.5 52.9v3.0M236.5 680.1v-5.4M236.5 52.9v5.4M258.5 680.1v-3.0M258.5 52.9v3.0M281.5 680.1v-3.0M281.5 52.9v3.0M303.5 680.1v-3.0M303.5 52.9v3.0M326.5 680.1v-3.0M326.5 52.9v3.0M348.5 680.1v-3.0M348.5 52.9v3.0M371.5 680.1v-5.4M371.5 52.9v5.4M393.5 680.1v-3.0M393.5 52.9v3.0M416.5 680.1v-3.0M416.5 52.9v3.0M438.5 680.1v-3.0M438.5 52.9v3.0M461.5 680.1v-3.0M461.5 52.9v3.0M483.5 680.1v-3.0M483.5 52.9v3.0M506.5 680.1v-5.4M506.5 52.9v5.4M528.5 680.1v-3.0M528.5 52.9v3.0M551.5 680.1v-3.0M551.5 52.9v3.0M573.5 680.1v-3.0M573.5 52.9v3.0M596.5 680.1v-3.0M596.5 52.9v3.0M618.5 680.1v-3.0M618.5 52.9v3.0M641.5 680.1v-5.4M641.5 52.9v5.4M663.5 680.1v-3.0M663.5 52.9v3.0M686.5 680.1v-3.0M686.5 52.9v3.0M708.5 680.1v-3.0M708.5 52.9v3.0M731.5 680.1v-3.0M731.5 52.9v3.0M753.5 680.1v-3.0M753.5 52.9v3.0M776.5 680.1v-5.4M776.5 52.9v5.4M798.5 680.1v-3.0M798.5 52.9v3.0M821.5 680.1v-3.0M821.5 52.9v3.0M843.5 680.1v-3.0M843.5 52.9v3.0M866.5 680.1v-3.0M866.5 52.9v3.0M888.5 680.1v-3.0M888.5 52.9v3.0M911.5 680.1v-5.4M911.5 52.9v5.4M104.6 653.5h3.8M913.5 653.5h-3.8M104.6 627.5h3.8M913.5 627.5h-3.8M104.6 601.5h3.8M913.5 601.5h-3.8M104.6 575.5h7.4M913.5 575.5h-7.4M104.6 549.5h3.8M913.5 549.5h-3.8M104.6 523.5h3.8M913.5 523.5h-3.8M104.6 496.5h3.8M913.5 496.5h-3.8M104.6 470.5h7.4M913.5 470.5h-7.4M104.6 444.5h3.8M913.5 444.5h-3.8M104.6 418.5h3.8M913.5 418.5h-3.8M104.6 392.5h3.8M913.5 392.5h-3.8M104.6 366.5h7.4M913.5 366.5h-7.4M104.6 340.5h3.8M913.5 340.5h-3.8M104.6 314.5h3.8M913.5 314.5h-3.8M104.6 288.5h3.8M913.5 288.5h-3.8M104.6 261.5h7.4M913.5 261.5h-7.4M104.6 235.5h3.8M913.5 235.5h-3.8M104.6 209.5h3.8M913.5 209.5h-3.8M104.6 183.5h3.8M913.5 183.5h-3.8M104.6 157.5h7.4M913.5 157.5h-7.4M104.6 131.5h3.8M913.5 131.5h-3.8M104.6 105.5h3.8M913.5 105.5h-3.8M104.6 79.5h3.8M913.5 79.5h-3.8" fill="none" stroke="#000" stroke-width="1.2"/>
<defs><linearGradient id="cb" x1="0" y1="128.5" x2="0" y2="605.5" gradientUnits="userSpaceOnUse"><stop offset="-0.0001" stop-color="#ffff00"/><stop offset="0.2652" stop-color="#e67800"/><stop offset="0.4061" stop-color="#d01800"/><stop offset="0.4343" stop-color="#cc0000"/><stop offset="0.4530" stop-color="#c00800"/><stop offset="0.5000" stop-color="#787000"/><stop offset="0.5610" stop-color="#009600"/><stop offset="0.6174" stop-color="#009a18"/><stop offset="0.6878" stop-color="#009a66"/><stop offset="0.7818" stop-color="#005a70"/><stop offset="0.8757" stop-color="#000050"/><stop offset="1.0001" stop-color="#000006"/></linearGradient></defs>
<rect x="923.5" y="128.5" width="25.0" height="477.0" fill="url(#cb)" stroke="#000" stroke-opacity="0.7" stroke-width="0.9"/>
<path d="M948.5 591.5h-1.6M948.5 569.5h-1.6M948.5 546.5h-1.6M948.5 524.5h-1.6M948.5 501.5h-1.6M948.5 479.5h-1.6M948.5 457.5h-1.6M948.5 434.5h-1.6M948.5 412.5h-1.6M948.5 389.5h-1.6M948.5 367.5h-1.6M948.5 345.5h-1.6M948.5 322.5h-1.6M948.5 300.5h-1.6M948.5 277.5h-1.6M948.5 255.5h-1.6M948.5 233.5h-1.6M948.5 210.5h-1.6M948.5 188.5h-1.6M948.5 165.5h-1.6M948.5 143.5h-1.6" stroke="#000" stroke-width="1" fill="none" shape-rendering="crispEdges"/>
<g style="filter:grayscale(1)" stroke="#000" stroke-width="0.22"><text x="954" y="150.0" text-anchor="start" font-size="20">10</text><text x="954" y="262.0" text-anchor="start" font-size="20">5</text><text x="954" y="374.0" text-anchor="start" font-size="20">0</text><text x="954" y="486.0" text-anchor="start" font-size="20">-5</text><text x="954" y="598.0" text-anchor="start" font-size="20">-10</text><text x="1000.9" y="366.5" text-anchor="middle" font-size="20" transform="rotate(-90 1000.9 366.5)">VELg m/s</text><text x="522.8" y="39.5" text-anchor="middle" font-size="20.05">Doppler Velocity VELg&#160;&#160; 05:01 18.08.2022 - 08:00 18.08.2022 Muenchen</text><text x="236.1" y="705" text-anchor="middle" font-size="20">05:30</text><text x="371.0" y="705" text-anchor="middle" font-size="20">06:00</text><text x="506.0" y="705" text-anchor="middle" font-size="20">06:30</text><text x="640.9" y="705" text-anchor="middle" font-size="20">07:00</text><text x="775.9" y="705" text-anchor="middle" font-size="20">07:30</text><text x="910.8" y="705" text-anchor="middle" font-size="20">08:00</text><text x="509.2" y="727" text-anchor="middle" font-size="20">Time UTC</text><text x="100.5" y="680.2" text-anchor="end" font-size="20">0</text><text x="100.5" y="582.1" text-anchor="end" font-size="20">2</text><text x="100.5" y="477.7" text-anchor="end" font-size="20">4</text><text x="100.5" y="373.2" text-anchor="end" font-size="20">6</text><text x="100.5" y="268.8" text-anchor="end" font-size="20">8</text><text x="100.5" y="164.3" text-anchor="end" font-size="20">10</text><text x="100.5" y="65.0" text-anchor="end" font-size="20">12</text><text x="62.9" y="364" text-anchor="middle" font-size="20" transform="rotate(-90 62.9 364)">Height km</text></g>
</svg>
</body></html>
